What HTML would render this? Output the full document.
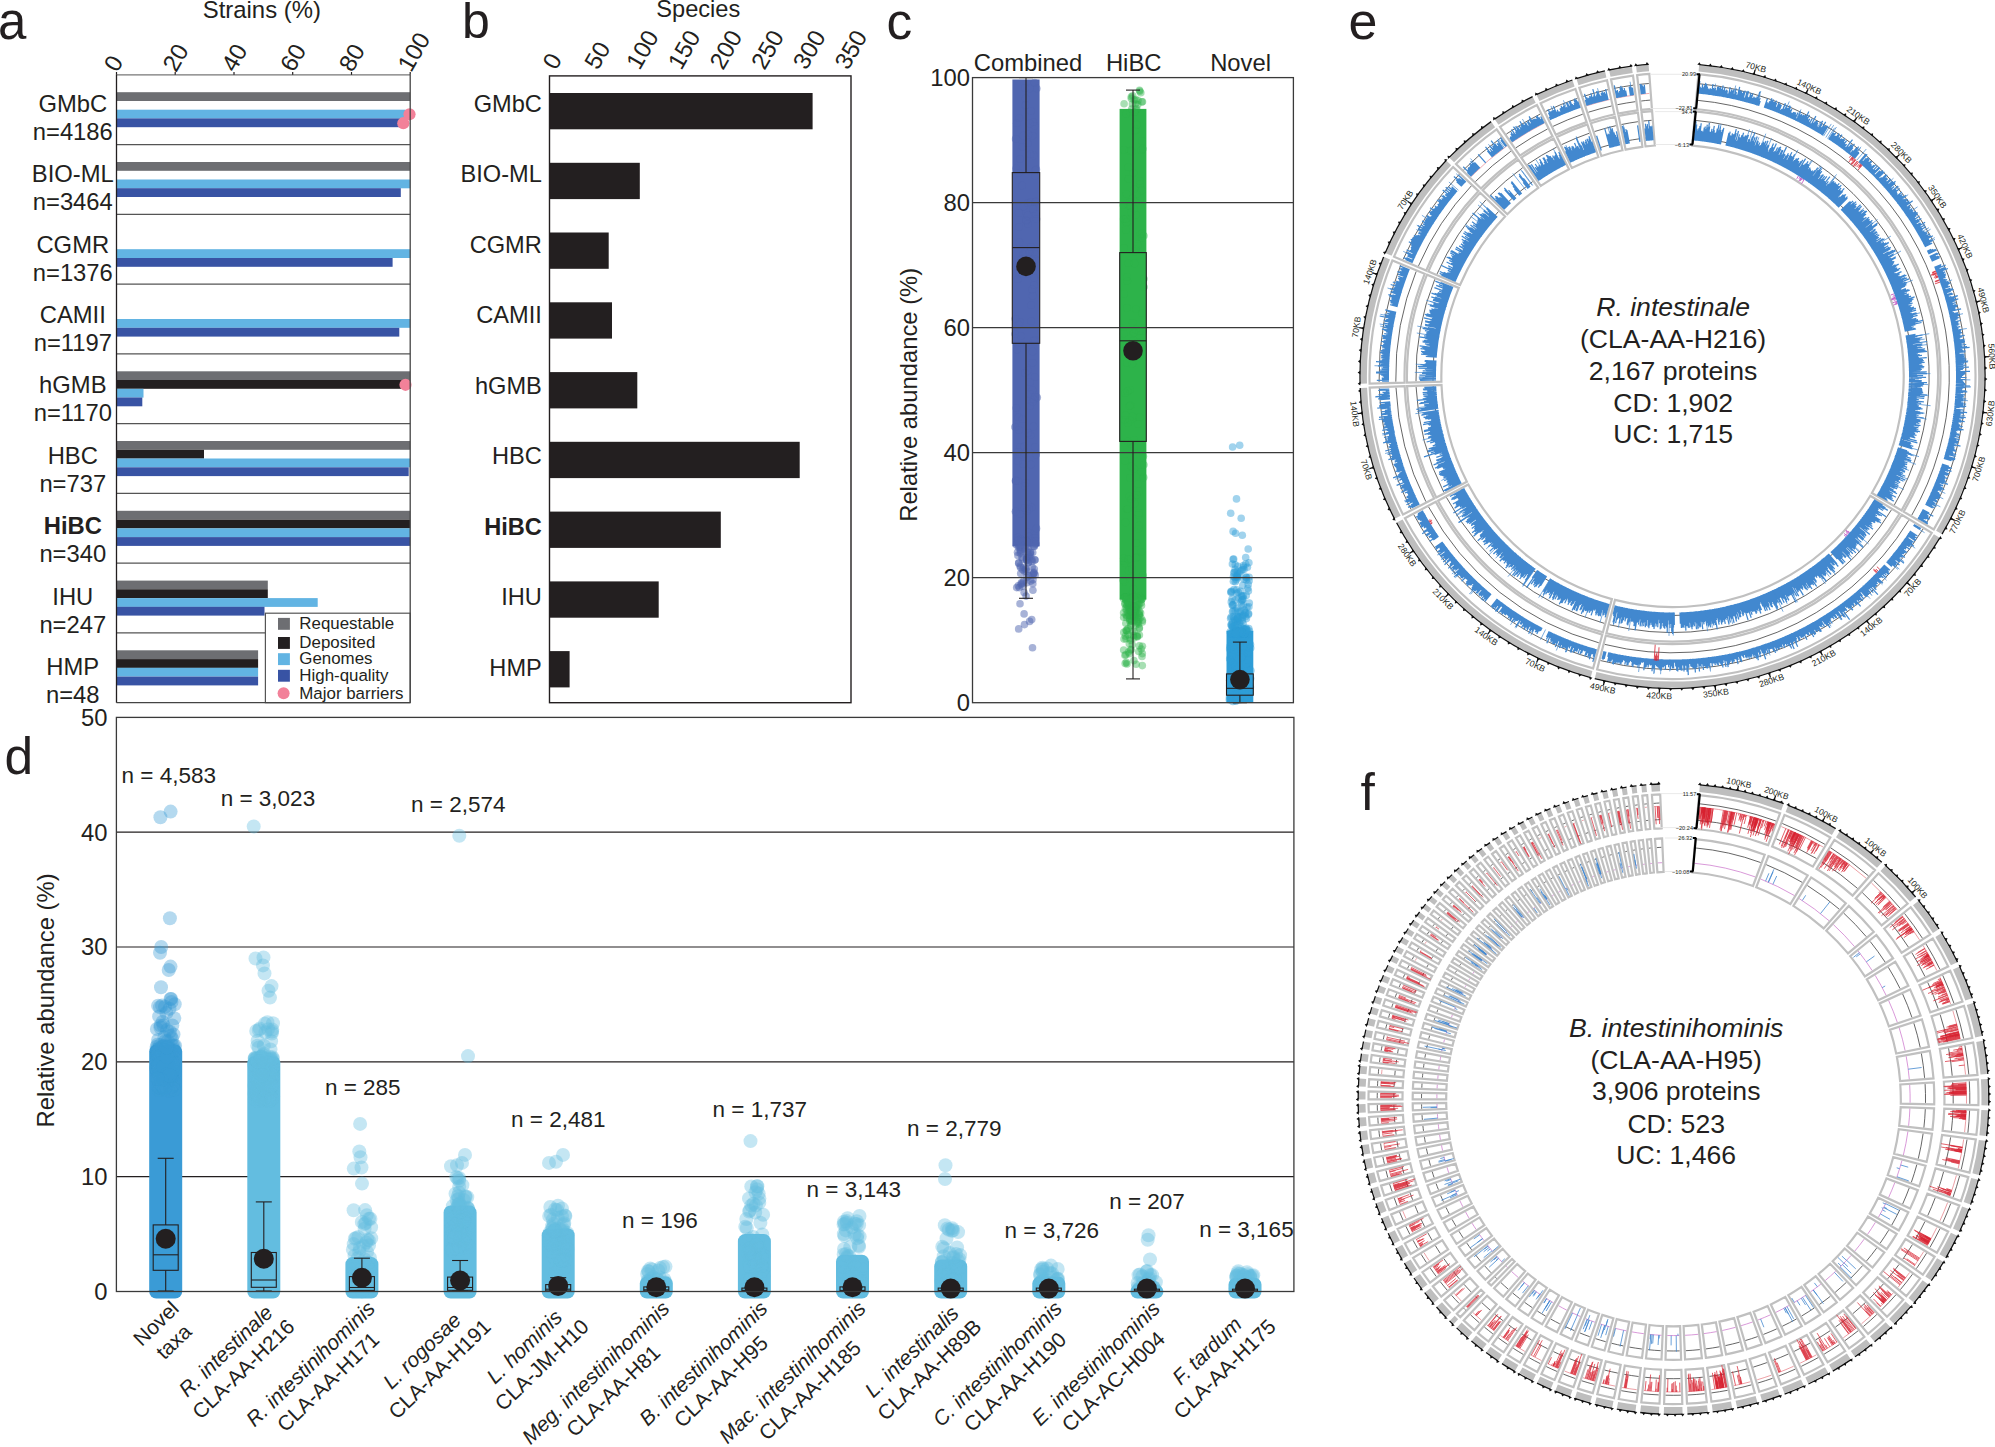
<!DOCTYPE html>
<html><head><meta charset="utf-8"><style>
html,body{margin:0;padding:0;background:#fff;}
svg{display:block;}
text{font-family:"Liberation Sans",Arial,sans-serif;fill:#231f20;}
</style></head><body>
<svg width="1995" height="1447" viewBox="0 0 1995 1447">
<text x="-2" y="38.5" font-size="51">a</text>
<text x="462" y="38.3" font-size="50">b</text>
<text x="886.5" y="38.6" font-size="51.5">c</text>
<text x="4.5" y="773.6" font-size="51.5">d</text>
<text x="1348.5" y="38.8" font-size="52">e</text>
<text x="1360.5" y="809.9" font-size="51.5">f</text>
<rect x="116.5" y="92.2" width="293.7" height="8.8" fill="#6d6e72"/>
<rect x="116.5" y="109.7" width="289" height="8.8" fill="#62b4e3"/>
<rect x="116.5" y="118.4" width="283.7" height="8.8" fill="#3853a4"/>
<rect x="116.5" y="162" width="293.7" height="8.8" fill="#6d6e72"/>
<rect x="116.5" y="179.5" width="293.7" height="8.8" fill="#62b4e3"/>
<rect x="116.5" y="188.2" width="284.3" height="8.8" fill="#3853a4"/>
<rect x="116.5" y="249.2" width="293.7" height="8.8" fill="#62b4e3"/>
<rect x="116.5" y="258" width="276.1" height="8.8" fill="#3853a4"/>
<rect x="116.5" y="319" width="293.7" height="8.8" fill="#62b4e3"/>
<rect x="116.5" y="327.8" width="282.8" height="8.8" fill="#3853a4"/>
<rect x="116.5" y="371.3" width="293.7" height="8.8" fill="#6d6e72"/>
<rect x="116.5" y="380" width="293.7" height="8.8" fill="#231f20"/>
<rect x="116.5" y="388.8" width="27" height="8.8" fill="#62b4e3"/>
<rect x="116.5" y="397.5" width="25.8" height="8.8" fill="#3853a4"/>
<rect x="116.5" y="441" width="293.7" height="8.8" fill="#6d6e72"/>
<rect x="116.5" y="449.8" width="87.5" height="8.8" fill="#231f20"/>
<rect x="116.5" y="458.5" width="293.7" height="8.8" fill="#62b4e3"/>
<rect x="116.5" y="467.3" width="292.2" height="8.8" fill="#3853a4"/>
<rect x="116.5" y="510.8" width="293.7" height="8.8" fill="#6d6e72"/>
<rect x="116.5" y="519.6" width="293.7" height="8.8" fill="#231f20"/>
<rect x="116.5" y="528.3" width="293.7" height="8.8" fill="#62b4e3"/>
<rect x="116.5" y="537.1" width="293.7" height="8.8" fill="#3853a4"/>
<rect x="116.5" y="580.6" width="151.3" height="8.8" fill="#6d6e72"/>
<rect x="116.5" y="589.3" width="151.3" height="8.8" fill="#231f20"/>
<rect x="116.5" y="598.1" width="201.2" height="8.8" fill="#62b4e3"/>
<rect x="116.5" y="606.8" width="148" height="8.8" fill="#3853a4"/>
<rect x="116.5" y="650.3" width="141.6" height="8.8" fill="#6d6e72"/>
<rect x="116.5" y="659.1" width="141.6" height="8.8" fill="#231f20"/>
<rect x="116.5" y="667.8" width="141.6" height="8.8" fill="#62b4e3"/>
<rect x="116.5" y="676.6" width="141.6" height="8.8" fill="#3853a4"/>
<circle cx="409.5" cy="114.3" r="6.1" fill="#f28199"/>
<circle cx="403.3" cy="123.2" r="6.1" fill="#f28199"/>
<circle cx="405.5" cy="384.8" r="6.1" fill="#f28199"/>
<line x1="116.5" y1="144.6" x2="410.2" y2="144.6" stroke="#555" stroke-width="1.2"/>
<line x1="116.5" y1="214.3" x2="410.2" y2="214.3" stroke="#555" stroke-width="1.2"/>
<line x1="116.5" y1="284.1" x2="410.2" y2="284.1" stroke="#555" stroke-width="1.2"/>
<line x1="116.5" y1="353.9" x2="410.2" y2="353.9" stroke="#555" stroke-width="1.2"/>
<line x1="116.5" y1="423.6" x2="410.2" y2="423.6" stroke="#555" stroke-width="1.2"/>
<line x1="116.5" y1="493.4" x2="410.2" y2="493.4" stroke="#555" stroke-width="1.2"/>
<line x1="116.5" y1="563.2" x2="410.2" y2="563.2" stroke="#555" stroke-width="1.2"/>
<line x1="116.5" y1="632.9" x2="410.2" y2="632.9" stroke="#555" stroke-width="1.2"/>
<rect x="265.4" y="613.2" width="144.8" height="89.5" fill="#fff" stroke="#555" stroke-width="1.2"/>
<rect x="278" y="617.9" width="11.9" height="11.9" fill="#6d6e72"/>
<text x="299.3" y="629" font-size="16.9">Requestable</text>
<rect x="278" y="637" width="11.9" height="11.9" fill="#231f20"/>
<text x="299.3" y="648.1" font-size="16.9">Deposited</text>
<rect x="278" y="653.2" width="11.9" height="11.9" fill="#62b4e3"/>
<text x="299.3" y="664.3" font-size="16.9">Genomes</text>
<rect x="278" y="669.8" width="11.9" height="11.9" fill="#3853a4"/>
<text x="299.3" y="680.8" font-size="16.9">High-quality</text>
<circle cx="283.6" cy="693.3" r="6" fill="#f28199"/>
<text x="299.3" y="698.6" font-size="16.9">Major barriers</text>
<line x1="116.5" y1="74.8" x2="410.2" y2="74.8" stroke="#777" stroke-width="1.3"/>
<line x1="116.5" y1="74.8" x2="116.5" y2="702.7" stroke="#231f20" stroke-width="1.3"/>
<line x1="410.2" y1="74.8" x2="410.2" y2="702.7" stroke="#444" stroke-width="1.3"/>
<line x1="116.5" y1="702.7" x2="410.2" y2="702.7" stroke="#444" stroke-width="1.3"/>
<line x1="116.5" y1="72" x2="116.5" y2="74.8" stroke="#231f20" stroke-width="1.2"/>
<text x="117.3" y="73.3" font-size="24" transform="rotate(-60 117.3 73.3)">0</text>
<line x1="175.2" y1="72" x2="175.2" y2="74.8" stroke="#231f20" stroke-width="1.2"/>
<text x="176" y="73.3" font-size="24" transform="rotate(-60 176 73.3)">20</text>
<line x1="234" y1="72" x2="234" y2="74.8" stroke="#231f20" stroke-width="1.2"/>
<text x="234.8" y="73.3" font-size="24" transform="rotate(-60 234.8 73.3)">40</text>
<line x1="292.7" y1="72" x2="292.7" y2="74.8" stroke="#231f20" stroke-width="1.2"/>
<text x="293.5" y="73.3" font-size="24" transform="rotate(-60 293.5 73.3)">60</text>
<line x1="351.5" y1="72" x2="351.5" y2="74.8" stroke="#231f20" stroke-width="1.2"/>
<text x="352.3" y="73.3" font-size="24" transform="rotate(-60 352.3 73.3)">80</text>
<line x1="410.2" y1="72" x2="410.2" y2="74.8" stroke="#231f20" stroke-width="1.2"/>
<text x="411" y="73.3" font-size="24" transform="rotate(-60 411 73.3)">100</text>
<text x="261.8" y="18.4" font-size="23.9" text-anchor="middle">Strains (%)</text>
<text x="72.8" y="111.6" font-size="23.8" text-anchor="middle">GMbC</text>
<text x="72.8" y="139.6" font-size="23.8" text-anchor="middle">n=4186</text>
<text x="72.8" y="182.1" font-size="23.8" text-anchor="middle">BIO-ML</text>
<text x="72.8" y="210.1" font-size="23.8" text-anchor="middle">n=3464</text>
<text x="72.8" y="252.5" font-size="23.8" text-anchor="middle">CGMR</text>
<text x="72.8" y="280.5" font-size="23.8" text-anchor="middle">n=1376</text>
<text x="72.8" y="323" font-size="23.8" text-anchor="middle">CAMII</text>
<text x="72.8" y="351" font-size="23.8" text-anchor="middle">n=1197</text>
<text x="72.8" y="393.4" font-size="23.8" text-anchor="middle">hGMB</text>
<text x="72.8" y="421.4" font-size="23.8" text-anchor="middle">n=1170</text>
<text x="72.8" y="463.9" font-size="23.8" text-anchor="middle">HBC</text>
<text x="72.8" y="491.9" font-size="23.8" text-anchor="middle">n=737</text>
<text x="72.8" y="534.3" font-size="23.8" text-anchor="middle" font-weight="bold">HiBC</text>
<text x="72.8" y="562.3" font-size="23.8" text-anchor="middle">n=340</text>
<text x="72.8" y="604.8" font-size="23.8" text-anchor="middle">IHU</text>
<text x="72.8" y="632.8" font-size="23.8" text-anchor="middle">n=247</text>
<text x="72.8" y="675.2" font-size="23.8" text-anchor="middle">HMP</text>
<text x="72.8" y="703.2" font-size="23.8" text-anchor="middle">n=48</text>
<rect x="549.5" y="93" width="263.1" height="36.3" fill="#231f20"/>
<rect x="549.5" y="162.8" width="90.3" height="36.3" fill="#231f20"/>
<rect x="549.5" y="232.5" width="59.2" height="36.3" fill="#231f20"/>
<rect x="549.5" y="302.3" width="62.5" height="36.3" fill="#231f20"/>
<rect x="549.5" y="372.1" width="87.8" height="36.3" fill="#231f20"/>
<rect x="549.5" y="441.8" width="250.2" height="36.3" fill="#231f20"/>
<rect x="549.5" y="511.6" width="171.3" height="36.3" fill="#231f20"/>
<rect x="549.5" y="581.4" width="109.2" height="36.3" fill="#231f20"/>
<rect x="549.5" y="651.1" width="20.1" height="36.3" fill="#231f20"/>
<rect x="549.5" y="75.9" width="301.5" height="626.8000000000001" fill="none" stroke="#231f20" stroke-width="1.4"/>
<text x="556.1" y="71" font-size="24" transform="rotate(-60 556.1 71)">0</text>
<text x="597.8" y="71" font-size="24" transform="rotate(-60 597.8 71)">50</text>
<text x="639.5" y="71" font-size="24" transform="rotate(-60 639.5 71)">100</text>
<text x="681.2" y="71" font-size="24" transform="rotate(-60 681.2 71)">150</text>
<text x="722.9" y="71" font-size="24" transform="rotate(-60 722.9 71)">200</text>
<text x="764.6" y="71" font-size="24" transform="rotate(-60 764.6 71)">250</text>
<text x="806.3" y="71" font-size="24" transform="rotate(-60 806.3 71)">300</text>
<text x="848" y="71" font-size="24" transform="rotate(-60 848 71)">350</text>
<text x="698.3" y="16.5" font-size="23.6" text-anchor="middle">Species</text>
<text x="541.8" y="111.9" font-size="23.6" text-anchor="end">GMbC</text>
<text x="541.8" y="182.4" font-size="23.6" text-anchor="end">BIO-ML</text>
<text x="541.8" y="252.8" font-size="23.6" text-anchor="end">CGMR</text>
<text x="541.8" y="323.2" font-size="23.6" text-anchor="end">CAMII</text>
<text x="541.8" y="393.7" font-size="23.6" text-anchor="end">hGMB</text>
<text x="541.8" y="464.1" font-size="23.6" text-anchor="end">HBC</text>
<text x="541.8" y="534.6" font-size="23.6" text-anchor="end" font-weight="bold">HiBC</text>
<text x="541.8" y="605.1" font-size="23.6" text-anchor="end">IHU</text>
<text x="541.8" y="675.5" font-size="23.6" text-anchor="end">HMP</text>
<rect x="1012.4" y="79.5" width="27.2" height="466.9" fill="#5066b0"/>
<g fill="#5066b0" fill-opacity="0.5"><circle cx="1020.5" cy="446.9" r="3.8"/><circle cx="1022.1" cy="185.6" r="3.8"/><circle cx="1016.3" cy="408.1" r="3.8"/><circle cx="1027.9" cy="504.3" r="3.8"/><circle cx="1028.3" cy="433" r="3.8"/><circle cx="1024.9" cy="372.9" r="3.8"/><circle cx="1025.6" cy="98.6" r="3.8"/><circle cx="1034.3" cy="278.1" r="3.8"/><circle cx="1018.2" cy="461.1" r="3.8"/><circle cx="1033.2" cy="122.2" r="3.8"/><circle cx="1019" cy="429.9" r="3.8"/><circle cx="1036" cy="201.2" r="3.8"/><circle cx="1036.2" cy="454.6" r="3.8"/><circle cx="1028.3" cy="134.5" r="3.8"/><circle cx="1017" cy="349.6" r="3.8"/><circle cx="1036.5" cy="528.4" r="3.8"/><circle cx="1030.6" cy="435.1" r="3.8"/><circle cx="1033.3" cy="426.4" r="3.8"/><circle cx="1021.3" cy="267.9" r="3.8"/><circle cx="1031" cy="464.5" r="3.8"/><circle cx="1019.9" cy="514.3" r="3.8"/><circle cx="1034" cy="285.2" r="3.8"/><circle cx="1021" cy="259.6" r="3.8"/><circle cx="1019.3" cy="118.1" r="3.8"/><circle cx="1020.8" cy="538.7" r="3.8"/><circle cx="1016" cy="338.3" r="3.8"/><circle cx="1023" cy="464.1" r="3.8"/><circle cx="1017.7" cy="279.3" r="3.8"/><circle cx="1034.9" cy="377.3" r="3.8"/><circle cx="1029.6" cy="88.6" r="3.8"/><circle cx="1027.9" cy="223.7" r="3.8"/><circle cx="1015.5" cy="480.9" r="3.8"/><circle cx="1035.3" cy="538.1" r="3.8"/><circle cx="1036.5" cy="219.1" r="3.8"/><circle cx="1029.1" cy="536.5" r="3.8"/><circle cx="1031.2" cy="321.2" r="3.8"/><circle cx="1037.3" cy="397.5" r="3.8"/><circle cx="1027" cy="511.3" r="3.8"/><circle cx="1035.1" cy="202.3" r="3.8"/><circle cx="1030.6" cy="202.2" r="3.8"/><circle cx="1035.4" cy="176" r="3.8"/><circle cx="1030.2" cy="382.1" r="3.8"/><circle cx="1034.4" cy="125.8" r="3.8"/><circle cx="1032.6" cy="351.6" r="3.8"/><circle cx="1027.6" cy="143.2" r="3.8"/><circle cx="1023.3" cy="254.6" r="3.8"/><circle cx="1028.5" cy="274.3" r="3.8"/><circle cx="1029.2" cy="509" r="3.8"/><circle cx="1034.6" cy="82.6" r="3.8"/><circle cx="1023.5" cy="206.4" r="3.8"/><circle cx="1027.8" cy="203.2" r="3.8"/><circle cx="1033.7" cy="340.7" r="3.8"/><circle cx="1031.7" cy="507.3" r="3.8"/><circle cx="1028.3" cy="532.5" r="3.8"/><circle cx="1019.9" cy="321.8" r="3.8"/><circle cx="1025.9" cy="220.3" r="3.8"/><circle cx="1035.5" cy="259.5" r="3.8"/><circle cx="1014.9" cy="427" r="3.8"/><circle cx="1030" cy="405.9" r="3.8"/><circle cx="1018.5" cy="451.8" r="3.8"/><circle cx="1029.6" cy="123.5" r="3.8"/><circle cx="1034.9" cy="340.1" r="3.8"/><circle cx="1029.8" cy="393.8" r="3.8"/><circle cx="1024.4" cy="453.7" r="3.8"/><circle cx="1035.4" cy="170.1" r="3.8"/><circle cx="1023.4" cy="135.4" r="3.8"/><circle cx="1021.8" cy="274.1" r="3.8"/><circle cx="1025.9" cy="482.8" r="3.8"/><circle cx="1033.9" cy="155.5" r="3.8"/><circle cx="1036.2" cy="214.3" r="3.8"/><circle cx="1018.5" cy="417.2" r="3.8"/><circle cx="1020.9" cy="336" r="3.8"/><circle cx="1024.1" cy="446.5" r="3.8"/><circle cx="1025.9" cy="254.2" r="3.8"/><circle cx="1033.7" cy="399.2" r="3.8"/><circle cx="1024.9" cy="87.9" r="3.8"/><circle cx="1015.4" cy="511.6" r="3.8"/><circle cx="1015.6" cy="138.9" r="3.8"/><circle cx="1027.6" cy="215.5" r="3.8"/><circle cx="1032.6" cy="402.1" r="3.8"/><circle cx="1017.8" cy="537.5" r="3.8"/><circle cx="1015.2" cy="334" r="3.8"/><circle cx="1020.1" cy="159" r="3.8"/><circle cx="1015.7" cy="480.6" r="3.8"/><circle cx="1024.8" cy="252.6" r="3.8"/><circle cx="1029.5" cy="252.3" r="3.8"/><circle cx="1036.4" cy="169.4" r="3.8"/><circle cx="1019.2" cy="226.8" r="3.8"/><circle cx="1018.7" cy="324.6" r="3.8"/><circle cx="1025.4" cy="541.4" r="3.8"/><circle cx="1018.7" cy="212.9" r="3.8"/><circle cx="1022.5" cy="419.2" r="3.8"/><circle cx="1026.5" cy="220.8" r="3.8"/><circle cx="1031.8" cy="259.5" r="3.8"/><circle cx="1032.6" cy="362.7" r="3.8"/><circle cx="1016.7" cy="123.3" r="3.8"/><circle cx="1031" cy="110.9" r="3.8"/><circle cx="1024.9" cy="485.8" r="3.8"/><circle cx="1035.3" cy="254.3" r="3.8"/><circle cx="1027.6" cy="370.5" r="3.8"/><circle cx="1032.7" cy="135.8" r="3.8"/><circle cx="1025.2" cy="105.5" r="3.8"/><circle cx="1019.3" cy="242.3" r="3.8"/><circle cx="1033.2" cy="209.3" r="3.8"/><circle cx="1030.9" cy="246.8" r="3.8"/><circle cx="1035.1" cy="446.8" r="3.8"/><circle cx="1036.8" cy="88.6" r="3.8"/><circle cx="1032.6" cy="295.7" r="3.8"/><circle cx="1035.3" cy="396.8" r="3.8"/><circle cx="1022.6" cy="146.8" r="3.8"/><circle cx="1024.7" cy="507.8" r="3.8"/><circle cx="1032.1" cy="289.5" r="3.8"/><circle cx="1015.3" cy="318.8" r="3.8"/><circle cx="1016.1" cy="168.6" r="3.8"/><circle cx="1018.6" cy="172.9" r="3.8"/><circle cx="1032.5" cy="390" r="3.8"/><circle cx="1018" cy="480.8" r="3.8"/><circle cx="1031.1" cy="305.2" r="3.8"/><circle cx="1030.3" cy="154.2" r="3.8"/><circle cx="1025.8" cy="104.8" r="3.8"/><circle cx="1034.8" cy="560" r="3.8"/><circle cx="1017.9" cy="555.4" r="3.8"/><circle cx="1020.5" cy="542.5" r="3.8"/><circle cx="1026.5" cy="559.4" r="3.8"/><circle cx="1021.9" cy="557.6" r="3.8"/><circle cx="1030.5" cy="554.3" r="3.8"/><circle cx="1028.7" cy="575.4" r="3.8"/><circle cx="1026.4" cy="557.4" r="3.8"/><circle cx="1032.7" cy="552.6" r="3.8"/><circle cx="1027.2" cy="546.7" r="3.8"/><circle cx="1022.3" cy="583.4" r="3.8"/><circle cx="1023.7" cy="567.6" r="3.8"/><circle cx="1032.8" cy="583.8" r="3.8"/><circle cx="1033.9" cy="546.2" r="3.8"/><circle cx="1020.3" cy="550.2" r="3.8"/><circle cx="1032.9" cy="590.3" r="3.8"/><circle cx="1035.2" cy="540.7" r="3.8"/><circle cx="1026.5" cy="541.2" r="3.8"/><circle cx="1027.4" cy="551.7" r="3.8"/><circle cx="1020.1" cy="553.2" r="3.8"/><circle cx="1026.7" cy="577.5" r="3.8"/><circle cx="1026.1" cy="596.1" r="3.8"/><circle cx="1028.1" cy="556.7" r="3.8"/><circle cx="1016.7" cy="587.6" r="3.8"/><circle cx="1035.2" cy="574.9" r="3.8"/><circle cx="1026.3" cy="571.4" r="3.8"/><circle cx="1024.1" cy="592.5" r="3.8"/><circle cx="1031.9" cy="559.5" r="3.8"/><circle cx="1027.2" cy="560.6" r="3.8"/><circle cx="1025.8" cy="545.1" r="3.8"/><circle cx="1029.7" cy="557.1" r="3.8"/><circle cx="1017.5" cy="552.2" r="3.8"/><circle cx="1026.8" cy="557.9" r="3.8"/><circle cx="1024.3" cy="551.4" r="3.8"/><circle cx="1035" cy="559.8" r="3.8"/><circle cx="1034.3" cy="569.1" r="3.8"/><circle cx="1021.5" cy="540.2" r="3.8"/><circle cx="1025.5" cy="540.3" r="3.8"/><circle cx="1018.7" cy="545.2" r="3.8"/><circle cx="1024.7" cy="549.7" r="3.8"/><circle cx="1032.2" cy="567" r="3.8"/><circle cx="1033.9" cy="572.2" r="3.8"/><circle cx="1025.5" cy="568.5" r="3.8"/><circle cx="1022.4" cy="586.2" r="3.8"/><circle cx="1020" cy="547.7" r="3.8"/><circle cx="1028.3" cy="562.5" r="3.8"/><circle cx="1034.3" cy="545" r="3.8"/><circle cx="1018.7" cy="563.2" r="3.8"/><circle cx="1031.5" cy="541.4" r="3.8"/><circle cx="1016.6" cy="544.9" r="3.8"/><circle cx="1020" cy="603.7" r="3.8"/><circle cx="1020.7" cy="573.5" r="3.8"/><circle cx="1029.7" cy="542.9" r="3.8"/><circle cx="1022.5" cy="559.2" r="3.8"/><circle cx="1023.2" cy="540.8" r="3.8"/><circle cx="1028.3" cy="562.7" r="3.8"/><circle cx="1018.3" cy="585.8" r="3.8"/><circle cx="1030.5" cy="552.6" r="3.8"/><circle cx="1018.6" cy="547.2" r="3.8"/><circle cx="1026.2" cy="569.6" r="3.8"/><circle cx="1021.1" cy="584.2" r="3.8"/><circle cx="1020.1" cy="566" r="3.8"/><circle cx="1026.6" cy="541.3" r="3.8"/><circle cx="1024.8" cy="547.9" r="3.8"/><circle cx="1023.6" cy="581" r="3.8"/><circle cx="1024.3" cy="571.1" r="3.8"/><circle cx="1026.6" cy="582.7" r="3.8"/><circle cx="1019.3" cy="587.6" r="3.8"/><circle cx="1020.2" cy="546.6" r="3.8"/><circle cx="1028.6" cy="575.9" r="3.8"/><circle cx="1028.7" cy="555.4" r="3.8"/><circle cx="1026.6" cy="560.3" r="3.8"/><circle cx="1032.9" cy="574.9" r="3.8"/><circle cx="1028.2" cy="548.9" r="3.8"/><circle cx="1033" cy="579.8" r="3.8"/><circle cx="1020.8" cy="552.1" r="3.8"/><circle cx="1030.7" cy="581.1" r="3.8"/><circle cx="1032.1" cy="561.5" r="3.8"/><circle cx="1033.9" cy="573.3" r="3.8"/><circle cx="1022.4" cy="569.6" r="3.8"/><circle cx="1022.4" cy="541" r="3.8"/><circle cx="1034.3" cy="546.4" r="3.8"/><circle cx="1020.5" cy="567.6" r="3.8"/><circle cx="1035.8" cy="543.7" r="3.8"/><circle cx="1033.6" cy="573.5" r="3.8"/><circle cx="1018.8" cy="562.8" r="3.8"/><circle cx="1020.9" cy="544.7" r="3.8"/><circle cx="1030.4" cy="552.2" r="3.8"/><circle cx="1021.3" cy="582.7" r="3.8"/><circle cx="1018.1" cy="540.5" r="3.8"/><circle cx="1032.5" cy="647.7" r="3.8"/><circle cx="1024.5" cy="624.6" r="3.8"/><circle cx="1031.7" cy="619.6" r="3.8"/><circle cx="1018.7" cy="628.9" r="3.8"/><circle cx="1024.1" cy="613.9" r="3.8"/><circle cx="1029.6" cy="621.4" r="3.8"/></g>
<rect x="1119.6" y="108.9" width="26.8" height="490.7" fill="#2db34a"/>
<g fill="#2db34a" fill-opacity="0.42"><circle cx="1135.8" cy="214.7" r="3.8"/><circle cx="1127.9" cy="423.3" r="3.8"/><circle cx="1134.4" cy="263.4" r="3.8"/><circle cx="1136" cy="309.2" r="3.8"/><circle cx="1126.1" cy="229.9" r="3.8"/><circle cx="1143.7" cy="477.4" r="3.8"/><circle cx="1141.4" cy="150.2" r="3.8"/><circle cx="1123.2" cy="580.2" r="3.8"/><circle cx="1131.3" cy="466.6" r="3.8"/><circle cx="1124.2" cy="293.7" r="3.8"/><circle cx="1123.5" cy="333.8" r="3.8"/><circle cx="1136.9" cy="557.1" r="3.8"/><circle cx="1135.9" cy="329.4" r="3.8"/><circle cx="1132.5" cy="416.4" r="3.8"/><circle cx="1129.5" cy="496.2" r="3.8"/><circle cx="1140.5" cy="234.1" r="3.8"/><circle cx="1124.5" cy="563.1" r="3.8"/><circle cx="1135.8" cy="202.5" r="3.8"/><circle cx="1126.6" cy="222.3" r="3.8"/><circle cx="1127.6" cy="391.3" r="3.8"/><circle cx="1130.1" cy="202.1" r="3.8"/><circle cx="1143.9" cy="278.8" r="3.8"/><circle cx="1134.1" cy="439.9" r="3.8"/><circle cx="1142.4" cy="233.4" r="3.8"/><circle cx="1130.1" cy="389.7" r="3.8"/><circle cx="1141.3" cy="552" r="3.8"/><circle cx="1123.7" cy="561" r="3.8"/><circle cx="1132.7" cy="322.7" r="3.8"/><circle cx="1128.5" cy="263.3" r="3.8"/><circle cx="1123.6" cy="219" r="3.8"/><circle cx="1136.6" cy="494.9" r="3.8"/><circle cx="1128.6" cy="559.5" r="3.8"/><circle cx="1137.3" cy="243.8" r="3.8"/><circle cx="1125.1" cy="460.7" r="3.8"/><circle cx="1138" cy="424" r="3.8"/><circle cx="1124.5" cy="419.8" r="3.8"/><circle cx="1134.5" cy="251.5" r="3.8"/><circle cx="1142.8" cy="148.8" r="3.8"/><circle cx="1131.6" cy="151.4" r="3.8"/><circle cx="1128.7" cy="205.5" r="3.8"/><circle cx="1130.8" cy="443.7" r="3.8"/><circle cx="1141.8" cy="140.9" r="3.8"/><circle cx="1129.9" cy="477.7" r="3.8"/><circle cx="1130" cy="420.2" r="3.8"/><circle cx="1130.5" cy="405.4" r="3.8"/><circle cx="1134.4" cy="503.9" r="3.8"/><circle cx="1133.9" cy="208.4" r="3.8"/><circle cx="1134.4" cy="189.1" r="3.8"/><circle cx="1138.8" cy="512.9" r="3.8"/><circle cx="1128.1" cy="167.3" r="3.8"/><circle cx="1133.3" cy="588.7" r="3.8"/><circle cx="1134.5" cy="332.5" r="3.8"/><circle cx="1136.4" cy="125.3" r="3.8"/><circle cx="1123.3" cy="204.9" r="3.8"/><circle cx="1139.4" cy="331.2" r="3.8"/><circle cx="1123.7" cy="558.3" r="3.8"/><circle cx="1141.9" cy="237.9" r="3.8"/><circle cx="1136" cy="558" r="3.8"/><circle cx="1138.5" cy="529" r="3.8"/><circle cx="1127.3" cy="281.1" r="3.8"/><circle cx="1138.9" cy="491.4" r="3.8"/><circle cx="1138.9" cy="343.6" r="3.8"/><circle cx="1129.4" cy="406" r="3.8"/><circle cx="1136.8" cy="124.4" r="3.8"/><circle cx="1133.8" cy="357.3" r="3.8"/><circle cx="1137.6" cy="245.8" r="3.8"/><circle cx="1131" cy="150.6" r="3.8"/><circle cx="1136.7" cy="194.1" r="3.8"/><circle cx="1139.8" cy="180.7" r="3.8"/><circle cx="1141.6" cy="190.4" r="3.8"/><circle cx="1136.1" cy="129.6" r="3.8"/><circle cx="1137.7" cy="342.5" r="3.8"/><circle cx="1131.3" cy="205.9" r="3.8"/><circle cx="1125.1" cy="393.2" r="3.8"/><circle cx="1143.9" cy="235.8" r="3.8"/><circle cx="1125.6" cy="415.3" r="3.8"/><circle cx="1131.3" cy="499.3" r="3.8"/><circle cx="1143.4" cy="456.3" r="3.8"/><circle cx="1128.7" cy="570.5" r="3.8"/><circle cx="1136.3" cy="543.2" r="3.8"/><circle cx="1125.9" cy="218.8" r="3.8"/><circle cx="1132.1" cy="569" r="3.8"/><circle cx="1142.1" cy="313" r="3.8"/><circle cx="1124.3" cy="581.7" r="3.8"/><circle cx="1126.7" cy="509" r="3.8"/><circle cx="1137.8" cy="484" r="3.8"/><circle cx="1126.9" cy="307.7" r="3.8"/><circle cx="1128.1" cy="508.8" r="3.8"/><circle cx="1138.7" cy="514.9" r="3.8"/><circle cx="1134.1" cy="446.6" r="3.8"/><circle cx="1132.5" cy="198.6" r="3.8"/><circle cx="1141.6" cy="471.7" r="3.8"/><circle cx="1129.5" cy="150.9" r="3.8"/><circle cx="1143.2" cy="331" r="3.8"/><circle cx="1126.8" cy="362.7" r="3.8"/><circle cx="1143" cy="575.2" r="3.8"/><circle cx="1130.4" cy="206.3" r="3.8"/><circle cx="1133.4" cy="340.7" r="3.8"/><circle cx="1143.9" cy="464.8" r="3.8"/><circle cx="1127.2" cy="276.9" r="3.8"/><circle cx="1132.4" cy="594.2" r="3.8"/><circle cx="1139.6" cy="417.2" r="3.8"/><circle cx="1135.4" cy="249.5" r="3.8"/><circle cx="1125.4" cy="522.4" r="3.8"/><circle cx="1127.6" cy="441.6" r="3.8"/><circle cx="1133.4" cy="173" r="3.8"/><circle cx="1144" cy="287" r="3.8"/><circle cx="1133.8" cy="468.8" r="3.8"/><circle cx="1139" cy="525.6" r="3.8"/><circle cx="1140.1" cy="598.9" r="3.8"/><circle cx="1140.2" cy="184.3" r="3.8"/><circle cx="1127.9" cy="559.1" r="3.8"/><circle cx="1124" cy="248" r="3.8"/><circle cx="1132.3" cy="364" r="3.8"/><circle cx="1134.9" cy="130.7" r="3.8"/><circle cx="1128.6" cy="178.9" r="3.8"/><circle cx="1131.2" cy="212.2" r="3.8"/><circle cx="1123.9" cy="149.7" r="3.8"/><circle cx="1126.5" cy="194.1" r="3.8"/><circle cx="1133.6" cy="332.9" r="3.8"/><circle cx="1126.4" cy="662.4" r="3.8"/><circle cx="1139.4" cy="635" r="3.8"/><circle cx="1129.4" cy="607.9" r="3.8"/><circle cx="1129.4" cy="599.4" r="3.8"/><circle cx="1124.9" cy="597.5" r="3.8"/><circle cx="1129.3" cy="643.7" r="3.8"/><circle cx="1132.4" cy="615.8" r="3.8"/><circle cx="1137.1" cy="604.9" r="3.8"/><circle cx="1130.3" cy="615.9" r="3.8"/><circle cx="1136.6" cy="607.7" r="3.8"/><circle cx="1125.4" cy="636.1" r="3.8"/><circle cx="1131" cy="650" r="3.8"/><circle cx="1132.3" cy="644.8" r="3.8"/><circle cx="1142" cy="656.5" r="3.8"/><circle cx="1139.3" cy="613.6" r="3.8"/><circle cx="1136" cy="615.3" r="3.8"/><circle cx="1123.6" cy="612.8" r="3.8"/><circle cx="1130.6" cy="640.2" r="3.8"/><circle cx="1137" cy="636.5" r="3.8"/><circle cx="1128" cy="634.8" r="3.8"/><circle cx="1134.2" cy="601.9" r="3.8"/><circle cx="1132.2" cy="596.7" r="3.8"/><circle cx="1123.6" cy="598.8" r="3.8"/><circle cx="1142.4" cy="646.3" r="3.8"/><circle cx="1138.7" cy="651.5" r="3.8"/><circle cx="1127.4" cy="598" r="3.8"/><circle cx="1135.2" cy="618" r="3.8"/><circle cx="1129" cy="604.6" r="3.8"/><circle cx="1130.6" cy="625.7" r="3.8"/><circle cx="1133.8" cy="617.7" r="3.8"/><circle cx="1129.1" cy="615.3" r="3.8"/><circle cx="1129.9" cy="619.6" r="3.8"/><circle cx="1130.9" cy="611.3" r="3.8"/><circle cx="1136.2" cy="664.3" r="3.8"/><circle cx="1128.3" cy="607.1" r="3.8"/><circle cx="1127.2" cy="601.7" r="3.8"/><circle cx="1137.4" cy="636.8" r="3.8"/><circle cx="1129.7" cy="618.4" r="3.8"/><circle cx="1141.5" cy="605.6" r="3.8"/><circle cx="1134.2" cy="621" r="3.8"/><circle cx="1137.3" cy="635.5" r="3.8"/><circle cx="1129.8" cy="638.3" r="3.8"/><circle cx="1139.3" cy="615.4" r="3.8"/><circle cx="1125.2" cy="663.4" r="3.8"/><circle cx="1126.1" cy="600" r="3.8"/><circle cx="1125.2" cy="603.3" r="3.8"/><circle cx="1136.4" cy="607" r="3.8"/><circle cx="1137" cy="601.1" r="3.8"/><circle cx="1126.9" cy="610.1" r="3.8"/><circle cx="1131.1" cy="621.1" r="3.8"/><circle cx="1139.5" cy="611.4" r="3.8"/><circle cx="1134.8" cy="615.8" r="3.8"/><circle cx="1125.1" cy="597" r="3.8"/><circle cx="1127.8" cy="603.1" r="3.8"/><circle cx="1126.4" cy="630.4" r="3.8"/><circle cx="1125.8" cy="599.4" r="3.8"/><circle cx="1131.2" cy="605.4" r="3.8"/><circle cx="1124.8" cy="604.1" r="3.8"/><circle cx="1141.1" cy="602.8" r="3.8"/><circle cx="1131.6" cy="621" r="3.8"/><circle cx="1133.2" cy="599.9" r="3.8"/><circle cx="1135.8" cy="600.5" r="3.8"/><circle cx="1138.1" cy="607.4" r="3.8"/><circle cx="1139.2" cy="604.5" r="3.8"/><circle cx="1130.8" cy="604.6" r="3.8"/><circle cx="1129.8" cy="621" r="3.8"/><circle cx="1131.3" cy="606.3" r="3.8"/><circle cx="1123.7" cy="650" r="3.8"/><circle cx="1131.1" cy="624.8" r="3.8"/><circle cx="1136.8" cy="617.6" r="3.8"/><circle cx="1142.3" cy="665.6" r="3.8"/><circle cx="1138.6" cy="623.9" r="3.8"/><circle cx="1136.1" cy="609.7" r="3.8"/><circle cx="1135.1" cy="610.3" r="3.8"/><circle cx="1123.8" cy="632.4" r="3.8"/><circle cx="1129.8" cy="598.2" r="3.8"/><circle cx="1130" cy="608.6" r="3.8"/><circle cx="1135.9" cy="625" r="3.8"/><circle cx="1125.4" cy="608.8" r="3.8"/><circle cx="1130.7" cy="612.7" r="3.8"/><circle cx="1133.2" cy="614.4" r="3.8"/><circle cx="1138.5" cy="621.9" r="3.8"/><circle cx="1139.2" cy="596.4" r="3.8"/><circle cx="1135.1" cy="609.5" r="3.8"/><circle cx="1126.4" cy="607.1" r="3.8"/><circle cx="1138.1" cy="604.8" r="3.8"/><circle cx="1140.7" cy="597.1" r="3.8"/><circle cx="1133.9" cy="660.6" r="3.8"/><circle cx="1130.2" cy="610.7" r="3.8"/><circle cx="1133" cy="605.6" r="3.8"/><circle cx="1126.1" cy="630.6" r="3.8"/><circle cx="1137.1" cy="621.2" r="3.8"/><circle cx="1142.3" cy="653.6" r="3.8"/><circle cx="1133.3" cy="635.5" r="3.8"/><circle cx="1137.1" cy="622.7" r="3.8"/><circle cx="1139.4" cy="645.9" r="3.8"/><circle cx="1127.2" cy="631" r="3.8"/><circle cx="1141.5" cy="599.6" r="3.8"/><circle cx="1135.4" cy="613.6" r="3.8"/><circle cx="1127.2" cy="615.7" r="3.8"/><circle cx="1125" cy="597.5" r="3.8"/><circle cx="1128.1" cy="612.8" r="3.8"/><circle cx="1134.5" cy="596.6" r="3.8"/><circle cx="1136.8" cy="609.7" r="3.8"/><circle cx="1129.7" cy="603" r="3.8"/><circle cx="1141.2" cy="649.1" r="3.8"/><circle cx="1130.3" cy="611.5" r="3.8"/><circle cx="1132.3" cy="604.9" r="3.8"/><circle cx="1125.8" cy="654.8" r="3.8"/><circle cx="1142.1" cy="598.7" r="3.8"/><circle cx="1126" cy="638.8" r="3.8"/><circle cx="1140.8" cy="617.5" r="3.8"/><circle cx="1133.8" cy="637.9" r="3.8"/><circle cx="1134.2" cy="616.3" r="3.8"/><circle cx="1134.2" cy="610.9" r="3.8"/><circle cx="1128.5" cy="652.1" r="3.8"/><circle cx="1140.9" cy="598.2" r="3.8"/><circle cx="1142.4" cy="620.2" r="3.8"/><circle cx="1139.1" cy="614.7" r="3.8"/><circle cx="1134.9" cy="611.5" r="3.8"/><circle cx="1125.8" cy="623.3" r="3.8"/><circle cx="1139.2" cy="628.5" r="3.8"/><circle cx="1128.9" cy="609" r="3.8"/><circle cx="1140.6" cy="613.1" r="3.8"/><circle cx="1128" cy="628.6" r="3.8"/><circle cx="1134.4" cy="606.5" r="3.8"/><circle cx="1139.4" cy="627.7" r="3.8"/><circle cx="1127" cy="664" r="3.8"/><circle cx="1133.9" cy="631.4" r="3.8"/><circle cx="1124.9" cy="655.3" r="3.8"/><circle cx="1124" cy="639.1" r="3.8"/><circle cx="1126.9" cy="605" r="3.8"/><circle cx="1142.4" cy="621.9" r="3.8"/><circle cx="1141.4" cy="599.8" r="3.8"/><circle cx="1136" cy="605.3" r="3.8"/><circle cx="1129.3" cy="653.7" r="3.8"/><circle cx="1136.3" cy="596.8" r="3.8"/><circle cx="1137.6" cy="598.3" r="3.8"/><circle cx="1130.7" cy="649.5" r="3.8"/><circle cx="1134.8" cy="599.6" r="3.8"/><circle cx="1138.8" cy="619.7" r="3.8"/><circle cx="1123.7" cy="617.2" r="3.8"/><circle cx="1127.2" cy="597.3" r="3.8"/><circle cx="1132.4" cy="631.5" r="3.8"/><circle cx="1126.1" cy="614.9" r="3.8"/><circle cx="1130.8" cy="598.5" r="3.8"/><circle cx="1134.3" cy="606.3" r="3.8"/><circle cx="1126.7" cy="617.6" r="3.8"/><circle cx="1133.4" cy="597.1" r="3.8"/><circle cx="1128.5" cy="602.7" r="3.8"/><circle cx="1134.3" cy="100" r="3.8"/><circle cx="1129.8" cy="112.2" r="3.8"/><circle cx="1135.7" cy="99.5" r="3.8"/><circle cx="1124.1" cy="103.7" r="3.8"/><circle cx="1136.3" cy="110" r="3.8"/><circle cx="1126.2" cy="113.8" r="3.8"/><circle cx="1141.8" cy="101.9" r="3.8"/><circle cx="1134.9" cy="112" r="3.8"/><circle cx="1132.4" cy="104" r="3.8"/><circle cx="1131.3" cy="98.4" r="3.8"/><circle cx="1135.4" cy="103.7" r="3.8"/><circle cx="1136.6" cy="108.6" r="3.8"/><circle cx="1138" cy="100.5" r="3.8"/><circle cx="1137.8" cy="104.6" r="3.8"/><circle cx="1132.7" cy="95.7" r="3.8"/><circle cx="1142.5" cy="101.8" r="3.8"/><circle cx="1139.5" cy="90.2" r="3.8"/><circle cx="1139.8" cy="91.3" r="3.8"/><circle cx="1131.3" cy="96.7" r="3.8"/><circle cx="1131.7" cy="109.1" r="3.8"/><circle cx="1134.3" cy="112.3" r="3.8"/><circle cx="1140.8" cy="92.8" r="3.8"/></g>
<rect x="1226.5" y="630.8" width="26.8" height="71.9" fill="#2e9dd7"/>
<g fill="#2e9dd7" fill-opacity="0.45"><circle cx="1241.4" cy="637.5" r="3.8"/><circle cx="1246.4" cy="663.6" r="3.8"/><circle cx="1232" cy="685.6" r="3.8"/><circle cx="1229.7" cy="680.3" r="3.8"/><circle cx="1242.6" cy="680.1" r="3.8"/><circle cx="1234.7" cy="664.9" r="3.8"/><circle cx="1230.7" cy="660.4" r="3.8"/><circle cx="1232.6" cy="643.7" r="3.8"/><circle cx="1232.3" cy="684.4" r="3.8"/><circle cx="1247.3" cy="653.1" r="3.8"/><circle cx="1230.1" cy="646.1" r="3.8"/><circle cx="1236.9" cy="673.2" r="3.8"/><circle cx="1250.4" cy="687.1" r="3.8"/><circle cx="1239.7" cy="699.7" r="3.8"/><circle cx="1250.7" cy="648" r="3.8"/><circle cx="1238.9" cy="692.3" r="3.8"/><circle cx="1229.7" cy="649.1" r="3.8"/><circle cx="1248.6" cy="685.4" r="3.8"/><circle cx="1237.5" cy="692.5" r="3.8"/><circle cx="1238.2" cy="681.3" r="3.8"/><circle cx="1229.5" cy="697.2" r="3.8"/><circle cx="1245.8" cy="631.1" r="3.8"/><circle cx="1233.9" cy="649.9" r="3.8"/><circle cx="1241.1" cy="684.5" r="3.8"/><circle cx="1239" cy="685.3" r="3.8"/><circle cx="1236.9" cy="635.7" r="3.8"/><circle cx="1250.6" cy="678.5" r="3.8"/><circle cx="1229.7" cy="658.8" r="3.8"/><circle cx="1243.2" cy="673.7" r="3.8"/><circle cx="1236.4" cy="698.5" r="3.8"/><circle cx="1248" cy="652.8" r="3.8"/><circle cx="1248.5" cy="660.2" r="3.8"/><circle cx="1237.5" cy="669.4" r="3.8"/><circle cx="1237.3" cy="642.1" r="3.8"/><circle cx="1233.6" cy="646.5" r="3.8"/><circle cx="1232.9" cy="677.7" r="3.8"/><circle cx="1232.4" cy="663.2" r="3.8"/><circle cx="1233.5" cy="688.1" r="3.8"/><circle cx="1235.6" cy="669.1" r="3.8"/><circle cx="1250.9" cy="670.6" r="3.8"/><circle cx="1248" cy="653.9" r="3.8"/><circle cx="1237.3" cy="688" r="3.8"/><circle cx="1244.2" cy="697.5" r="3.8"/><circle cx="1234.9" cy="676.6" r="3.8"/><circle cx="1232.8" cy="701.4" r="3.8"/><circle cx="1237.5" cy="683.8" r="3.8"/><circle cx="1244.7" cy="636.3" r="3.8"/><circle cx="1236.8" cy="683.4" r="3.8"/><circle cx="1249.6" cy="691.7" r="3.8"/><circle cx="1245.8" cy="676.8" r="3.8"/><circle cx="1249" cy="650.7" r="3.8"/><circle cx="1235.9" cy="701.2" r="3.8"/><circle cx="1230.6" cy="675.1" r="3.8"/><circle cx="1236" cy="639.3" r="3.8"/><circle cx="1240.3" cy="647.3" r="3.8"/><circle cx="1237.5" cy="698.8" r="3.8"/><circle cx="1229.7" cy="685.6" r="3.8"/><circle cx="1242" cy="691.9" r="3.8"/><circle cx="1235.7" cy="700.4" r="3.8"/><circle cx="1240.9" cy="672.2" r="3.8"/><circle cx="1244.5" cy="692.9" r="3.8"/><circle cx="1244.9" cy="684" r="3.8"/><circle cx="1232.1" cy="654.8" r="3.8"/><circle cx="1235" cy="688" r="3.8"/><circle cx="1237.8" cy="651.5" r="3.8"/><circle cx="1248" cy="674.9" r="3.8"/><circle cx="1235.3" cy="686.5" r="3.8"/><circle cx="1233.6" cy="677.9" r="3.8"/><circle cx="1229.3" cy="699.8" r="3.8"/><circle cx="1241.4" cy="657.4" r="3.8"/><circle cx="1250.5" cy="644.6" r="3.8"/><circle cx="1243.7" cy="681.3" r="3.8"/><circle cx="1233.6" cy="636.6" r="3.8"/><circle cx="1243.6" cy="653.2" r="3.8"/><circle cx="1248.1" cy="634" r="3.8"/><circle cx="1242.8" cy="685.8" r="3.8"/><circle cx="1238.3" cy="696.2" r="3.8"/><circle cx="1230.1" cy="674.5" r="3.8"/><circle cx="1236.1" cy="675.1" r="3.8"/><circle cx="1235" cy="667" r="3.8"/><circle cx="1233.3" cy="616.7" r="3.8"/><circle cx="1238" cy="616.8" r="3.8"/><circle cx="1239.4" cy="622.8" r="3.8"/><circle cx="1233.5" cy="576.5" r="3.8"/><circle cx="1243.1" cy="628.2" r="3.8"/><circle cx="1234.9" cy="633.8" r="3.8"/><circle cx="1232.1" cy="598.7" r="3.8"/><circle cx="1236.9" cy="577" r="3.8"/><circle cx="1238.4" cy="598" r="3.8"/><circle cx="1233.2" cy="611" r="3.8"/><circle cx="1241.5" cy="595.8" r="3.8"/><circle cx="1243.8" cy="628.8" r="3.8"/><circle cx="1240.9" cy="611.4" r="3.8"/><circle cx="1243.7" cy="633.7" r="3.8"/><circle cx="1230.7" cy="633.2" r="3.8"/><circle cx="1237.8" cy="621.9" r="3.8"/><circle cx="1237.3" cy="618.4" r="3.8"/><circle cx="1231.5" cy="624.7" r="3.8"/><circle cx="1238.1" cy="633.8" r="3.8"/><circle cx="1231.3" cy="601.9" r="3.8"/><circle cx="1239.8" cy="616.7" r="3.8"/><circle cx="1241.5" cy="630.9" r="3.8"/><circle cx="1239.3" cy="628.8" r="3.8"/><circle cx="1236.6" cy="624.8" r="3.8"/><circle cx="1235.2" cy="631" r="3.8"/><circle cx="1230.8" cy="633.8" r="3.8"/><circle cx="1237" cy="575.5" r="3.8"/><circle cx="1247.4" cy="567.3" r="3.8"/><circle cx="1241.2" cy="604.8" r="3.8"/><circle cx="1235.3" cy="581.7" r="3.8"/><circle cx="1243.1" cy="623.4" r="3.8"/><circle cx="1233.9" cy="589.5" r="3.8"/><circle cx="1239.3" cy="631.4" r="3.8"/><circle cx="1242.1" cy="596.4" r="3.8"/><circle cx="1248.6" cy="613.6" r="3.8"/><circle cx="1237.3" cy="576.6" r="3.8"/><circle cx="1241.4" cy="633.5" r="3.8"/><circle cx="1248.4" cy="591.1" r="3.8"/><circle cx="1245.1" cy="633.2" r="3.8"/><circle cx="1242.3" cy="615.8" r="3.8"/><circle cx="1242.2" cy="569.7" r="3.8"/><circle cx="1238.2" cy="633.9" r="3.8"/><circle cx="1238.3" cy="630.8" r="3.8"/><circle cx="1235.6" cy="629" r="3.8"/><circle cx="1246.2" cy="628" r="3.8"/><circle cx="1247.2" cy="633.8" r="3.8"/><circle cx="1237.6" cy="577.7" r="3.8"/><circle cx="1247.8" cy="588.3" r="3.8"/><circle cx="1231" cy="624.7" r="3.8"/><circle cx="1232.9" cy="626.7" r="3.8"/><circle cx="1240" cy="612.1" r="3.8"/><circle cx="1236.2" cy="633.9" r="3.8"/><circle cx="1237.2" cy="633.9" r="3.8"/><circle cx="1249.1" cy="577.3" r="3.8"/><circle cx="1233.2" cy="628.7" r="3.8"/><circle cx="1234" cy="618.6" r="3.8"/><circle cx="1234.7" cy="572.2" r="3.8"/><circle cx="1243.4" cy="565.6" r="3.8"/><circle cx="1234.8" cy="620.3" r="3.8"/><circle cx="1230.3" cy="631.8" r="3.8"/><circle cx="1240.7" cy="629.2" r="3.8"/><circle cx="1237.9" cy="573.8" r="3.8"/><circle cx="1234.9" cy="577.5" r="3.8"/><circle cx="1239.8" cy="632" r="3.8"/><circle cx="1242.8" cy="585.4" r="3.8"/><circle cx="1240.8" cy="626.8" r="3.8"/><circle cx="1242.3" cy="620.4" r="3.8"/><circle cx="1241.1" cy="632.5" r="3.8"/><circle cx="1246.3" cy="579.9" r="3.8"/><circle cx="1248.9" cy="562.8" r="3.8"/><circle cx="1236.7" cy="631.9" r="3.8"/><circle cx="1237" cy="608" r="3.8"/><circle cx="1247.3" cy="632.1" r="3.8"/><circle cx="1236.3" cy="579.8" r="3.8"/><circle cx="1244" cy="633.8" r="3.8"/><circle cx="1243.7" cy="633.4" r="3.8"/><circle cx="1243.5" cy="598.7" r="3.8"/><circle cx="1248.8" cy="628.5" r="3.8"/><circle cx="1246.1" cy="577" r="3.8"/><circle cx="1233.4" cy="581.2" r="3.8"/><circle cx="1242.2" cy="600" r="3.8"/><circle cx="1239.7" cy="633.1" r="3.8"/><circle cx="1241.1" cy="601.8" r="3.8"/><circle cx="1237.4" cy="571.6" r="3.8"/><circle cx="1235.8" cy="622" r="3.8"/><circle cx="1244.7" cy="633.7" r="3.8"/><circle cx="1240.6" cy="631.4" r="3.8"/><circle cx="1234.9" cy="628.7" r="3.8"/><circle cx="1235.1" cy="600.3" r="3.8"/><circle cx="1236.5" cy="632" r="3.8"/><circle cx="1233.7" cy="632.3" r="3.8"/><circle cx="1240.2" cy="631" r="3.8"/><circle cx="1232.7" cy="604.9" r="3.8"/><circle cx="1231.5" cy="591.3" r="3.8"/><circle cx="1231.6" cy="625.9" r="3.8"/><circle cx="1232.3" cy="605.2" r="3.8"/><circle cx="1243.8" cy="579.2" r="3.8"/><circle cx="1232.5" cy="611.7" r="3.8"/><circle cx="1239" cy="631.2" r="3.8"/><circle cx="1245.1" cy="629" r="3.8"/><circle cx="1239.5" cy="573.2" r="3.8"/><circle cx="1233.4" cy="604.7" r="3.8"/><circle cx="1246.9" cy="629.8" r="3.8"/><circle cx="1247" cy="607.3" r="3.8"/><circle cx="1231.3" cy="633.6" r="3.8"/><circle cx="1235.2" cy="564.7" r="3.8"/><circle cx="1240" cy="622.3" r="3.8"/><circle cx="1245.6" cy="616.5" r="3.8"/><circle cx="1237.8" cy="616.3" r="3.8"/><circle cx="1244" cy="633.9" r="3.8"/><circle cx="1235.1" cy="610.9" r="3.8"/><circle cx="1244" cy="629.5" r="3.8"/><circle cx="1236.6" cy="630.6" r="3.8"/><circle cx="1236.7" cy="589.8" r="3.8"/><circle cx="1244.9" cy="633.6" r="3.8"/><circle cx="1246.5" cy="629.5" r="3.8"/><circle cx="1246.2" cy="595.4" r="3.8"/><circle cx="1241.2" cy="630.8" r="3.8"/><circle cx="1238.4" cy="629.7" r="3.8"/><circle cx="1243.9" cy="615" r="3.8"/><circle cx="1242.3" cy="632.2" r="3.8"/><circle cx="1246.3" cy="577.5" r="3.8"/><circle cx="1245.7" cy="564" r="3.8"/><circle cx="1232.7" cy="633.9" r="3.8"/><circle cx="1237.5" cy="621" r="3.8"/><circle cx="1243.2" cy="595.9" r="3.8"/><circle cx="1234.7" cy="625.3" r="3.8"/><circle cx="1233.8" cy="572.9" r="3.8"/><circle cx="1230.6" cy="618.5" r="3.8"/><circle cx="1241.5" cy="632.3" r="3.8"/><circle cx="1248.4" cy="614.4" r="3.8"/><circle cx="1248.9" cy="606.8" r="3.8"/><circle cx="1232.9" cy="626.5" r="3.8"/><circle cx="1243.5" cy="605.6" r="3.8"/><circle cx="1238.4" cy="592.2" r="3.8"/><circle cx="1242.4" cy="617.4" r="3.8"/><circle cx="1237.9" cy="618.1" r="3.8"/><circle cx="1248.2" cy="584.4" r="3.8"/><circle cx="1249.3" cy="603" r="3.8"/><circle cx="1231.2" cy="617.1" r="3.8"/><circle cx="1244" cy="569.6" r="3.8"/><circle cx="1232.6" cy="632.5" r="3.8"/><circle cx="1231.1" cy="592.6" r="3.8"/><circle cx="1235.8" cy="632.6" r="3.8"/><circle cx="1244.3" cy="610.1" r="3.8"/><circle cx="1249.4" cy="631.1" r="3.8"/><circle cx="1232.6" cy="622.3" r="3.8"/><circle cx="1236.6" cy="593.4" r="3.8"/><circle cx="1230.8" cy="591.8" r="3.8"/><circle cx="1240.7" cy="591.2" r="3.8"/><circle cx="1239.6" cy="631" r="3.8"/><circle cx="1237.5" cy="619.3" r="3.8"/><circle cx="1236.2" cy="631.4" r="3.8"/><circle cx="1245.7" cy="612.5" r="3.8"/><circle cx="1246.4" cy="618.6" r="3.8"/><circle cx="1235.7" cy="633.9" r="3.8"/><circle cx="1237.8" cy="611.1" r="3.8"/><circle cx="1242.2" cy="599.9" r="3.8"/><circle cx="1245" cy="613.1" r="3.8"/><circle cx="1249.1" cy="580.8" r="3.8"/><circle cx="1237.8" cy="566.4" r="3.8"/><circle cx="1243.6" cy="567.2" r="3.8"/><circle cx="1240.8" cy="570.9" r="3.8"/><circle cx="1245.7" cy="557.5" r="3.8"/><circle cx="1233.1" cy="559.2" r="3.8"/><circle cx="1233.7" cy="559" r="3.8"/><circle cx="1232.4" cy="564" r="3.8"/><circle cx="1248.2" cy="549" r="3.8"/><circle cx="1235.1" cy="569.4" r="3.8"/><circle cx="1239.7" cy="445.2" r="3.8"/><circle cx="1232.6" cy="447" r="3.8"/><circle cx="1236.5" cy="498.9" r="3.8"/><circle cx="1230.7" cy="513.3" r="3.8"/><circle cx="1241.2" cy="518.3" r="3.8"/><circle cx="1233.1" cy="531.4" r="3.8"/><circle cx="1242.3" cy="535.2" r="3.8"/><circle cx="1235.6" cy="533.3" r="3.8"/></g>
<line x1="972.5" y1="577.7" x2="1293.4" y2="577.7" stroke="#3a3a3a" stroke-width="1.2"/>
<line x1="972.5" y1="452.7" x2="1293.4" y2="452.7" stroke="#3a3a3a" stroke-width="1.2"/>
<line x1="972.5" y1="327.6" x2="1293.4" y2="327.6" stroke="#3a3a3a" stroke-width="1.2"/>
<line x1="972.5" y1="202.6" x2="1293.4" y2="202.6" stroke="#3a3a3a" stroke-width="1.2"/>
<rect x="1012.3" y="172.6" width="27.4" height="170.7" fill="none" stroke="#231f20" stroke-width="1.1"/>
<line x1="1012.3" y1="247.6" x2="1039.7" y2="247.6" stroke="#231f20" stroke-width="1.1"/>
<line x1="1026" y1="172.6" x2="1026" y2="77.6" stroke="#231f20" stroke-width="1.1"/>
<line x1="1026" y1="343.3" x2="1026" y2="598.3" stroke="#231f20" stroke-width="1.1"/>
<line x1="1019" y1="77.6" x2="1033" y2="77.6" stroke="#231f20" stroke-width="1.1"/>
<line x1="1019" y1="598.3" x2="1033" y2="598.3" stroke="#231f20" stroke-width="1.1"/>
<circle cx="1026" cy="266.4" r="9.8" fill="#231f20"/>
<rect x="1119.7" y="252.6" width="26.6" height="188.8" fill="none" stroke="#231f20" stroke-width="1.1"/>
<line x1="1119.7" y1="340.8" x2="1146.3" y2="340.8" stroke="#231f20" stroke-width="1.1"/>
<line x1="1133" y1="252.6" x2="1133" y2="90.1" stroke="#231f20" stroke-width="1.1"/>
<line x1="1133" y1="441.4" x2="1133" y2="678.9" stroke="#231f20" stroke-width="1.1"/>
<line x1="1126" y1="90.1" x2="1140" y2="90.1" stroke="#231f20" stroke-width="1.1"/>
<line x1="1126" y1="678.9" x2="1140" y2="678.9" stroke="#231f20" stroke-width="1.1"/>
<circle cx="1133" cy="350.8" r="9.8" fill="#231f20"/>
<rect x="1226.5" y="673.9" width="26.8" height="21.3" fill="none" stroke="#231f20" stroke-width="1.1"/>
<line x1="1226.5" y1="688.3" x2="1253.3" y2="688.3" stroke="#231f20" stroke-width="1.1"/>
<line x1="1239.9" y1="673.9" x2="1239.9" y2="642.1" stroke="#231f20" stroke-width="1.1"/>
<line x1="1239.9" y1="695.2" x2="1239.9" y2="702.7" stroke="#231f20" stroke-width="1.1"/>
<line x1="1232.9" y1="642.1" x2="1246.9" y2="642.1" stroke="#231f20" stroke-width="1.1"/>
<line x1="1232.9" y1="702.7" x2="1246.9" y2="702.7" stroke="#231f20" stroke-width="1.1"/>
<circle cx="1239.9" cy="679.6" r="9.8" fill="#231f20"/>
<rect x="972.5" y="77.6" width="320.9" height="625.1" fill="none" stroke="#3a3a3a" stroke-width="1.3"/>
<text x="970" y="711" font-size="23.8" text-anchor="end">0</text>
<text x="970" y="586" font-size="23.8" text-anchor="end">20</text>
<text x="970" y="461" font-size="23.8" text-anchor="end">40</text>
<text x="970" y="335.9" font-size="23.8" text-anchor="end">60</text>
<text x="970" y="210.9" font-size="23.8" text-anchor="end">80</text>
<text x="970" y="85.9" font-size="23.8" text-anchor="end">100</text>
<text x="1028" y="70.8" font-size="23.8" text-anchor="middle">Combined</text>
<text x="1133.7" y="70.8" font-size="23.8" text-anchor="middle">HiBC</text>
<text x="1240.6" y="70.8" font-size="23.8" text-anchor="middle">Novel</text>
<text x="917.5" y="394.8" font-size="23.8" text-anchor="middle" transform="rotate(-90 917.5 394.8)">Relative abundance (%)</text>
<line x1="116.4" y1="1176.7" x2="1293.9" y2="1176.7" stroke="#231f20" stroke-width="1.2"/>
<line x1="116.4" y1="1061.9" x2="1293.9" y2="1061.9" stroke="#231f20" stroke-width="1.2"/>
<line x1="116.4" y1="947" x2="1293.9" y2="947" stroke="#231f20" stroke-width="1.2"/>
<line x1="116.4" y1="832.2" x2="1293.9" y2="832.2" stroke="#231f20" stroke-width="1.2"/>
<rect x="149.2" y="1044.6" width="33" height="253.9" rx="7" fill="#3a9bd6"/>
<g fill="#3a9bd6" fill-opacity="0.38"><circle cx="161.6" cy="1050.5" r="7.0"/><circle cx="169.1" cy="1051.3" r="7.0"/><circle cx="173.9" cy="1069.7" r="7.0"/><circle cx="170.3" cy="1072.8" r="7.0"/><circle cx="164.7" cy="1063" r="7.0"/><circle cx="164.2" cy="1087.6" r="7.0"/><circle cx="164.6" cy="1077.6" r="7.0"/><circle cx="161.8" cy="1046.7" r="7.0"/><circle cx="169" cy="1058.6" r="7.0"/><circle cx="164" cy="1079.3" r="7.0"/><circle cx="173.2" cy="1084.5" r="7.0"/><circle cx="164.2" cy="1079" r="7.0"/><circle cx="171.8" cy="1074.9" r="7.0"/><circle cx="167.4" cy="1051.5" r="7.0"/><circle cx="158.1" cy="1065.5" r="7.0"/><circle cx="157.9" cy="1049.4" r="7.0"/><circle cx="163.3" cy="1073.9" r="7.0"/><circle cx="168.9" cy="1057.4" r="7.0"/><circle cx="173.3" cy="1074.8" r="7.0"/><circle cx="156.6" cy="1046.9" r="7.0"/><circle cx="165.1" cy="1061.5" r="7.0"/><circle cx="165" cy="1074" r="7.0"/><circle cx="168.9" cy="1076.1" r="7.0"/><circle cx="174.6" cy="1062.8" r="7.0"/><circle cx="175.1" cy="1045.7" r="7.0"/><circle cx="171.9" cy="1072.4" r="7.0"/><circle cx="169.5" cy="1060.7" r="7.0"/><circle cx="157.5" cy="1044.7" r="7.0"/><circle cx="163.8" cy="1069.3" r="7.0"/><circle cx="160.3" cy="1060.4" r="7.0"/><circle cx="160.2" cy="1045.1" r="7.0"/><circle cx="158.9" cy="1073.6" r="7.0"/><circle cx="170.3" cy="1072.4" r="7.0"/><circle cx="159.4" cy="1086.7" r="7.0"/><circle cx="168" cy="1060.8" r="7.0"/><circle cx="161" cy="1056.5" r="7.0"/><circle cx="170.1" cy="1053.3" r="7.0"/><circle cx="158.5" cy="1054.9" r="7.0"/><circle cx="156.5" cy="1069" r="7.0"/><circle cx="174.1" cy="1051.1" r="7.0"/><circle cx="156.7" cy="1049.4" r="7.0"/><circle cx="166.4" cy="1074.4" r="7.0"/><circle cx="158.3" cy="1066.1" r="7.0"/><circle cx="161.9" cy="1054.3" r="7.0"/><circle cx="158.6" cy="1067.3" r="7.0"/><circle cx="158.7" cy="1064.5" r="7.0"/><circle cx="165.9" cy="1086.5" r="7.0"/><circle cx="171" cy="1077.1" r="7.0"/><circle cx="164.1" cy="1079.2" r="7.0"/><circle cx="160.3" cy="1088.1" r="7.0"/><circle cx="166.8" cy="1069.8" r="7.0"/><circle cx="172.4" cy="1069.5" r="7.0"/><circle cx="172.4" cy="1085.8" r="7.0"/><circle cx="174.6" cy="1083.5" r="7.0"/><circle cx="163.9" cy="1066.5" r="7.0"/><circle cx="172.6" cy="1062.4" r="7.0"/><circle cx="164.1" cy="1046.3" r="7.0"/><circle cx="159.1" cy="1090.1" r="7.0"/><circle cx="170.2" cy="1053" r="7.0"/><circle cx="159.2" cy="1057.8" r="7.0"/><circle cx="156.7" cy="1066.2" r="7.0"/><circle cx="161.9" cy="1085.5" r="7.0"/><circle cx="168.4" cy="1046.2" r="7.0"/><circle cx="157.1" cy="1051.6" r="7.0"/><circle cx="157.7" cy="1071.5" r="7.0"/><circle cx="158.3" cy="1078.6" r="7.0"/><circle cx="162.4" cy="1048.4" r="7.0"/><circle cx="168.6" cy="1068.1" r="7.0"/><circle cx="174.2" cy="1049.8" r="7.0"/><circle cx="165.7" cy="1064.5" r="7.0"/><circle cx="163.7" cy="1049.1" r="7.0"/><circle cx="170.2" cy="1076.8" r="7.0"/><circle cx="163.2" cy="1078.7" r="7.0"/><circle cx="165.3" cy="1070.9" r="7.0"/><circle cx="164.4" cy="1074.1" r="7.0"/><circle cx="157.1" cy="1069.9" r="7.0"/><circle cx="157.4" cy="1052.2" r="7.0"/><circle cx="166.6" cy="1066.3" r="7.0"/><circle cx="160.4" cy="1072.2" r="7.0"/><circle cx="163.3" cy="1086" r="7.0"/><circle cx="165.4" cy="1076.1" r="7.0"/><circle cx="170.4" cy="1080" r="7.0"/><circle cx="156.4" cy="1068.2" r="7.0"/><circle cx="174.6" cy="1071.9" r="7.0"/><circle cx="167.5" cy="1090.2" r="7.0"/><circle cx="163.1" cy="1046.4" r="7.0"/><circle cx="163.2" cy="1063.1" r="7.0"/><circle cx="167.8" cy="1076.7" r="7.0"/><circle cx="162.2" cy="1063.5" r="7.0"/><circle cx="166" cy="1067.7" r="7.0"/><circle cx="157.2" cy="1055.9" r="7.0"/><circle cx="161" cy="1086.3" r="7.0"/><circle cx="171.3" cy="1078.2" r="7.0"/><circle cx="172.5" cy="1071" r="7.0"/><circle cx="161.6" cy="1072.1" r="7.0"/><circle cx="157.8" cy="1059.3" r="7.0"/><circle cx="172" cy="1045.4" r="7.0"/><circle cx="162.2" cy="1075.5" r="7.0"/><circle cx="171.2" cy="1052.9" r="7.0"/><circle cx="157.3" cy="1061.1" r="7.0"/><circle cx="157.1" cy="1055.5" r="7.0"/><circle cx="166.7" cy="1061.9" r="7.0"/><circle cx="168.3" cy="1048" r="7.0"/><circle cx="174" cy="1089.5" r="7.0"/><circle cx="167.2" cy="1056" r="7.0"/><circle cx="170.2" cy="1090.3" r="7.0"/><circle cx="169.1" cy="1071.4" r="7.0"/><circle cx="173.6" cy="1045.4" r="7.0"/><circle cx="171" cy="1087.1" r="7.0"/><circle cx="170.5" cy="1070.3" r="7.0"/><circle cx="164.7" cy="1073.2" r="7.0"/><circle cx="158.4" cy="1070.5" r="7.0"/><circle cx="170.2" cy="1075.9" r="7.0"/><circle cx="158.4" cy="1087.3" r="7.0"/><circle cx="168.9" cy="1052.3" r="7.0"/><circle cx="158.4" cy="1065.4" r="7.0"/><circle cx="162.1" cy="1085.1" r="7.0"/><circle cx="166.8" cy="1046.8" r="7.0"/><circle cx="160.2" cy="1048.2" r="7.0"/><circle cx="166.4" cy="1071.5" r="7.0"/><circle cx="158.5" cy="1052" r="7.0"/><circle cx="165.2" cy="1050.4" r="7.0"/><circle cx="164.4" cy="1089.1" r="7.0"/><circle cx="169" cy="1073.2" r="7.0"/><circle cx="165.6" cy="1047.9" r="7.0"/><circle cx="163.6" cy="1058.9" r="7.0"/><circle cx="158.2" cy="1054.8" r="7.0"/><circle cx="159.4" cy="1056.5" r="7.0"/><circle cx="160" cy="1063.7" r="7.0"/><circle cx="159.3" cy="1074.7" r="7.0"/><circle cx="167.4" cy="1074.5" r="7.0"/><circle cx="163.6" cy="1066.7" r="7.0"/><circle cx="172.2" cy="1064.2" r="7.0"/><circle cx="167.3" cy="1074.1" r="7.0"/><circle cx="174.8" cy="1068.5" r="7.0"/><circle cx="169.5" cy="1075.5" r="7.0"/><circle cx="161.2" cy="1079.8" r="7.0"/><circle cx="167.1" cy="1057" r="7.0"/><circle cx="157.4" cy="1078.8" r="7.0"/><circle cx="171.9" cy="1038.6" r="7.0"/><circle cx="163.4" cy="1025.5" r="7.0"/><circle cx="169.8" cy="1031.5" r="7.0"/><circle cx="164.4" cy="1037" r="7.0"/><circle cx="167.9" cy="1047.7" r="7.0"/><circle cx="166.8" cy="1047.1" r="7.0"/><circle cx="174.7" cy="1004.3" r="7.0"/><circle cx="173.5" cy="1034.4" r="7.0"/><circle cx="164.9" cy="1046.3" r="7.0"/><circle cx="165.4" cy="1040.9" r="7.0"/><circle cx="160.6" cy="1025.4" r="7.0"/><circle cx="170.5" cy="998.9" r="7.0"/><circle cx="158.1" cy="1039.9" r="7.0"/><circle cx="162" cy="1005.6" r="7.0"/><circle cx="172.3" cy="1025.4" r="7.0"/><circle cx="156.9" cy="1029" r="7.0"/><circle cx="169.5" cy="1008.7" r="7.0"/><circle cx="167" cy="1029.9" r="7.0"/><circle cx="166.7" cy="1047.4" r="7.0"/><circle cx="162.5" cy="1021.9" r="7.0"/><circle cx="159.1" cy="1016.4" r="7.0"/><circle cx="174.3" cy="1018.2" r="7.0"/><circle cx="170.7" cy="1036.1" r="7.0"/><circle cx="171.5" cy="1001.9" r="7.0"/><circle cx="158.1" cy="1005.7" r="7.0"/><circle cx="171.1" cy="999" r="7.0"/><circle cx="160.4" cy="1027.5" r="7.0"/><circle cx="160" cy="1007.3" r="7.0"/><circle cx="166.4" cy="1012.9" r="7.0"/><circle cx="167.8" cy="1041.3" r="7.0"/><circle cx="168.7" cy="970" r="7.0"/><circle cx="170.5" cy="966.6" r="7.0"/><circle cx="160" cy="952.8" r="7.0"/><circle cx="161.2" cy="947" r="7.0"/><circle cx="169.9" cy="918.3" r="7.0"/><circle cx="160.4" cy="817.3" r="7.0"/><circle cx="170.6" cy="811.6" r="7.0"/><circle cx="161" cy="987.2" r="7.0"/><circle cx="165" cy="1006.7" r="7.0"/></g>
<rect x="247.3" y="1056.1" width="33" height="242.4" rx="7" fill="#63bde0"/>
<g fill="#63bde0" fill-opacity="0.38"><circle cx="268.9" cy="1096.5" r="7.0"/><circle cx="271.4" cy="1075.3" r="7.0"/><circle cx="267.4" cy="1059.6" r="7.0"/><circle cx="272.4" cy="1085.3" r="7.0"/><circle cx="259.8" cy="1069" r="7.0"/><circle cx="268.1" cy="1062.7" r="7.0"/><circle cx="259.1" cy="1089.9" r="7.0"/><circle cx="264.5" cy="1101.1" r="7.0"/><circle cx="259.9" cy="1090.4" r="7.0"/><circle cx="256.8" cy="1090.4" r="7.0"/><circle cx="259.5" cy="1079.8" r="7.0"/><circle cx="259.6" cy="1089" r="7.0"/><circle cx="270.9" cy="1078.7" r="7.0"/><circle cx="270.7" cy="1094.7" r="7.0"/><circle cx="265.9" cy="1062.8" r="7.0"/><circle cx="268.3" cy="1077.1" r="7.0"/><circle cx="266.9" cy="1077.5" r="7.0"/><circle cx="269" cy="1059.8" r="7.0"/><circle cx="255.4" cy="1090.1" r="7.0"/><circle cx="261.2" cy="1059" r="7.0"/><circle cx="258.8" cy="1065.9" r="7.0"/><circle cx="261.4" cy="1081.2" r="7.0"/><circle cx="272.2" cy="1068.6" r="7.0"/><circle cx="265.1" cy="1078.8" r="7.0"/><circle cx="258.7" cy="1086" r="7.0"/><circle cx="256.4" cy="1058.4" r="7.0"/><circle cx="266.8" cy="1058.9" r="7.0"/><circle cx="271.5" cy="1098.7" r="7.0"/><circle cx="265.1" cy="1097.4" r="7.0"/><circle cx="273.1" cy="1096.5" r="7.0"/><circle cx="270.9" cy="1087.8" r="7.0"/><circle cx="267" cy="1099.2" r="7.0"/><circle cx="254.9" cy="1098.9" r="7.0"/><circle cx="273" cy="1075.8" r="7.0"/><circle cx="270.6" cy="1070.6" r="7.0"/><circle cx="264.2" cy="1066" r="7.0"/><circle cx="264.3" cy="1098.5" r="7.0"/><circle cx="264.3" cy="1093.6" r="7.0"/><circle cx="263.8" cy="1085.8" r="7.0"/><circle cx="267.7" cy="1093" r="7.0"/><circle cx="263.6" cy="1082.9" r="7.0"/><circle cx="263.6" cy="1098.4" r="7.0"/><circle cx="272.8" cy="1076.4" r="7.0"/><circle cx="256.9" cy="1076.3" r="7.0"/><circle cx="260.7" cy="1088.3" r="7.0"/><circle cx="272.2" cy="1069.8" r="7.0"/><circle cx="272.4" cy="1057.2" r="7.0"/><circle cx="270.6" cy="1059.5" r="7.0"/><circle cx="254.7" cy="1059.1" r="7.0"/><circle cx="265.5" cy="1079.6" r="7.0"/><circle cx="266" cy="1070.6" r="7.0"/><circle cx="272.1" cy="1073.9" r="7.0"/><circle cx="264.2" cy="1098.1" r="7.0"/><circle cx="254.9" cy="1058" r="7.0"/><circle cx="270.8" cy="1096.9" r="7.0"/><circle cx="254.8" cy="1058.1" r="7.0"/><circle cx="270.1" cy="1100.6" r="7.0"/><circle cx="264.2" cy="1070.4" r="7.0"/><circle cx="268.7" cy="1075.4" r="7.0"/><circle cx="254.3" cy="1064.9" r="7.0"/><circle cx="269.4" cy="1098.9" r="7.0"/><circle cx="270.2" cy="1057.2" r="7.0"/><circle cx="260.7" cy="1083.3" r="7.0"/><circle cx="254.6" cy="1086.1" r="7.0"/><circle cx="259.3" cy="1066.7" r="7.0"/><circle cx="264.3" cy="1075.1" r="7.0"/><circle cx="267.1" cy="1086.6" r="7.0"/><circle cx="258.8" cy="1081.2" r="7.0"/><circle cx="257.7" cy="1061.5" r="7.0"/><circle cx="259.1" cy="1095.2" r="7.0"/><circle cx="269.2" cy="1080" r="7.0"/><circle cx="258.8" cy="1086.8" r="7.0"/><circle cx="259.3" cy="1072" r="7.0"/><circle cx="259.2" cy="1078" r="7.0"/><circle cx="257.8" cy="1061.8" r="7.0"/><circle cx="260" cy="1091.4" r="7.0"/><circle cx="268.1" cy="1086.9" r="7.0"/><circle cx="269.3" cy="1071.1" r="7.0"/><circle cx="255.8" cy="1077.2" r="7.0"/><circle cx="259" cy="1067" r="7.0"/><circle cx="262.2" cy="1092" r="7.0"/><circle cx="261.4" cy="1056.6" r="7.0"/><circle cx="271.6" cy="1085.7" r="7.0"/><circle cx="261.7" cy="1056.6" r="7.0"/><circle cx="269.3" cy="1095.8" r="7.0"/><circle cx="260.7" cy="1066.1" r="7.0"/><circle cx="261.5" cy="1065.7" r="7.0"/><circle cx="265.6" cy="1088.9" r="7.0"/><circle cx="263.4" cy="1068" r="7.0"/><circle cx="254.6" cy="1064.5" r="7.0"/><circle cx="261.5" cy="1079.1" r="7.0"/><circle cx="271.7" cy="1099.1" r="7.0"/><circle cx="258.2" cy="1095.5" r="7.0"/><circle cx="272.6" cy="1061.7" r="7.0"/><circle cx="260.8" cy="1059.3" r="7.0"/><circle cx="257" cy="1059.3" r="7.0"/><circle cx="272.3" cy="1069.2" r="7.0"/><circle cx="256.9" cy="1093.2" r="7.0"/><circle cx="271.1" cy="1070.9" r="7.0"/><circle cx="272.4" cy="1068.7" r="7.0"/><circle cx="261.4" cy="1081.2" r="7.0"/><circle cx="259.5" cy="1096.5" r="7.0"/><circle cx="255.7" cy="1058.9" r="7.0"/><circle cx="260.9" cy="1093.6" r="7.0"/><circle cx="260.2" cy="1099.8" r="7.0"/><circle cx="256.7" cy="1093.6" r="7.0"/><circle cx="264.6" cy="1077.8" r="7.0"/><circle cx="268.8" cy="1076" r="7.0"/><circle cx="272.3" cy="1077.9" r="7.0"/><circle cx="258.6" cy="1098.3" r="7.0"/><circle cx="260.2" cy="1098.5" r="7.0"/><circle cx="271.9" cy="1067.1" r="7.0"/><circle cx="257.4" cy="1078.9" r="7.0"/><circle cx="265.1" cy="1086.9" r="7.0"/><circle cx="269.4" cy="1088.5" r="7.0"/><circle cx="263.1" cy="1057.4" r="7.0"/><circle cx="270.4" cy="1074.3" r="7.0"/><circle cx="257.9" cy="1080.7" r="7.0"/><circle cx="272.9" cy="1058.7" r="7.0"/><circle cx="268.8" cy="1100.9" r="7.0"/><circle cx="255.3" cy="1083.7" r="7.0"/><circle cx="257.6" cy="1094.6" r="7.0"/><circle cx="258.3" cy="1068.2" r="7.0"/><circle cx="258.5" cy="1101.1" r="7.0"/><circle cx="263.8" cy="1065.3" r="7.0"/><circle cx="263.2" cy="1072.1" r="7.0"/><circle cx="254.6" cy="1093.7" r="7.0"/><circle cx="255.1" cy="1088.1" r="7.0"/><circle cx="266.1" cy="1090.1" r="7.0"/><circle cx="263.3" cy="1085.1" r="7.0"/><circle cx="260.3" cy="1073.4" r="7.0"/><circle cx="271.1" cy="1085.7" r="7.0"/><circle cx="262.2" cy="1075.4" r="7.0"/><circle cx="264.6" cy="1060.8" r="7.0"/><circle cx="263.1" cy="1055.1" r="7.0"/><circle cx="260.6" cy="1057.1" r="7.0"/><circle cx="271.7" cy="1058.9" r="7.0"/><circle cx="258.8" cy="1047.4" r="7.0"/><circle cx="272.1" cy="1031.6" r="7.0"/><circle cx="270.5" cy="1049.4" r="7.0"/><circle cx="271.1" cy="1041.2" r="7.0"/><circle cx="257.4" cy="1061.4" r="7.0"/><circle cx="264" cy="1053.4" r="7.0"/><circle cx="273" cy="1023.3" r="7.0"/><circle cx="259.8" cy="1061.4" r="7.0"/><circle cx="257.6" cy="1040.7" r="7.0"/><circle cx="268.1" cy="1029.3" r="7.0"/><circle cx="258.8" cy="1030" r="7.0"/><circle cx="265.4" cy="1032.3" r="7.0"/><circle cx="257.3" cy="1045.8" r="7.0"/><circle cx="272.3" cy="1029.6" r="7.0"/><circle cx="259.7" cy="1028.6" r="7.0"/><circle cx="256.2" cy="1031" r="7.0"/><circle cx="267.4" cy="1022.2" r="7.0"/><circle cx="260.9" cy="1057.8" r="7.0"/><circle cx="264.9" cy="1023.7" r="7.0"/><circle cx="263.8" cy="1045.7" r="7.0"/><circle cx="271.8" cy="1033.5" r="7.0"/><circle cx="270" cy="997.6" r="7.0"/><circle cx="268.5" cy="990.7" r="7.0"/><circle cx="271.5" cy="986.1" r="7.0"/><circle cx="264.5" cy="973.4" r="7.0"/><circle cx="263" cy="965.4" r="7.0"/><circle cx="255.5" cy="958.5" r="7.0"/><circle cx="263.5" cy="957.4" r="7.0"/><circle cx="253.7" cy="826.5" r="7.0"/></g>
<rect x="345.4" y="1257.1" width="33" height="41.4" rx="7" fill="#63bde0"/>
<g fill="#63bde0" fill-opacity="0.38"><circle cx="359.6" cy="1273.8" r="7.0"/><circle cx="361.9" cy="1291.4" r="7.0"/><circle cx="363.3" cy="1282.2" r="7.0"/><circle cx="361.2" cy="1269.7" r="7.0"/><circle cx="361.9" cy="1288.4" r="7.0"/><circle cx="364.6" cy="1274.9" r="7.0"/><circle cx="357.8" cy="1258.1" r="7.0"/><circle cx="354" cy="1276.2" r="7.0"/><circle cx="356.9" cy="1263.9" r="7.0"/><circle cx="367.6" cy="1262.9" r="7.0"/><circle cx="369.6" cy="1282.7" r="7.0"/><circle cx="360.5" cy="1274.1" r="7.0"/><circle cx="370.4" cy="1272.4" r="7.0"/><circle cx="361.6" cy="1274.6" r="7.0"/><circle cx="368.4" cy="1281.5" r="7.0"/><circle cx="358.9" cy="1274.2" r="7.0"/><circle cx="356.5" cy="1284.7" r="7.0"/><circle cx="367.7" cy="1262.8" r="7.0"/><circle cx="369.9" cy="1257.8" r="7.0"/><circle cx="367.6" cy="1267.9" r="7.0"/><circle cx="367.8" cy="1267" r="7.0"/><circle cx="355.8" cy="1263.9" r="7.0"/><circle cx="358.2" cy="1263.4" r="7.0"/><circle cx="369.9" cy="1283.1" r="7.0"/><circle cx="362.2" cy="1290.7" r="7.0"/><circle cx="367.5" cy="1279.7" r="7.0"/><circle cx="369.7" cy="1270.5" r="7.0"/><circle cx="364.7" cy="1259.4" r="7.0"/><circle cx="353.7" cy="1244.1" r="7.0"/><circle cx="365.1" cy="1210.1" r="7.0"/><circle cx="354.5" cy="1255.8" r="7.0"/><circle cx="371.1" cy="1227.3" r="7.0"/><circle cx="369" cy="1245.3" r="7.0"/><circle cx="358.3" cy="1237" r="7.0"/><circle cx="356" cy="1238" r="7.0"/><circle cx="365.6" cy="1223.1" r="7.0"/><circle cx="366.8" cy="1215.2" r="7.0"/><circle cx="371.2" cy="1238.2" r="7.0"/><circle cx="364.3" cy="1224.1" r="7.0"/><circle cx="354.8" cy="1238.8" r="7.0"/><circle cx="366.2" cy="1242.6" r="7.0"/><circle cx="353.6" cy="1210.3" r="7.0"/><circle cx="368.9" cy="1240.4" r="7.0"/><circle cx="367" cy="1252.2" r="7.0"/><circle cx="367.4" cy="1239.8" r="7.0"/><circle cx="369" cy="1218.7" r="7.0"/><circle cx="363.3" cy="1246.1" r="7.0"/><circle cx="370.4" cy="1218.7" r="7.0"/><circle cx="364.6" cy="1228.8" r="7.0"/><circle cx="361.8" cy="1221.9" r="7.0"/><circle cx="359.7" cy="1247.9" r="7.0"/><circle cx="359.2" cy="1251.6" r="7.0"/><circle cx="352.9" cy="1249.7" r="7.0"/><circle cx="362" cy="1183.6" r="7.0"/><circle cx="353.8" cy="1168.6" r="7.0"/><circle cx="361.5" cy="1167.5" r="7.0"/><circle cx="360.5" cy="1157.2" r="7.0"/><circle cx="359.3" cy="1151.4" r="7.0"/><circle cx="360.1" cy="1123.9" r="7.0"/></g>
<rect x="443.6" y="1205.4" width="33" height="93.1" rx="7" fill="#63bde0"/>
<g fill="#63bde0" fill-opacity="0.38"><circle cx="465.7" cy="1243.9" r="7.0"/><circle cx="463" cy="1240.8" r="7.0"/><circle cx="463.8" cy="1215.7" r="7.0"/><circle cx="456.6" cy="1227.6" r="7.0"/><circle cx="454.1" cy="1238.8" r="7.0"/><circle cx="463.6" cy="1221.6" r="7.0"/><circle cx="456.8" cy="1208" r="7.0"/><circle cx="467.9" cy="1208.7" r="7.0"/><circle cx="468.6" cy="1238" r="7.0"/><circle cx="468.8" cy="1222.9" r="7.0"/><circle cx="456.9" cy="1215.8" r="7.0"/><circle cx="460.5" cy="1238.5" r="7.0"/><circle cx="451.2" cy="1228.9" r="7.0"/><circle cx="460.7" cy="1211.7" r="7.0"/><circle cx="464.7" cy="1229.6" r="7.0"/><circle cx="454.3" cy="1239.8" r="7.0"/><circle cx="455.1" cy="1224.6" r="7.0"/><circle cx="451.9" cy="1236.3" r="7.0"/><circle cx="457.3" cy="1248.9" r="7.0"/><circle cx="468.6" cy="1227.1" r="7.0"/><circle cx="458.4" cy="1221.9" r="7.0"/><circle cx="455" cy="1232.6" r="7.0"/><circle cx="468.8" cy="1229.5" r="7.0"/><circle cx="458.8" cy="1245.7" r="7.0"/><circle cx="465" cy="1219.8" r="7.0"/><circle cx="462.7" cy="1225.8" r="7.0"/><circle cx="467.7" cy="1208.2" r="7.0"/><circle cx="460.8" cy="1239.8" r="7.0"/><circle cx="460.6" cy="1205.5" r="7.0"/><circle cx="465.1" cy="1242.6" r="7.0"/><circle cx="453.4" cy="1248.7" r="7.0"/><circle cx="455.7" cy="1226" r="7.0"/><circle cx="464.4" cy="1218.3" r="7.0"/><circle cx="465.1" cy="1236.6" r="7.0"/><circle cx="464" cy="1221.6" r="7.0"/><circle cx="458.8" cy="1230.3" r="7.0"/><circle cx="459.6" cy="1246.4" r="7.0"/><circle cx="467.4" cy="1207.5" r="7.0"/><circle cx="451.9" cy="1248.7" r="7.0"/><circle cx="463.8" cy="1238.9" r="7.0"/><circle cx="453" cy="1231.2" r="7.0"/><circle cx="461.5" cy="1231.8" r="7.0"/><circle cx="458.2" cy="1217.1" r="7.0"/><circle cx="463.5" cy="1221.5" r="7.0"/><circle cx="451.4" cy="1223" r="7.0"/><circle cx="453" cy="1218.7" r="7.0"/><circle cx="459.6" cy="1248.8" r="7.0"/><circle cx="451.9" cy="1250.5" r="7.0"/><circle cx="459.5" cy="1233.4" r="7.0"/><circle cx="468.7" cy="1246.5" r="7.0"/><circle cx="459.8" cy="1212.2" r="7.0"/><circle cx="456.6" cy="1224.3" r="7.0"/><circle cx="452.8" cy="1206.1" r="7.0"/><circle cx="454.8" cy="1237.3" r="7.0"/><circle cx="460.2" cy="1211.6" r="7.0"/><circle cx="458.4" cy="1199.1" r="7.0"/><circle cx="458.1" cy="1196.3" r="7.0"/><circle cx="467.4" cy="1210.8" r="7.0"/><circle cx="455.5" cy="1193.8" r="7.0"/><circle cx="465.6" cy="1197.2" r="7.0"/><circle cx="464" cy="1200.1" r="7.0"/><circle cx="459.1" cy="1192.6" r="7.0"/><circle cx="457.5" cy="1178.3" r="7.0"/><circle cx="458.9" cy="1204.1" r="7.0"/><circle cx="459.2" cy="1180.8" r="7.0"/><circle cx="456.6" cy="1200.1" r="7.0"/><circle cx="462.4" cy="1185.1" r="7.0"/><circle cx="458.4" cy="1207.4" r="7.0"/><circle cx="456.3" cy="1177.1" r="7.0"/><circle cx="465.2" cy="1196.3" r="7.0"/><circle cx="459.2" cy="1178" r="7.0"/><circle cx="459.6" cy="1203.6" r="7.0"/><circle cx="467.3" cy="1197.1" r="7.0"/><circle cx="459.2" cy="1186.8" r="7.0"/><circle cx="457.7" cy="1205" r="7.0"/><circle cx="451" cy="1166.3" r="7.0"/><circle cx="457" cy="1165.2" r="7.0"/><circle cx="462" cy="1162.9" r="7.0"/><circle cx="465" cy="1154.9" r="7.0"/><circle cx="468" cy="1056.1" r="7.0"/><circle cx="459.3" cy="835.7" r="7.0"/></g>
<rect x="541.7" y="1228.3" width="33" height="70.2" rx="7" fill="#63bde0"/>
<g fill="#63bde0" fill-opacity="0.38"><circle cx="567.2" cy="1233" r="7.0"/><circle cx="556.3" cy="1238.2" r="7.0"/><circle cx="562.8" cy="1243.5" r="7.0"/><circle cx="562.4" cy="1260.7" r="7.0"/><circle cx="561.1" cy="1230.7" r="7.0"/><circle cx="556.9" cy="1243.6" r="7.0"/><circle cx="553" cy="1244.3" r="7.0"/><circle cx="558.9" cy="1238.9" r="7.0"/><circle cx="555.2" cy="1229.3" r="7.0"/><circle cx="549" cy="1241.6" r="7.0"/><circle cx="563.2" cy="1255.2" r="7.0"/><circle cx="560.3" cy="1262.4" r="7.0"/><circle cx="556.2" cy="1264.1" r="7.0"/><circle cx="552.4" cy="1228.6" r="7.0"/><circle cx="549.8" cy="1232.4" r="7.0"/><circle cx="564.3" cy="1247.5" r="7.0"/><circle cx="556.1" cy="1235.8" r="7.0"/><circle cx="562.2" cy="1247.2" r="7.0"/><circle cx="562.9" cy="1239.3" r="7.0"/><circle cx="553.5" cy="1247.7" r="7.0"/><circle cx="559.3" cy="1241.9" r="7.0"/><circle cx="567.4" cy="1249.3" r="7.0"/><circle cx="563.5" cy="1268" r="7.0"/><circle cx="562.5" cy="1259.4" r="7.0"/><circle cx="553.9" cy="1230.6" r="7.0"/><circle cx="558.7" cy="1248.2" r="7.0"/><circle cx="551.9" cy="1251.5" r="7.0"/><circle cx="565.7" cy="1245.6" r="7.0"/><circle cx="554.2" cy="1243.8" r="7.0"/><circle cx="556.7" cy="1237.3" r="7.0"/><circle cx="560.2" cy="1267.6" r="7.0"/><circle cx="558.7" cy="1253.1" r="7.0"/><circle cx="559.5" cy="1228.8" r="7.0"/><circle cx="555.4" cy="1230.5" r="7.0"/><circle cx="550.1" cy="1239.4" r="7.0"/><circle cx="561.8" cy="1260.5" r="7.0"/><circle cx="564.4" cy="1242.6" r="7.0"/><circle cx="553.9" cy="1256.8" r="7.0"/><circle cx="558.9" cy="1257.8" r="7.0"/><circle cx="555.8" cy="1273.2" r="7.0"/><circle cx="551.5" cy="1244.1" r="7.0"/><circle cx="565.3" cy="1260" r="7.0"/><circle cx="553.4" cy="1231.4" r="7.0"/><circle cx="552.1" cy="1226.2" r="7.0"/><circle cx="550.9" cy="1214.7" r="7.0"/><circle cx="550.3" cy="1206.9" r="7.0"/><circle cx="563.8" cy="1224.8" r="7.0"/><circle cx="562.7" cy="1228.8" r="7.0"/><circle cx="553.7" cy="1223.8" r="7.0"/><circle cx="558" cy="1205.7" r="7.0"/><circle cx="561.9" cy="1229.8" r="7.0"/><circle cx="549.2" cy="1215.9" r="7.0"/><circle cx="564.2" cy="1223.2" r="7.0"/><circle cx="565" cy="1215.6" r="7.0"/><circle cx="552.7" cy="1228" r="7.0"/><circle cx="562" cy="1216.4" r="7.0"/><circle cx="562" cy="1208.6" r="7.0"/><circle cx="555.1" cy="1209.5" r="7.0"/><circle cx="565.4" cy="1216" r="7.0"/><circle cx="552.8" cy="1219.6" r="7.0"/><circle cx="557.7" cy="1217.8" r="7.0"/><circle cx="554.6" cy="1230.8" r="7.0"/><circle cx="557.1" cy="1210.1" r="7.0"/><circle cx="549" cy="1162.9" r="7.0"/><circle cx="556" cy="1161.8" r="7.0"/><circle cx="563" cy="1154.9" r="7.0"/></g>
<rect x="639.8" y="1276.6" width="33" height="21.9" rx="7" fill="#63bde0"/>
<g fill="#63bde0" fill-opacity="0.38"><circle cx="657.6" cy="1279.4" r="7.0"/><circle cx="665.6" cy="1282.4" r="7.0"/><circle cx="651" cy="1288.2" r="7.0"/><circle cx="649.7" cy="1282.3" r="7.0"/><circle cx="653.3" cy="1277.1" r="7.0"/><circle cx="655" cy="1284.9" r="7.0"/><circle cx="664.2" cy="1279.1" r="7.0"/><circle cx="650.1" cy="1281.4" r="7.0"/><circle cx="660.2" cy="1286.2" r="7.0"/><circle cx="663.6" cy="1288.3" r="7.0"/><circle cx="651.1" cy="1278.5" r="7.0"/><circle cx="651.1" cy="1286.1" r="7.0"/><circle cx="647.7" cy="1280.8" r="7.0"/><circle cx="648" cy="1281.1" r="7.0"/><circle cx="657.1" cy="1278.9" r="7.0"/><circle cx="648.6" cy="1282.8" r="7.0"/><circle cx="653.5" cy="1290.8" r="7.0"/><circle cx="665.5" cy="1266.6" r="7.0"/><circle cx="658.2" cy="1270.4" r="7.0"/><circle cx="663.2" cy="1267" r="7.0"/><circle cx="648" cy="1271" r="7.0"/><circle cx="648.7" cy="1271.5" r="7.0"/><circle cx="647.2" cy="1274" r="7.0"/><circle cx="660" cy="1268.1" r="7.0"/><circle cx="650.2" cy="1268.5" r="7.0"/><circle cx="652" cy="1269.4" r="7.0"/><circle cx="659.5" cy="1277.2" r="7.0"/></g>
<rect x="737.9" y="1234.1" width="33" height="64.4" rx="7" fill="#63bde0"/>
<g fill="#63bde0" fill-opacity="0.38"><circle cx="751" cy="1248.1" r="7.0"/><circle cx="750.4" cy="1258.5" r="7.0"/><circle cx="751.7" cy="1254.2" r="7.0"/><circle cx="749.6" cy="1263.5" r="7.0"/><circle cx="749.9" cy="1266.6" r="7.0"/><circle cx="750.8" cy="1279.3" r="7.0"/><circle cx="750" cy="1252.8" r="7.0"/><circle cx="761" cy="1274.8" r="7.0"/><circle cx="754.6" cy="1258.5" r="7.0"/><circle cx="761.8" cy="1265.7" r="7.0"/><circle cx="756.8" cy="1245.4" r="7.0"/><circle cx="758.1" cy="1249.7" r="7.0"/><circle cx="752.8" cy="1257" r="7.0"/><circle cx="754.5" cy="1262.1" r="7.0"/><circle cx="755" cy="1258.5" r="7.0"/><circle cx="759.9" cy="1255.5" r="7.0"/><circle cx="749.2" cy="1239" r="7.0"/><circle cx="750.6" cy="1279" r="7.0"/><circle cx="760.1" cy="1278.6" r="7.0"/><circle cx="750.3" cy="1251.5" r="7.0"/><circle cx="761.4" cy="1271.2" r="7.0"/><circle cx="757.9" cy="1241.6" r="7.0"/><circle cx="759.1" cy="1248.2" r="7.0"/><circle cx="752.5" cy="1259.1" r="7.0"/><circle cx="761.6" cy="1254.6" r="7.0"/><circle cx="762.3" cy="1234.5" r="7.0"/><circle cx="746.3" cy="1241.6" r="7.0"/><circle cx="763.4" cy="1268.7" r="7.0"/><circle cx="754.7" cy="1255.1" r="7.0"/><circle cx="761.3" cy="1265.8" r="7.0"/><circle cx="763.7" cy="1256.3" r="7.0"/><circle cx="763.8" cy="1276.5" r="7.0"/><circle cx="747.7" cy="1279.4" r="7.0"/><circle cx="757.1" cy="1262.1" r="7.0"/><circle cx="755.6" cy="1274.9" r="7.0"/><circle cx="753.2" cy="1236.9" r="7.0"/><circle cx="756.2" cy="1245" r="7.0"/><circle cx="748.2" cy="1253.3" r="7.0"/><circle cx="762" cy="1258.7" r="7.0"/><circle cx="749" cy="1249.1" r="7.0"/><circle cx="753.4" cy="1203.8" r="7.0"/><circle cx="755.2" cy="1212.5" r="7.0"/><circle cx="751.3" cy="1205.5" r="7.0"/><circle cx="755.9" cy="1205.4" r="7.0"/><circle cx="756.9" cy="1189.2" r="7.0"/><circle cx="745.3" cy="1226.8" r="7.0"/><circle cx="749.1" cy="1211.5" r="7.0"/><circle cx="757.4" cy="1186.2" r="7.0"/><circle cx="749" cy="1198.5" r="7.0"/><circle cx="746.3" cy="1219" r="7.0"/><circle cx="759.4" cy="1198.6" r="7.0"/><circle cx="751.3" cy="1186.4" r="7.0"/><circle cx="763.1" cy="1214.7" r="7.0"/><circle cx="755.5" cy="1192.3" r="7.0"/><circle cx="746.8" cy="1228" r="7.0"/><circle cx="757" cy="1186.3" r="7.0"/><circle cx="749.9" cy="1210.4" r="7.0"/><circle cx="760.4" cy="1222.8" r="7.0"/><circle cx="758.7" cy="1193.6" r="7.0"/><circle cx="759.3" cy="1202.8" r="7.0"/><circle cx="750.5" cy="1141.1" r="7.0"/></g>
<rect x="836" y="1254.8" width="33" height="43.7" rx="7" fill="#63bde0"/>
<g fill="#63bde0" fill-opacity="0.38"><circle cx="843.7" cy="1289.4" r="7.0"/><circle cx="845.7" cy="1262.2" r="7.0"/><circle cx="843.6" cy="1284.1" r="7.0"/><circle cx="852" cy="1285.5" r="7.0"/><circle cx="849.1" cy="1256.3" r="7.0"/><circle cx="858.8" cy="1282" r="7.0"/><circle cx="855.1" cy="1284.7" r="7.0"/><circle cx="860.8" cy="1268.9" r="7.0"/><circle cx="853.7" cy="1289.9" r="7.0"/><circle cx="858.7" cy="1277.4" r="7.0"/><circle cx="856.6" cy="1282.2" r="7.0"/><circle cx="852.4" cy="1284.7" r="7.0"/><circle cx="847.6" cy="1255.9" r="7.0"/><circle cx="860.5" cy="1281.3" r="7.0"/><circle cx="844.3" cy="1266.7" r="7.0"/><circle cx="847.5" cy="1284.6" r="7.0"/><circle cx="859.1" cy="1280.8" r="7.0"/><circle cx="861.7" cy="1265.8" r="7.0"/><circle cx="855" cy="1266.9" r="7.0"/><circle cx="856.7" cy="1277.4" r="7.0"/><circle cx="844.2" cy="1273.4" r="7.0"/><circle cx="850.3" cy="1273.4" r="7.0"/><circle cx="844" cy="1272" r="7.0"/><circle cx="861.7" cy="1290.5" r="7.0"/><circle cx="849.3" cy="1277.9" r="7.0"/><circle cx="854.3" cy="1286" r="7.0"/><circle cx="846.5" cy="1257.9" r="7.0"/><circle cx="852.5" cy="1273.1" r="7.0"/><circle cx="853.8" cy="1263.4" r="7.0"/><circle cx="847.6" cy="1218.3" r="7.0"/><circle cx="846.6" cy="1222.8" r="7.0"/><circle cx="856.8" cy="1224.1" r="7.0"/><circle cx="844.5" cy="1235.9" r="7.0"/><circle cx="859.5" cy="1216" r="7.0"/><circle cx="843.7" cy="1254.4" r="7.0"/><circle cx="846.6" cy="1221.1" r="7.0"/><circle cx="851.9" cy="1227.6" r="7.0"/><circle cx="859.1" cy="1246.7" r="7.0"/><circle cx="854.8" cy="1223.7" r="7.0"/><circle cx="857.2" cy="1238.3" r="7.0"/><circle cx="857.5" cy="1234.9" r="7.0"/><circle cx="856.8" cy="1221.3" r="7.0"/><circle cx="844" cy="1249" r="7.0"/><circle cx="858.7" cy="1245.5" r="7.0"/><circle cx="845.8" cy="1230.4" r="7.0"/><circle cx="846.1" cy="1254" r="7.0"/><circle cx="843.8" cy="1234.1" r="7.0"/><circle cx="843.6" cy="1224.5" r="7.0"/><circle cx="859.7" cy="1236.8" r="7.0"/><circle cx="850.3" cy="1247.1" r="7.0"/><circle cx="844.7" cy="1224" r="7.0"/><circle cx="843.9" cy="1221.7" r="7.0"/><circle cx="859.1" cy="1225.2" r="7.0"/><circle cx="854.5" cy="1234.3" r="7.0"/></g>
<rect x="934.2" y="1259.4" width="33" height="39.1" rx="7" fill="#63bde0"/>
<g fill="#63bde0" fill-opacity="0.38"><circle cx="941.9" cy="1262" r="7.0"/><circle cx="946.6" cy="1287.9" r="7.0"/><circle cx="943.3" cy="1285.4" r="7.0"/><circle cx="953.3" cy="1285.1" r="7.0"/><circle cx="944.4" cy="1286.1" r="7.0"/><circle cx="948.3" cy="1274.3" r="7.0"/><circle cx="952" cy="1286.7" r="7.0"/><circle cx="948.5" cy="1275.2" r="7.0"/><circle cx="941.9" cy="1276.3" r="7.0"/><circle cx="944.8" cy="1271.7" r="7.0"/><circle cx="941.3" cy="1280.7" r="7.0"/><circle cx="952.3" cy="1263" r="7.0"/><circle cx="951.5" cy="1278.9" r="7.0"/><circle cx="943.7" cy="1261.3" r="7.0"/><circle cx="954.6" cy="1279.2" r="7.0"/><circle cx="954.6" cy="1279.5" r="7.0"/><circle cx="941.9" cy="1262.3" r="7.0"/><circle cx="946.7" cy="1282.4" r="7.0"/><circle cx="956.1" cy="1267.4" r="7.0"/><circle cx="958.7" cy="1269" r="7.0"/><circle cx="948.6" cy="1285.5" r="7.0"/><circle cx="955.7" cy="1264.1" r="7.0"/><circle cx="959.8" cy="1287.9" r="7.0"/><circle cx="957.6" cy="1267.7" r="7.0"/><circle cx="952.7" cy="1279.9" r="7.0"/><circle cx="958.2" cy="1260.7" r="7.0"/><circle cx="952.1" cy="1228.3" r="7.0"/><circle cx="958.1" cy="1232.1" r="7.0"/><circle cx="960.1" cy="1255.1" r="7.0"/><circle cx="957.1" cy="1247.5" r="7.0"/><circle cx="953.6" cy="1256.9" r="7.0"/><circle cx="959.4" cy="1259.2" r="7.0"/><circle cx="943.9" cy="1248.2" r="7.0"/><circle cx="948.8" cy="1229.7" r="7.0"/><circle cx="951.9" cy="1230.8" r="7.0"/><circle cx="943.7" cy="1256.3" r="7.0"/><circle cx="956" cy="1254" r="7.0"/><circle cx="942.3" cy="1246.7" r="7.0"/><circle cx="953.1" cy="1230.3" r="7.0"/><circle cx="946.5" cy="1238.5" r="7.0"/><circle cx="947.3" cy="1228.4" r="7.0"/><circle cx="952.7" cy="1257.9" r="7.0"/><circle cx="944.8" cy="1225.3" r="7.0"/><circle cx="949.7" cy="1253.1" r="7.0"/><circle cx="945" cy="1179" r="7.0"/><circle cx="945.5" cy="1165.2" r="7.0"/></g>
<rect x="1032.3" y="1276.6" width="33" height="21.9" rx="7" fill="#63bde0"/>
<g fill="#63bde0" fill-opacity="0.38"><circle cx="1058" cy="1278.7" r="7.0"/><circle cx="1046.2" cy="1287.6" r="7.0"/><circle cx="1042.9" cy="1281.1" r="7.0"/><circle cx="1043.1" cy="1278.8" r="7.0"/><circle cx="1045.7" cy="1283.2" r="7.0"/><circle cx="1039.3" cy="1291.5" r="7.0"/><circle cx="1045.5" cy="1291.5" r="7.0"/><circle cx="1058.1" cy="1287.4" r="7.0"/><circle cx="1040.5" cy="1282" r="7.0"/><circle cx="1043.7" cy="1280.8" r="7.0"/><circle cx="1053" cy="1284.3" r="7.0"/><circle cx="1057.1" cy="1278.7" r="7.0"/><circle cx="1045.3" cy="1285.2" r="7.0"/><circle cx="1045.2" cy="1285.6" r="7.0"/><circle cx="1048.1" cy="1280.4" r="7.0"/><circle cx="1042.2" cy="1281.3" r="7.0"/><circle cx="1057.6" cy="1279.8" r="7.0"/><circle cx="1043.1" cy="1269.1" r="7.0"/><circle cx="1051" cy="1265.6" r="7.0"/><circle cx="1042.4" cy="1267.7" r="7.0"/><circle cx="1040" cy="1275" r="7.0"/><circle cx="1047.1" cy="1268.5" r="7.0"/><circle cx="1042.8" cy="1271.8" r="7.0"/><circle cx="1053.2" cy="1277.5" r="7.0"/><circle cx="1050.2" cy="1273" r="7.0"/><circle cx="1052.1" cy="1273.4" r="7.0"/><circle cx="1057.7" cy="1269" r="7.0"/><circle cx="1040.4" cy="1273.9" r="7.0"/><circle cx="1041.1" cy="1269.4" r="7.0"/></g>
<rect x="1130.4" y="1284.6" width="33" height="13.9" rx="7" fill="#63bde0"/>
<g fill="#63bde0" fill-opacity="0.38"><circle cx="1146.1" cy="1291.3" r="7.0"/><circle cx="1150.4" cy="1285.8" r="7.0"/><circle cx="1153.7" cy="1287.7" r="7.0"/><circle cx="1139.5" cy="1288.9" r="7.0"/><circle cx="1137.9" cy="1287.1" r="7.0"/><circle cx="1138" cy="1289.9" r="7.0"/><circle cx="1138.6" cy="1290.4" r="7.0"/><circle cx="1139.8" cy="1287.8" r="7.0"/><circle cx="1153.1" cy="1287.3" r="7.0"/><circle cx="1139.7" cy="1289.1" r="7.0"/><circle cx="1151.2" cy="1286.9" r="7.0"/><circle cx="1147.9" cy="1285.4" r="7.0"/><circle cx="1153.8" cy="1287.5" r="7.0"/><circle cx="1150.3" cy="1275" r="7.0"/><circle cx="1155.9" cy="1282.1" r="7.0"/><circle cx="1142.9" cy="1282.8" r="7.0"/><circle cx="1152.1" cy="1275.1" r="7.0"/><circle cx="1149.4" cy="1278.2" r="7.0"/><circle cx="1146.3" cy="1282.8" r="7.0"/><circle cx="1137.6" cy="1283" r="7.0"/><circle cx="1146.5" cy="1271.6" r="7.0"/><circle cx="1142.4" cy="1276.2" r="7.0"/><circle cx="1148.8" cy="1279.7" r="7.0"/><circle cx="1147.1" cy="1281.9" r="7.0"/><circle cx="1147.1" cy="1270.9" r="7.0"/><circle cx="1138.5" cy="1275.1" r="7.0"/><circle cx="1139.9" cy="1274.5" r="7.0"/><circle cx="1147.7" cy="1239.8" r="7.0"/><circle cx="1148.5" cy="1235.2" r="7.0"/><circle cx="1150" cy="1259.4" r="7.0"/></g>
<rect x="1228.5" y="1277.7" width="33" height="20.8" rx="7" fill="#63bde0"/>
<g fill="#63bde0" fill-opacity="0.38"><circle cx="1248.5" cy="1283.1" r="7.0"/><circle cx="1250.6" cy="1277.9" r="7.0"/><circle cx="1244.2" cy="1287.5" r="7.0"/><circle cx="1250.8" cy="1284.5" r="7.0"/><circle cx="1253" cy="1286.1" r="7.0"/><circle cx="1243.1" cy="1284.8" r="7.0"/><circle cx="1242.3" cy="1284.9" r="7.0"/><circle cx="1236.4" cy="1277.7" r="7.0"/><circle cx="1237" cy="1286" r="7.0"/><circle cx="1238.4" cy="1282.2" r="7.0"/><circle cx="1243.6" cy="1289.4" r="7.0"/><circle cx="1250" cy="1283.2" r="7.0"/><circle cx="1241.1" cy="1285.4" r="7.0"/><circle cx="1252.4" cy="1286.4" r="7.0"/><circle cx="1235.7" cy="1288.6" r="7.0"/><circle cx="1244.7" cy="1279.3" r="7.0"/><circle cx="1238.1" cy="1289.7" r="7.0"/><circle cx="1252.4" cy="1276" r="7.0"/><circle cx="1249.8" cy="1276.4" r="7.0"/><circle cx="1236.7" cy="1275.6" r="7.0"/><circle cx="1248.3" cy="1277.7" r="7.0"/><circle cx="1239.6" cy="1273.8" r="7.0"/><circle cx="1244" cy="1275.5" r="7.0"/><circle cx="1247" cy="1272.3" r="7.0"/><circle cx="1236.5" cy="1275.6" r="7.0"/><circle cx="1253.3" cy="1275.2" r="7.0"/><circle cx="1241.9" cy="1274.8" r="7.0"/><circle cx="1238.3" cy="1271.3" r="7.0"/><circle cx="1250.3" cy="1276.1" r="7.0"/><circle cx="1237.6" cy="1273.2" r="7.0"/><circle cx="1236.2" cy="1277" r="7.0"/><circle cx="1247.9" cy="1274.2" r="7.0"/><circle cx="1244.5" cy="1276.6" r="7.0"/></g>
<rect x="153.2" y="1224.9" width="25" height="45.4" fill="none" stroke="#231f20" stroke-width="1.1"/>
<line x1="153.2" y1="1254.8" x2="178.2" y2="1254.8" stroke="#231f20" stroke-width="1.1"/>
<line x1="165.7" y1="1224.9" x2="165.7" y2="1158.3" stroke="#231f20" stroke-width="1.1"/>
<line x1="165.7" y1="1270.3" x2="165.7" y2="1291.5" stroke="#231f20" stroke-width="1.1"/>
<line x1="157.7" y1="1158.3" x2="173.7" y2="1158.3" stroke="#231f20" stroke-width="1.1"/>
<line x1="157.7" y1="1291" x2="173.7" y2="1291" stroke="#231f20" stroke-width="1.1"/>
<circle cx="165.7" cy="1238.7" r="10" fill="#231f20"/>
<rect x="251.3" y="1252.5" width="25" height="34.8" fill="none" stroke="#231f20" stroke-width="1.1"/>
<line x1="251.3" y1="1280" x2="276.3" y2="1280" stroke="#231f20" stroke-width="1.1"/>
<line x1="263.8" y1="1252.5" x2="263.8" y2="1201.9" stroke="#231f20" stroke-width="1.1"/>
<line x1="263.8" y1="1287.3" x2="263.8" y2="1291.5" stroke="#231f20" stroke-width="1.1"/>
<line x1="255.8" y1="1201.9" x2="271.8" y2="1201.9" stroke="#231f20" stroke-width="1.1"/>
<line x1="255.8" y1="1291" x2="271.8" y2="1291" stroke="#231f20" stroke-width="1.1"/>
<circle cx="263.8" cy="1258.8" r="10" fill="#231f20"/>
<rect x="349.4" y="1276.6" width="25" height="13.8" fill="none" stroke="#231f20" stroke-width="1.1"/>
<line x1="349.4" y1="1287.5" x2="374.4" y2="1287.5" stroke="#231f20" stroke-width="1.1"/>
<line x1="361.9" y1="1276.6" x2="361.9" y2="1258.2" stroke="#231f20" stroke-width="1.1"/>
<line x1="361.9" y1="1290.4" x2="361.9" y2="1291.5" stroke="#231f20" stroke-width="1.1"/>
<line x1="353.9" y1="1258.2" x2="369.9" y2="1258.2" stroke="#231f20" stroke-width="1.1"/>
<line x1="353.9" y1="1291" x2="369.9" y2="1291" stroke="#231f20" stroke-width="1.1"/>
<circle cx="361.9" cy="1277.7" r="10" fill="#231f20"/>
<rect x="447.6" y="1277.1" width="25" height="13.2" fill="none" stroke="#231f20" stroke-width="1.1"/>
<line x1="447.6" y1="1287.5" x2="472.6" y2="1287.5" stroke="#231f20" stroke-width="1.1"/>
<line x1="460.1" y1="1277.1" x2="460.1" y2="1260.5" stroke="#231f20" stroke-width="1.1"/>
<line x1="460.1" y1="1290.4" x2="460.1" y2="1291.5" stroke="#231f20" stroke-width="1.1"/>
<line x1="452.1" y1="1260.5" x2="468.1" y2="1260.5" stroke="#231f20" stroke-width="1.1"/>
<line x1="452.1" y1="1291" x2="468.1" y2="1291" stroke="#231f20" stroke-width="1.1"/>
<circle cx="460.1" cy="1280.5" r="10" fill="#231f20"/>
<rect x="545.7" y="1284.6" width="25" height="6.3" fill="none" stroke="#231f20" stroke-width="1.1"/>
<line x1="545.7" y1="1289.2" x2="570.7" y2="1289.2" stroke="#231f20" stroke-width="1.1"/>
<line x1="558.2" y1="1284.6" x2="558.2" y2="1277.7" stroke="#231f20" stroke-width="1.1"/>
<line x1="558.2" y1="1290.9" x2="558.2" y2="1291.5" stroke="#231f20" stroke-width="1.1"/>
<line x1="550.2" y1="1277.7" x2="566.2" y2="1277.7" stroke="#231f20" stroke-width="1.1"/>
<line x1="550.2" y1="1291" x2="566.2" y2="1291" stroke="#231f20" stroke-width="1.1"/>
<circle cx="558.2" cy="1285.9" r="10" fill="#231f20"/>
<rect x="643.8" y="1286.9" width="25" height="4" fill="none" stroke="#231f20" stroke-width="1.1"/>
<line x1="643.8" y1="1289.8" x2="668.8" y2="1289.8" stroke="#231f20" stroke-width="1.1"/>
<line x1="656.3" y1="1286.9" x2="656.3" y2="1281.2" stroke="#231f20" stroke-width="1.1"/>
<line x1="656.3" y1="1290.9" x2="656.3" y2="1291.5" stroke="#231f20" stroke-width="1.1"/>
<line x1="648.3" y1="1281.2" x2="664.3" y2="1281.2" stroke="#231f20" stroke-width="1.1"/>
<line x1="648.3" y1="1291" x2="664.3" y2="1291" stroke="#231f20" stroke-width="1.1"/>
<circle cx="656.3" cy="1287.3" r="10" fill="#231f20"/>
<rect x="741.9" y="1288.1" width="25" height="3.2" fill="none" stroke="#231f20" stroke-width="1.1"/>
<line x1="741.9" y1="1290.4" x2="766.9" y2="1290.4" stroke="#231f20" stroke-width="1.1"/>
<line x1="754.4" y1="1288.1" x2="754.4" y2="1283.5" stroke="#231f20" stroke-width="1.1"/>
<line x1="754.4" y1="1291.3" x2="754.4" y2="1291.5" stroke="#231f20" stroke-width="1.1"/>
<line x1="746.4" y1="1283.5" x2="762.4" y2="1283.5" stroke="#231f20" stroke-width="1.1"/>
<line x1="746.4" y1="1291" x2="762.4" y2="1291" stroke="#231f20" stroke-width="1.1"/>
<circle cx="754.4" cy="1287.3" r="10" fill="#231f20"/>
<rect x="840" y="1286.9" width="25" height="4.4" fill="none" stroke="#231f20" stroke-width="1.1"/>
<line x1="840" y1="1290.4" x2="865" y2="1290.4" stroke="#231f20" stroke-width="1.1"/>
<line x1="852.5" y1="1286.9" x2="852.5" y2="1281.2" stroke="#231f20" stroke-width="1.1"/>
<line x1="852.5" y1="1291.3" x2="852.5" y2="1291.5" stroke="#231f20" stroke-width="1.1"/>
<line x1="844.5" y1="1281.2" x2="860.5" y2="1281.2" stroke="#231f20" stroke-width="1.1"/>
<line x1="844.5" y1="1291" x2="860.5" y2="1291" stroke="#231f20" stroke-width="1.1"/>
<circle cx="852.5" cy="1287.3" r="10" fill="#231f20"/>
<rect x="938.2" y="1288.1" width="25" height="3.2" fill="none" stroke="#231f20" stroke-width="1.1"/>
<line x1="938.2" y1="1290.4" x2="963.2" y2="1290.4" stroke="#231f20" stroke-width="1.1"/>
<line x1="950.7" y1="1288.1" x2="950.7" y2="1283.5" stroke="#231f20" stroke-width="1.1"/>
<line x1="950.7" y1="1291.3" x2="950.7" y2="1291.5" stroke="#231f20" stroke-width="1.1"/>
<line x1="942.7" y1="1283.5" x2="958.7" y2="1283.5" stroke="#231f20" stroke-width="1.1"/>
<line x1="942.7" y1="1291" x2="958.7" y2="1291" stroke="#231f20" stroke-width="1.1"/>
<circle cx="950.7" cy="1288.6" r="10" fill="#231f20"/>
<rect x="1036.3" y="1288.1" width="25" height="3.2" fill="none" stroke="#231f20" stroke-width="1.1"/>
<line x1="1036.3" y1="1290.4" x2="1061.3" y2="1290.4" stroke="#231f20" stroke-width="1.1"/>
<line x1="1048.8" y1="1288.1" x2="1048.8" y2="1284.6" stroke="#231f20" stroke-width="1.1"/>
<line x1="1048.8" y1="1291.3" x2="1048.8" y2="1291.5" stroke="#231f20" stroke-width="1.1"/>
<line x1="1040.8" y1="1284.6" x2="1056.8" y2="1284.6" stroke="#231f20" stroke-width="1.1"/>
<line x1="1040.8" y1="1291" x2="1056.8" y2="1291" stroke="#231f20" stroke-width="1.1"/>
<circle cx="1048.8" cy="1288.6" r="10" fill="#231f20"/>
<rect x="1134.4" y="1289.2" width="25" height="2.1" fill="none" stroke="#231f20" stroke-width="1.1"/>
<line x1="1134.4" y1="1290.9" x2="1159.4" y2="1290.9" stroke="#231f20" stroke-width="1.1"/>
<line x1="1146.9" y1="1289.2" x2="1146.9" y2="1286.9" stroke="#231f20" stroke-width="1.1"/>
<line x1="1146.9" y1="1291.3" x2="1146.9" y2="1291.5" stroke="#231f20" stroke-width="1.1"/>
<line x1="1138.9" y1="1286.9" x2="1154.9" y2="1286.9" stroke="#231f20" stroke-width="1.1"/>
<line x1="1138.9" y1="1291" x2="1154.9" y2="1291" stroke="#231f20" stroke-width="1.1"/>
<circle cx="1146.9" cy="1288.6" r="10" fill="#231f20"/>
<rect x="1232.5" y="1289.2" width="25" height="2.1" fill="none" stroke="#231f20" stroke-width="1.1"/>
<line x1="1232.5" y1="1290.9" x2="1257.5" y2="1290.9" stroke="#231f20" stroke-width="1.1"/>
<line x1="1245" y1="1289.2" x2="1245" y2="1286.9" stroke="#231f20" stroke-width="1.1"/>
<line x1="1245" y1="1291.3" x2="1245" y2="1291.5" stroke="#231f20" stroke-width="1.1"/>
<line x1="1237" y1="1286.9" x2="1253" y2="1286.9" stroke="#231f20" stroke-width="1.1"/>
<line x1="1237" y1="1291" x2="1253" y2="1291" stroke="#231f20" stroke-width="1.1"/>
<circle cx="1245" cy="1288.6" r="10" fill="#231f20"/>
<rect x="116.4" y="717.4" width="1177.5" height="574.1" fill="none" stroke="#3a3a3a" stroke-width="1.3"/>
<text x="107.5" y="1299.8" font-size="23.8" text-anchor="end">0</text>
<text x="107.5" y="1185" font-size="23.8" text-anchor="end">10</text>
<text x="107.5" y="1070.2" font-size="23.8" text-anchor="end">20</text>
<text x="107.5" y="955.3" font-size="23.8" text-anchor="end">30</text>
<text x="107.5" y="840.5" font-size="23.8" text-anchor="end">40</text>
<text x="107.5" y="725.7" font-size="23.8" text-anchor="end">50</text>
<text x="54" y="1000.4" font-size="23.8" text-anchor="middle" transform="rotate(-90 54 1000.4)">Relative abundance (%)</text>
<text x="121.6" y="782.7" font-size="22.5">n = 4,583</text>
<text x="220.7" y="806.3" font-size="22.5">n = 3,023</text>
<text x="411" y="812.3" font-size="22.5">n = 2,574</text>
<text x="324.9" y="1095.2" font-size="22.5">n = 285</text>
<text x="511" y="1126.8" font-size="22.5">n = 2,481</text>
<text x="622" y="1228.2" font-size="22.5">n = 196</text>
<text x="712.5" y="1117.1" font-size="22.5">n = 1,737</text>
<text x="806.5" y="1196.8" font-size="22.5">n = 3,143</text>
<text x="907.1" y="1136.3" font-size="22.5">n = 2,779</text>
<text x="1004.5" y="1237.8" font-size="22.5">n = 3,726</text>
<text x="1109.2" y="1208.8" font-size="22.5">n = 207</text>
<text x="1199.2" y="1236.8" font-size="22.5">n = 3,165</text>
<text x="161" y="1328.6" font-size="20.9" text-anchor="middle" transform="rotate(-44 161 1328.6)">Novel</text>
<text x="178.6" y="1346.8" font-size="20.9" text-anchor="middle" transform="rotate(-44 178.6 1346.8)">taxa</text>
<text x="230.7" y="1356" font-size="20.9" text-anchor="middle" transform="rotate(-44 230.7 1356)" font-style="italic">R. intestinale</text>
<text x="248.3" y="1374.2" font-size="20.9" text-anchor="middle" transform="rotate(-44 248.3 1374.2)">CLA-AA-H216</text>
<text x="315.4" y="1368.9" font-size="20.9" text-anchor="middle" transform="rotate(-44 315.4 1368.9)" font-style="italic">R. intestinihominis</text>
<text x="333" y="1387.1" font-size="20.9" text-anchor="middle" transform="rotate(-44 333 1387.1)">CLA-AA-H171</text>
<text x="426.9" y="1356" font-size="20.9" text-anchor="middle" transform="rotate(-44 426.9 1356)" font-style="italic">L. rogosae</text>
<text x="444.5" y="1374.2" font-size="20.9" text-anchor="middle" transform="rotate(-44 444.5 1374.2)">CLA-AA-H191</text>
<text x="529.2" y="1351.9" font-size="20.9" text-anchor="middle" transform="rotate(-44 529.2 1351.9)" font-style="italic">L. hominis</text>
<text x="546.8" y="1370.1" font-size="20.9" text-anchor="middle" transform="rotate(-44 546.8 1370.1)">CLA-JM-H10</text>
<text x="600.6" y="1377.8" font-size="20.9" text-anchor="middle" transform="rotate(-44 600.6 1377.8)" font-style="italic">Meg. intestinihominis</text>
<text x="618.2" y="1396" font-size="20.9" text-anchor="middle" transform="rotate(-44 618.2 1396)">CLA-AA-H81</text>
<text x="708.3" y="1368.5" font-size="20.9" text-anchor="middle" transform="rotate(-44 708.3 1368.5)" font-style="italic">B. intestinihominis</text>
<text x="725.9" y="1386.7" font-size="20.9" text-anchor="middle" transform="rotate(-44 725.9 1386.7)">CLA-AA-H95</text>
<text x="797.3" y="1377.4" font-size="20.9" text-anchor="middle" transform="rotate(-44 797.3 1377.4)" font-style="italic">Mac. intestinihominis</text>
<text x="814.8" y="1395.6" font-size="20.9" text-anchor="middle" transform="rotate(-44 814.8 1395.6)">CLA-AA-H185</text>
<text x="916.7" y="1356.8" font-size="20.9" text-anchor="middle" transform="rotate(-44 916.7 1356.8)" font-style="italic">L. intestinalis</text>
<text x="934.3" y="1375" font-size="20.9" text-anchor="middle" transform="rotate(-44 934.3 1375)">CLA-AA-H89B</text>
<text x="1002.3" y="1368.9" font-size="20.9" text-anchor="middle" transform="rotate(-44 1002.3 1368.9)" font-style="italic">C. intestinihominis</text>
<text x="1019.9" y="1387.1" font-size="20.9" text-anchor="middle" transform="rotate(-44 1019.9 1387.1)">CLA-AA-H190</text>
<text x="1100.8" y="1368.5" font-size="20.9" text-anchor="middle" transform="rotate(-44 1100.8 1368.5)" font-style="italic">E. intestinihominis</text>
<text x="1118.4" y="1386.7" font-size="20.9" text-anchor="middle" transform="rotate(-44 1118.4 1386.7)">CLA-AC-H004</text>
<text x="1211.9" y="1356" font-size="20.9" text-anchor="middle" transform="rotate(-44 1211.9 1356)" font-style="italic">F. tardum</text>
<text x="1229.5" y="1374.2" font-size="20.9" text-anchor="middle" transform="rotate(-44 1229.5 1374.2)">CLA-AA-H175</text><path d="M1699.1 65.3A311.8 311.8 0 0 1 1941.4 533.8L1936.1 530.7A305.6 305.6 0 0 0 1698.6 71.5ZM1939.2 537.5A311.8 311.8 0 0 1 1594.9 678L1596.4 672A305.6 305.6 0 0 0 1933.9 534.3ZM1590.8 676.9A311.8 311.8 0 0 1 1397.2 522.3L1402.6 519.4A305.6 305.6 0 0 0 1592.4 670.9ZM1395.2 518.6A311.8 311.8 0 0 1 1360.9 387.9L1367.1 387.7A305.6 305.6 0 0 0 1400.7 515.7ZM1360.8 383.7A311.8 311.8 0 0 1 1384.2 257.1L1390 259.5A305.6 305.6 0 0 0 1367 383.5ZM1385.9 253.2A311.8 311.8 0 0 1 1446.7 160.9L1451.2 165.2A305.6 305.6 0 0 0 1391.6 255.7ZM1449.7 157.9A311.8 311.8 0 0 1 1491.5 122.1L1495.1 127.2A305.6 305.6 0 0 0 1454.1 162.2ZM1495 119.7A311.8 311.8 0 0 1 1532.9 97.2L1535.7 102.7A305.6 305.6 0 0 0 1498.5 124.8ZM1536.7 95.3A311.8 311.8 0 0 1 1572.6 80.6L1574.6 86.5A305.6 305.6 0 0 0 1539.4 100.9ZM1576.6 79.3A311.8 311.8 0 0 1 1605.1 71.6L1606.4 77.6A305.6 305.6 0 0 0 1578.5 85.2ZM1609.2 70.7A311.8 311.8 0 0 1 1631.9 66.9L1632.7 73A305.6 305.6 0 0 0 1610.5 76.8ZM1636.1 66.3A311.8 311.8 0 0 1 1648.6 65.1L1649.1 71.3A305.6 305.6 0 0 0 1636.8 72.5Z" fill="#bebebe"/>
<path d="M1698.4 74.1A303 303 0 0 1 1933.8 529.4L1903.6 511.7A268 268 0 0 0 1695.4 109ZM1931.7 532.9A303 303 0 0 1 1597.1 669.5L1605.8 635.6A268 268 0 0 0 1901.8 514.8ZM1593.1 668.4A303 303 0 0 1 1404.9 518.2L1435.8 501.8A268 268 0 0 0 1602.3 634.6ZM1403 514.5A303 303 0 0 1 1369.7 387.6L1404.7 386.2A268 268 0 0 0 1434.2 498.5ZM1369.6 383.5A303 303 0 0 1 1392.4 260.5L1424.7 273.8A268 268 0 0 0 1404.6 382.6ZM1394 256.7A303 303 0 0 1 1453.1 167L1478.5 191.1A268 268 0 0 0 1426.2 270.5ZM1456 164A303 303 0 0 1 1496.6 129.3L1516.9 157.8A268 268 0 0 0 1481 188.5ZM1500 126.9A303 303 0 0 1 1536.9 105L1552.5 136.3A268 268 0 0 0 1519.9 155.7ZM1540.6 103.2A303 303 0 0 1 1575.4 89L1586.6 122.1A268 268 0 0 0 1555.8 134.7ZM1579.3 87.7A303 303 0 0 1 1607 80.2L1614.5 114.3A268 268 0 0 0 1590.1 121ZM1611 79.3A303 303 0 0 1 1633 75.6L1637.6 110.3A268 268 0 0 0 1618.1 113.6ZM1637.1 75.1A303 303 0 0 1 1649.3 73.9L1651.9 108.8A268 268 0 0 0 1641.2 109.8Z" fill="none" stroke="#c0c0c0" stroke-width="2.2"/>
<path d="M1695.2 111.4A265.6 265.6 0 0 1 1901.6 510.4L1871.9 493A231.2 231.2 0 0 0 1692.2 145.6ZM1899.7 513.5A265.6 265.6 0 0 1 1606.4 633.2L1615 599.9A231.2 231.2 0 0 0 1870.3 495.7ZM1602.9 632.3A265.6 265.6 0 0 1 1438 500.7L1468.3 484.5A231.2 231.2 0 0 0 1611.9 599.1ZM1436.3 497.4A265.6 265.6 0 0 1 1407.1 386.1L1441.5 384.8A231.2 231.2 0 0 0 1466.9 481.7ZM1407 382.5A265.6 265.6 0 0 1 1427 274.7L1458.8 287.9A231.2 231.2 0 0 0 1441.4 381.7ZM1428.4 271.4A265.6 265.6 0 0 1 1480.2 192.8L1505.1 216.5A231.2 231.2 0 0 0 1460 285ZM1482.7 190.2A265.6 265.6 0 0 1 1518.3 159.7L1538.3 187.8A231.2 231.2 0 0 0 1507.3 214.3ZM1521.3 157.7A265.6 265.6 0 0 1 1553.6 138.5L1569 169.3A231.2 231.2 0 0 0 1540.8 185.9ZM1556.9 136.9A265.6 265.6 0 0 1 1587.4 124.4L1598.4 157A231.2 231.2 0 0 0 1571.8 167.9ZM1590.8 123.3A265.6 265.6 0 0 1 1615.1 116.7L1622.5 150.3A231.2 231.2 0 0 0 1601.4 156ZM1618.6 115.9A265.6 265.6 0 0 1 1637.9 112.7L1642.4 146.8A231.2 231.2 0 0 0 1625.6 149.6ZM1641.5 112.2A265.6 265.6 0 0 1 1652.1 111.2L1654.8 145.5A231.2 231.2 0 0 0 1645.5 146.4Z" fill="none" stroke="#c0c0c0" stroke-width="2.2"/>
<path d="M1698.8 83.7A293.5 293.5 0 0 1 1926.2 523.5M1923 529A293.5 293.5 0 0 1 1600.6 660.6M1594.4 658.9A293.5 293.5 0 0 1 1413.9 514.8M1410.9 509.1A293.5 293.5 0 0 1 1379.3 388.4M1379.1 382A293.5 293.5 0 0 1 1400.7 265.2M1403.2 259.3A293.5 293.5 0 0 1 1459.2 174.4M1463.6 169.8A293.5 293.5 0 0 1 1501.1 137.7M1506.4 134A293.5 293.5 0 0 1 1540.1 114.1M1545.8 111.3A293.5 293.5 0 0 1 1577.3 98.4M1583.4 96.4A293.5 293.5 0 0 1 1607.9 89.7M1614.1 88.4A293.5 293.5 0 0 1 1633.1 85.2M1639.4 84.4A293.5 293.5 0 0 1 1648.8 83.5M1697.3 100.3A276.8 276.8 0 0 1 1911.8 515.1M1908.7 520.4A276.8 276.8 0 0 1 1604.8 644.4M1598.8 642.8A276.8 276.8 0 0 1 1428.6 507M1425.8 501.5A276.8 276.8 0 0 1 1396 387.8M1395.8 381.6A276.8 276.8 0 0 1 1416.1 271.6M1418.5 265.9A276.8 276.8 0 0 1 1471.3 185.9M1475.5 181.5A276.8 276.8 0 0 1 1510.8 151.3M1515.9 147.8A276.8 276.8 0 0 1 1547.5 129M1553.1 126.3A276.8 276.8 0 0 1 1582.7 114.2M1588.5 112.2A276.8 276.8 0 0 1 1611.5 106M1617.5 104.7A276.8 276.8 0 0 1 1635.2 101.7M1641.3 101A276.8 276.8 0 0 1 1650.1 100.1M1695.6 120.4A256.6 256.6 0 0 1 1894.4 504.9M1891.4 509.9A256.6 256.6 0 0 1 1609.8 624.8M1604.1 623.3A256.6 256.6 0 0 1 1446.5 497.5M1443.8 492.3A256.6 256.6 0 0 1 1416.1 387M1416 381.1A256.6 256.6 0 0 1 1434.8 279.3M1437.1 273.9A256.6 256.6 0 0 1 1485.9 199.9M1490 195.6A256.6 256.6 0 0 1 1522.6 167.8M1527.4 164.4A256.6 256.6 0 0 1 1556.6 147.1M1561.9 144.5A256.6 256.6 0 0 1 1589.1 133.3M1594.7 131.5A256.6 256.6 0 0 1 1615.8 125.7M1621.6 124.5A256.6 256.6 0 0 1 1637.9 121.7M1643.7 121A256.6 256.6 0 0 1 1651.6 120.3M1694.2 137.5A239.5 239.5 0 0 1 1879.7 496.2M1876.8 501.1A239.5 239.5 0 0 1 1614.1 608.3M1608.6 606.8A239.5 239.5 0 0 1 1461.6 489.5M1459 484.4A239.5 239.5 0 0 1 1433.2 386.4M1433 380.7A239.5 239.5 0 0 1 1450.6 285.8M1452.8 280.6A239.5 239.5 0 0 1 1498.3 211.7M1502.2 207.6A239.5 239.5 0 0 1 1532.5 181.7M1537.1 178.4A239.5 239.5 0 0 1 1564.2 162.4M1569.3 159.9A239.5 239.5 0 0 1 1594.6 149.5M1600 147.7A239.5 239.5 0 0 1 1619.5 142.4M1625.1 141.2A239.5 239.5 0 0 1 1640.1 138.7M1645.7 138A239.5 239.5 0 0 1 1652.9 137.3" fill="none" stroke="#333" stroke-width="0.75"/>
<path d="M1470.9 176.7A283.5 283.5 0 0 1 1506.8 146M1512.2 142.1A283.5 283.5 0 0 1 1544.3 123.1M1586.7 105.8A283.5 283.5 0 0 1 1609.8 99.5M1616.4 98.1A283.5 283.5 0 0 1 1634.1 95.1M1640.8 94.3A283.5 283.5 0 0 1 1649.3 93.4" stroke="#e8707a" stroke-width="0.6" fill="none"/>
<path d="M1798.5 175.9L1796.7 178.8M1800.1 176.9L1798.9 178.8M1801.1 177.5L1798.8 181.2M1801.7 177.9L1800 180.4M1802.2 178.2L1800.2 181.2M1802.7 178.6L1801.9 179.8M1803.7 179.2L1803.1 180.1M1804.2 179.6L1801.5 183.7M1894.2 293.8L1890.8 295M1894.9 295.5L1892.7 296.3M1895.3 296.7L1893.8 297.2M1895.5 297.2L1891.8 298.5M1895.7 297.8L1891.3 299.4M1895.9 298.4L1891.7 299.9M1896.3 299.6L1893.8 300.4M1896.9 301.3L1892.9 302.7M1897.1 301.9L1895.7 302.4M1897.3 302.5L1894.9 303.3M1897.5 303.1L1895.7 303.7M1897.7 303.7L1893.5 305M1849.8 532.6L1848.2 531.2M1849.4 533L1846.2 530.2M1848.9 533.5L1845.8 530.7M1848.1 534.4L1845.8 532.3M1847.3 535.3L1846.3 534.4M1846.9 535.8L1844.2 533.4M1846 536.7L1844 534.8" stroke="#c45ac4" stroke-width="0.9" fill="none"/>
<path d="M1698.6 93.7L1699.8 80.9M1699.6 93.8L1700.3 86.8M1700.6 93.9L1701.2 87.8M1701.6 94L1702.6 84.3M1702.6 94.1L1703.3 87.1M1703.5 94.2L1704.5 85.2M1704.5 94.3L1705.8 82.9M1705.5 94.4L1706.7 84.2M1706.5 94.5L1707.5 86.3M1707.5 94.7L1708.3 88.3M1708.5 94.8L1709.2 89.1M1709.4 94.9L1710.3 88.2M1710.4 95L1711.2 89M1711.4 95.2L1713 84M1712.4 95.3L1713.4 87.9M1713.4 95.5L1714.4 88.6M1714.3 95.6L1715.5 87.8M1715.3 95.8L1716.2 90.2M1716.3 95.9L1717.7 86.9M1717.3 96.1L1718.8 86.4M1718.2 96.2L1719.7 87.5M1719.2 96.4L1720.8 87M1720.2 96.5L1721.6 88.6M1721.2 96.7L1723.1 85.5M1722.2 96.9L1723.4 89.7M1723.1 97.1L1724.9 87.4M1724.1 97.2L1725.3 90.5M1725.1 97.4L1726.6 89.6M1726 97.6L1727.4 90.3M1727 97.8L1727.9 93.4M1728 98L1730.2 87.1M1729 98.2L1730.4 91.3M1729.9 98.4L1731.8 89.3M1730.9 98.6L1732.6 90.4M1731.9 98.8L1733.9 89.3M1732.8 99L1734 93.7M1733.8 99.2L1736.2 88.4M1734.8 99.4L1736.4 92M1735.7 99.6L1736.9 94.7M1736.7 99.9L1739.7 86.8M1737.7 100.1L1740.1 89.7M1738.6 100.3L1740.9 91M1739.6 100.5L1741.9 90.9M1740.5 100.8L1742.5 93M1741.5 101L1743.9 91.5M1742.5 101.3L1745.2 90.7M1743.4 101.5L1744.5 97.3M1744.4 101.8L1747.1 91.4M1745.3 102L1748.3 90.8M1746.3 102.3L1747.8 96.5M1747.2 102.5L1748.7 97.1M1748.2 102.8L1750.9 92.9M1749.2 103.1L1751.5 94.7M1750.1 103.3L1752.9 93.4M1751.1 103.6L1752.7 97.9M1752 103.9L1754.1 96.7M1753 104.2L1755 97.3M1753.9 104.4L1755.9 97.7M1754.9 104.7L1757.3 96.5M1755.8 105L1759.9 91.7M1756.7 105.3L1758.8 98.7M1757.7 105.6L1760.1 97.9M1758.6 105.9L1760.2 101M1764.3 107.8L1767.4 98.7M1765.2 108.1L1767.3 102M1766.1 108.4L1768 103.2M1767.1 108.7L1769.7 101.2M1768 109.1L1771.9 98.3M1768.9 109.4L1772.2 100.3M1769.9 109.7L1773.6 99.5M1770.8 110.1L1773.8 102M1771.7 110.4L1775 101.7M1772.6 110.8L1776.5 100.6M1773.6 111.1L1776.7 102.9M1774.5 111.5L1776.4 106.7M1775.4 111.8L1779.3 101.9M1776.3 112.2L1779.6 104M1777.3 112.6L1780.6 104.2M1778.2 112.9L1781.4 104.9M1779.1 113.3L1780.6 109.7M1780 113.7L1781.9 109M1780.9 114.1L1785.4 103.3M1781.8 114.4L1784.3 108.5M1782.8 114.8L1786.9 104.9M1783.7 115.2L1787 107.4M1784.6 115.6L1787.8 108M1785.5 116L1790 105.6M1786.4 116.4L1790.8 106.4M1787.3 116.8L1790.4 109.7M1788.2 117.2L1791.9 109M1789.1 117.6L1791.5 112.4M1790 118L1792.4 112.7M1790.9 118.4L1793.8 112.1M1791.8 118.8L1794.8 112.3M1792.7 119.2L1795.9 112.4M1793.6 119.7L1796 114.5M1794.5 120.1L1798.1 112.6M1795.4 120.5L1796.3 118.6M1796.3 120.9L1800.7 111.8M1797.2 121.4L1800.6 114.4M1798.1 121.8L1801.9 114M1798.9 122.3L1802.4 115.2M1799.8 122.7L1803.8 114.7M1800.7 123.1L1804.7 115.3M1801.6 123.6L1806 114.9M1802.5 124L1808.9 111.5M1803.3 124.5L1807.5 116.5M1804.2 125L1809.5 114.9M1805.1 125.4L1808.4 119.2M1806 125.9L1809.8 118.7M1806.8 126.4L1809.4 121.6M1807.7 126.8L1812.2 118.6M1808.6 127.3L1810.8 123.2M1809.5 127.8L1815.9 116.1M1810.3 128.3L1813.5 122.6M1811.2 128.7L1815.4 121.2M1812 129.2L1816.7 120.9M1812.9 129.7L1817.9 120.9M1813.8 130.2L1817.9 123M1814.6 130.7L1817.6 125.5M1815.5 131.2L1817.9 127M1816.3 131.7L1822.7 120.9M1817.2 132.2L1822 124.1M1818 132.7L1821.4 127.1M1818.9 133.2L1825.7 121.9M1819.7 133.7L1824.4 126.1M1820.6 134.2L1825.5 126.2M1821.4 134.8L1827 125.7M1822.3 135.3L1828 126M1828.9 139.6L1833.4 132.7M1829.7 140.1L1834.4 133.2M1830.6 140.7L1836 132.5M1831.4 141.2L1834.9 136M1832.2 141.8L1836.2 135.9M1833 142.3L1839.1 133.4M1833.8 142.9L1839.3 135.1M1834.6 143.4L1838.9 137.4M1835.5 144L1842 134.7M1836.3 144.6L1840.4 138.8M1837.1 145.2L1841.8 138.5M1837.9 145.7L1842.7 139M1838.7 146.3L1844.7 138M1839.5 146.9L1844.8 139.6M1840.3 147.5L1844.3 142.1M1841.1 148.1L1846.6 140.7M1841.9 148.7L1845.3 144.1M1842.7 149.2L1846.6 144M1843.5 149.8L1845.6 147M1844.2 150.4L1852.5 139.6M1845 151L1848.5 146.5M1845.8 151.6L1851.5 144.3M1846.6 152.3L1852.1 145.2M1847.4 152.9L1854.5 143.8M1848.2 153.5L1852.9 147.5M1848.9 154.1L1850.4 152.3M1849.7 154.7L1853.1 150.4M1850.5 155.3L1856.5 147.8M1851.2 155.9L1858.7 146.7M1852 156.6L1857.8 149.5M1852.8 157.2L1857.4 151.6M1853.5 157.8L1858.6 151.8M1854.3 158.5L1859.1 152.7M1858.8 162.3L1866.1 154M1859.6 163L1867.2 154.3M1860.3 163.6L1862.8 160.8M1861 164.3L1866.4 158.2M1861.8 164.9L1868.6 157.3M1862.5 165.6L1868.9 158.6M1863.2 166.3L1869.5 159.4M1864 166.9L1868.8 161.6M1864.7 167.6L1871 160.8M1865.4 168.3L1871.9 161.4M1866.2 169L1870.8 164M1866.9 169.6L1871.7 164.6M1867.6 170.3L1871.6 166.1M1868.3 171L1873.9 165.1M1869 171.7L1875.8 164.6M1869.7 172.4L1872.9 169.1M1870.5 173.1L1877.5 165.9M1871.2 173.7L1874.9 169.9M1871.9 174.4L1879.1 167.1M1872.6 175.1L1879.9 167.8M1873.3 175.8L1874.8 174.3M1874 176.5L1880 170.6M1874.7 177.2L1880.7 171.3M1875.4 178L1882.9 170.5M1876 178.7L1883.2 171.7M1876.7 179.4L1884.5 171.9M1877.4 180.1L1879.5 178.1M1878.1 180.8L1881.6 177.5M1878.8 181.5L1886.1 174.6M1879.5 182.2L1887.3 174.9M1880.1 183L1885.9 177.6M1880.8 183.7L1887.2 177.8M1881.5 184.4L1887.6 178.8M1882.1 185.2L1886.6 181.1M1882.8 185.9L1890.6 178.9M1883.5 186.6L1890.7 180.1M1884.1 187.4L1888.5 183.5M1884.8 188.1L1892.5 181.2M1885.4 188.8L1893.4 181.9M1886.1 189.6L1895.5 181.3M1886.7 190.3L1895 183.2M1887.4 191.1L1891.6 187.5M1888 191.8L1894.2 186.6M1888.7 192.6L1892.3 189.5M1889.3 193.3L1898.1 186M1889.9 194.1L1895.7 189.3M1890.6 194.9L1896.5 189.9M1891.2 195.6L1899.8 188.6M1891.8 196.4L1896.9 192.3M1892.5 197.2L1897.3 193.2M1893.1 197.9L1897.4 194.4M1893.7 198.7L1902 192.1M1894.3 199.5L1900.5 194.6M1894.9 200.2L1902.5 194.3M1895.6 201L1902 195.9M1896.2 201.8L1903.5 196M1896.8 202.6L1906.2 195.3M1897.4 203.4L1902.8 199.2M1898 204.1L1904.6 199.1M1898.6 204.9L1906.2 199.2M1899.2 205.7L1907.8 199.2M1899.8 206.5L1906.4 201.6M1900.4 207.3L1909.3 200.7M1900.9 208.1L1909.2 202.1M1901.5 208.9L1912.7 200.8M1902.1 209.7L1906.9 206.3M1902.7 210.5L1910.6 204.8M1903.3 211.3L1910.1 206.5M1903.8 212.1L1910.6 207.3M1904.4 212.9L1909.7 209.2M1905 213.7L1912.3 208.6M1905.5 214.6L1912.1 210M1906.1 215.4L1913.3 210.4M1906.7 216.2L1912.8 212M1907.2 217L1915.7 211.3M1907.8 217.8L1916.1 212.2M1908.3 218.6L1917.6 212.5M1908.9 219.5L1917.6 213.7M1909.4 220.3L1916.5 215.6M1910 221.1L1915 217.8M1910.5 222L1919.5 216.1M1911 222.8L1915.7 219.8M1911.6 223.6L1918.3 219.3M1912.1 224.5L1921.4 218.5M1912.6 225.3L1919.4 221.1M1913.1 226.1L1916.8 223.9M1913.7 227L1920.5 222.7M1914.2 227.8L1921 223.6M1914.7 228.7L1925.1 222.3M1915.2 229.5L1920.6 226.3M1915.7 230.4L1925.1 224.7M1916.2 231.2L1921.7 227.9M1916.7 232.1L1925.9 226.7M1917.2 232.9L1922.8 229.6M1917.7 233.8L1922.4 231.1M1918.2 234.6L1923.9 231.3M1918.7 235.5L1924.9 231.9M1919.2 236.3L1926.4 232.2M1919.7 237.2L1927.3 232.9M1920.2 238.1L1926.7 234.4M1920.7 238.9L1930.1 233.7M1921.1 239.8L1928.6 235.7M1921.6 240.7L1930.6 235.8M1922.1 241.5L1932.9 235.7M1922.6 242.4L1929 239M1923 243.3L1929.3 240M1923.5 244.2L1931.6 239.9M1923.9 245L1932.6 240.5M1924.4 245.9L1930.6 242.7M1924.8 246.8L1932.1 243.1M1927.1 251.2L1931.1 249.2M1927.5 252.1L1933.3 249.3M1927.9 253L1935.7 249.3M1928.4 253.9L1936.7 249.9M1929.6 256.6L1937.3 253M1930 257.5L1938.9 253.4M1930.4 258.4L1935.9 255.9M1930.9 259.3L1938.2 256M1931.3 260.2L1939.6 256.4M1931.7 261.1L1939.6 257.6M1934.4 267.4L1941.3 264.6M1934.8 268.4L1941.1 265.8M1935.1 269.3L1945.7 265M1935.5 270.2L1939.6 268.6M1935.9 271.1L1944.6 267.6M1936.2 272L1945.9 268.2M1936.6 273L1947.9 268.5M1937 273.9L1943.2 271.5M1937.3 274.8L1945.2 271.8M1937.7 275.7L1943.9 273.4M1938 276.7L1945.7 273.8M1938.4 277.6L1945.9 274.8M1938.7 278.5L1945.3 276.1M1939 279.4L1945.6 277.1M1939.4 280.4L1943.5 278.9M1939.7 281.3L1945.6 279.2M1940 282.2L1947.2 279.7M1940.4 283.2L1946 281.2M1940.7 284.1L1947.9 281.6M1941 285L1949.2 282.3M1941.3 286L1950.4 282.9M1941.6 286.9L1948.6 284.6M1942 287.9L1948 285.9M1942.3 288.8L1949.9 286.3M1942.6 289.7L1945.6 288.8M1942.9 290.7L1950.4 288.3M1943.2 291.6L1952.9 288.6M1943.4 292.6L1953.6 289.5M1943.7 293.5L1950.8 291.4M1944 294.5L1947.2 293.5M1944.3 295.4L1952 293.1M1944.6 296.4L1953.2 293.9M1944.9 297.3L1948.8 296.2M1945.1 298.3L1951.3 296.5M1945.4 299.2L1957.8 295.7M1945.7 300.2L1954.7 297.7M1945.9 301.1L1954.7 298.7M1946.2 302.1L1958.3 298.8M1946.5 303L1954.9 300.8M1946.7 304L1952.6 302.4M1947 305L1955.9 302.6M1947.2 305.9L1952.8 304.5M1947.4 306.9L1955.9 304.7M1947.7 307.8L1957.8 305.3M1947.9 308.8L1957.2 306.5M1948.2 309.8L1955.4 308M1948.4 310.7L1955.5 309M1948.6 311.7L1961.1 308.8M1948.8 312.6L1952.7 311.8M1949 313.6L1954.1 312.5M1949.3 314.6L1958.3 312.6M1949.5 315.5L1958.2 313.6M1949.7 316.5L1959.2 314.5M1949.9 317.5L1959.2 315.5M1950.1 318.4L1957.7 316.9M1950.3 319.4L1959.5 317.5M1950.5 320.4L1957.7 318.9M1950.7 321.4L1955.6 320.4M1950.9 322.3L1960.6 320.5M1951.1 323.3L1958.5 321.9M1951.2 324.3L1957.9 323M1951.4 325.2L1959.4 323.8M1951.6 326.2L1958.4 325M1951.8 327.2L1957.1 326.3M1951.9 328.2L1960.3 326.7M1952.1 329.1L1958.6 328.1M1952.3 330.1L1957.8 329.2M1952.4 331.1L1961.3 329.7M1952.6 332.1L1961 330.7M1952.7 333.1L1961 331.8M1952.9 334L1962.1 332.7M1953 335L1960.6 333.9M1953.2 336L1960.3 335M1953.3 337L1964.7 335.4M1953.4 337.9L1962.1 336.8M1953.6 338.9L1960.3 338M1953.7 339.9L1959.7 339.1M1953.8 340.9L1964.2 339.6M1953.9 341.9L1964.7 340.6M1954.1 342.9L1965 341.6M1954.2 343.8L1964.5 342.7M1954.3 344.8L1961.7 344M1954.4 345.8L1966.2 344.5M1954.5 346.8L1962.2 346M1954.6 347.8L1967.1 346.5M1954.7 348.8L1969.6 347.3M1954.8 349.7L1962.1 349.1M1954.9 350.7L1962.8 350M1955 351.7L1965.6 350.8M1955 352.7L1965.4 351.9M1955.1 353.7L1959.6 353.3M1955.2 354.7L1963.8 354M1955.3 355.7L1965.2 355M1955.3 356.7L1963.9 356.1M1955.4 357.6L1965.3 357M1955.5 358.6L1964.7 358.1M1955.5 359.6L1966.5 359M1955.6 360.6L1965.3 360.1M1955.6 361.6L1968.2 361M1955.7 362.6L1967.7 362M1955.7 363.6L1964.4 363.2M1955.8 364.6L1963.2 364.3M1955.8 365.5L1966.2 365.2M1955.8 366.5L1963.5 366.3M1955.9 367.5L1968.9 367.1M1955.9 368.5L1963.8 368.3M1955.9 369.5L1962.9 369.3M1955.9 370.5L1960.5 370.4M1956 371.5L1970 371.3M1956 372.5L1964.8 372.4M1956 373.5L1965.6 373.4M1956 374.4L1964.6 374.4M1956 375.4L1963.3 375.4M1956 376.4L1962.1 376.4M1956 377.4L1966.4 377.5M1956 378.4L1960.8 378.4M1956 379.4L1965.4 379.5M1956 380.4L1962.7 380.5M1955.9 381.4L1963.4 381.5M1955.9 382.4L1964.2 382.6M1955.9 383.4L1965.3 383.6M1955.9 384.3L1965.5 384.6M1955.8 385.3L1963.7 385.6M1955.8 386.3L1970.7 386.9M1955.8 387.3L1965 387.7M1955.7 388.3L1962.7 388.6M1955.7 389.3L1962.1 389.6M1955.6 390.3L1966.3 390.8M1955.6 391.3L1967.3 391.9M1955.5 392.3L1963.2 392.7M1955.5 393.2L1960.8 393.6M1955.4 394.2L1965 394.8M1955.3 395.2L1963.2 395.8M1955.3 396.2L1964 396.8M1955.2 397.2L1962.6 397.7M1955.1 398.2L1966.2 399M1955.1 399.2L1963.3 399.8M1955 400.1L1963.5 400.9M1954.9 401.1L1961.3 401.7M1954.8 402.1L1963.4 402.9M1954.7 403.1L1966.1 404.2M1954.6 404.1L1963.1 404.9M1954.5 405.1L1966.2 406.3M1954.4 406.1L1964.4 407.1M1954.3 407L1959.6 407.6M1954.2 408L1956.2 408.3M1954.1 409L1963.8 410.2M1954 410L1960.6 410.8M1953.8 411L1967.1 412.6M1953.7 412L1963.9 413.3M1953.6 412.9L1960.5 413.9M1953.5 413.9L1960.7 414.9M1953.3 414.9L1959.9 415.8M1953.2 415.9L1965.8 417.7M1953 416.9L1963.6 418.4M1952.9 417.8L1959.3 418.8M1952.7 418.8L1961.2 420.1M1952.6 419.8L1964.7 421.7M1952.4 420.8L1961.3 422.2M1952.3 421.7L1958.5 422.8M1952.1 422.7L1958.8 423.8M1952 423.7L1960.3 425.1M1951.8 424.7L1962.7 426.6M1951.6 425.7L1959.2 427M1951.4 426.6L1960.6 428.3M1951.3 427.6L1963.6 429.9M1951.1 428.6L1961.2 430.5M1950.9 429.5L1957.4 430.8M1950.7 430.5L1956 431.5M1950.5 431.5L1956.7 432.7M1950.3 432.5L1959.4 434.3M1950.1 433.4L1959.7 435.4M1949.9 434.4L1956.3 435.7M1949.7 435.4L1959.2 437.4M1949.5 436.3L1954.7 437.5M1949.3 437.3L1959.5 439.6M1949.1 438.3L1956.1 439.8M1948.9 439.2L1958.9 441.5M1948.6 440.2L1958.2 442.4M1948.4 441.2L1957.8 443.4M1948.2 442.1L1954.6 443.6M1948 443.1L1960.5 446.1M1947.7 444L1955.7 446M1947.5 445L1953.9 446.6M1947.2 446L1954.7 447.9M1947 446.9L1954.2 448.8M1946.7 447.9L1955.8 450.3M1946.5 448.8L1956.2 451.4M1946.2 449.8L1952.8 451.6M1946 450.7L1953.1 452.7M1945.7 451.7L1956.1 454.6M1945.4 452.7L1953.3 454.9M1945.2 453.6L1955.1 456.4M1944.9 454.6L1949.3 455.8M1944.6 455.5L1955.2 458.6M1944.3 456.5L1955.1 459.6M1944.1 457.4L1953.4 460.2M1943.8 458.4L1951.4 460.7M1942 464L1948.9 466.3M1941.7 465L1951.8 468.3M1941.4 465.9L1949.9 468.7M1941.1 466.8L1948 469.2M1940.7 467.8L1951.5 471.4M1940.4 468.7L1948.2 471.4M1940.1 469.6L1945.3 471.4M1939.8 470.6L1949 473.8M1939.4 471.5L1948.4 474.7M1939.1 472.4L1947.5 475.5M1938.8 473.4L1944.6 475.5M1938.4 474.3L1945.2 476.8M1938.1 475.2L1947.5 478.7M1937.7 476.1L1944.8 478.8M1937.4 477.1L1945 480M1937 478L1946 481.5M1936.7 478.9L1944.7 482.1M1936.3 479.8L1947.9 484.4M1935.9 480.8L1943.5 483.8M1935.6 481.7L1939.8 483.4M1935.2 482.6L1943.1 485.8M1934.8 483.5L1940.9 486M1934.4 484.4L1942.6 487.8M1934.1 485.3L1944.3 489.6M1933.7 486.3L1941.9 489.7M1933.3 487.2L1941.3 490.6M1932.9 488.1L1938 490.3M1932.5 489L1937.8 491.3M1932.1 489.9L1939.2 493M1931.7 490.8L1939.9 494.4M1931.3 491.7L1940.1 495.6M1930.9 492.6L1940 496.7M1930.5 493.5L1939.3 497.5M1930.1 494.4L1939.5 498.7M1929.7 495.3L1937.9 499.1M1929.3 496.2L1935.9 499.3M1928.8 497.1L1937.1 501M1928.4 498L1937.2 502.2M1928 498.9L1933.5 501.5M1927.6 499.8L1935.5 503.6M1927.1 500.7L1934.6 504.3M1926.7 501.6L1936.4 506.4M1926.2 502.4L1932.4 505.5M1925.8 503.3L1934.5 507.7M1925.4 504.2L1932.7 507.9M1922.6 509.5L1929.2 513M1922.1 510.3L1933.3 516.3M1921.7 511.2L1927.5 514.4M1921.2 512.1L1928.4 516M1920.7 513L1928.6 517.3M1920.2 513.8L1929.7 519.1M1919.8 514.7L1928.4 519.5M1919.3 515.5L1925.7 519.2M1918.8 516.4L1923.8 519.3M1918.3 517.3L1927.6 522.6M1917.8 518.1L1927.8 523.9M1914 524.5L1920.8 528.6M1913.5 525.3L1919.9 529.3M1909.8 531.1L1917.4 536.1M1909.2 532L1915.2 535.9M1908.7 532.8L1916.9 538.3M1908.1 533.6L1915 538.2M1907.6 534.4L1916 540.1M1907 535.3L1915.3 540.8M1906.5 536.1L1908.7 537.6M1905.9 536.9L1913.9 542.4M1905.4 537.7L1912.3 542.5M1904.8 538.5L1912.2 543.7M1904.2 539.3L1913.9 546.2M1903.7 540.1L1910.5 545M1903.1 540.9L1910.7 546.4M1902.5 541.7L1909.4 546.7M1901.9 542.5L1906.6 545.9M1901.3 543.3L1909.9 549.6M1900.8 544.1L1906.3 548.2M1900.2 544.9L1905.9 549.2M1899.6 545.7L1904.2 549.2M1899 546.5L1906.9 552.5M1898.4 547.3L1905.6 552.8M1897.8 548.1L1904.4 553.2M1897.2 548.9L1903.8 554M1896.6 549.7L1902.3 554.1M1896 550.4L1904.9 557.4M1895.4 551.2L1902.5 556.8M1894.7 552L1901.7 557.5M1894.1 552.8L1899.9 557.4M1893.5 553.6L1899.6 558.5M1892.9 554.3L1904 563.3M1892.3 555.1L1900 561.4M1891.6 555.9L1899.3 562.1M1891 556.6L1895.6 560.4M1890.4 557.4L1899.5 565M1889.7 558.1L1896.3 563.6M1889.1 558.9L1896.6 565.3M1888.5 559.7L1895.1 565.3M1887.8 560.4L1895.3 566.8M1887.2 561.2L1892.3 565.6M1886.5 561.9L1891.8 566.5M1883.9 564.9L1889.9 570.2M1883.3 565.6L1888.5 570.3M1882.6 566.3L1888.6 571.8M1881.9 567.1L1889.3 573.8M1881.3 567.8L1888.6 574.6M1880.6 568.5L1885.8 573.3M1879.9 569.3L1886.5 575.4M1879.2 570L1883.9 574.3M1878.6 570.7L1886.3 578M1877.9 571.4L1881.9 575.3M1877.2 572.1L1883.1 577.8M1876.5 572.9L1881.3 577.5M1875.8 573.6L1880.1 577.7M1875.1 574.3L1879.1 578.2M1874.4 575L1882.9 583.3M1873.7 575.7L1880.9 582.8M1873 576.4L1879.6 582.9M1872.3 577.1L1877.2 581.9M1871.6 577.8L1877.7 583.9M1870.9 578.5L1876.5 584.2M1870.2 579.2L1876.9 586M1869.5 579.9L1876.1 586.6M1868.8 580.5L1875 587M1868.1 581.2L1876.3 589.8M1867.4 581.9L1872.3 587.1M1866.7 582.6L1877.9 594.6M1865.9 583.3L1870.5 588.2M1865.2 583.9L1873.3 592.7M1864.5 584.6L1869 589.5M1863.8 585.3L1870.1 592.2M1863 585.9L1868.8 592.3M1862.3 586.6L1869.1 594.1M1861.5 587.3L1868.4 594.9M1860.8 587.9L1867.2 595.1M1860.1 588.6L1867.4 596.9M1859.3 589.2L1865.8 596.6M1858.6 589.9L1860.7 592.3M1857.8 590.5L1862.5 595.9M1857.1 591.2L1863.8 599M1856.3 591.8L1860.3 596.4M1855.6 592.5L1862.7 600.9M1854.8 593.1L1860.9 600.4M1854.1 593.7L1859.4 600.1M1853.3 594.4L1859.5 601.9M1852.5 595L1857 600.4M1851.8 595.6L1860.6 606.4M1851 596.2L1857.5 604.2M1850.2 596.9L1856.9 605.1M1849.5 597.5L1853.7 602.8M1848.7 598.1L1854.1 604.9M1847.9 598.7L1854.1 606.5M1847.1 599.3L1851.8 605.3M1846.4 599.9L1851.8 606.9M1845.6 600.5L1852.9 610.1M1844.8 601.1L1850.3 608.3M1844 601.7L1849.2 608.6M1843.2 602.3L1847.1 607.6M1842.4 602.9L1845.3 606.8M1841.6 603.5L1847.1 610.9M1840.8 604.1L1845.6 610.5M1840 604.7L1844.7 611.1M1839.2 605.3L1849.6 619.6M1838.4 605.9L1842.8 611.9M1837.6 606.4L1845.5 617.4M1836.8 607L1843.9 616.9M1836 607.6L1838.7 611.4M1835.2 608.2L1840.8 616.1M1834.4 608.7L1842 619.6M1833.6 609.3L1838 615.6M1832.8 609.9L1835.7 614.2M1831.9 610.4L1836.9 617.8M1831.1 611L1835.9 618M1830.3 611.5L1833.6 616.5M1829.5 612.1L1834.2 619.2M1828.7 612.6L1832.3 618.1M1827.8 613.2L1830.9 617.8M1827 613.7L1830.8 619.5M1826.2 614.2L1832.2 623.5M1825.3 614.8L1829.7 621.6M1824.5 615.3L1829.8 623.6M1823.7 615.8L1828.2 623.1M1822.8 616.4L1830.1 627.9M1822 616.9L1827.2 625.3M1821.1 617.4L1825.5 624.4M1820.3 617.9L1822.4 621.3M1819.5 618.4L1824.6 626.9M1818.6 618.9L1822.2 624.9M1817.8 619.5L1822.4 627.2M1816.9 620L1820.9 626.7M1816.1 620.5L1819.5 626.3M1815.2 621L1821.4 631.6M1814.4 621.5L1820.4 631.9M1813.5 622L1818 629.7M1812.6 622.4L1817.8 631.6M1811.8 622.9L1816.5 631.4M1810.9 623.4L1814.6 629.9M1810 623.9L1815.7 634.1M1809.2 624.4L1815 634.9M1808.3 624.9L1812.9 633.2M1807.4 625.3L1813.8 637M1806.6 625.8L1811 634M1805.7 626.3L1809 632.4M1804.8 626.7L1809.2 635M1803.9 627.2L1808.1 635.2M1803.1 627.6L1806.4 634.1M1802.2 628.1L1805.6 634.6M1801.3 628.5L1807 639.8M1800.4 629L1804 636.1M1799.5 629.4L1803.6 637.5M1798.7 629.9L1802.4 637.4M1797.8 630.3L1801.6 638M1796.9 630.8L1799.6 636.2M1796 631.2L1800.3 640.1M1795.1 631.6L1799.6 641M1794.2 632L1796.6 637.1M1793.3 632.5L1796.7 639.6M1792.4 632.9L1797 642.6M1791.5 633.3L1797.7 646.7M1790.6 633.7L1794.1 641.3M1789.7 634.1L1793.3 642M1788.8 634.5L1793.3 644.6M1787.9 634.9L1794.2 649.1M1787 635.3L1790.3 642.8M1786.1 635.7L1791.6 648.4M1785.2 636.1L1789.5 646.2M1784.3 636.5L1787.6 644.2M1783.4 636.9L1787.4 646.3M1782.5 637.3L1785.2 643.9M1781.6 637.7L1784.8 645.5M1780.6 638.1L1784.8 648.1M1779.7 638.4L1782.2 644.6M1778.8 638.8L1782.4 647.6M1777.9 639.2L1781.3 647.6M1777 639.5L1780 647.1M1776.1 639.9L1779.6 648.9M1775.1 640.3L1778.7 649.4M1774.2 640.6L1777.1 648.3M1773.3 641L1777.2 651.3M1772.4 641.3L1774.6 647.4M1771.4 641.7L1775.6 652.9M1770.5 642L1773.8 651.1M1769.6 642.4L1771.9 648.8M1768.6 642.7L1770.9 649M1767.7 643L1770 649.4M1766.8 643.4L1770.1 652.7M1765.8 643.7L1767.6 648.7M1764.9 644L1768.1 653.2M1764 644.3L1766 650.4M1763 644.7L1765.8 652.9M1762.1 645L1765 653.8M1761.2 645.3L1765.7 659.2M1760.2 645.6L1762.6 653.1M1759.3 645.9L1760.5 649.6M1758.3 646.2L1760.8 653.9M1757.4 646.5L1760.7 657.1M1756.4 646.8L1758.2 652.5M1755.5 647.1L1758.7 657.5M1754.6 647.4L1758.4 660.2M1753.6 647.7L1756.7 657.9M1752.7 647.9L1754.8 655.1M1751.7 648.2L1754.4 657.3M1750.8 648.5L1752.5 654.4M1749.8 648.8L1752 656.4M1748.9 649L1751.3 657.9M1747.9 649.3L1749.9 656.6M1746.9 649.6L1749.5 659.1M1746 649.8L1747.8 656.7M1745 650.1L1747.2 658.3M1744.1 650.3L1746 657.5M1743.1 650.6L1744.3 655M1742.2 650.8L1744 658M1741.2 651.1L1742.6 656.5M1740.2 651.3L1741.3 655.7M1739.3 651.5L1741.8 662.1M1738.3 651.8L1740.5 661.1M1737.4 652L1738.6 657.1M1736.4 652.2L1738.2 660M1735.4 652.4L1738.1 664.1M1734.5 652.6L1736 659.4M1733.5 652.9L1734.8 659M1732.5 653.1L1734.4 661.5M1731.6 653.3L1733.3 661.6M1730.6 653.5L1732.6 663.3M1729.6 653.7L1731 660.5M1728.6 653.9L1730.3 662M1727.7 654.1L1729.5 663.2M1726.7 654.3L1728.8 665.2M1725.7 654.5L1728.2 667.2M1724.8 654.6L1726 661.2M1723.8 654.8L1726 666.8M1722.8 655L1723.8 660.5M1721.8 655.2L1723.2 663M1720.9 655.3L1723 667.5M1719.9 655.5L1721.5 665.1M1718.9 655.7L1720.3 663.7M1717.9 655.8L1719 662.5M1717 656L1718.5 665.5M1716 656.1L1717.3 664.6M1715 656.3L1716 663.1M1714 656.4L1715.3 665.2M1713.1 656.6L1714.1 663.5M1712.1 656.7L1713 663.4M1711.1 656.9L1712.4 666.4M1710.1 657L1710.9 663M1709.1 657.1L1710 663.5M1708.1 657.2L1709.4 667.1M1707.2 657.4L1708.3 666.4M1706.2 657.5L1707.5 668.5M1705.2 657.6L1706.4 668.1M1704.2 657.7L1705.2 666.8M1703.2 657.8L1704.1 666M1702.2 657.9L1703.5 670M1701.3 658L1701.9 664.2M1700.3 658.1L1701.2 667.2M1699.3 658.2L1700 665.9M1698.3 658.3L1699.5 671.5M1697.3 658.4L1697.8 663.8M1696.3 658.5L1697.1 667.3M1695.4 658.6L1696.2 668.6M1694.4 658.7L1695.4 672.5M1693.4 658.7L1694.1 668.3M1692.4 658.8L1693.1 668.6M1691.4 658.9L1691.9 666.9M1690.4 658.9L1690.9 666.4M1689.4 659L1689.7 663.9M1688.4 659.1L1688.9 667.7M1687.5 659.1L1688.3 675.1M1686.5 659.2L1687.1 671.7M1685.5 659.2L1685.8 665.8M1684.5 659.2L1684.9 670M1683.5 659.3L1684 671.5M1682.5 659.3L1682.7 665.4M1681.5 659.4L1681.9 670.7M1680.5 659.4L1680.8 670.3M1679.5 659.4L1679.8 670M1678.6 659.4L1678.7 667.4M1677.6 659.5L1677.8 671.6M1676.6 659.5L1676.7 670.7M1675.6 659.5L1675.7 666.5M1674.6 659.5L1674.6 662.7M1673.6 659.5L1673.6 668.5M1672.6 659.5L1672.6 668.4M1671.6 659.5L1671.6 666.6M1670.6 659.5L1670.6 670.2M1669.6 659.5L1669.6 665M1668.7 659.5L1668.6 667.3M1667.7 659.5L1667.6 664.7M1666.7 659.4L1666.6 665.1M1665.7 659.4L1665.4 670.1M1664.7 659.4L1664.5 666.3M1663.7 659.4L1663.5 667.6M1662.7 659.3L1662.4 667.4M1661.7 659.3L1661.3 670.6M1660.7 659.3L1660.3 670.4M1659.8 659.2L1659.3 668.9M1658.8 659.2L1658.3 667.8M1657.8 659.1L1657.4 666.9M1656.8 659.1L1656.4 666.3M1655.8 659L1655.5 665M1654.8 658.9L1654.2 668.8M1653.8 658.9L1653.2 668.1M1652.8 658.8L1652 671.2M1651.9 658.7L1651.4 665.3M1650.9 658.7L1650.3 665.5M1649.9 658.6L1649.4 664.5M1648.9 658.5L1648.1 667.5M1647.9 658.4L1647.3 665.3M1646.9 658.3L1646.1 667.1M1645.9 658.3L1645 667.7M1645 658.2L1643.8 670.2M1644 658.1L1643.6 662.1M1643 658L1642.5 662.7M1642 657.9L1641.5 662.5M1641 657.7L1640.3 664.6M1640 657.6L1639.3 664.4M1639 657.5L1637.8 667.6M1638.1 657.4L1637.2 664.8M1637.1 657.3L1636.1 665.1M1636.1 657.2L1635.1 664.7M1635.1 657L1634.2 664.2M1634.1 656.9L1632.7 667.2M1633.2 656.8L1631.9 665.6M1632.2 656.6L1631.4 662.2M1631.2 656.5L1630.5 660.9M1630.2 656.3L1629.3 662.4M1629.2 656.2L1627.9 665.2M1628.3 656L1626.8 665.3M1627.3 655.9L1626.3 662.3M1626.3 655.7L1624.8 664.7M1625.3 655.5L1624.4 660.9M1624.4 655.4L1623.5 660.2M1623.4 655.2L1622.2 662.1M1622.4 655L1620.8 664.3M1621.4 654.9L1619.8 663.7M1620.5 654.7L1619.1 662.2M1619.5 654.5L1617.8 663.5M1618.5 654.3L1617 662.2M1617.5 654.1L1615.7 663.4M1616.6 653.9L1614.8 662.7M1615.6 653.7L1613.4 664.5M1614.6 653.5L1612.5 664M1613.7 653.3L1612.3 659.7M1612.7 653.1L1610.9 661.4M1611.7 652.9L1609.7 662M1610.8 652.7L1609 660.8M1609.8 652.5L1607.6 662.2M1608.8 652.3L1607.8 656.8M1606 651.6L1604.2 658.9M1605 651.3L1602.9 659.9M1604 651.1L1602.1 658.8M1596.4 649.1L1592.8 661.8M1595.4 648.8L1593.2 656.7M1594.5 648.5L1592.8 654.2M1593.5 648.3L1591.8 654.1M1592.6 648L1589.3 659.3M1591.6 647.7L1589 656.5M1590.7 647.4L1587.7 657.4M1589.7 647.1L1587.9 653.2M1588.8 646.9L1586.2 655.2M1587.8 646.6L1584.8 656.2M1586.9 646.3L1585.3 651.1M1585.9 646L1584.3 651.2M1585 645.7L1583.5 650.4M1584.1 645.4L1581.5 653.2M1583.1 645L1580.1 654.1M1582.2 644.7L1580.4 650M1581.2 644.4L1578.1 653.6M1580.3 644.1L1578.7 648.8M1579.4 643.8L1576.6 651.7M1578.4 643.4L1575.8 651M1577.5 643.1L1574.5 651.6M1576.6 642.8L1573.1 652.5M1575.6 642.4L1573.6 648M1574.7 642.1L1570.8 652.7M1573.8 641.8L1570.1 651.8M1572.9 641.4L1571.1 646.2M1571.9 641.1L1569.2 648.4M1571 640.7L1568.7 646.8M1570.1 640.4L1565.5 652.3M1569.2 640L1565.8 648.7M1568.2 639.6L1564.9 648M1567.3 639.3L1564.1 647.4M1566.4 638.9L1562.7 648M1565.5 638.5L1561.6 648.1M1564.6 638.2L1561.7 645.3M1563.7 637.8L1559.4 648.1M1562.7 637.4L1559.3 645.5M1561.8 637L1558.3 645.2M1560.9 636.6L1558.9 641.3M1560 636.2L1555.3 647.1M1559.1 635.8L1555.9 643.3M1558.2 635.4L1554.4 644M1557.3 635L1553.3 644.1M1556.4 634.6L1552.2 644M1555.5 634.2L1552.1 641.6M1554.6 633.8L1550.7 642.4M1553.7 633.4L1550.5 640.4M1552.8 633L1550.4 638.2M1551.9 632.6L1546.8 643.3M1551 632.1L1548.5 637.4M1550.1 631.7L1546.4 639.4M1549.2 631.3L1546.5 636.9M1542.1 627.7L1540.4 631M1541.3 627.3L1539.2 631.2M1540.4 626.8L1536.7 633.9M1539.5 626.4L1536.5 632.1M1538.6 625.9L1535.2 632.3M1537.8 625.4L1535.3 629.9M1536.9 625L1534.5 629.3M1536 624.5L1531.8 632.2M1535.2 624L1531.7 630.3M1534.3 623.5L1528.6 633.8M1533.4 623L1529.3 630.3M1532.6 622.6L1530.2 626.7M1531.7 622.1L1526.7 630.8M1530.9 621.6L1526.7 628.8M1530 621.1L1526.2 627.5M1529.1 620.6L1523.9 629.6M1528.3 620.1L1523.9 627.5M1527.4 619.6L1523.2 626.6M1526.6 619.1L1521.3 627.8M1525.7 618.6L1522.7 623.6M1524.9 618L1520.8 624.8M1524 617.5L1520.1 623.9M1523.2 617L1520.8 620.9M1522.4 616.5L1515.8 627M1521.5 616L1518.7 620.4M1520.7 615.4L1517.2 620.9M1519.9 614.9L1516.1 620.8M1519 614.4L1514 622.1M1518.2 613.8L1514.3 619.9M1517.4 613.3L1511.8 621.8M1516.5 612.7L1513.1 617.9M1515.7 612.2L1510 620.7M1514.9 611.6L1509.8 619.3M1514.1 611.1L1509.6 617.7M1513.2 610.5L1508.2 617.9M1512.4 610L1508.2 616.1M1511.6 609.4L1507.5 615.3M1510.8 608.9L1506.8 614.6M1510 608.3L1505.1 615.2M1509.2 607.7L1504.4 614.5M1508.4 607.2L1503.8 613.6M1507.6 606.6L1501.9 614.4M1506.8 606L1501.4 613.4M1506 605.4L1501.2 611.9M1505.2 604.8L1499.8 612.2M1504.4 604.3L1502.1 607.3M1503.6 603.7L1501.4 606.6M1502.8 603.1L1496.6 611.3M1502 602.5L1495.4 611.2M1501.2 601.9L1497.9 606.2M1500.4 601.3L1494.2 609.4M1499.6 600.7L1494.5 607.4M1498.8 600.1L1492.5 608.3M1498.1 599.5L1492 607.2M1497.3 598.9L1491.2 606.6M1491.1 593.9L1484.9 601.3M1490.4 593.2L1485.2 599.4M1489.6 592.6L1482.8 600.7M1488.8 592L1484.1 597.6M1488.1 591.3L1481.1 599.4M1487.3 590.7L1483.1 595.6M1486.6 590L1481 596.5M1485.8 589.4L1480.4 595.6M1485.1 588.7L1479.1 595.6M1484.4 588.1L1478.6 594.5M1483.6 587.4L1481.2 590.1M1482.9 586.8L1477 593.3M1482.2 586.1L1475.8 593.1M1481.4 585.4L1476.6 590.7M1480.7 584.8L1474.5 591.4M1480 584.1L1473.9 590.6M1479.2 583.4L1473.1 590M1478.5 582.7L1471.5 590.2M1477.8 582.1L1471.7 588.5M1477.1 581.4L1472.3 586.4M1476.4 580.7L1473.1 584.1M1475.6 580L1470.5 585.4M1474.9 579.3L1469.3 585.1M1474.2 578.6L1467 586M1473.5 577.9L1467.1 584.5M1472.8 577.2L1466.1 584M1472.1 576.5L1466.2 582.5M1471.4 575.8L1467.3 580M1470.7 575.1L1466.5 579.3M1470 574.4L1465.6 578.8M1469.3 573.7L1461.6 581.2M1468.6 573L1464.1 577.4M1468 572.3L1461.8 578.2M1467.3 571.6L1460.7 577.9M1466.6 570.9L1460.4 576.7M1465.9 570.2L1459.9 575.8M1465.2 569.4L1459.1 575.2M1464.6 568.7L1456.6 576.1M1463.9 568L1454 577.1M1463.2 567.3L1456.8 573.1M1462.6 566.5L1453.9 574.4M1461.9 565.8L1458.5 568.8M1461.2 565L1455.8 569.9M1460.6 564.3L1454.9 569.4M1459.9 563.6L1451.6 570.9M1459.3 562.8L1452.7 568.5M1458.6 562.1L1450.4 569.3M1458 561.3L1453.7 565M1457.3 560.6L1448.2 568.4M1456.7 559.8L1449.8 565.7M1456 559.1L1449.8 564.4M1455.4 558.3L1450.9 562.1M1454.8 557.6L1450.5 561.1M1454.1 556.8L1444.5 564.8M1453.5 556L1446.9 561.5M1452.9 555.3L1448.9 558.5M1452.3 554.5L1443.2 561.9M1451.6 553.7L1445.1 559M1451 553L1444.3 558.4M1450.4 552.2L1441.4 559.4M1449.8 551.4L1443.5 556.4M1449.2 550.6L1440.8 557.2M1448.6 549.9L1440.5 556.1M1448 549.1L1444.5 551.7M1447.4 548.3L1438.7 554.9M1446.8 547.5L1440.5 552.3M1446.2 546.7L1438.8 552.3M1445.6 545.9L1437.5 551.9M1445 545.1L1439.8 549M1444.4 544.3L1439.6 547.9M1443.8 543.5L1435.4 549.7M1443.2 542.7L1435.9 548M1442.6 541.9L1435.2 547.3M1438.6 536.3L1433.3 539.9M1438.1 535.4L1429.7 541.2M1437.5 534.6L1432 538.4M1437 533.8L1431.2 537.7M1436.4 533L1429.2 537.8M1435.9 532.2L1428.7 536.9M1435.3 531.3L1430.9 534.2M1434.8 530.5L1426.5 535.9M1434.3 529.7L1425.8 535.1M1433.7 528.8L1428.7 532.1M1433.2 528L1427.6 531.6M1432.7 527.2L1422.2 533.8M1432.1 526.3L1423.5 531.7M1431.6 525.5L1426.4 528.7M1431.1 524.6L1426.2 527.7M1430.6 523.8L1423.9 527.9M1430.1 523L1423.9 526.7M1429.6 522.1L1420.8 527.4M1429 521.3L1421.3 525.9M1428.5 520.4L1420.7 525.1M1428 519.6L1420.2 524.1M1427.5 518.7L1419.5 523.4M1427 517.9L1421.7 520.9M1426.5 517L1420.2 520.6M1426.1 516.1L1419.4 519.9M1425.6 515.3L1417.7 519.7M1425.1 514.4L1417.4 518.7M1424.6 513.5L1417.3 517.6M1424.1 512.7L1415.9 517.2M1423.6 511.8L1417.7 515.1M1423.2 510.9L1417.9 513.8M1419.5 503.9L1411.8 507.8M1419.1 503L1410.3 507.4M1418.6 502.2L1408 507.4M1418.2 501.3L1411.1 504.7M1417.7 500.4L1412.6 502.9M1417.3 499.5L1406.4 504.8M1416.9 498.6L1409.7 502M1416.5 497.7L1406.7 502.3M1416 496.8L1405.3 501.9M1415.6 495.9L1406.2 500.3M1415.2 495L1408.2 498.2M1414.8 494.1L1406.5 497.9M1414.4 493.2L1406.7 496.7M1414 492.3L1408.1 495M1413.6 491.4L1408 493.9M1413.2 490.5L1407 493.2M1412.8 489.6L1404.9 493M1412.4 488.7L1407.4 490.8M1412 487.8L1401.3 492.4M1411.6 486.9L1403.2 490.4M1411.2 486L1404.2 488.9M1410.8 485.1L1402.5 488.5M1410.4 484.1L1400.3 488.3M1410.1 483.2L1401.8 486.6M1409.7 482.3L1400.5 486M1409.3 481.4L1404.1 483.5M1409 480.5L1396.6 485.4M1408.6 479.6L1402.5 481.9M1408.2 478.6L1402.2 481M1407.9 477.7L1401.9 480M1407.5 476.8L1399.6 479.8M1407.2 475.9L1400.4 478.4M1406.8 474.9L1399.2 477.7M1406.5 474L1397 477.5M1406.1 473.1L1393.1 477.8M1405.8 472.1L1398.3 474.9M1405.5 471.2L1399.2 473.4M1405.1 470.3L1401.5 471.6M1404.8 469.3L1397.5 471.9M1404.5 468.4L1395.4 471.6M1404.2 467.5L1396.6 470M1403.8 466.5L1396.4 469.1M1403.5 465.6L1396.3 468M1403.2 464.7L1395.6 467.2M1402.9 463.7L1394.8 466.3M1402.6 462.8L1394.1 465.5M1402.3 461.8L1393.6 464.6M1402 460.9L1397.1 462.4M1401.7 459.9L1394.7 462.1M1401.4 459L1394.7 461M1401.1 458.1L1395.6 459.7M1400.8 457.1L1391.8 459.8M1400.6 456.2L1388.4 459.7M1400.3 455.2L1392 457.6M1400 454.3L1390.3 457M1399.7 453.3L1392.1 455.5M1399.5 452.4L1391.7 454.5M1399.2 451.4L1388.1 454.5M1398.9 450.4L1391.3 452.5M1398.7 449.5L1389.8 451.9M1398.4 448.5L1391 450.5M1398.2 447.6L1385.2 451M1397.9 446.6L1391 448.4M1397.7 445.7L1389.4 447.8M1397.4 444.7L1388.4 447M1397.2 443.7L1390 445.5M1397 442.8L1389.1 444.7M1396.7 441.8L1391 443.2M1396.5 440.9L1387.1 443.1M1396.3 439.9L1383.1 442.9M1396.1 438.9L1385.2 441.4M1395.9 438L1388 439.7M1395.6 437L1385.3 439.3M1395.4 436L1387.9 437.7M1395.2 435.1L1384 437.5M1395 434.1L1388.9 435.4M1394.8 433.1L1389 434.3M1394.6 432.1L1384 434.3M1394.4 431.2L1386.2 432.8M1394.2 430.2L1388.2 431.4M1394 429.2L1386.8 430.6M1393.9 428.3L1382.3 430.4M1393.7 427.3L1387.4 428.4M1393.5 426.3L1383.2 428.2M1393.3 425.3L1383.9 427M1393.2 424.4L1385.6 425.7M1393 423.4L1383.6 425M1392.8 422.4L1384.2 423.8M1392.7 421.4L1384.6 422.7M1392.5 420.5L1382.7 422M1392.4 419.5L1382.8 421M1392.2 418.5L1382.3 420M1392.1 417.5L1378.8 419.5M1391.9 416.6L1383.6 417.8M1391.8 415.6L1379 417.4M1391.6 414.6L1387.5 415.2M1391.5 413.6L1381.1 415M1391.4 412.6L1380.9 414M1391.3 411.6L1384.8 412.5M1391.1 410.7L1381.1 411.9M1391 409.7L1384.8 410.4M1390.9 408.7L1387.3 409.1M1390.8 407.7L1381 408.8M1390.7 406.7L1377.3 408.2M1390.6 405.7L1379.4 406.9M1390.5 404.8L1379.1 405.9M1390.4 403.8L1380.9 404.7M1390.3 402.8L1384.8 403.3M1390.2 401.8L1379.7 402.8M1389.9 398.9L1380.3 399.6M1389.8 397.9L1378.1 398.8M1389.8 396.9L1379 397.7M1389.7 395.9L1375.3 396.9M1389.6 394.9L1381.5 395.4M1389.6 393.9L1378.6 394.6M1389.5 392.9L1383.6 393.3M1389.4 391.9L1382.5 392.3M1389.4 391L1385.7 391.1M1389.3 390L1378.2 390.5M1389.3 389L1379.4 389.4M1389 381.1L1382.1 381.2M1389 380.1L1376.8 380.3M1389 379.1L1381.9 379.2M1389 378.1L1381.7 378.1M1389 377.1L1383.9 377.1M1389 376.1L1382.7 376.1M1389 375.1L1381.2 375.1M1389 374.1L1380 374.1M1389 373.1L1376 373M1389 372.2L1376.1 372M1389 371.2L1380.1 371M1389.1 370.2L1380.1 370M1389.1 369.2L1381.8 369M1389.1 368.2L1381.3 368M1389.1 367.2L1383 367M1389.2 366.2L1377.9 365.8M1389.2 365.2L1379.3 364.9M1389.2 364.2L1381.3 363.9M1389.3 363.3L1379.4 362.8M1389.3 362.3L1376 361.6M1389.4 361.3L1379.4 360.8M1389.4 360.3L1381.7 359.9M1389.5 359.3L1382.7 358.9M1389.6 358.3L1381.3 357.8M1389.6 357.3L1381.4 356.8M1389.7 356.3L1381.1 355.7M1389.8 355.4L1382.5 354.8M1389.8 354.4L1381.7 353.7M1389.9 353.4L1380 352.6M1390 352.4L1380.9 351.6M1390.1 351.4L1380.6 350.6M1390.2 350.4L1382.3 349.7M1390.2 349.4L1384.5 348.9M1390.3 348.5L1382.1 347.6M1390.4 347.5L1382.2 346.6M1390.5 346.5L1380.4 345.4M1390.6 345.5L1383.1 344.7M1390.8 344.5L1384 343.8M1390.9 343.5L1383.2 342.6M1391 342.5L1381.1 341.4M1391.1 341.6L1383.6 340.6M1391.2 340.6L1385.8 339.9M1391.3 339.6L1382.5 338.5M1391.5 338.6L1382.9 337.5M1391.6 337.6L1382.2 336.4M1391.7 336.7L1382 335.3M1391.9 335.7L1386.1 334.8M1392 334.7L1384.2 333.6M1392.2 333.7L1387.5 333M1392.3 332.7L1386 331.8M1392.5 331.8L1384.3 330.5M1392.6 330.8L1381.9 329.1M1392.8 329.8L1386.8 328.8M1393 328.8L1383.6 327.3M1393.1 327.9L1385.5 326.5M1393.3 326.9L1384.9 325.4M1393.5 325.9L1387.7 324.9M1393.6 324.9L1383.8 323.1M1393.8 324L1388.4 322.9M1394 323L1384.8 321.2M1394.2 322L1383.5 320M1394.4 321L1386.2 319.4M1394.6 320.1L1388.2 318.8M1394.8 319.1L1379.7 316M1395 318.1L1385.8 316.2M1395.2 317.2L1386.2 315.3M1395.4 316.2L1388.4 314.7M1395.6 315.2L1387.1 313.4M1395.8 314.3L1389.6 312.9M1396 313.3L1387.2 311.3M1396.2 312.3L1385.2 309.8M1397.6 306.6L1390.2 304.7M1397.9 305.6L1392.4 304.2M1398.1 304.7L1390.6 302.7M1398.4 303.7L1390.4 301.6M1398.6 302.7L1390 300.4M1398.9 301.8L1391.4 299.7M1399.1 300.8L1391.4 298.7M1399.4 299.9L1391.5 297.7M1399.7 298.9L1389.3 296M1400 298L1388.4 294.7M1400.2 297L1392.5 294.8M1400.5 296.1L1395.4 294.6M1400.8 295.1L1391.1 292.2M1401.1 294.2L1392.3 291.5M1401.4 293.2L1393.5 290.8M1401.6 292.3L1390.2 288.7M1401.9 291.3L1393.3 288.6M1402.2 290.4L1393.6 287.7M1402.5 289.4L1395.1 287.1M1402.8 288.5L1390.7 284.5M1403.1 287.6L1394.7 284.8M1403.5 286.6L1395.8 284.1M1403.8 285.7L1392.8 282M1404.1 284.7L1396.2 282.1M1404.4 283.8L1396.1 281M1404.7 282.9L1399.4 281M1405.1 281.9L1398.9 279.8M1405.4 281L1398 278.4M1405.7 280.1L1399.4 277.8M1406.1 279.1L1398.2 276.3M1406.4 278.2L1403.1 277M1406.7 277.3L1398.1 274.1M1407.1 276.4L1399.8 273.6M1407.4 275.4L1397.4 271.6M1407.8 274.5L1399.5 271.3M1408.1 273.6L1401.5 271M1408.5 272.7L1400.4 269.5M1408.9 271.7L1400.3 268.4M1409.2 270.8L1402.4 268.1M1409.6 269.9L1399.7 265.9M1412.7 262.6L1405.4 259.5M1413.1 261.7L1403.7 257.6M1413.5 260.8L1406.4 257.6M1413.9 259.9L1412.3 259.2M1414.3 259L1407.4 255.9M1414.7 258.1L1408.2 255.1M1415.1 257.2L1406.6 253.3M1415.5 256.3L1407.3 252.4M1415.9 255.4L1412.3 253.7M1416.4 254.5L1406.6 249.9M1416.8 253.6L1409.9 250.3M1417.2 252.7L1411 249.7M1417.6 251.8L1411.1 248.6M1418.1 250.9L1410.8 247.4M1418.5 250.1L1411.5 246.6M1419 249.2L1411.3 245.4M1419.4 248.3L1410.6 243.8M1419.8 247.4L1408.8 241.8M1420.3 246.5L1411.7 242.1M1420.8 245.6L1411.2 240.7M1421.2 244.8L1410.7 239.3M1421.7 243.9L1412 238.8M1422.1 243L1412.4 237.8M1422.6 242.1L1413.5 237.3M1423.1 241.3L1414.2 236.4M1423.5 240.4L1413.9 235.2M1424 239.5L1416.4 235.3M1424.5 238.7L1418 235.1M1425 237.8L1420.2 235.1M1425.5 236.9L1418.3 232.9M1425.9 236.1L1419.2 232.2M1426.4 235.2L1421.4 232.3M1426.9 234.4L1418.5 229.5M1427.4 233.5L1418.2 228.1M1427.9 232.6L1421.7 229M1428.4 231.8L1417.8 225.5M1428.9 230.9L1422.5 227.1M1429.4 230.1L1421.2 225.1M1429.9 229.2L1424.6 226M1430.5 228.4L1423.1 223.9M1431 227.5L1424.3 223.4M1431.5 226.7L1422.2 220.9M1432 225.9L1424.9 221.4M1432.5 225L1425 220.3M1433.1 224.2L1425.5 219.4M1433.6 223.4L1426.1 218.5M1434.1 222.5L1427.4 218.2M1434.7 221.7L1426.5 216.4M1435.2 220.9L1427.1 215.6M1435.8 220L1430.5 216.5M1436.3 219.2L1431.6 216.1M1436.9 218.4L1429.8 213.7M1437.4 217.6L1429.2 212M1438 216.7L1430.4 211.6M1438.5 215.9L1431.5 211.1M1439.1 215.1L1432.4 210.5M1439.6 214.3L1430.1 207.7M1440.2 213.5L1433.5 208.8M1440.8 212.7L1434.6 208.3M1441.3 211.9L1435 207.4M1441.9 211.1L1434.9 206M1442.5 210.3L1437.3 206.5M1443.1 209.5L1438 205.7M1443.7 208.7L1437.6 204.2M1444.2 207.9L1438.7 203.8M1444.8 207.1L1438.9 202.7M1445.4 206.3L1437 200M1446 205.5L1439.1 200.3M1446.6 204.7L1439.3 199.1M1447.2 203.9L1441.8 199.8M1447.8 203.1L1441.6 198.4M1448.4 202.3L1443.2 198.3M1449 201.6L1441.5 195.7M1449.6 200.8L1442.9 195.4M1450.3 200L1446.4 197M1450.9 199.2L1445.1 194.6M1451.5 198.4L1446.2 194.2M1452.1 197.7L1442.7 190M1452.7 196.9L1447.8 192.9M1453.4 196.1L1445.6 189.8M1454 195.4L1450 192.1M1454.6 194.6L1445.7 187.2M1455.3 193.9L1450.7 190M1455.9 193.1L1448.6 187M1456.5 192.3L1451.6 188.2M1457.2 191.6L1451.6 186.8M1461.7 186.4L1456.7 181.8M1462.4 185.7L1456.2 180.1M1463.1 184.9L1453.9 176.5M1463.7 184.2L1457.5 178.5M1464.4 183.5L1459.1 178.5M1465.1 182.7L1461.6 179.5M1465.8 182L1458.2 174.9M1471.3 176.3L1467.3 172.4M1472 175.6L1463.2 166.8M1472.7 174.9L1467.6 169.9M1473.4 174.2L1467.8 168.6M1474.1 173.5L1468.2 167.5M1474.8 172.8L1469.3 167.2M1475.5 172.1L1469.8 166.3M1476.2 171.5L1470.1 165.2M1476.9 170.8L1469.6 163.1M1477.6 170.1L1471.8 163.9M1478.3 169.4L1470.6 161.2M1479.1 168.7L1473.5 162.8M1479.8 168.1L1474.8 162.7M1485.7 162.8L1478.2 154.3M1492.5 157L1487.4 150.8M1493.2 156.4L1485.5 146.9M1494 155.8L1490.7 151.7M1494.8 155.1L1490 149.2M1495.5 154.5L1492.6 150.8M1496.3 153.9L1490 146M1497.1 153.3L1492.7 147.7M1497.9 152.7L1492.4 145.7M1498.6 152.1L1493.5 145.5M1499.4 151.5L1491.1 140.6M1500.2 150.9L1494.8 143.7M1501 150.3L1497.8 146M1501.8 149.7L1497.1 143.4M1502.6 149.1L1498.3 143.4M1503.4 148.5L1497.2 140.1M1505.8 146.7L1500.9 140.1M1506.6 146.1L1500.5 137.7M1512.6 141.9L1509.9 137.8M1513.5 141.3L1510.2 136.6M1514.3 140.8L1511.4 136.4M1515.1 140.2L1510.8 133.8M1515.9 139.7L1511 132.2M1516.8 139.1L1513.2 133.7M1517.6 138.6L1511.6 129.4M1518.4 138L1515.6 133.6M1519.2 137.5L1515.5 131.6M1520.1 137L1513.7 126.9M1520.9 136.4L1516.6 129.7M1521.7 135.9L1515.7 126.2M1522.6 135.4L1517.6 127.3M1523.4 134.9L1520 129.3M1524.3 134.3L1519 125.7M1525.1 133.8L1521.2 127.3M1526 133.3L1521 125.1M1526.8 132.8L1519.9 121.3M1527.7 132.3L1522.7 124M1528.5 131.8L1524.5 125M1529.4 131.3L1524.6 123.2M1530.2 130.8L1525.6 122.8M1531.1 130.3L1528.3 125.5M1531.9 129.8L1527.4 121.9M1532.8 129.3L1527.8 120.5M1533.7 128.8L1530.5 123.2M1534.5 128.3L1529.2 118.7M1535.4 127.9L1529.1 116.4M1536.3 127.4L1532.1 119.7M1537.1 126.9L1532.9 119.2M1538 126.4L1533.9 118.8M1538.9 126L1535.1 118.9M1539.7 125.5L1536.3 119M1540.6 125L1536.2 116.6M1541.5 124.6L1536.9 115.7M1542.4 124.1L1538.8 117.3M1543.2 123.7L1540.9 119M1544.1 123.2L1540.7 116.5M1550.8 120L1549.3 116.8M1551.7 119.5L1548.5 112.7M1552.6 119.1L1548 109.2M1553.5 118.7L1550.1 111.4M1554.4 118.3L1551.2 111.3M1555.3 117.9L1551.9 110.4M1556.2 117.5L1553 110.3M1557.1 117.1L1553.9 109.9M1558 116.7L1553.3 106.1M1558.9 116.3L1556.8 111.5M1559.8 115.9L1557.2 109.8M1560.7 115.5L1559 111.4M1561.6 115.1L1560.1 111.4M1562.5 114.7L1559.9 108.4M1563.4 114.3L1560.7 107.7M1564.4 113.9L1561 105.7M1565.3 113.6L1562.5 106.9M1566.2 113.2L1563.3 106M1567.1 112.8L1563.4 103.7M1568 112.5L1566 107.3M1568.9 112.1L1567 107.1M1569.9 111.7L1566.3 102.5M1570.8 111.4L1567.3 102.4M1571.7 111L1569.6 105.5M1572.6 110.7L1569.1 101.2M1573.6 110.3L1570 100.8M1574.5 110L1572.3 104.1M1575.4 109.6L1573.7 104.9M1576.4 109.3L1574.1 103M1577.3 109L1574 99.8M1578.2 108.6L1574.6 98.5M1579.2 108.3L1576.2 99.7M1580.1 108L1577.8 101.4M1587.1 105.7L1585.4 100M1588.1 105.4L1584.5 93.9M1589 105.1L1586.6 97.3M1590 104.8L1588 98.1M1590.9 104.5L1588.8 97.6M1591.9 104.2L1589.5 96.1M1592.8 103.9L1590.6 96.2M1593.8 103.7L1590.8 93.2M1594.7 103.4L1592.9 97M1595.7 103.1L1593.5 95.3M1596.6 102.8L1592.8 89.2M1597.6 102.6L1595.8 96.1M1598.5 102.3L1596.4 94.4M1599.5 102.1L1596.6 91.2M1600.4 101.8L1597.7 91.3M1601.4 101.6L1599.6 94.6M1602.4 101.3L1601 96M1603.3 101.1L1601.2 92.8M1604.3 100.8L1601.9 91.2M1605.2 100.6L1603.3 92.6M1606.2 100.4L1604.2 92M1607.2 100.1L1605.6 93.5M1608.1 99.9L1605.6 89.2M1616.8 98L1614.3 85.3M1617.8 97.8L1616.4 90.7M1618.8 97.6L1617.3 90M1619.7 97.5L1618.8 92.5M1620.7 97.3L1619.5 90.9M1621.7 97.1L1620 88M1622.7 96.9L1620.7 85.9M1623.6 96.7L1622 87.4M1624.6 96.6L1623.5 90M1625.6 96.4L1624.2 88M1626.6 96.2L1625.6 90.6M1630.5 95.6L1629.2 86.9M1631.5 95.5L1630 85.7M1632.4 95.3L1631.3 87.4M1633.4 95.2L1632.4 87.7M1641.3 94.2L1640.2 84.1M1642.3 94.1L1641.2 84.3M1643.2 94L1642.4 85.4M1644.2 93.9L1643.5 86.5M1645.2 93.8L1644.3 84.8M1694.3 140.5L1696.1 121.2M1695.1 140.6L1696.7 124.5M1695.9 140.7L1697.1 128.8M1696.8 140.7L1697.8 130.5M1697.6 140.8L1698.9 128.2M1698.4 140.9L1700 126M1699.2 141L1701.2 123.2M1700 141.1L1701.3 130.6M1700.9 141.2L1702.1 130.8M1701.7 141.3L1702.9 131.7M1702.5 141.4L1704.3 127.6M1703.3 141.5L1705.3 126.5M1704.1 141.6L1705.9 128.8M1705 141.7L1707.3 124.7M1705.8 141.9L1707.9 127.2M1706.6 142L1709.4 122.9M1707.4 142.1L1709.7 126.4M1708.2 142.2L1709.8 131.5M1709 142.3L1710.7 131.9M1709.8 142.5L1712 128.8M1710.7 142.6L1712.5 131.1M1711.5 142.7L1714.3 125.9M1712.3 142.9L1714.4 130.2M1713.1 143L1714.9 132.6M1713.9 143.2L1715.8 132.7M1714.7 143.3L1717.4 128.7M1715.5 143.5L1719 124.5M1716.4 143.6L1718.9 130.2M1717.2 143.8L1720.5 126.5M1718 143.9L1720.7 130M1718.8 144.1L1721.2 132M1719.6 144.2L1722.6 129.7M1720.4 144.4L1723.8 127.8M1726 145.6L1729 132.9M1726.9 145.8L1730.2 131.7M1727.7 146L1730.3 135.1M1728.5 146.2L1731 135.6M1729.3 146.4L1732.5 133.4M1730.1 146.6L1733.1 134.5M1730.9 146.8L1734.1 134.2M1731.7 147L1736.3 129.2M1732.5 147.2L1736.2 133M1733.3 147.4L1735.4 139.3M1734.1 147.7L1738.5 131M1734.9 147.9L1736.7 140.9M1735.6 148.1L1739.5 134.3M1736.4 148.3L1739.6 137.2M1737.2 148.5L1740.4 137.5M1738 148.8L1742 135.1M1738.8 149L1743.6 132.8M1739.6 149.2L1743.4 136.4M1740.4 149.5L1744.2 136.7M1741.2 149.7L1745.5 135.4M1742 149.9L1746.4 135.7M1742.8 150.2L1747.4 135.2M1743.6 150.4L1748.5 134.9M1744.4 150.7L1747.1 142M1745.1 150.9L1748.9 139.2M1745.9 151.2L1749.8 139.3M1746.7 151.4L1749.9 141.8M1747.5 151.7L1752.6 136.4M1748.3 152L1754.9 132.4M1749.1 152.2L1752.9 141M1749.8 152.5L1755.1 137.2M1750.6 152.8L1754.3 142.2M1751.4 153L1757.2 136.5M1752.2 153.3L1755 145.4M1752.9 153.6L1757.5 140.9M1753.7 153.9L1758.4 141.1M1754.5 154.2L1758.1 144.3M1755.3 154.5L1759.7 142.6M1756 154.7L1759.4 145.8M1756.8 155L1760.6 145.2M1757.6 155.3L1762.4 142.9M1758.4 155.6L1763.8 141.6M1759.1 155.9L1764.3 142.7M1759.9 156.2L1766 140.9M1760.7 156.5L1765.5 144.6M1761.4 156.9L1768 140.7M1762.2 157.2L1766.6 146.4M1763 157.5L1768.2 144.8M1763.7 157.8L1769 145.2M1764.5 158.1L1768.1 149.6M1765.2 158.4L1768.1 151.7M1766 158.8L1770.6 148.1M1766.8 159.1L1773.5 143.5M1767.5 159.4L1773 147M1768.3 159.8L1773.6 147.6M1769 160.1L1776.4 143.6M1769.8 160.4L1773.7 151.7M1770.5 160.8L1774.9 151.3M1771.3 161.1L1777.6 147.4M1772 161.5L1776.7 151.4M1772.8 161.8L1779.5 147.3M1773.5 162.2L1780.8 146.8M1774.3 162.5L1780.7 149M1775 162.9L1778.7 155.1M1775.8 163.2L1782.2 149.9M1776.5 163.6L1783 150.3M1777.2 164L1781.9 154.5M1778 164.3L1786.5 147.1M1778.7 164.7L1784.3 153.6M1779.5 165.1L1785 154.1M1780.2 165.4L1783.5 158.9M1780.9 165.8L1786.2 155.5M1781.7 166.2L1788.4 153.2M1782.4 166.6L1788.5 154.9M1783.1 167L1786.8 160M1783.8 167.4L1791.9 152.3M1784.6 167.7L1791.1 155.5M1785.3 168.1L1791.9 156.1M1786 168.5L1792.5 156.7M1786.7 168.9L1794.7 154.4M1787.5 169.3L1794 157.6M1788.2 169.7L1793 161.2M1788.9 170.1L1794.6 160.1M1789.6 170.5L1796.5 158.5M1790.3 171L1797.4 158.6M1791.1 171.4L1798.8 158M1791.8 171.8L1798.1 161M1792.5 172.2L1799 161.1M1793.2 172.6L1798.7 163.3M1793.9 173L1801 161.2M1794.6 173.5L1802.8 159.9M1795.3 173.9L1799.4 167.2M1796 174.3L1805.6 158.6M1796.7 174.8L1803 164.6M1797.4 175.2L1803.8 164.9M1798.1 175.6L1805.6 163.6M1798.8 176.1L1808.1 161.3M1799.5 176.5L1807.6 163.9M1800.2 177L1808.5 164M1800.9 177.4L1809 164.9M1801.6 177.8L1808.8 166.8M1802.3 178.3L1808.3 169.2M1803 178.8L1810.3 167.7M1803.7 179.2L1810.5 168.9M1804.4 179.7L1810.8 170M1805 180.1L1811.2 171.1M1805.7 180.6L1812.6 170.5M1806.4 181.1L1813 171.5M1807.1 181.5L1814.8 170.4M1807.8 182L1817.8 167.6M1808.4 182.5L1813 176M1809.1 183L1818.2 170.1M1809.8 183.4L1821.5 167M1810.5 183.9L1820.2 170.4M1811.1 184.4L1820 172.2M1811.8 184.9L1821.8 171.1M1812.5 185.4L1820.2 174.8M1813.1 185.9L1818.2 179M1813.8 186.3L1822.6 174.6M1814.5 186.8L1823.5 174.7M1815.1 187.3L1821.3 179.1M1815.8 187.8L1824.7 176.1M1816.4 188.3L1823.5 179.1M1817.1 188.8L1826.8 176.3M1817.7 189.3L1824.4 180.8M1818.4 189.9L1825.1 181.4M1819 190.4L1829.9 176.6M1819.7 190.9L1826 182.9M1820.3 191.4L1828.4 181.3M1821 191.9L1826.1 185.5M1821.6 192.4L1828.5 184M1822.3 193L1829.7 183.9M1822.9 193.5L1832.6 181.7M1823.5 194L1834.1 181.2M1824.2 194.5L1834 182.7M1824.8 195.1L1835.5 182.3M1825.4 195.6L1835.8 183.3M1826.1 196.1L1836.5 183.9M1826.7 196.7L1837.1 184.5M1827.3 197.2L1839.3 183.3M1827.9 197.7L1838.1 186M1828.5 198.3L1839.3 186.1M1829.2 198.8L1841.3 185.2M1829.8 199.4L1838.1 190M1830.4 199.9L1841.1 188M1831 200.5L1840.2 190.3M1831.6 201L1841 190.7M1832.2 201.6L1844.3 188.4M1832.8 202.2L1842.8 191.3M1833.4 202.7L1838.4 197.4M1834.1 203.3L1840.2 196.8M1834.7 203.8L1843.2 194.7M1835.3 204.4L1844.5 194.6M1835.9 205L1845.9 194.4M1836.4 205.6L1845.1 196.5M1837 206.1L1845.2 197.7M1837.6 206.7L1847.5 196.6M1838.2 207.3L1847.3 198M1841.1 210.2L1849.9 201.6M1841.7 210.8L1850.9 201.8M1842.3 211.4L1853.1 200.9M1842.9 212L1850.8 204.4M1843.4 212.6L1854 202.5M1844 213.2L1856.1 201.6M1844.6 213.8L1854.5 204.4M1845.1 214.4L1856.5 203.7M1845.7 215L1855.7 205.7M1846.3 215.6L1856.3 206.4M1846.8 216.2L1854.6 209M1847.4 216.8L1860.6 204.8M1847.9 217.4L1858.2 208.1M1848.5 218L1861.6 206.3M1849 218.6L1860.3 208.6M1849.6 219.2L1858.6 211.2M1850.1 219.9L1859.3 211.8M1850.7 220.5L1862.4 210.3M1851.2 221.1L1864.1 209.9M1851.8 221.7L1861.4 213.4M1852.3 222.4L1865.6 211M1852.8 223L1866.9 211M1853.4 223.6L1865.1 213.7M1853.9 224.3L1866 214.1M1854.4 224.9L1863.2 217.6M1855 225.5L1864.3 217.8M1855.5 226.2L1866.4 217.3M1856 226.8L1862.5 221.5M1856.5 227.4L1869.1 217.3M1857 228.1L1868.2 219.1M1857.6 228.7L1869.6 219.2M1858.1 229.4L1869.1 220.6M1858.6 230L1870 221M1859.1 230.7L1872.4 220.3M1859.6 231.3L1871.6 222M1860.1 232L1865.8 227.6M1860.6 232.6L1873 223.1M1861.1 233.3L1872 225M1861.6 234L1872 226.2M1862.1 234.6L1877.5 223.1M1862.6 235.3L1877.2 224.5M1863.1 235.9L1873.3 228.4M1863.6 236.6L1869.9 232M1864 237.3L1875.5 229M1864.5 237.9L1875.3 230.2M1865 238.6L1873.7 232.4M1865.5 239.3L1876.5 231.5M1866 240L1877.2 232.1M1866.4 240.6L1874.8 234.8M1866.9 241.3L1877.7 233.8M1867.4 242L1876.3 235.8M1867.8 242.7L1879.3 234.8M1868.3 243.4L1877.8 236.9M1868.8 244L1878.8 237.3M1869.2 244.7L1876.6 239.8M1869.7 245.4L1881 237.9M1870.1 246.1L1876.3 242.1M1870.6 246.8L1883 238.7M1871 247.5L1884.5 238.8M1871.5 248.2L1880.9 242.2M1871.9 248.9L1880.9 243.2M1872.4 249.6L1883.8 242.3M1872.8 250.3L1884.2 243.1M1873.3 251L1886.3 242.9M1873.7 251.7L1888.7 242.4M1874.1 252.4L1884.3 246.2M1874.6 253.1L1884.5 247M1875 253.8L1888.2 245.8M1875.4 254.5L1885.3 248.6M1875.8 255.2L1889.1 247.3M1876.2 255.9L1890.8 247.3M1876.7 256.6L1890.4 248.6M1877.1 257.3L1883.1 253.9M1877.5 258.1L1888.6 251.7M1877.9 258.8L1893 250.2M1878.3 259.5L1895.1 250M1878.7 260.2L1895.6 250.7M1879.1 260.9L1888.1 255.9M1879.5 261.7L1893.8 253.8M1879.9 262.4L1893.4 255M1880.3 263.1L1889.6 258.1M1880.7 263.8L1891.3 258.1M1881.1 264.6L1895.8 256.7M1881.5 265.3L1895.7 257.8M1881.9 266L1892.2 260.6M1882.3 266.7L1892.8 261.3M1882.6 267.5L1894.3 261.4M1883 268.2L1893.9 262.6M1883.4 268.9L1893.2 264M1883.8 269.7L1892.2 265.4M1884.1 270.4L1895.5 264.8M1884.5 271.2L1898.7 264.1M1884.9 271.9L1896.3 266.3M1885.2 272.6L1895.6 267.6M1885.6 273.4L1897.2 267.8M1885.9 274.1L1897.1 268.8M1886.3 274.9L1900.3 268.2M1886.6 275.6L1899.1 269.8M1887 276.4L1894.3 273M1887.3 277.1L1895.8 273.2M1887.7 277.9L1901.5 271.6M1888 278.6L1899.5 273.5M1888.4 279.4L1899.5 274.4M1888.7 280.1L1898 276M1889 280.9L1899.7 276.2M1889.4 281.6L1905.2 274.8M1889.7 282.4L1906.4 275.2M1890 283.2L1901.4 278.3M1890.3 283.9L1905.2 277.7M1890.7 284.7L1906.9 277.9M1891 285.4L1903 280.4M1891.3 286.2L1909 278.9M1891.6 287L1902.9 282.4M1891.9 287.7L1905.6 282.2M1892.2 288.5L1907 282.6M1892.5 289.3L1905.5 284.1M1892.8 290L1906.4 284.7M1893.1 290.8L1905.1 286.2M1893.4 291.6L1901.5 288.5M1893.7 292.4L1901.2 289.5M1894 293.1L1905.9 288.7M1894.3 293.9L1906 289.6M1894.6 294.7L1908.5 289.6M1894.9 295.4L1909.7 290.1M1895.1 296.2L1904.7 292.8M1895.4 297L1907.1 292.9M1895.7 297.8L1904.5 294.7M1896 298.6L1909 294M1896.2 299.3L1908.4 295.2M1896.5 300.1L1909 295.9M1896.8 300.9L1911.1 296.1M1897 301.7L1908.9 297.7M1897.3 302.5L1914.6 296.8M1897.5 303.3L1912.4 298.5M1897.8 304L1913.6 299M1898 304.8L1912.2 300.4M1898.3 305.6L1911.7 301.4M1898.5 306.4L1910.2 302.8M1898.8 307.2L1912.7 303M1899 308L1908.6 305.1M1899.2 308.8L1911.8 305M1899.5 309.6L1910.5 306.3M1899.7 310.4L1910.9 307.1M1899.9 311.2L1914.1 307.1M1900.2 311.9L1913.5 308.2M1900.4 312.7L1915.9 308.4M1900.6 313.5L1912.4 310.3M1900.8 314.3L1916.1 310.2M1901 315.1L1910.2 312.7M1901.2 315.9L1911.8 313.2M1901.5 316.7L1916.5 312.8M1901.7 317.5L1916.8 313.7M1901.9 318.3L1913.5 315.4M1902.1 319.1L1917.6 315.3M1902.3 319.9L1912.9 317.3M1902.5 320.7L1911.9 318.5M1902.6 321.5L1916.3 318.3M1902.8 322.3L1915.5 319.4M1903 323.1L1917.9 319.7M1903.2 324L1918.2 320.6M1903.4 324.8L1923 320.4M1903.6 325.6L1915.2 323M1903.7 326.4L1921.5 322.5M1903.9 327.2L1915.5 324.7M1904.1 328L1911.4 326.5M1904.2 328.8L1913.7 326.9M1904.4 329.6L1912.1 328.1M1904.6 330.4L1915.3 328.3M1904.7 331.2L1916.1 329M1905.6 336.1L1915.5 334.4M1905.7 336.9L1915.2 335.3M1905.9 337.7L1922.6 335M1906 338.5L1917.4 336.7M1906.1 339.4L1915.2 337.9M1906.3 340.2L1922.3 337.7M1906.4 341L1920.5 338.9M1906.5 341.8L1920.2 339.8M1906.6 342.6L1918.5 340.9M1906.7 343.4L1919.7 341.6M1906.9 344.3L1927.2 341.5M1907 345.1L1913 344.3M1907.1 345.9L1922.4 343.9M1907.2 346.7L1922.3 344.8M1907.3 347.5L1917 346.4M1907.4 348.4L1920.9 346.8M1907.5 349.2L1922.4 347.5M1907.6 350L1918.1 348.8M1907.7 350.8L1925.1 348.9M1907.7 351.6L1923.9 350M1907.8 352.5L1925.5 350.7M1907.9 353.3L1927 351.4M1908 354.1L1917.9 353.2M1908.1 354.9L1916.7 354.1M1908.1 355.7L1919.7 354.7M1908.2 356.6L1922 355.4M1908.3 357.4L1918 356.6M1908.3 358.2L1918.8 357.4M1908.4 359L1926.8 357.7M1908.4 359.9L1922.1 358.9M1908.5 360.7L1923 359.7M1908.6 361.5L1923.8 360.6M1908.6 362.3L1922.5 361.5M1908.7 363.2L1924.7 362.3M1908.7 364L1921.6 363.3M1908.7 364.8L1919.4 364.3M1908.8 365.6L1922.3 365M1908.8 366.5L1922.6 365.9M1908.8 367.3L1924.3 366.7M1908.9 368.1L1923.8 367.6M1908.9 368.9L1920.7 368.6M1908.9 369.8L1921.9 369.4M1908.9 370.6L1920.8 370.3M1909 371.4L1920 371.2M1909 372.2L1926.8 371.9M1909 373.1L1925.5 372.8M1909 373.9L1927 373.7M1909 374.7L1916.9 374.7M1909 375.5L1923.1 375.5M1909 376.4L1917.5 376.4M1909 377.2L1926.1 377.3M1909 378L1921.7 378.1M1909 378.8L1918.8 379M1909 379.7L1915 379.8M1909 380.5L1921.8 380.7M1908.9 381.3L1921.6 381.6M1908.9 382.1L1927 382.6M1908.9 383L1923.9 383.4M1908.9 383.8L1924 384.3M1908.8 384.6L1922.6 385.1M1908.8 385.4L1923.2 386M1908.8 386.3L1920.8 386.8M1908.7 387.1L1917.3 387.5M1908.7 387.9L1922 388.6M1908.7 388.7L1922.2 389.5M1908.6 389.6L1922.4 390.3M1908.6 390.4L1922.3 391.2M1908.5 391.2L1922.9 392.1M1908.5 392L1923.3 393M1908.4 392.9L1921.7 393.8M1908.3 393.7L1927 395.1M1908.3 394.5L1920.2 395.4M1908.2 395.3L1924.6 396.7M1908.1 396.1L1916.7 396.9M1908.1 397L1924.2 398.4M1908 397.8L1916.8 398.6M1907.9 398.6L1918.8 399.7M1907.8 399.4L1916.5 400.3M1907.8 400.3L1923.9 401.9M1907.7 401.1L1918.3 402.2M1907.6 401.9L1921.2 403.4M1907.5 402.7L1916.6 403.7M1907.4 403.5L1917.6 404.7M1907.3 404.4L1919 405.8M1907.2 405.2L1918.5 406.6M1907.1 406L1921.2 407.8M1907 406.8L1922.6 408.9M1906.9 407.6L1919.9 409.4M1906.8 408.5L1917.7 410M1906.6 409.3L1915.4 410.5M1906.5 410.1L1920.2 412.1M1906.4 410.9L1923.4 413.4M1906.3 411.7L1920.5 413.9M1906.2 412.5L1916.6 414.2M1906 413.3L1918.6 415.4M1905.9 414.2L1916.2 415.9M1905.8 415L1923.8 418M1905.6 415.8L1917.3 417.8M1905.5 416.6L1916.1 418.5M1905.3 417.4L1920.7 420.1M1905.2 418.2L1920.5 421M1905 419L1920.7 421.9M1904.9 419.9L1918.4 422.4M1904.7 420.7L1919.4 423.5M1904.6 421.5L1916.1 423.7M1904.4 422.3L1920.6 425.5M1904.3 423.1L1919.2 426.1M1904.1 423.9L1913.8 425.9M1903.9 424.7L1918.4 427.8M1903.8 425.5L1916.7 428.3M1903.6 426.3L1918.3 429.5M1903.4 427.1L1916.4 430M1903.2 427.9L1919.9 431.7M1903 428.7L1918 432.2M1902.9 429.5L1914.5 432.3M1902.7 430.4L1915.2 433.3M1902.5 431.2L1914.9 434.1M1902.3 432L1916.5 435.4M1902.1 432.8L1913.5 435.6M1901.9 433.6L1914.4 436.7M1901.7 434.4L1915.3 437.8M1901.5 435.2L1909.8 437.3M1901.3 436L1910.2 438.3M1901.1 436.8L1916.7 440.9M1900.8 437.6L1908.5 439.6M1900.6 438.4L1917.4 442.9M1900.4 439.1L1902.2 439.6M1900.2 439.9L1910.8 442.9M1900 440.7L1911.4 444M1899.7 441.5L1910.1 444.5M1899.5 442.3L1913.3 446.4M1899.3 443.1L1911.2 446.7M1899 443.9L1911.9 447.8M1898.8 444.7L1912.5 448.8M1897.8 447.9L1907.1 450.8M1897.6 448.6L1908.9 452.3M1897.3 449.4L1910.8 453.8M1897.1 450.2L1912 455.1M1896.8 451L1906.8 454.3M1896.5 451.8L1907.7 455.5M1896.3 452.6L1907.5 456.4M1896 453.3L1910.7 458.4M1895.7 454.1L1905.9 457.7M1895.5 454.9L1911.4 460.5M1895.2 455.7L1911 461.3M1894.9 456.4L1904.8 460M1894.6 457.2L1904.4 460.8M1894.3 458L1907.4 462.8M1894 458.8L1904.8 462.8M1893.8 459.5L1907.1 464.6M1893.5 460.3L1905.5 464.9M1893.2 461.1L1904.7 465.5M1892.9 461.9L1907.1 467.4M1892.6 462.6L1903.4 466.9M1892.3 463.4L1907 469.3M1892 464.2L1901.8 468.1M1891.6 464.9L1903.6 469.8M1891.3 465.7L1905.1 471.3M1891 466.5L1905 472.2M1890.7 467.2L1899.9 471M1890.4 468L1903.2 473.4M1890.1 468.7L1901.4 473.6M1889.7 469.5L1905.3 476.2M1889.4 470.3L1901.4 475.5M1889.1 471L1903.2 477.2M1888.7 471.8L1896.7 475.3M1888.4 472.5L1905.3 480.1M1888.1 473.3L1900 478.6M1887.7 474L1903.5 481.2M1887.4 474.8L1898.9 480.1M1887 475.5L1898.7 480.9M1886.7 476.3L1900.2 482.6M1886.3 477L1895.2 481.2M1886 477.8L1898.5 483.8M1885.6 478.5L1894.8 482.9M1885.3 479.3L1898.4 485.6M1884.9 480L1894.8 484.8M1884.5 480.7L1897.9 487.4M1884.2 481.5L1895.4 487.1M1883.8 482.2L1897.1 488.9M1883.4 483L1894.4 488.5M1883.1 483.7L1890.1 487.3M1882.7 484.4L1893.5 490M1882.3 485.2L1895.8 492.2M1881.9 485.9L1897 493.8M1881.5 486.6L1889.4 490.8M1881.1 487.3L1892.8 493.6M1880.8 488.1L1890.5 493.3M1880.4 488.8L1895.9 497.2M1880 489.5L1892.3 496.2M1879.6 490.2L1891.6 496.9M1879.2 491L1892.7 498.5M1878.8 491.7L1891.4 498.8M1878.4 492.4L1893.8 501.1M1878 493.1L1885.5 497.4M1877.5 493.8L1886.8 499.2M1877.1 494.6L1887.5 500.5M1874 499.8L1882.6 505.1M1873.6 500.5L1885.4 507.9M1873.1 501.2L1887.8 510.4M1872.7 501.9L1884.2 509.2M1872.2 502.6L1880.4 507.8M1871.8 503.3L1883 510.5M1871.3 504L1878.4 508.6M1870.9 504.7L1878.5 509.7M1870.4 505.4L1877.8 510.2M1870 506.1L1886.1 516.7M1869.5 506.8L1878.6 512.8M1869.1 507.5L1881.9 516M1868.6 508.2L1879.7 515.6M1868.2 508.9L1875.7 514M1867.7 509.5L1877 515.9M1867.2 510.2L1875.3 515.8M1866.8 510.9L1880.5 520.4M1866.3 511.6L1878.9 520.4M1865.8 512.2L1881 522.9M1865.3 512.9L1878.5 522.3M1864.9 513.6L1875.3 521.1M1864.4 514.3L1875.4 522.2M1863.9 514.9L1874.7 522.8M1863.4 515.6L1872.1 522M1862.9 516.3L1871 522.2M1862.4 516.9L1872.2 524.2M1861.9 517.6L1870.8 524.2M1861.4 518.3L1872.3 526.4M1860.9 518.9L1869.4 525.4M1860.4 519.6L1873 529.2M1859.9 520.2L1868.7 527M1859.4 520.9L1865.5 525.6M1858.9 521.5L1869.3 529.6M1858.4 522.2L1867.4 529.3M1857.9 522.8L1867.5 530.4M1857.4 523.5L1864.3 529M1856.9 524.1L1869.8 534.5M1856.4 524.8L1859.9 527.6M1855.8 525.4L1865.2 533M1855.3 526L1866 534.8M1854.8 526.7L1866.2 536.1M1854.3 527.3L1864.1 535.5M1853.7 527.9L1865.1 537.5M1853.2 528.6L1859.7 534.1M1852.7 529.2L1863.9 538.8M1852.1 529.8L1863 539.2M1851.6 530.5L1863.1 540.4M1851.1 531.1L1857.5 536.7M1850.5 531.7L1858.2 538.4M1850 532.3L1861.4 542.4M1849.4 532.9L1855.5 538.3M1848.9 533.6L1859.2 542.8M1848.3 534.2L1863.1 547.5M1847.8 534.8L1857.9 544M1847.2 535.4L1856.1 543.5M1846.7 536L1856.8 545.4M1846.1 536.6L1855.8 545.6M1845.5 537.2L1855.8 546.8M1845 537.8L1855.4 547.6M1844.4 538.4L1855.1 548.5M1843.8 539L1854.8 549.4M1843.3 539.6L1852.5 548.4M1842.7 540.2L1855.9 552.9M1842.1 540.8L1852.4 550.8M1841.5 541.4L1847.3 547M1841 542L1852.9 553.7M1840.4 542.6L1846.2 548.3M1839.8 543.2L1849.8 553.2M1839.2 543.7L1850 554.6M1838.6 544.3L1848.4 554.3M1838 544.9L1849.3 556.4M1837.4 545.5L1851.2 559.6M1836.9 546.1L1842.4 551.8M1836.3 546.6L1846.2 557M1835.7 547.2L1845.6 557.7M1835.1 547.8L1842.3 555.4M1834.5 548.3L1842.7 557.1M1833.9 548.9L1842.4 558.1M1833.3 549.5L1845.2 562.4M1832.7 550L1840.9 559M1832 550.6L1843.7 563.3M1831.4 551.1L1843.2 564.1M1830.8 551.7L1837.4 559M1828.4 553.9L1837 563.8M1827.7 554.4L1838.3 566.5M1827.1 555L1833.7 562.5M1826.5 555.5L1834.6 565M1825.9 556L1833.6 565.2M1825.2 556.6L1830.5 562.8M1824.6 557.1L1834.7 569.2M1824 557.6L1832.8 568.3M1823.3 558.2L1834.9 572.2M1822.7 558.7L1832.5 570.6M1822.1 559.2L1831.2 570.4M1821.4 559.7L1827.2 566.9M1820.8 560.3L1827.8 568.9M1820.1 560.8L1831.1 574.5M1819.5 561.3L1828.3 572.4M1818.8 561.8L1825.8 570.6M1818.2 562.3L1825.7 571.9M1817.5 562.8L1826.1 573.8M1816.9 563.3L1825.9 575M1816.2 563.8L1825.6 576.1M1815.6 564.3L1823.9 575.3M1814.9 564.8L1822 574.2M1814.2 565.3L1826.4 581.5M1813.6 565.8L1823.3 578.8M1812.9 566.3L1820.5 576.6M1812.3 566.8L1820.3 577.8M1811.6 567.3L1817.7 575.6M1810.9 567.8L1816.9 576.1M1810.3 568.2L1817.1 577.7M1809.6 568.7L1815.2 576.6M1808.9 569.2L1814.8 577.5M1808.2 569.7L1816.5 581.5M1807.6 570.1L1816.3 582.7M1806.9 570.6L1813.6 580.3M1806.2 571.1L1816.4 586M1805.5 571.5L1813.6 583.5M1804.8 572L1813.7 585.2M1804.1 572.5L1812.1 584.4M1803.5 572.9L1811.3 584.7M1802.8 573.4L1810.7 585.4M1802.1 573.8L1812 589M1801.4 574.3L1810.1 587.7M1800.7 574.7L1805.9 582.8M1800 575.2L1808.5 588.4M1799.3 575.6L1805.6 585.6M1798.6 576.1L1807.5 590.2M1797.9 576.5L1805.8 589.2M1797.2 576.9L1802.5 585.4M1796.5 577.4L1802.9 587.8M1795.8 577.8L1803 589.6M1795.1 578.2L1801.5 588.8M1794.4 578.7L1800.4 588.6M1793.7 579.1L1803.4 595.4M1793 579.5L1799.5 590.6M1792.3 579.9L1798.5 590.5M1791.5 580.4L1798.4 592.1M1790.8 580.8L1795.1 588.1M1790.1 581.2L1798.7 596.1M1789.4 581.6L1792.7 587.4M1788.7 582L1796.8 596.3M1788 582.4L1793.8 592.8M1787.2 582.8L1794.3 595.5M1786.5 583.2L1792.3 593.8M1785.8 583.6L1796.1 602.5M1785.1 584L1791 595M1784.3 584.4L1790.2 595.2M1783.6 584.8L1789.5 595.8M1782.9 585.2L1788.9 596.5M1782.2 585.5L1787.8 596.3M1781.4 585.9L1788.9 600.4M1780.7 586.3L1785.1 594.9M1780 586.7L1786.8 600.1M1779.2 587.1L1786.9 602.3M1778.5 587.4L1784.1 598.7M1777.7 587.8L1783 598.4M1777 588.2L1784.2 602.8M1776.3 588.5L1780.7 597.5M1775.5 588.9L1779.9 598M1774.8 589.2L1782.1 604.5M1774 589.6L1780.1 602.4M1773.3 590L1777.7 599.3M1772.5 590.3L1778.3 602.7M1771.8 590.6L1777.2 602.3M1771 591L1776.9 603.8M1770.3 591.3L1777.8 607.8M1769.5 591.7L1777.6 609.6M1768.8 592L1774.8 605.4M1768 592.3L1772.2 601.9M1767.3 592.7L1772.2 603.9M1766.5 593L1772.6 607.2M1765.8 593.3L1771.6 607.1M1765 593.7L1768.7 602.3M1764.2 594L1769.2 605.7M1763.5 594.3L1770.1 610.1M1762.7 594.6L1768 607.5M1761.9 594.9L1766.7 606.6M1761.2 595.2L1767.4 610.6M1760.4 595.6L1765.2 607.5M1759.7 595.9L1765.6 610.9M1758.9 596.2L1763 606.6M1758.1 596.5L1760.4 602.4M1757.3 596.8L1760.1 603.9M1756.6 597.1L1761.5 610M1755.8 597.3L1760.7 610.4M1755 597.6L1760.9 613.5M1754.3 597.9L1758.2 608.6M1753.5 598.2L1758.2 611.1M1752.7 598.5L1756.8 609.9M1751.9 598.8L1756.9 612.8M1751.1 599L1756.4 613.9M1750.4 599.3L1754.6 611.4M1749.6 599.6L1753.6 611.2M1748.8 599.9L1753 612.1M1748 600.1L1751.7 611M1747.2 600.4L1752.1 614.8M1746.5 600.6L1750.1 611.5M1745.7 600.9L1751.2 617.8M1744.9 601.1L1748.6 612.5M1744.1 601.4L1747.9 613.3M1743.3 601.6L1746.9 613M1742.5 601.9L1748.1 620M1741.7 602.1L1745 612.8M1740.9 602.4L1744 612.5M1740.2 602.6L1743.8 614.8M1739.4 602.9L1743.3 616.1M1738.6 603.1L1740.6 610.1M1737.8 603.3L1740.9 614.1M1737 603.5L1740.9 617.2M1736.2 603.8L1740 617.4M1735.4 604L1737.6 612.1M1734.6 604.2L1738.8 619.5M1733.8 604.4L1736.5 614.3M1733 604.6L1736.7 618.6M1732.2 604.8L1736.6 621.5M1731.4 605L1734.3 616.2M1730.6 605.2L1733.4 616.4M1729.8 605.5L1734.1 622.8M1729 605.7L1732.2 618.6M1728.2 605.8L1731.4 619M1727.4 606L1730.1 617.5M1726.6 606.2L1730.4 622.5M1725.8 606.4L1728 615.8M1725 606.6L1729.1 624.5M1724.2 606.8L1726.6 617.8M1723.4 607L1726.2 619.8M1722.6 607.1L1725.1 618.8M1721.8 607.3L1725.3 623.9M1721 607.5L1723.6 620.1M1720.2 607.7L1723.1 621.9M1719.3 607.8L1722.3 622.6M1718.5 608L1721.8 624.5M1717.7 608.1L1719.9 619.6M1716.9 608.3L1719.5 621.8M1716.1 608.4L1719.1 624.6M1715.3 608.6L1717 618.1M1714.5 608.7L1716.5 620M1713.7 608.9L1717.3 629.4M1712.9 609L1715.6 624.8M1712 609.2L1714.4 623M1711.2 609.3L1713.9 625.3M1710.4 609.4L1712.7 623.6M1709.6 609.6L1711.5 621.4M1708.8 609.7L1711 624.3M1708 609.8L1710.6 627.3M1707.1 609.9L1709.4 625.1M1706.3 610.1L1708.7 626.4M1705.5 610.2L1707.3 623M1704.7 610.3L1706.8 625.6M1703.9 610.4L1705.3 621M1703.1 610.5L1704.6 622.2M1702.2 610.6L1704 624.4M1701.4 610.7L1702.8 622.1M1700.6 610.8L1702.8 629.3M1699.8 610.9L1701 621.8M1699 611L1700.7 626.7M1698.1 611.1L1699.9 627.5M1697.3 611.2L1698.9 625.7M1696.5 611.3L1698.3 628.5M1695.7 611.4L1696.9 623.4M1694.9 611.4L1696.5 629.3M1694 611.5L1695 622.2M1693.2 611.6L1694.5 626.2M1692.4 611.7L1693.5 624.7M1691.6 611.7L1692.8 626.8M1690.7 611.8L1692.1 629.3M1689.9 611.9L1691 627.2M1689.1 611.9L1689.9 622.8M1688.3 612L1689.3 627.9M1687.4 612L1688.4 627.8M1686.6 612.1L1687.5 626.2M1685.8 612.1L1686.6 626.2M1685 612.2L1685.9 630.6M1684.1 612.2L1684.8 625.3M1683.3 612.3L1684 627.9M1682.5 612.3L1683.1 626.9M1681.7 612.3L1682.3 627.8M1680.9 612.4L1681.4 627.9M1680 612.4L1680.4 623.8M1674.2 612.5L1674.3 624.9M1673.4 612.5L1673.5 627.6M1672.6 612.5L1672.6 634M1671.8 612.5L1671.7 631.8M1670.9 612.5L1670.9 624.1M1670.1 612.5L1670 627.9M1669.3 612.5L1669.1 624.4M1668.5 612.5L1668.3 620.5M1667.6 612.5L1667.2 632.7M1666.8 612.4L1666.5 627.5M1666 612.4L1665.6 626M1665.2 612.4L1664.7 628.8M1664.3 612.4L1663.8 627.8M1663.5 612.3L1663 626.3M1662.7 612.3L1662.3 622.9M1661.9 612.3L1661.1 628.5M1661 612.2L1660.2 629.3M1660.2 612.2L1659.6 623.3M1659.4 612.1L1659 619.6M1658.6 612.1L1657.7 627.3M1657.7 612L1657 624.1M1656.9 612L1656 626.5M1656.1 611.9L1655.3 623.4M1655.3 611.9L1654 629M1654.5 611.8L1653.3 627.1M1653.6 611.7L1652.4 626.7M1652.8 611.7L1651.7 624.9M1652 611.6L1651 622.7M1651.2 611.5L1649.9 625.3M1650.3 611.5L1648.8 628.2M1649.5 611.4L1648 626.7M1648.7 611.3L1647.8 619.9M1647.9 611.2L1646.4 625.7M1647.1 611.1L1645.3 627.3M1646.2 611L1645 622.2M1645.4 610.9L1643.7 626.1M1644.6 610.8L1643.2 622.7M1643.8 610.7L1641.9 626.3M1643 610.6L1641.5 622.4M1642.1 610.5L1640.1 626.3M1641.3 610.4L1640.1 619.3M1640.5 610.3L1638.5 624.6M1639.7 610.2L1638 621.9M1638.9 610.1L1637.1 622.6M1638 610L1635.1 630M1637.2 609.9L1634.8 626.2M1636.4 609.7L1633.9 626.1M1635.6 609.6L1633.6 622.6M1634.8 609.5L1632.9 621.2M1634 609.3L1631.9 621.9M1633.2 609.2L1631.1 621.4M1632.3 609.1L1630.8 618.3M1631.5 608.9L1629.1 622.5M1630.7 608.8L1627.7 625.4M1629.9 608.6L1627 624.5M1629.1 608.5L1627.3 618M1628.3 608.3L1626.4 618.3M1627.5 608.2L1624.9 621.3M1626.7 608L1624.8 617.2M1625.8 607.9L1623.4 620.1M1625 607.7L1621.9 623M1624.2 607.5L1620.9 623.7M1623.4 607.4L1621.3 617.4M1622.6 607.2L1619.1 623.3M1621.8 607L1619.3 618.7M1621 606.8L1618.5 618M1620.2 606.6L1617.3 619.4M1619.4 606.5L1615.6 623.1M1618.6 606.3L1617.1 612.5M1617.8 606.1L1613.4 624.6M1617 605.9L1613 622.3M1616.2 605.7L1613.6 616.1M1615.4 605.5L1613.2 614.4M1609 603.8L1605.2 617.3M1608.2 603.6L1604.9 615.1M1607.4 603.4L1604.6 613.1M1606.6 603.1L1603.1 615.3M1605.8 602.9L1602.9 612.7M1605 602.7L1602.8 610.2M1604.2 602.4L1600.1 616.2M1603.4 602.2L1599.4 615.4M1602.7 602L1598.3 616.1M1601.9 601.7L1597.8 614.9M1601.1 601.5L1597.4 613.2M1600.3 601.2L1595.7 615.4M1599.5 601L1595.5 613.4M1598.7 600.7L1595.8 609.5M1597.9 600.4L1594.6 610.6M1597.2 600.2L1594 609.6M1596.4 599.9L1591.1 615.4M1595.6 599.6L1591.8 610.6M1594.8 599.4L1590.8 611.1M1594 599.1L1589.3 612.7M1593.3 598.8L1589.1 610.5M1592.5 598.6L1587.4 612.5M1591.7 598.3L1587.1 611.1M1590.9 598L1586.2 610.8M1590.2 597.7L1585.2 611M1589.4 597.4L1584.8 609.6M1588.6 597.1L1582.9 612.2M1587.8 596.8L1581.3 613.9M1587.1 596.5L1583.3 606.4M1586.3 596.2L1581.1 609.5M1585.5 595.9L1579.9 610.2M1584.8 595.6L1581.4 604M1584 595.3L1580.1 604.9M1583.2 595L1576.6 611.2M1582.5 594.7L1575.9 610.8M1581.7 594.4L1576.7 606.3M1580.9 594.1L1574.2 610.1M1580.2 593.7L1573.6 609.3M1579.4 593.4L1572.1 610.5M1578.7 593.1L1575.2 601M1577.9 592.8L1573.1 603.7M1577.2 592.4L1571.3 605.7M1576.4 592.1L1570.6 605.2M1575.6 591.8L1571.5 600.9M1574.9 591.4L1569.7 602.8M1574.1 591.1L1567.9 604.8M1573.4 590.7L1568.1 602.2M1572.6 590.4L1567.9 600.5M1571.9 590L1567.8 598.7M1571.1 589.7L1564.7 603.2M1570.4 589.3L1565.6 599.3M1569.7 589L1564.2 600.3M1568.9 588.6L1561.9 603M1568.2 588.2L1561 602.9M1567.4 587.9L1559.3 604.3M1566.7 587.5L1560.7 599.5M1566 587.1L1560.3 598.4M1565.2 586.8L1558.7 599.6M1564.5 586.4L1557.5 599.9M1563.7 586L1557.9 597.3M1563 585.6L1557.7 595.8M1562.3 585.2L1554.9 599.2M1561.6 584.9L1556.3 594.7M1560.8 584.5L1552.6 599.9M1560.1 584.1L1552.4 598.3M1559.4 583.7L1553.3 594.9M1558.7 583.3L1554 591.7M1557.9 582.9L1549.5 598.1M1557.2 582.5L1551 593.7M1556.5 582.1L1549.1 595.3M1555.8 581.7L1549.8 592.2M1555 581.3L1548.4 592.9M1554.3 580.9L1547.5 592.7M1553.6 580.4L1545.6 594.2M1552.9 580L1547.2 589.9M1552.2 579.6L1543.2 594.8M1551.5 579.2L1543.8 592.1M1550.8 578.8L1543.2 591.5M1546.6 576.2L1540.4 585.9M1545.9 575.7L1538.3 587.7M1545.2 575.3L1540 583.3M1544.5 574.8L1538.4 584.3M1543.8 574.4L1535.9 586.5M1543.1 573.9L1534.4 587.2M1542.4 573.5L1535.5 584M1541.7 573L1533.5 585.4M1541 572.6L1534.1 582.9M1540.3 572.1L1534.4 580.9M1539.6 571.7L1531.2 584.1M1539 571.2L1534.3 578M1538.3 570.7L1526.6 587.6M1537.6 570.3L1532.3 577.9M1534.9 568.4L1522.8 585.3M1534.2 567.9L1525.3 580.3M1533.6 567.4L1527 576.5M1532.9 566.9L1527.6 574.1M1532.2 566.4L1523.5 578.2M1531.6 565.9L1525.2 574.5M1530.9 565.4L1522.3 576.9M1530.2 564.9L1519.7 579M1529.6 564.4L1520.4 576.5M1528.9 563.9L1520.7 574.7M1528.3 563.4L1520.8 573.2M1527.6 562.9L1516.9 576.8M1527 562.4L1519.2 572.4M1526.3 561.9L1516.4 574.5M1525.7 561.4L1514 576.2M1525 560.9L1517.3 570.6M1524.4 560.4L1512.4 575.3M1523.7 559.9L1515.9 569.5M1523.1 559.3L1513.6 571M1522.5 558.8L1515.9 566.8M1521.8 558.3L1513.3 568.6M1521.2 557.8L1511.3 569.6M1520.6 557.2L1514 565M1519.9 556.7L1511.1 567.2M1519.3 556.2L1510.4 566.6M1518.7 555.6L1508.6 567.4M1518 555.1L1510.4 564M1517.4 554.6L1505.6 568.2M1516.8 554L1506.4 565.9M1516.2 553.5L1507 563.8M1515.6 552.9L1506.5 563.1M1514.9 552.4L1506.6 561.7M1514.3 551.8L1503.9 563.4M1513.7 551.3L1504.8 561.1M1513.1 550.7L1504.3 560.3M1512.5 550.2L1503 560.5M1511.9 549.6L1502.4 559.8M1511.3 549L1499.8 561.3M1510.7 548.5L1503.7 555.9M1510.1 547.9L1500.5 558M1509.5 547.3L1499.6 557.8M1508.9 546.8L1500.8 555.1M1508.3 546.2L1502.5 552.2M1507.7 545.6L1497.4 556.2M1507.1 545L1498 554.3M1506.5 544.5L1496.3 554.8M1505.9 543.9L1496.9 553M1505.3 543.3L1496.2 552.5M1504.8 542.7L1493.4 554M1504.2 542.1L1498 548.3M1503.6 541.5L1495.9 549.1M1503 540.9L1494.2 549.6M1502.4 540.4L1493.8 548.7M1501.9 539.8L1489.7 551.4M1501.3 539.2L1493.2 546.9M1500.7 538.6L1492 546.9M1500.2 538L1491.1 546.5M1499.6 537.4L1492.9 543.6M1499 536.8L1488.3 546.7M1498.5 536.2L1491.4 542.6M1497.9 535.5L1490 542.8M1497.4 534.9L1489.3 542.2M1496.8 534.3L1486.4 543.7M1496.3 533.7L1484 544.7M1495.7 533.1L1485.9 541.8M1495.2 532.5L1484 542.3M1494.6 531.9L1482.9 542.1M1494.1 531.2L1485.3 538.8M1493.5 530.6L1485.6 537.5M1493 530L1481.5 539.8M1492.5 529.4L1482.9 537.5M1491.9 528.7L1477.7 540.7M1491.4 528.1L1480.8 537M1490.9 527.5L1480.1 536.4M1490.3 526.8L1480 535.4M1489.8 526.2L1482.4 532.2M1489.3 525.6L1483.5 530.3M1488.8 524.9L1479.4 532.5M1488.2 524.3L1473.5 536.2M1487.7 523.6L1474.5 534.2M1487.2 523L1476.6 531.4M1486.7 522.3L1474.9 531.7M1486.2 521.7L1472.1 532.7M1485.7 521L1474.6 529.6M1485.2 520.4L1474.3 528.7M1484.7 519.7L1474.8 527.3M1484.2 519.1L1471.8 528.5M1483.7 518.4L1474.7 525.2M1483.2 517.7L1473.7 524.8M1482.7 517.1L1471.2 525.7M1482.2 516.4L1471.2 524.5M1481.7 515.8L1476 519.9M1481.2 515.1L1469.2 523.8M1480.7 514.4L1469.8 522.3M1480.3 513.8L1467.1 523.2M1479.8 513.1L1467 522.1M1479.3 512.4L1465.8 521.9M1478.8 511.7L1467.1 519.9M1478.4 511.1L1469.5 517.2M1477.9 510.4L1467.6 517.5M1477.4 509.7L1458.9 522.4M1477 509L1472 512.4M1476.5 508.3L1464.4 516.5M1476 507.6L1461.9 517.1M1475.6 507L1462.4 515.7M1475.1 506.3L1464.7 513.1M1474.7 505.6L1462.5 513.5M1474.2 504.9L1465.3 510.7M1473.8 504.2L1463.7 510.7M1473.3 503.5L1459.7 512.2M1472.9 502.8L1466.1 507.1M1472.4 502.1L1462.3 508.5M1472 501.4L1453.4 513M1471.6 500.7L1461.9 506.7M1471.1 500L1459.9 506.9M1470.7 499.3L1460 505.9M1470.3 498.6L1454.6 508.1M1469.8 497.9L1455.6 506.5M1469.4 497.2L1456.3 505M1469 496.5L1455.8 504.3M1468.6 495.8L1455.6 503.4M1468.1 495L1452.9 504M1467.7 494.3L1458.4 499.7M1467.3 493.6L1458.2 498.9M1466.9 492.9L1457.6 498.2M1466.5 492.2L1453.5 499.5M1466.1 491.5L1451.4 499.7M1465.7 490.7L1451.6 498.5M1465.3 490L1455.9 495.2M1464.9 489.3L1453.9 495.3M1464.5 488.6L1449.9 496.5M1461.4 482.7L1445.1 491M1461.1 482L1443.1 491M1460.7 481.2L1451.9 485.6M1460.3 480.5L1448.4 486.4M1460 479.8L1449.4 484.9M1459.6 479L1443.2 486.9M1459.3 478.3L1447.7 483.8M1458.9 477.5L1448.4 482.5M1458.5 476.8L1446.6 482.4M1458.2 476L1447.1 481.2M1457.9 475.3L1447.4 480.1M1457.5 474.5L1444.2 480.7M1457.2 473.8L1446.2 478.8M1456.8 473L1446.5 477.7M1456.5 472.3L1443.4 478.1M1456.2 471.5L1444.2 476.8M1455.8 470.8L1443.1 476.3M1455.5 470L1442.1 475.8M1455.2 469.3L1440.6 475.5M1454.8 468.5L1439.9 474.9M1454.5 467.7L1438.9 474.3M1454.2 467L1440.7 472.6M1453.9 466.2L1439 472.3M1453.6 465.4L1445.3 468.8M1453.3 464.7L1443.3 468.7M1452.9 463.9L1442.9 467.9M1452.6 463.2L1442.3 467.2M1452.3 462.4L1437.3 468.3M1452 461.6L1435 468.2M1451.7 460.8L1437 466.5M1451.4 460.1L1437.9 465.2M1451.2 459.3L1444.6 461.8M1450.9 458.5L1433.6 464.9M1450.6 457.8L1436.5 462.9M1450.3 457L1440.6 460.5M1450 456.2L1437.2 460.8M1449.7 455.4L1436.1 460.3M1449.5 454.6L1441.6 457.4M1449.2 453.9L1442.9 456M1448.9 453.1L1436.3 457.4M1448.6 452.3L1442.3 454.5M1448.4 451.5L1439.7 454.4M1448.1 450.7L1441.7 452.9M1447.9 450L1434.6 454.3M1447.6 449.2L1424 456.9M1447.4 448.4L1435 452.4M1447.1 447.6L1430.8 452.8M1446.9 446.8L1433.9 450.9M1446.6 446L1428.1 451.8M1446.4 445.2L1427.6 451M1446.1 444.4L1431.2 449M1445.9 443.7L1428.7 448.8M1445.6 442.9L1435.6 445.8M1445.4 442.1L1432.7 445.8M1445.2 441.3L1434.7 444.3M1445 440.5L1435.4 443.2M1444.7 439.7L1434.9 442.4M1444.5 438.9L1430.2 442.8M1444.3 438.1L1432.8 441.2M1444.1 437.3L1426.6 442M1443.9 436.5L1430.4 440.1M1443.7 435.7L1431 439M1443.5 434.9L1431.3 438M1443.3 434.1L1428.1 437.9M1443 433.3L1428.3 437M1442.8 432.5L1431.3 435.4M1442.7 431.7L1430.1 434.8M1442.5 430.9L1427.8 434.4M1442.3 430.1L1424.5 434.3M1442.1 429.3L1428.3 432.5M1441.9 428.5L1430 431.2M1441.7 427.7L1423.9 431.7M1441.5 426.9L1424 430.7M1441.4 426.1L1428.2 428.9M1441.2 425.3L1427.9 428.1M1441 424.5L1430.7 426.6M1440.8 423.7L1431 425.7M1440.7 422.8L1428.8 425.2M1440.5 422L1428.2 424.5M1440.4 421.2L1423.1 424.6M1440.2 420.4L1429.5 422.5M1440.1 419.6L1423.8 422.6M1439.9 418.8L1431.1 420.4M1439.8 418L1431.2 419.5M1439.6 417.2L1428 419.2M1439.5 416.4L1425.3 418.8M1439.3 415.5L1424.8 418M1439.2 414.7L1423.5 417.3M1439.1 413.9L1426 416M1438.9 413.1L1428.2 414.8M1438.8 412.3L1421.8 414.9M1438.7 411.5L1423.5 413.8M1438.6 410.6L1422.3 413M1438.2 408.2L1419 410.8M1438.1 407.4L1421.2 409.6M1438 406.6L1416.4 409.4M1437.9 405.7L1424.7 407.4M1437.8 404.9L1426.4 406.3M1437.7 404.1L1424.4 405.7M1437.6 403.3L1424.1 404.8M1437.5 402.5L1428.9 403.4M1437.4 401.6L1419.2 403.6M1437.3 400.8L1420.5 402.6M1437.2 400L1423.9 401.4M1437.1 399.2L1426.3 400.2M1437.1 398.4L1416.9 400.3M1437 397.5L1422.7 398.8M1436.9 396.7L1426.3 397.6M1436.8 395.9L1424.6 396.9M1436.8 395.1L1423.4 396.1M1436.7 394.2L1427.7 394.9M1436.6 393.4L1422.9 394.4M1436.6 392.6L1426.9 393.3M1436.5 391.8L1422.6 392.7M1436.5 390.9L1427.3 391.5M1436.4 390.1L1427.2 390.7M1436.4 389.3L1423.3 390M1436.3 388.5L1422.9 389.2M1436.3 387.6L1424.6 388.2M1436.2 386.8L1424.3 387.4M1436 380.2L1420.1 380.5M1436 379.4L1419.8 379.6M1436 378.6L1418.9 378.8M1436 377.7L1422.6 377.8M1436 376.9L1418.8 377M1436 376.1L1425.1 376.1M1436 375.3L1419.4 375.2M1436 374.4L1425.7 374.4M1436 373.6L1422 373.5M1436 372.8L1422.4 372.6M1436 372L1426.4 371.8M1436 371.1L1422.7 370.9M1436.1 370.3L1426.2 370.1M1436.1 369.5L1424.8 369.2M1436.1 368.7L1418.6 368.1M1436.1 367.8L1426.9 367.5M1436.2 367L1417.8 366.3M1436.2 366.2L1422.6 365.6M1436.2 365.4L1420.4 364.7M1436.3 364.5L1424.7 364M1436.3 363.7L1425.8 363.2M1436.4 362.9L1426.3 362.3M1436.4 362.1L1424.6 361.4M1436.5 361.2L1424.8 360.5M1436.8 357.1L1425.8 356.3M1436.8 356.3L1427.4 355.5M1436.9 355.5L1421.1 354.1M1437 354.7L1423.1 353.4M1437 353.8L1421.9 352.4M1437.1 353L1421 351.4M1437.2 352.2L1424.8 350.9M1437.3 351.4L1424.4 350M1437.4 350.6L1420.5 348.7M1437.5 349.7L1423.2 348.1M1437.6 348.9L1421.7 347.1M1437.7 348.1L1419.6 345.9M1437.8 347.3L1429.6 346.3M1437.9 346.5L1426.4 345M1438 345.6L1424.9 343.9M1438.1 344.8L1428.7 343.6M1438.2 344L1422.6 341.9M1438.3 343.2L1422.5 341M1438.4 342.4L1424 340.3M1438.5 341.5L1427.2 339.9M1438.6 340.7L1425.2 338.7M1438.8 339.9L1419.3 336.9M1438.9 339.1L1425.6 337M1439 338.3L1424 335.9M1439.2 337.5L1425.6 335.2M1439.3 336.7L1425.6 334.3M1439.4 335.8L1426.4 333.6M1439.6 335L1426.3 332.7M1439.7 334.2L1427.4 332M1439.9 333.4L1424.9 330.7M1440 332.6L1429.3 330.6M1440.2 331.8L1422.6 328.4M1440.3 331L1423.9 327.8M1440.5 330.2L1427.9 327.7M1440.6 329.3L1435.7 328.4M1440.8 328.5L1425 325.3M1441 327.7L1425 324.4M1441.1 326.9L1428.5 324.2M1441.3 326.1L1429.7 323.6M1441.5 325.3L1425 321.7M1441.7 324.5L1425.1 320.8M1441.9 323.7L1429.8 321M1442 322.9L1431.4 320.4M1442.2 322.1L1423.9 317.8M1442.4 321.3L1431.7 318.7M1442.6 320.5L1432.2 318M1442.8 319.7L1426.1 315.6M1443 318.9L1424.8 314.3M1443.2 318.1L1426.7 313.9M1443.4 317.3L1430.5 314M1443.6 316.5L1430.2 313M1443.8 315.7L1429.6 311.9M1444 314.9L1429.6 311M1444.2 314.1L1429.3 310M1444.5 313.3L1431.8 309.8M1444.7 312.5L1431.3 308.8M1444.9 311.7L1434.3 308.7M1445.1 310.9L1438.1 308.9M1445.4 310.1L1429.8 305.6M1445.6 309.3L1430.2 304.8M1445.8 308.5L1433.4 304.8M1446.1 307.7L1433.3 303.9M1446.3 306.9L1433.8 303.1M1446.5 306.2L1438.4 303.6M1446.8 305.4L1439.1 303M1447 304.6L1432.9 300.1M1447.3 303.8L1433.3 299.3M1447.5 303L1434.3 298.7M1447.8 302.2L1431.3 296.8M1448.1 301.4L1434.9 297.1M1448.3 300.7L1441.2 298.3M1448.6 299.9L1436.6 295.8M1448.9 299.1L1431.5 293.1M1449.1 298.3L1434.6 293.3M1449.4 297.5L1437.3 293.3M1449.7 296.8L1437.9 292.6M1449.9 296L1441.5 292.9M1450.2 295.2L1439.2 291.2M1450.5 294.4L1441.8 291.2M1450.8 293.7L1434.4 287.6M1451.1 292.9L1442.4 289.6M1451.4 292.1L1442.4 288.7M1451.7 291.3L1436.2 285.4M1452 290.6L1443.3 287.2M1452.3 289.8L1438.9 284.6M1452.6 289L1442.9 285.2M1452.9 288.3L1435.3 281.2M1453.2 287.5L1440.7 282.5M1455.7 281.4L1441.4 275.2M1456.1 280.7L1439.6 273.4M1456.4 279.9L1442.5 273.7M1456.7 279.1L1439.8 271.5M1457.1 278.4L1443.7 272.3M1457.4 277.6L1447 272.9M1457.8 276.9L1448.5 272.6M1458.1 276.1L1450.2 272.4M1458.5 275.4L1447.8 270.4M1458.8 274.6L1450.9 270.9M1459.2 273.9L1441 265.2M1459.5 273.2L1448.5 267.8M1459.9 272.4L1452.1 268.6M1460.3 271.7L1448.1 265.7M1460.6 270.9L1452.9 267.1M1461 270.2L1452.8 266.1M1461.4 269.5L1446.6 262M1461.7 268.7L1450.9 263.2M1462.1 268L1452.4 263M1462.5 267.2L1449.3 260.4M1462.9 266.5L1451.7 260.7M1463.3 265.8L1446.6 257M1463.6 265.1L1448.5 257M1464 264.3L1452.3 258M1464.4 263.6L1452.1 256.9M1464.8 262.9L1451.3 255.5M1465.2 262.2L1453.3 255.6M1465.6 261.4L1450.3 252.9M1466 260.7L1455 254.6M1466.4 260L1450.6 251.1M1466.8 259.3L1451.4 250.5M1467.2 258.5L1458.9 253.8M1467.6 257.8L1458.5 252.6M1468.1 257.1L1460.9 253M1468.5 256.4L1455.3 248.7M1468.9 255.7L1459.5 250.2M1469.3 255L1456.1 247.1M1469.7 254.3L1463.2 250.3M1470.2 253.6L1462.8 249.1M1470.6 252.9L1459.2 245.9M1471 252.2L1463.6 247.6M1471.4 251.5L1462.1 245.7M1471.9 250.8L1460.9 243.9M1472.3 250.1L1464.5 245.1M1472.8 249.4L1463.1 243.2M1473.2 248.7L1462.4 241.7M1473.7 248L1463.6 241.5M1474.1 247.3L1461.8 239.3M1474.6 246.6L1464.7 240.1M1475 245.9L1468.5 241.6M1475.5 245.2L1461.7 236.1M1475.9 244.5L1467.2 238.7M1476.4 243.8L1465 236.2M1476.8 243.1L1469.4 238.1M1477.3 242.5L1463.4 233M1477.8 241.8L1466.9 234.3M1478.2 241.1L1464.5 231.5M1478.7 240.4L1467.7 232.7M1479.2 239.8L1469.5 232.9M1479.7 239.1L1472.3 233.8M1480.1 238.4L1469.6 230.8M1480.6 237.7L1467.5 228.3M1481.1 237.1L1465.7 225.9M1481.6 236.4L1469.7 227.7M1482.1 235.7L1471.1 227.7M1482.6 235.1L1475 229.5M1483.1 234.4L1470.4 224.9M1483.6 233.7L1476.4 228.4M1484.1 233.1L1473.1 224.8M1484.6 232.4L1475.6 225.6M1485.1 231.8L1472.1 221.8M1485.6 231.1L1476 223.7M1486.1 230.5L1477.2 223.6M1486.6 229.8L1476.9 222.2M1487.1 229.2L1478.7 222.6M1487.6 228.5L1477.5 220.5M1488.1 227.9L1477.8 219.6M1488.6 227.2L1477.7 218.3M1489.2 226.6L1472.5 213M1489.7 226L1481.4 219.2M1490.2 225.3L1480.5 217.3M1490.7 224.7L1484.3 219.4M1491.3 224.1L1479.9 214.5M1491.8 223.4L1480.7 214.1M1492.3 222.8L1482.7 214.6M1492.9 222.2L1482.4 213.2M1493.4 221.5L1484.3 213.7M1493.9 220.9L1489 216.6M1494.5 220.3L1483.6 210.7M1495 219.7L1483.9 209.9M1495.6 219.1L1488.9 213.2M1496.1 218.4L1487.7 210.9M1496.7 217.8L1486.6 208.7M1497.2 217.2L1486.8 207.7M1504.6 209.4L1490.4 195.3M1505.2 208.8L1496.3 200M1505.8 208.3L1495.6 198M1506.4 207.7L1495.2 196.3M1507 207.1L1496.5 196.4M1507.6 206.5L1499 197.8M1508.1 205.9L1499.9 197.4M1508.7 205.4L1501.4 197.7M1509.3 204.8L1498.1 193M1509.9 204.2L1499.1 192.8M1510.5 203.7L1500.7 193.2M1514.2 200.3L1504.7 189.8M1514.8 199.8L1504.3 188M1515.4 199.2L1509.7 192.8M1516 198.7L1508.5 190.1M1519.8 195.4L1514.4 189.1M1520.4 194.9L1513 186.1M1521 194.4L1511.2 182.5M1521.7 193.8L1511.5 181.5M1528.1 188.7L1523.2 182.3M1528.8 188.2L1519.3 175.8M1529.4 187.7L1519.1 174M1530.1 187.2L1523.4 178.3M1539.1 180.7L1528.4 164.9M1539.8 180.2L1529.6 165.1M1540.5 179.8L1536.1 173.3M1541.2 179.3L1531.3 164.4M1541.9 178.8L1537.3 171.9M1542.6 178.4L1535.2 167.1M1543.3 177.9L1536.7 167.9M1544 177.5L1535.2 164M1544.7 177L1538 166.7M1545.3 176.6L1538.7 166.1M1546 176.1L1538.9 164.8M1546.7 175.7L1541 166.5M1547.4 175.3L1540.8 164.6M1548.1 174.8L1540.1 161.8M1548.8 174.4L1539.5 159.2M1549.6 174L1544.1 165M1550.3 173.5L1544.5 163.9M1551 173.1L1544.1 161.7M1551.7 172.7L1542.8 157.8M1552.4 172.3L1543.7 157.5M1553.1 171.9L1548 163.1M1553.8 171.4L1546.7 159.3M1554.5 171L1547.4 158.6M1555.2 170.6L1546.3 155M1556 170.2L1547.5 155.3M1556.7 169.8L1549.1 156.2M1557.4 169.4L1550 156.1M1558.1 169L1551.8 157.6M1558.8 168.6L1554.2 160.1M1559.6 168.2L1552.6 155.5M1560.3 167.8L1554.2 156.6M1561 167.4L1554.7 155.6M1561.7 167L1555.3 154.8M1562.5 166.6L1554.9 152.1M1563.2 166.3L1559.4 159M1563.9 165.9L1559.6 157.4M1564.7 165.5L1559.1 154.7M1565.4 165.1L1558.7 152M1571 162.4L1565.6 151.2M1571.7 162L1564.5 146.7M1572.5 161.7L1565.6 147M1573.2 161.4L1566.9 147.8M1574 161L1568.6 149.4M1574.7 160.7L1568.5 146.9M1575.5 160.3L1569.3 146.6M1576.2 160L1571.9 150.4M1577 159.7L1571.6 147.4M1577.7 159.3L1571.9 146.1M1578.5 159L1573.1 146.6M1579.2 158.7L1574.9 148.4M1580 158.3L1575.4 147.6M1580.8 158L1574.5 143.1M1581.5 157.7L1577 146.8M1582.3 157.4L1577.5 145.9M1583.1 157.1L1579.6 148.5M1583.8 156.8L1576.1 137.8M1584.6 156.4L1579.4 143.5M1585.3 156.1L1581.1 145.4M1586.1 155.8L1583.8 150.1M1586.9 155.5L1581.5 141.7M1587.7 155.2L1582.8 142.7M1588.4 154.9L1583.3 141.4M1589.2 154.7L1585.4 144.5M1590 154.4L1585.2 141.6M1590.7 154.1L1585.5 139.8M1591.5 153.8L1587.7 143.4M1592.3 153.5L1587 138.8M1593.1 153.2L1588.6 140.7M1593.9 153L1588.8 138.6M1594.6 152.7L1588.9 136.3M1595.4 152.4L1591.7 141.7M1601.3 150.5L1596.6 135.8M1610 147.9L1604.7 128.4M1610.8 147.7L1607.3 134.6M1611.6 147.5L1607.9 133.6M1612.4 147.3L1609 134.2M1613.2 147.1L1609.9 134.2M1614 146.9L1610 131.1M1614.8 146.6L1609.7 126.4M1615.6 146.4L1611.3 129.2M1616.4 146.3L1612 128.2M1617.2 146.1L1613.9 132.4M1618 145.9L1615.4 134.8M1618.8 145.7L1616.8 136.9M1619.6 145.5L1616.4 131.3M1626.1 144.1L1622.4 125.8M1626.9 143.9L1623.6 127.4M1627.7 143.8L1625.4 131.8M1628.5 143.6L1625.8 129.2M1629.3 143.5L1626.8 130.1M1639.9 141.8L1637.6 125.3M1646.5 140.9L1645.1 128.5M1647.3 140.8L1645.4 123.8M1648.1 140.8L1646.6 126.1M1648.9 140.7L1647.3 124.1M1649.7 140.6L1648.6 128.4M1650.6 140.5L1648.7 120.7M1651.4 140.4L1650.1 126M1652.2 140.4L1651.1 127M1653 140.3L1651.8 125.8" stroke="#4288cf" stroke-width="1.25" fill="none"/>
<path d="M1783.5 115.1L1789.3 101.5M1815.4 131.1L1821.1 121.2M1828.4 139.2L1836.5 127M1952.4 330.8L1966.8 328.5M1781.1 114.1L1785.4 103.7M1827.5 138.6L1834.6 127.8M1897.2 203.1L1908.2 194.6M1746 102.2L1748.8 91.5M1945.5 299.7L1957.3 296.4M1856.6 160.4L1866.3 149M1795.6 120.6L1801 109.4M1918.9 235.9L1930.6 229.2M1713.7 95.5L1715.5 83.7M1955.7 362L1967.6 361.4M1945.2 453.4L1955.8 456.4M1852.6 157.1L1861 146.8M1756.4 105.2L1760.8 91M1927.2 500.4L1940.4 506.8M1883.8 186.9L1893.5 178.2M1932.9 488.1L1945.3 493.4M1923.2 243.7L1934.8 237.6M1923.9 245L1935 239.3M1890 194.2L1899.2 186.5M1953.8 340.6L1965.2 339.1M1756.8 105.3L1760.1 94.6M1732.8 99L1735.7 85.5M1940.6 283.8L1952.1 279.9M1949.7 316.5L1963 313.7M1852.9 157.3L1860.4 148.3M1917.9 234L1929 227.6M1930.7 493L1943.3 498.8M1823.6 136.1L1831.3 123.9M1825.8 137.5L1833.7 125.1M1905.8 214.9L1917.6 206.8M1953.4 414.2L1965.1 415.8M1956 379.7L1970.4 379.9M1955.8 385.3L1970 385.7M1955 399.7L1967.9 400.7M1763.2 644.6L1766.9 655.6M1860.7 588L1870.2 598.7M1833.7 609.2L1841.2 620.1M1863.1 585.9L1872.1 595.8M1766 643.6L1770.1 655.4M1903.7 540.1L1915.2 548.2M1913.3 525.6L1924.6 532.7M1654.6 658.9L1653.6 673.9M1893.7 553.4L1904 561.7M1888.3 559.8L1899.4 569.2M1655.2 659L1654.3 673.4M1753.3 647.7L1756.6 659.1M1669.9 659.5L1669.7 671.4M1873.5 575.9L1882.4 584.7M1708.7 657.2L1710.5 671.5M1708.8 657.2L1710.4 669.4M1887.6 560.6L1898 569.5M1824.2 615.5L1831.1 626.3M1640.3 657.7L1638.6 672M1863.3 585.7L1871.6 594.7M1845 601L1852.2 610.4M1661.2 659.3L1660.6 674.2M1877.6 571.7L1886.6 580.3M1791.5 633.3L1796.3 643.6M1517.8 613.6L1510.5 624.8M1522.9 616.8L1515.8 628.2M1460.5 564.3L1452.3 571.6M1502.2 602.7L1495.6 611.6M1536.6 624.8L1530.9 635.4M1461.5 565.3L1451.9 574M1480 584.1L1470.5 594.3M1446.9 547.7L1437.2 555.1M1464.8 568.9L1455.2 577.9M1570.6 640.5L1566.2 652M1522 616.3L1515 627.5M1504.7 604.5L1498.1 613.5M1479.2 583.4L1469.3 594M1562 637.1L1556.3 650.5M1545.6 629.5L1540.5 639.8M1394.4 431.3L1382.1 433.8M1389.7 395.5L1376 396.5M1407.7 477.2L1397.3 481.2M1394.7 432.5L1382.5 435M1398.8 449.8L1385.1 453.5M1406.8 475L1395 479.4M1399.1 451L1387.1 454.2M1415.5 495.7L1404.1 501M1400.9 294.9L1390.2 291.7M1401.6 292.4L1387.5 288M1395.1 317.4L1380.4 314.3M1393.4 326.4L1379.7 324M1393 328.3L1380.2 326.1M1395.3 316.6L1384.1 314.2M1389.2 366.2L1374.5 365.7M1426.4 235.2L1416.4 229.5M1428.3 232L1416.8 225.2M1458.4 190.2L1448.9 182M1433.8 223L1421.9 215.3M1415.2 256.9L1403.3 251.4M1465.4 182.3L1456.2 173.7M1504.4 147.7L1497.9 138.8M1496.2 154L1488.4 144.2M1479.5 168.3L1470.4 158.5M1529.5 131.2L1522.4 119M1520 137L1513.3 126.5M1568.2 112.4L1563.4 100.3M1556.1 117.5L1550.9 105.9M1601 101.7L1597.5 88.2M1632.1 95.4L1630.1 81.7M1801.3 177.7L1812.6 160.2M1810.7 184.1L1822.4 167.9M1821.8 192.6L1836.6 174.4M1874 252.1L1888.6 243.1M1753 153.6L1758.9 137.3M1906.5 341.8L1924.7 339.1M1743 150.2L1749.5 129.3M1908.3 393.8L1929 395.4M1763.5 157.7L1771.6 138.3M1907.4 403.1L1930.6 405.7M1850.3 220.1L1863.8 208.3M1822.3 193L1833.8 178.9M1880 262.5L1901 251M1810.6 184L1821.4 169.1M1894.8 456.6L1915.9 464.3M1745.8 151.1L1752.6 130.3M1860.5 232.5L1877.6 219.5M1905.7 415.6L1926.7 419.1M1908.9 383.9L1928.1 384.6M1892.2 463.7L1908.9 470.4M1822.4 193.1L1835.6 176.9M1808.6 182.6L1820.5 165.7M1717.3 143.8L1721.1 124M1897 450.3L1914.1 456M1906.5 410.5L1924.6 413.2M1800.7 177.2L1811.2 160.9M1898.9 444.3L1918 450M1892.2 288.3L1912.8 280.1M1871.7 248.5L1890.9 236.1M1897.3 449.6L1919 456.7M1907.2 347L1927 344.6M1905.9 337.6L1929.3 333.7M1787.2 169.2L1798 149.8M1901.7 317.5L1920.1 312.8M1909 373.8L1930.4 373.6M1757.5 155.3L1765.8 133.7M1884.8 480.2L1903.8 489.5M1889.1 471L1907.8 479.2M1786.9 583L1797.5 602.2M1709.5 609.6L1712.4 627.7M1848.9 533.5L1863.3 546.3M1632.4 609.1L1628.7 630.9M1638.1 610L1635.1 630.6M1822.5 558.9L1833.8 572.7M1806.2 571.1L1817.1 587M1852.1 529.8L1868.6 543.9M1622.7 607.2L1618.3 627.6M1696 611.3L1697.8 629.3M1669.3 612.5L1669 635.9M1728.3 605.8L1732.6 623.8M1812.6 566.5L1825.4 583.9M1778.9 587.2L1787.3 603.9M1705.9 610.1L1708.4 627.4M1769 591.9L1776.9 609.7M1822.6 558.8L1835.7 574.8M1773 590.1L1783.1 611.7M1844.6 538.2L1859.4 552.2M1839 544L1852.2 557.4M1704.8 610.3L1707.6 631.2M1818.2 562.3L1829.5 576.7M1673.3 612.5L1673.3 635.6M1845.1 537.7L1859.5 551.1M1557.8 582.8L1548.9 598.8M1503.1 541L1489.1 554.6M1550.3 578.5L1538.7 597.7M1591.9 598.4L1585.1 617.2M1605.7 602.9L1600 622.4M1477.2 509.4L1458 522.6M1507.7 545.7L1495.5 558.3M1473.9 504.5L1456 516M1473.5 503.8L1456.1 514.9M1475.4 506.7L1458 518.2M1499.2 536.9L1486.2 548.9M1477.6 510L1460.9 521.5M1522.5 558.9L1507.9 576.7M1552.7 579.9L1541.8 598.4M1535.4 568.7L1522.6 586.7M1461 481.8L1444.7 489.9M1457 473.4L1441.3 480.5M1437.9 406.2L1420.6 408.5M1438.3 408.6L1417.2 411.5M1438.8 412.5L1421 415.3M1443.4 434.7L1422.6 440M1437.8 405.2L1418.5 407.6M1438.5 410.3L1415.4 413.7M1445.6 309.3L1427.7 304.1M1436.3 365.1L1415.7 364.2M1439.3 336.8L1416.8 333M1440.4 330.6L1417.3 326.1M1446.5 306.4L1426.2 300.2M1446.5 306.3L1429.8 301.2M1436 372.7L1414.8 372.4M1481.7 236.3L1465.2 224.1M1496.9 217.6L1483.5 205.4M1487 229.2L1470.5 216.1M1494.9 219.8L1478 204.9M1491.2 224.2L1477.5 212.8M1497.1 217.4L1479.7 201.7M1532.3 185.5L1520.7 169.7M1526.1 190.3L1512.8 173.4M1532.7 185.3L1521.9 170.6M1546.3 176L1536 159.8M1562.6 166.6L1553.4 149M1573.3 161.3L1565.8 145.1M1584.3 156.6L1576.2 136.3M1613.2 147.1L1607.9 126.5M1627 143.9L1623.4 125.2" stroke="#4288cf" stroke-width="0.7" fill="none"/>
<path d="M1850.9 155.7L1849.3 157.7M1852.3 156.8L1849.9 159.8M1852.8 157.2L1848.8 162M1853.2 157.6L1851.5 159.7M1853.7 157.9L1851.6 160.4M1854.1 158.3L1852 160.9M1855 159.1L1850.8 164.1M1855.5 159.5L1851.2 164.6M1855.9 159.8L1851.9 164.6M1857.3 161L1853.4 165.5M1857.7 161.4L1853.3 166.6M1858.6 162.2L1854.9 166.5M1860 163.3L1856.8 166.9M1860.9 164.1L1858.7 166.5M1861.3 164.5L1858.4 167.8M1861.8 164.9L1859.6 167.4M1862.2 165.3L1858 170M1935.8 270.9L1932.2 272.4M1936 271.5L1932 273.1M1936.5 272.6L1931.5 274.5M1936.7 273.2L1931.2 275.3M1936.9 273.7L1932.8 275.3M1937.3 274.8L1934.9 275.7M1937.8 275.9L1933.9 277.4M1938 276.5L1936 277.2M1938.2 277L1934.9 278.3M1939.2 279.8L1934.9 281.4M1939.4 280.4L1935.1 281.9M1940 282.1L1935.1 283.8M1879.8 569.4L1876.9 566.7M1878.1 571.1L1876.1 569.2M1877.3 572L1874.8 569.6M1876.9 572.4L1873.6 569.2M1876.5 572.9L1873.3 569.8M1430.8 524.1L1432.3 523.2M1430.5 523.6L1432.2 522.6M1430.2 523.1L1431.5 522.3M1429.5 522.1L1432.1 520.6M1429.2 521.6L1431.5 520.2M1428.6 520.6L1430.3 519.6M1658.3 660.6L1659 647.3M1657.1 660.6L1657.4 655.6M1656.5 660.6L1657 652.2M1655.9 660.5L1656.3 653.7M1655.3 660.5L1655.6 655.5M1654.2 660.4L1655.2 644.7" stroke="#d7202e" stroke-width="0.8" fill="none"/>
<path d="M1699.2 64.6A312.5 312.5 0 0 1 1942 534.2M1939.8 537.8A312.5 312.5 0 0 1 1594.7 678.7M1590.6 677.6A312.5 312.5 0 0 1 1396.6 522.7M1394.6 518.9A312.5 312.5 0 0 1 1360.2 387.9M1360.1 383.7A312.5 312.5 0 0 1 1383.6 256.9M1385.2 252.9A312.5 312.5 0 0 1 1446.2 160.5M1449.2 157.4A312.5 312.5 0 0 1 1491.1 121.6M1494.6 119.1A312.5 312.5 0 0 1 1532.6 96.6M1536.4 94.7A312.5 312.5 0 0 1 1572.4 80M1576.4 78.6A312.5 312.5 0 0 1 1604.9 70.9M1609.1 70A312.5 312.5 0 0 1 1631.8 66.2M1636 65.6A312.5 312.5 0 0 1 1648.5 64.4" fill="none" stroke="#111" stroke-width="1.3"/>
<path d="M1699.4 62.3L1697.3 64.8L1701.1 65.1ZM1710.5 63.4L1708.3 65.9L1712.1 66.3ZM1721.7 65L1719.3 67.3L1723.1 67.9ZM1732.7 66.9L1730.3 69.2L1734 69.9ZM1743.7 69.2L1741.2 71.4L1744.9 72.3ZM1754.5 72L1752 74.1L1755.7 75.1ZM1765.3 75.1L1762.7 77.1L1766.3 78.2ZM1775.9 78.6L1773.3 80.5L1776.9 81.8ZM1786.5 82.4L1783.7 84.3L1787.3 85.7ZM1796.8 86.7L1794 88.4L1797.5 89.9ZM1807.1 91.3L1804.2 92.9L1807.6 94.6ZM1817.1 96.3L1814.2 97.8L1817.6 99.5ZM1827 101.6L1824 103L1827.3 104.9ZM1836.6 107.3L1833.6 108.6L1836.9 110.6ZM1846.1 113.3L1843 114.5L1846.2 116.6ZM1855.3 119.6L1852.2 120.7L1855.3 122.9ZM1864.4 126.3L1861.2 127.3L1864.2 129.6ZM1873.1 133.3L1869.9 134.2L1872.9 136.6ZM1881.6 140.6L1878.4 141.3L1881.3 143.9ZM1889.9 148.2L1886.6 148.8L1889.4 151.4ZM1897.9 156.1L1894.6 156.6L1897.3 159.3ZM1905.5 164.2L1902.3 164.6L1904.8 167.4ZM1912.9 172.6L1909.6 172.9L1912.1 175.8ZM1920 181.3L1916.7 181.5L1919.1 184.5ZM1926.8 190.3L1923.5 190.3L1925.7 193.4ZM1933.2 199.4L1929.9 199.4L1932.1 202.5ZM1939.4 208.8L1936.1 208.6L1938.1 211.9ZM1945.1 218.4L1941.8 218.1L1943.8 221.4ZM1950.6 228.2L1947.3 227.8L1949.1 231.2ZM1955.7 238.2L1952.4 237.7L1954.1 241.1ZM1960.4 248.4L1957.1 247.7L1958.7 251.2ZM1964.7 258.7L1961.5 258L1962.9 261.5ZM1968.7 269.2L1965.5 268.3L1966.8 271.9ZM1972.3 279.8L1969.2 278.8L1970.4 282.4ZM1975.6 290.5L1972.5 289.4L1973.5 293.1ZM1978.4 301.4L1975.4 300.2L1976.3 303.9ZM1980.9 312.3L1977.9 311L1978.6 314.7ZM1983 323.3L1980 321.9L1980.6 325.7ZM1984.6 334.4L1981.7 332.9L1982.2 336.7ZM1985.9 345.6L1983 343.9L1983.4 347.7ZM1986.8 356.7L1984 355L1984.2 358.8ZM1987.3 367.9L1984.5 366.1L1984.6 369.9ZM1987.4 379.1L1984.7 377.2L1984.7 381ZM1987.1 390.3L1984.5 388.3L1984.3 392.1ZM1986.4 401.5L1983.8 399.4L1983.5 403.2ZM1985.3 412.7L1982.8 410.5L1982.3 414.3ZM1983.8 423.8L1981.4 421.5L1980.8 425.3ZM1981.9 434.8L1979.6 432.5L1978.8 436.2ZM1979.6 445.8L1977.3 443.4L1976.5 447.1ZM1976.9 456.7L1974.8 454.2L1973.8 457.9ZM1973.8 467.5L1971.8 464.9L1970.7 468.5ZM1970.4 478.2L1968.4 475.5L1967.2 479.1ZM1966.5 488.7L1964.7 485.9L1963.3 489.5ZM1962.3 499.1L1960.6 496.3L1959.1 499.8ZM1957.8 509.3L1956.1 506.5L1954.5 509.9ZM1952.9 519.4L1951.3 516.5L1949.6 519.9ZM1947.6 529.3L1946.1 526.3L1944.3 529.6ZM1941.9 539.1L1940.6 536L1938.6 539.3ZM1935.9 548.6L1934.7 545.5L1932.6 548.7ZM1929.6 557.8L1928.5 554.7L1926.3 557.8ZM1923 566.9L1922 563.7L1919.7 566.7ZM1916 575.7L1915.1 572.5L1912.7 575.4ZM1908.7 584.2L1908 581L1905.5 583.8ZM1901.2 592.5L1900.5 589.2L1897.9 592ZM1893.3 600.5L1892.8 597.2L1890.1 599.9ZM1885.2 608.2L1884.8 604.9L1882 607.5ZM1876.8 615.6L1876.5 612.3L1873.6 614.8ZM1868.2 622.7L1868 619.4L1865 621.8ZM1859.2 629.6L1859.2 626.2L1856.1 628.5ZM1850.1 636L1850.2 632.7L1847 634.9ZM1840.7 642.2L1840.9 638.9L1837.7 640.9ZM1831.2 648L1831.4 644.7L1828.1 646.6ZM1821.4 653.5L1821.8 650.2L1818.4 652ZM1811.4 658.6L1811.9 655.3L1808.5 657ZM1801.3 663.4L1801.9 660.1L1798.4 661.7ZM1790.9 667.8L1791.7 664.6L1788.2 666ZM1780.5 671.8L1781.3 668.6L1777.8 669.9ZM1769.9 675.5L1770.9 672.3L1767.2 673.5ZM1759.2 678.7L1760.3 675.6L1756.6 676.7ZM1748.3 681.6L1749.5 678.5L1745.8 679.5ZM1737.4 684.1L1738.7 681.1L1735 681.9ZM1726.4 686.3L1727.8 683.3L1724.1 683.9ZM1715.3 688L1716.8 685L1713.1 685.6ZM1704.2 689.3L1705.8 686.4L1702 686.8ZM1693 690.2L1694.7 687.4L1690.9 687.7ZM1681.8 690.8L1683.6 688L1679.8 688.1ZM1670.6 690.9L1672.5 688.2L1668.7 688.2ZM1659.4 690.6L1661.4 688L1657.6 687.8ZM1648.2 690L1650.3 687.4L1646.5 687.1ZM1637.1 688.9L1639.3 686.4L1635.5 686ZM1625.9 687.4L1628.2 685L1624.5 684.5ZM1614.9 685.6L1617.3 683.3L1613.5 682.6ZM1603.9 683.3L1606.3 681.1L1602.6 680.3ZM1590 679.9L1592.5 677.8L1588.9 676.8ZM1579.2 676.8L1581.8 674.7L1578.2 673.6ZM1568.6 673.3L1571.3 671.3L1567.7 670.1ZM1558.1 669.4L1560.8 667.5L1557.3 666.2ZM1547.7 665.1L1550.5 663.4L1547 661.9ZM1537.5 660.5L1540.4 658.9L1536.9 657.2ZM1527.4 655.5L1530.4 654L1527 652.2ZM1517.6 650.2L1520.6 648.7L1517.3 646.9ZM1507.9 644.5L1511 643.2L1507.7 641.2ZM1498.5 638.4L1501.6 637.2L1498.4 635.1ZM1489.2 632.1L1492.4 631L1489.3 628.8ZM1480.2 625.4L1483.4 624.4L1480.4 622.1ZM1471.5 618.4L1474.7 617.5L1471.7 615.1ZM1463 611.1L1466.2 610.3L1463.4 607.8ZM1454.8 603.5L1458 602.8L1455.2 600.2ZM1446.8 595.6L1450.1 595.1L1447.4 592.3ZM1439.1 587.4L1442.4 587L1439.8 584.2ZM1431.7 579L1435 578.7L1432.6 575.8ZM1424.7 570.3L1428 570.1L1425.6 567.1ZM1417.9 561.3L1421.2 561.3L1419 558.2ZM1411.5 552.2L1414.8 552.2L1412.7 549.1ZM1405.4 542.8L1408.7 542.9L1406.7 539.7ZM1399.6 533.1L1402.9 533.4L1401 530.1ZM1392.4 520L1395.7 520.4L1394 517.1ZM1387.5 509.9L1390.8 510.5L1389.1 507.1ZM1382.9 499.7L1386.2 500.4L1384.7 496.9ZM1378.7 489.3L1381.9 490.1L1380.5 486.6ZM1374.8 478.8L1378 479.7L1376.8 476.1ZM1371.4 468.1L1374.5 469.2L1373.4 465.5ZM1368.3 457.3L1371.4 458.5L1370.4 454.8ZM1365.6 446.5L1368.7 447.7L1367.8 444ZM1363.3 435.5L1366.3 436.9L1365.6 433.1ZM1361.4 424.5L1364.3 425.9L1363.7 422.2ZM1359.8 413.4L1362.7 414.9L1362.3 411.1ZM1358.7 402.2L1361.5 403.9L1361.2 400.1ZM1358 391L1360.8 392.8L1360.6 389ZM1357.7 383.7L1360.4 385.6L1360.4 381.8ZM1357.6 372.5L1360.3 374.5L1360.3 370.7ZM1357.9 361.3L1360.6 363.4L1360.7 359.6ZM1358.7 350.1L1361.2 352.3L1361.5 348.5ZM1359.8 339L1362.2 341.2L1362.7 337.4ZM1361.3 327.9L1363.7 330.2L1364.3 326.4ZM1363.2 316.8L1365.5 319.2L1366.2 315.5ZM1365.5 305.9L1367.7 308.3L1368.6 304.6ZM1368.2 295L1370.3 297.5L1371.3 293.8ZM1371.3 284.2L1373.3 286.8L1374.4 283.2ZM1374.7 273.5L1376.7 276.2L1377.9 272.6ZM1378.6 263L1380.4 265.8L1381.8 262.2ZM1383 252L1384.8 254.8L1386.3 251.3ZM1387.6 241.8L1389.3 244.7L1390.9 241.2ZM1392.6 231.7L1394.1 234.7L1395.9 231.3ZM1397.9 221.8L1399.3 224.8L1401.2 221.5ZM1403.6 212.2L1404.9 215.2L1406.9 212ZM1409.6 202.7L1410.8 205.8L1412.9 202.6ZM1415.9 193.5L1417 196.6L1419.2 193.5ZM1422.6 184.4L1423.6 187.6L1425.9 184.6ZM1429.5 175.7L1430.4 178.9L1432.8 175.9ZM1436.8 167.1L1437.6 170.4L1440.1 167.5ZM1444.4 158.9L1445.1 162.1L1447.7 159.4ZM1447.5 155.7L1448.1 159L1450.7 156.2ZM1455.5 147.8L1455.9 151.1L1458.7 148.5ZM1463.7 140.3L1464.1 143.6L1466.9 141ZM1472.2 133L1472.5 136.3L1475.4 133.9ZM1481 126L1481.1 129.3L1484.2 127ZM1493.2 117.1L1493.2 120.4L1496.3 118.3ZM1502.5 110.9L1502.4 114.2L1505.6 112.2ZM1512.1 105L1511.8 108.3L1515.1 106.4ZM1521.8 99.5L1521.4 102.8L1524.8 101ZM1535.4 92.5L1534.9 95.8L1538.3 94.1ZM1545.6 87.8L1544.9 91.1L1548.4 89.5ZM1555.9 83.5L1555.1 86.7L1558.7 85.3ZM1566.4 79.5L1565.5 82.7L1569.1 81.4ZM1575.7 76.4L1574.7 79.5L1578.3 78.3ZM1586.4 73.1L1585.3 76.2L1589 75.2ZM1597.2 70.2L1596 73.3L1599.7 72.4ZM1608.6 67.7L1607.3 70.7L1611 69.9ZM1619.6 65.6L1618.2 68.6L1621.9 67.9ZM1630.7 63.9L1629.2 66.8L1632.9 66.3ZM1635.7 63.3L1634.1 66.2L1637.9 65.7ZM1646.9 62.1L1645.2 65L1649 64.7Z" fill="#111"/>
<line x1="1753.9" y1="74.3" x2="1755.1" y2="69.9" stroke="#111" stroke-width="1.3"/>
<text x="1755.9" y="67" font-size="8.6" text-anchor="middle" dominant-baseline="central" transform="rotate(15.1 1755.9 67)">70KB</text>
<line x1="1806" y1="93.5" x2="1808" y2="89.4" stroke="#111" stroke-width="1.3"/>
<text x="1809.2" y="86.7" font-size="8.6" text-anchor="middle" dominant-baseline="central" transform="rotate(25.3 1809.2 86.7)">140KB</text>
<line x1="1854" y1="121.6" x2="1856.6" y2="117.9" stroke="#111" stroke-width="1.3"/>
<text x="1858.3" y="115.5" font-size="8.6" text-anchor="middle" dominant-baseline="central" transform="rotate(35.5 1858.3 115.5)">210KB</text>
<line x1="1896.1" y1="157.7" x2="1899.4" y2="154.6" stroke="#111" stroke-width="1.3"/>
<text x="1901.5" y="152.5" font-size="8.6" text-anchor="middle" dominant-baseline="central" transform="rotate(45.7 1901.5 152.5)">280KB</text>
<line x1="1931.3" y1="200.8" x2="1935" y2="198.3" stroke="#111" stroke-width="1.3"/>
<text x="1937.5" y="196.6" font-size="8.6" text-anchor="middle" dominant-baseline="central" transform="rotate(55.9 1937.5 196.6)">350KB</text>
<line x1="1958.2" y1="249.4" x2="1962.3" y2="247.5" stroke="#111" stroke-width="1.3"/>
<text x="1965" y="246.3" font-size="8.6" text-anchor="middle" dominant-baseline="central" transform="rotate(66.1 1965 246.3)">420KB</text>
<line x1="1976.1" y1="302" x2="1980.5" y2="300.9" stroke="#111" stroke-width="1.3"/>
<text x="1983.4" y="300.2" font-size="8.6" text-anchor="middle" dominant-baseline="central" transform="rotate(76.3 1983.4 300.2)">490KB</text>
<line x1="1984.4" y1="356.9" x2="1988.9" y2="356.6" stroke="#111" stroke-width="1.3"/>
<text x="1991.9" y="356.4" font-size="8.6" text-anchor="middle" dominant-baseline="central" transform="rotate(86.5 1991.9 356.4)">560KB</text>
<line x1="1982.9" y1="412.4" x2="1987.3" y2="412.9" stroke="#111" stroke-width="1.3"/>
<text x="1990.3" y="413.3" font-size="8.6" text-anchor="middle" dominant-baseline="central" transform="rotate(-83.3 1990.3 413.3)">630KB</text>
<line x1="1971.5" y1="466.8" x2="1975.8" y2="468.1" stroke="#111" stroke-width="1.3"/>
<text x="1978.7" y="469" font-size="8.6" text-anchor="middle" dominant-baseline="central" transform="rotate(-73.1 1978.7 469)">700KB</text>
<line x1="1950.7" y1="518.3" x2="1954.7" y2="520.4" stroke="#111" stroke-width="1.3"/>
<text x="1957.4" y="521.7" font-size="8.6" text-anchor="middle" dominant-baseline="central" transform="rotate(-62.9 1957.4 521.7)">770KB</text>
<line x1="1906.9" y1="582.6" x2="1910.3" y2="585.6" stroke="#111" stroke-width="1.3"/>
<text x="1912.6" y="587.6" font-size="8.6" text-anchor="middle" dominant-baseline="central" transform="rotate(-48.6 1912.6 587.6)">70KB</text>
<line x1="1866.7" y1="620.9" x2="1869.5" y2="624.4" stroke="#111" stroke-width="1.3"/>
<text x="1871.3" y="626.7" font-size="8.6" text-anchor="middle" dominant-baseline="central" transform="rotate(-38.4 1871.3 626.7)">140KB</text>
<line x1="1820.2" y1="651.4" x2="1822.4" y2="655.3" stroke="#111" stroke-width="1.3"/>
<text x="1823.8" y="658" font-size="8.6" text-anchor="middle" dominant-baseline="central" transform="rotate(-28.2 1823.8 658)">210KB</text>
<line x1="1769.1" y1="673.2" x2="1770.5" y2="677.5" stroke="#111" stroke-width="1.3"/>
<text x="1771.5" y="680.3" font-size="8.6" text-anchor="middle" dominant-baseline="central" transform="rotate(-18 1771.5 680.3)">280KB</text>
<line x1="1715" y1="685.6" x2="1715.6" y2="690.1" stroke="#111" stroke-width="1.3"/>
<text x="1716" y="693" font-size="8.6" text-anchor="middle" dominant-baseline="central" transform="rotate(-7.8 1716 693)">350KB</text>
<line x1="1659.5" y1="688.2" x2="1659.3" y2="692.7" stroke="#111" stroke-width="1.3"/>
<text x="1659.2" y="695.7" font-size="8.6" text-anchor="middle" dominant-baseline="central" transform="rotate(2.4 1659.2 695.7)">420KB</text>
<line x1="1604.4" y1="681" x2="1603.4" y2="685.4" stroke="#111" stroke-width="1.3"/>
<text x="1602.8" y="688.3" font-size="8.6" text-anchor="middle" dominant-baseline="central" transform="rotate(12.6 1602.8 688.3)">490KB</text>
<line x1="1538.5" y1="658.3" x2="1536.6" y2="662.4" stroke="#111" stroke-width="1.3"/>
<text x="1535.3" y="665.1" font-size="8.6" text-anchor="middle" dominant-baseline="central" transform="rotate(25.4 1535.3 665.1)">70KB</text>
<line x1="1490.6" y1="630.1" x2="1488" y2="633.8" stroke="#111" stroke-width="1.3"/>
<text x="1486.3" y="636.2" font-size="8.6" text-anchor="middle" dominant-baseline="central" transform="rotate(35.6 1486.3 636.2)">140KB</text>
<line x1="1448.5" y1="593.9" x2="1445.3" y2="597.1" stroke="#111" stroke-width="1.3"/>
<text x="1443.1" y="599.1" font-size="8.6" text-anchor="middle" dominant-baseline="central" transform="rotate(45.8 1443.1 599.1)">210KB</text>
<line x1="1413.5" y1="550.8" x2="1409.7" y2="553.3" stroke="#111" stroke-width="1.3"/>
<text x="1407.3" y="555" font-size="8.6" text-anchor="middle" dominant-baseline="central" transform="rotate(56 1407.3 555)">280KB</text>
<line x1="1373.7" y1="467.4" x2="1369.4" y2="468.7" stroke="#111" stroke-width="1.3"/>
<text x="1366.5" y="469.6" font-size="8.6" text-anchor="middle" dominant-baseline="central" transform="rotate(73 1366.5 469.6)">70KB</text>
<line x1="1362.2" y1="413.1" x2="1357.7" y2="413.6" stroke="#111" stroke-width="1.3"/>
<text x="1354.8" y="414" font-size="8.6" text-anchor="middle" dominant-baseline="central" transform="rotate(83.2 1354.8 414)">140KB</text>
<line x1="1363.7" y1="328.3" x2="1359.2" y2="327.6" stroke="#111" stroke-width="1.3"/>
<text x="1356.3" y="327.1" font-size="8.6" text-anchor="middle" dominant-baseline="central" transform="rotate(-81.2 1356.3 327.1)">70KB</text>
<line x1="1377" y1="274.3" x2="1372.7" y2="272.9" stroke="#111" stroke-width="1.3"/>
<text x="1369.9" y="271.9" font-size="8.6" text-anchor="middle" dominant-baseline="central" transform="rotate(-71 1369.9 271.9)">140KB</text>
<line x1="1411.6" y1="204" x2="1407.8" y2="201.5" stroke="#111" stroke-width="1.3"/>
<text x="1405.3" y="199.9" font-size="8.6" text-anchor="middle" dominant-baseline="central" transform="rotate(-56.6 1405.3 199.9)">70KB</text>
<path d="M1699.8 785.6A314.5 314.5 0 0 1 1783.4 804.3L1781.2 810.4A308 308 0 0 0 1699.3 792.1ZM1787.9 806.1A314.5 314.5 0 0 1 1835.3 829.3L1831.9 834.9A308 308 0 0 0 1785.6 812.1ZM1839.4 831.8A314.5 314.5 0 0 1 1881.3 862.9L1877 867.8A308 308 0 0 0 1836 837.3ZM1884.9 866.2A314.5 314.5 0 0 1 1915 897.5L1910 901.7A308 308 0 0 0 1880.5 871ZM1918.1 901.2A314.5 314.5 0 0 1 1938.3 929.4L1932.9 932.9A308 308 0 0 0 1913 905.3ZM1940.9 933.5A314.5 314.5 0 0 1 1956.8 962.4L1950.9 965.2A308 308 0 0 0 1935.4 936.9ZM1958.9 966.8A314.5 314.5 0 0 1 1971.5 998.5L1965.3 1000.6A308 308 0 0 0 1953 969.5ZM1973 1003.1A314.5 314.5 0 0 1 1981.6 1036.1L1975.3 1037.4A308 308 0 0 0 1966.8 1005.1ZM1982.6 1040.8A314.5 314.5 0 0 1 1987 1074.1L1980.5 1074.6A308 308 0 0 0 1976.2 1042ZM1987.4 1078.9A314.5 314.5 0 0 1 1987.9 1105.4L1981.4 1105.2A308 308 0 0 0 1980.9 1079.3ZM1987.8 1110.2A314.5 314.5 0 0 1 1985.8 1136L1979.4 1135.3A308 308 0 0 0 1981.3 1110ZM1985.2 1140.8A314.5 314.5 0 0 1 1978.7 1174.9L1972.4 1173.3A308 308 0 0 0 1978.8 1139.9ZM1977.5 1179.5A314.5 314.5 0 0 1 1969.9 1204.3L1963.7 1202.1A308 308 0 0 0 1971.2 1177.9ZM1968.2 1208.8A314.5 314.5 0 0 1 1958.9 1231.2L1953 1228.5A308 308 0 0 0 1962.1 1206.6ZM1956.8 1235.6A314.5 314.5 0 0 1 1945.1 1257.5L1939.5 1254.2A308 308 0 0 0 1950.9 1232.8ZM1942.7 1261.6A314.5 314.5 0 0 1 1930.6 1280.1L1925.3 1276.4A308 308 0 0 0 1937.1 1258.3ZM1927.8 1284A314.5 314.5 0 0 1 1913.5 1302.2L1908.5 1298A308 308 0 0 0 1922.6 1280.2ZM1910.4 1305.9A314.5 314.5 0 0 1 1893.7 1323.5L1889.1 1318.9A308 308 0 0 0 1905.5 1301.6ZM1890.2 1326.9A314.5 314.5 0 0 1 1874.1 1341.2L1870 1336.2A308 308 0 0 0 1885.7 1322.2ZM1870.4 1344.2A314.5 314.5 0 0 1 1854.5 1356.2L1850.8 1350.9A308 308 0 0 0 1866.3 1339.2ZM1850.5 1358.9A314.5 314.5 0 0 1 1832.4 1370.4L1829.1 1364.8A308 308 0 0 0 1846.9 1353.6ZM1828.2 1372.8A314.5 314.5 0 0 1 1808.1 1383.2L1805.3 1377.4A308 308 0 0 0 1825 1367.2ZM1803.7 1385.3A314.5 314.5 0 0 1 1784.4 1393.3L1782.1 1387.2A308 308 0 0 0 1801 1379.4ZM1779.8 1395A314.5 314.5 0 0 1 1762 1400.8L1760.2 1394.6A308 308 0 0 0 1777.6 1388.9ZM1757.3 1402.1A314.5 314.5 0 0 1 1737 1407L1735.6 1400.7A308 308 0 0 0 1755.6 1395.9ZM1732.2 1408A314.5 314.5 0 0 1 1712.6 1411.1L1711.8 1404.6A308 308 0 0 0 1731 1401.6ZM1707.8 1411.6A314.5 314.5 0 0 1 1687.4 1413.2L1687.1 1406.7A308 308 0 0 0 1707.1 1405.2ZM1682.6 1413.4A314.5 314.5 0 0 1 1663.8 1413.4L1664 1406.9A308 308 0 0 0 1682.4 1406.9ZM1659 1413.2A314.5 314.5 0 0 1 1640.3 1411.7L1641 1405.3A308 308 0 0 0 1659.3 1406.7ZM1635.5 1411.2A314.5 314.5 0 0 1 1616.9 1408.4L1618.1 1402A308 308 0 0 0 1636.3 1404.7ZM1612.2 1407.5A314.5 314.5 0 0 1 1595 1403.5L1596.6 1397.2A308 308 0 0 0 1613.5 1401.1ZM1590.3 1402.3A314.5 314.5 0 0 1 1575 1397.7L1577 1391.5A308 308 0 0 0 1592 1396ZM1570.4 1396.1A314.5 314.5 0 0 1 1555.4 1390.5L1557.8 1384.5A308 308 0 0 0 1572.5 1390ZM1550.9 1388.6A314.5 314.5 0 0 1 1537.3 1382.5L1540.1 1376.6A308 308 0 0 0 1553.5 1382.6ZM1533 1380.4A314.5 314.5 0 0 1 1519.3 1373.1L1522.5 1367.4A308 308 0 0 0 1535.9 1374.5ZM1515.1 1370.7A314.5 314.5 0 0 1 1502.4 1362.9L1505.9 1357.4A308 308 0 0 0 1518.4 1365.1ZM1498.4 1360.2A314.5 314.5 0 0 1 1486.6 1351.9L1490.5 1346.7A308 308 0 0 0 1502 1354.8ZM1482.7 1349A314.5 314.5 0 0 1 1471.9 1340.4L1476.1 1335.4A308 308 0 0 0 1486.7 1343.9ZM1468.2 1337.3A314.5 314.5 0 0 1 1457.2 1327.3L1461.6 1322.6A308 308 0 0 0 1472.5 1332.4ZM1453.7 1323.9A314.5 314.5 0 0 1 1450.1 1320.4L1454.7 1315.8A308 308 0 0 0 1458.2 1319.3ZM1446.7 1316.9A314.5 314.5 0 0 1 1437.1 1306.5L1442 1302.2A308 308 0 0 0 1451.4 1312.4ZM1434 1302.8A314.5 314.5 0 0 1 1425.3 1292.2L1430.4 1288.2A308 308 0 0 0 1438.9 1298.6ZM1422.4 1288.3A314.5 314.5 0 0 1 1414.6 1277.6L1420 1273.9A308 308 0 0 0 1427.6 1284.4ZM1411.9 1273.6A314.5 314.5 0 0 1 1405 1262.8L1410.6 1259.4A308 308 0 0 0 1417.3 1270ZM1402.5 1258.7A314.5 314.5 0 0 1 1396.5 1247.9L1402.2 1244.8A308 308 0 0 0 1408.1 1255.4ZM1394.2 1243.6A314.5 314.5 0 0 1 1389 1233L1394.8 1230.2A308 308 0 0 0 1400 1240.6ZM1386.9 1228.6A314.5 314.5 0 0 1 1382.4 1218L1388.4 1215.5A308 308 0 0 0 1392.9 1225.9ZM1380.6 1213.5A314.5 314.5 0 0 1 1376.7 1203.1L1382.9 1201A308 308 0 0 0 1386.6 1211.1ZM1375.2 1198.5A314.5 314.5 0 0 1 1372 1188.3L1378.2 1186.5A308 308 0 0 0 1381.3 1196.5ZM1370.6 1183.7A314.5 314.5 0 0 1 1368 1173.7L1374.3 1172.2A308 308 0 0 0 1376.9 1181.9ZM1366.9 1169A314.5 314.5 0 0 1 1364.8 1159.3L1371.2 1158.1A308 308 0 0 0 1373.2 1167.6ZM1363.9 1154.6A314.5 314.5 0 0 1 1362.4 1145.1L1368.8 1144.2A308 308 0 0 0 1370.3 1153.4ZM1361.7 1140.3A314.5 314.5 0 0 1 1360.7 1131.2L1367.1 1130.5A308 308 0 0 0 1368.2 1139.5ZM1360.2 1126.4A314.5 314.5 0 0 1 1359.5 1117.6L1366 1117.2A308 308 0 0 0 1366.7 1125.8ZM1359.3 1112.7A314.5 314.5 0 0 1 1359 1104.2L1365.5 1104.1A308 308 0 0 0 1365.8 1112.5ZM1359 1099.4A314.5 314.5 0 0 1 1359.1 1091.2L1365.6 1091.4A308 308 0 0 0 1365.5 1099.4ZM1359.3 1086.4A314.5 314.5 0 0 1 1359.7 1078.5L1366.2 1078.9A308 308 0 0 0 1365.7 1086.7ZM1360 1073.7A314.5 314.5 0 0 1 1360.7 1065.9L1367.2 1066.6A308 308 0 0 0 1366.5 1074.2ZM1361.3 1061.1A314.5 314.5 0 0 1 1362.3 1053.7L1368.7 1054.6A308 308 0 0 0 1367.7 1061.9ZM1363 1048.9A314.5 314.5 0 0 1 1364.3 1041.7L1370.7 1042.8A308 308 0 0 0 1369.4 1049.9ZM1365.2 1036.9A314.5 314.5 0 0 1 1366.7 1029.9L1373 1031.3A308 308 0 0 0 1371.6 1038.2ZM1367.8 1025.2A314.5 314.5 0 0 1 1369.5 1018.5L1375.8 1020.1A308 308 0 0 0 1374.1 1026.7ZM1370.8 1013.8A314.5 314.5 0 0 1 1372.7 1007.3L1378.9 1009.2A308 308 0 0 0 1377 1015.6ZM1374.1 1002.7A314.5 314.5 0 0 1 1376.2 996.4L1382.3 998.5A308 308 0 0 0 1380.3 1004.7ZM1377.8 991.9A314.5 314.5 0 0 1 1380.1 985.8L1386.1 988.2A308 308 0 0 0 1383.9 994.1ZM1381.8 981.4A314.5 314.5 0 0 1 1384.2 975.6L1390.2 978.1A308 308 0 0 0 1387.9 983.8ZM1386.2 971.2A314.5 314.5 0 0 1 1388.7 965.6L1394.6 968.4A308 308 0 0 0 1392.1 973.8ZM1390.8 961.3A314.5 314.5 0 0 1 1393.4 956L1399.2 959A308 308 0 0 0 1396.6 964.1ZM1395.6 951.7A314.5 314.5 0 0 1 1398.4 946.7L1404 949.8A308 308 0 0 0 1401.4 954.8ZM1400.7 942.5A314.5 314.5 0 0 1 1403.5 937.7L1409.1 941A308 308 0 0 0 1406.4 945.7ZM1406 933.5A314.5 314.5 0 0 1 1408.9 929L1414.4 932.5A308 308 0 0 0 1411.6 937ZM1411.6 924.9A314.5 314.5 0 0 1 1414.5 920.6L1419.9 924.3A308 308 0 0 0 1417 928.5ZM1417.3 916.6A314.5 314.5 0 0 1 1420.3 912.5L1425.5 916.4A308 308 0 0 0 1422.6 920.4ZM1423.1 908.6A314.5 314.5 0 0 1 1426.2 904.6L1431.4 908.7A308 308 0 0 0 1428.3 912.6ZM1429.3 900.9A314.5 314.5 0 0 1 1432.5 897L1437.5 901.1A308 308 0 0 0 1434.3 905ZM1435.6 893.3A314.5 314.5 0 0 1 1439 889.5L1443.8 893.8A308 308 0 0 0 1440.5 897.5ZM1442.2 885.9A314.5 314.5 0 0 1 1445.7 882.2L1450.4 886.7A308 308 0 0 0 1447 890.3ZM1449 878.7A314.5 314.5 0 0 1 1452.6 875.1L1457.2 879.8A308 308 0 0 0 1453.7 883.3ZM1456.1 871.8A314.5 314.5 0 0 1 1459.8 868.3L1464.2 873.1A308 308 0 0 0 1460.6 876.5ZM1463.3 865A314.5 314.5 0 0 1 1467.1 861.7L1471.4 866.6A308 308 0 0 0 1467.7 869.9ZM1470.8 858.5A314.5 314.5 0 0 1 1474.7 855.3L1478.8 860.3A308 308 0 0 0 1475 863.5ZM1478.5 852.3A314.5 314.5 0 0 1 1482.5 849.2L1486.4 854.3A308 308 0 0 0 1482.5 857.4ZM1486.3 846.3A314.5 314.5 0 0 1 1490.4 843.3L1494.2 848.6A308 308 0 0 0 1490.2 851.5ZM1494.4 840.5A314.5 314.5 0 0 1 1498.6 837.6L1502.2 843A308 308 0 0 0 1498.1 845.8ZM1502.6 835A314.5 314.5 0 0 1 1506.9 832.3L1510.3 837.8A308 308 0 0 0 1506.1 840.4ZM1511 829.7A314.5 314.5 0 0 1 1515.4 827.2L1518.6 832.8A308 308 0 0 0 1514.4 835.3ZM1519.6 824.8A314.5 314.5 0 0 1 1524 822.3L1527.1 828A308 308 0 0 0 1522.7 830.4ZM1528.3 820A314.5 314.5 0 0 1 1532.8 817.7L1535.7 823.6A308 308 0 0 0 1531.3 825.8ZM1537.1 815.6A314.5 314.5 0 0 1 1541.7 813.5L1544.4 819.4A308 308 0 0 0 1539.9 821.5ZM1546.1 811.5A314.5 314.5 0 0 1 1550.7 809.4L1553.3 815.4A308 308 0 0 0 1548.7 817.4ZM1555.2 807.6A314.5 314.5 0 0 1 1559.9 805.7L1562.3 811.8A308 308 0 0 0 1557.7 813.6ZM1564.4 804A314.5 314.5 0 0 1 1569.2 802.3L1571.4 808.4A308 308 0 0 0 1566.7 810.1ZM1573.8 800.7A314.5 314.5 0 0 1 1578.6 799.2L1580.6 805.4A308 308 0 0 0 1575.8 806.9ZM1583.2 797.7A314.5 314.5 0 0 1 1588.1 796.3L1589.8 802.6A308 308 0 0 0 1585.1 804ZM1592.7 795A314.5 314.5 0 0 1 1597.6 793.8L1599.2 800.1A308 308 0 0 0 1594.4 801.3ZM1602.3 792.7A314.5 314.5 0 0 1 1607.3 791.5L1608.7 797.9A308 308 0 0 0 1603.8 799ZM1612 790.6A314.5 314.5 0 0 1 1617 789.6L1618.2 796A308 308 0 0 0 1613.3 796.9ZM1621.8 788.8A314.5 314.5 0 0 1 1626.8 788L1627.7 794.4A308 308 0 0 0 1622.8 795.2ZM1631.5 787.3A314.5 314.5 0 0 1 1636.6 786.7L1637.3 793.1A308 308 0 0 0 1632.4 793.8ZM1641.4 786.1A314.5 314.5 0 0 1 1646.4 785.7L1647 792.1A308 308 0 0 0 1642 792.6ZM1651.2 785.3A314.5 314.5 0 0 1 1659.8 784.8L1660.1 791.3A308 308 0 0 0 1651.7 791.8Z" fill="#bebebe"/>
<path d="M1699 795.1A305 305 0 0 1 1780.1 813.2L1768.2 845.1A271 271 0 0 0 1696.2 829ZM1784.5 814.9A305 305 0 0 1 1830.4 837.5L1812.9 866.6A271 271 0 0 0 1772.1 846.6ZM1834.4 839.9A305 305 0 0 1 1875 870.1L1852.6 895.6A271 271 0 0 0 1816.5 868.8ZM1878.5 873.2A305 305 0 0 1 1907.7 903.6L1881.6 925.4A271 271 0 0 0 1855.7 898.4ZM1910.7 907.2A305 305 0 0 1 1930.3 934.5L1901.7 952.8A271 271 0 0 0 1884.2 928.6ZM1932.8 938.5A305 305 0 0 1 1948.2 966.5L1917.6 981.3A271 271 0 0 0 1903.9 956.4ZM1950.2 970.8A305 305 0 0 1 1962.5 1001.5L1930.3 1012.4A271 271 0 0 0 1919.4 985.1ZM1964 1006A305 305 0 0 1 1972.3 1038L1939 1044.8A271 271 0 0 0 1931.6 1016.3ZM1973.2 1042.6A305 305 0 0 1 1977.5 1074.9L1943.6 1077.5A271 271 0 0 0 1939.8 1048.9ZM1977.9 1079.5A305 305 0 0 1 1978.4 1105.2L1944.4 1104.5A271 271 0 0 0 1943.9 1081.7ZM1978.3 1109.9A305 305 0 0 1 1976.4 1134.9L1942.6 1130.9A271 271 0 0 0 1944.3 1108.6ZM1975.8 1139.5A305 305 0 0 1 1969.5 1172.6L1936.5 1164.4A271 271 0 0 0 1942.1 1135ZM1968.3 1177.1A305 305 0 0 1 1960.9 1201.1L1928.9 1189.7A271 271 0 0 0 1935.5 1168.4ZM1959.3 1205.5A305 305 0 0 1 1950.2 1227.2L1919.4 1212.9A271 271 0 0 0 1927.4 1193.6ZM1948.2 1231.5A305 305 0 0 1 1936.9 1252.7L1907.6 1235.6A271 271 0 0 0 1917.6 1216.7ZM1934.6 1256.7A305 305 0 0 1 1922.9 1274.6L1895.1 1255.1A271 271 0 0 0 1905.5 1239.1ZM1920.1 1278.4A305 305 0 0 1 1906.3 1296.1L1880.3 1274.1A271 271 0 0 0 1892.6 1258.4ZM1903.2 1299.7A305 305 0 0 1 1887 1316.8L1863.2 1292.5A271 271 0 0 0 1877.6 1277.3ZM1883.7 1320A305 305 0 0 1 1868.1 1333.9L1846.4 1307.7A271 271 0 0 0 1860.2 1295.4ZM1864.4 1336.8A305 305 0 0 1 1849.1 1348.4L1829.5 1320.6A271 271 0 0 0 1843.2 1310.3ZM1845.2 1351.1A305 305 0 0 1 1827.6 1362.2L1810.4 1332.9A271 271 0 0 0 1826.1 1323ZM1823.5 1364.6A305 305 0 0 1 1804 1374.7L1789.5 1343.9A271 271 0 0 0 1806.8 1335ZM1799.8 1376.6A305 305 0 0 1 1781 1384.4L1769 1352.6A271 271 0 0 0 1785.7 1345.7ZM1776.6 1386A305 305 0 0 1 1759.3 1391.7L1749.7 1359.1A271 271 0 0 0 1765.1 1354ZM1754.8 1393A305 305 0 0 1 1735 1397.7L1728.2 1364.4A271 271 0 0 0 1745.7 1360.2ZM1730.4 1398.6A305 305 0 0 1 1711.4 1401.6L1707.2 1367.9A271 271 0 0 0 1724.1 1365.2ZM1706.8 1402.2A305 305 0 0 1 1687 1403.7L1685.5 1369.7A271 271 0 0 0 1703 1368.4ZM1682.3 1403.9A305 305 0 0 1 1664.1 1403.9L1665.2 1369.9A271 271 0 0 0 1681.4 1369.9ZM1659.5 1403.7A305 305 0 0 1 1641.3 1402.3L1644.9 1368.5A271 271 0 0 0 1661 1369.7ZM1636.6 1401.8A305 305 0 0 1 1618.7 1399L1624.8 1365.6A271 271 0 0 0 1640.8 1368ZM1614 1398.1A305 305 0 0 1 1597.3 1394.3L1605.8 1361.4A271 271 0 0 0 1620.7 1364.8ZM1592.8 1393.1A305 305 0 0 1 1577.9 1388.6L1588.6 1356.4A271 271 0 0 0 1601.8 1360.3ZM1573.5 1387.1A305 305 0 0 1 1558.9 1381.7L1571.7 1350.2A271 271 0 0 0 1584.6 1355ZM1554.6 1379.9A305 305 0 0 1 1541.4 1373.9L1556.1 1343.3A271 271 0 0 0 1567.9 1348.6ZM1537.2 1371.9A305 305 0 0 1 1524 1364.8L1540.6 1335.2A271 271 0 0 0 1552.4 1341.4ZM1519.9 1362.5A305 305 0 0 1 1507.6 1354.9L1526.1 1326.4A271 271 0 0 0 1537 1333.1ZM1503.7 1352.3A305 305 0 0 1 1492.3 1344.3L1512.5 1317A271 271 0 0 0 1522.6 1324.1ZM1488.5 1341.5A305 305 0 0 1 1478 1333.1L1499.8 1307A271 271 0 0 0 1509.1 1314.5ZM1474.4 1330.1A305 305 0 0 1 1463.7 1320.4L1487.1 1295.7A271 271 0 0 0 1496.6 1304.3ZM1460.3 1317.1A305 305 0 0 1 1456.8 1313.7L1481 1289.7A271 271 0 0 0 1484.1 1292.8ZM1453.6 1310.3A305 305 0 0 1 1444.3 1300.2L1469.8 1277.8A271 271 0 0 0 1478.1 1286.8ZM1441.2 1296.6A305 305 0 0 1 1432.8 1286.3L1459.6 1265.5A271 271 0 0 0 1467.1 1274.6ZM1430 1282.6A305 305 0 0 1 1422.4 1272.2L1450.4 1252.9A271 271 0 0 0 1457.1 1262.1ZM1419.8 1268.3A305 305 0 0 1 1413.1 1257.9L1442.2 1240.2A271 271 0 0 0 1448.1 1249.4ZM1410.7 1253.9A305 305 0 0 1 1404.9 1243.4L1434.8 1227.3A271 271 0 0 0 1440 1236.6ZM1402.7 1239.3A305 305 0 0 1 1397.5 1228.9L1428.3 1214.4A271 271 0 0 0 1432.9 1223.6ZM1395.6 1224.7A305 305 0 0 1 1391.2 1214.4L1422.6 1201.5A271 271 0 0 0 1426.6 1210.6ZM1389.4 1210.1A305 305 0 0 1 1385.7 1200L1417.8 1188.7A271 271 0 0 0 1421.1 1197.7ZM1384.2 1195.5A305 305 0 0 1 1381.1 1185.6L1413.7 1176A271 271 0 0 0 1416.4 1184.8ZM1379.8 1181.1A305 305 0 0 1 1377.2 1171.5L1410.3 1163.4A271 271 0 0 0 1412.5 1172ZM1376.2 1166.9A305 305 0 0 1 1374.2 1157.5L1407.5 1151A271 271 0 0 0 1409.3 1159.3ZM1373.3 1152.9A305 305 0 0 1 1371.8 1143.7L1405.4 1138.7A271 271 0 0 0 1406.8 1146.9ZM1371.1 1139.1A305 305 0 0 1 1370.1 1130.2L1403.9 1126.7A271 271 0 0 0 1404.9 1134.6ZM1369.7 1125.6A305 305 0 0 1 1369 1117L1403 1115A271 271 0 0 0 1403.5 1122.6ZM1368.8 1112.3A305 305 0 0 1 1368.5 1104.1L1402.5 1103.5A271 271 0 0 0 1402.8 1110.8ZM1368.5 1099.4A305 305 0 0 1 1368.6 1091.5L1402.6 1092.3A271 271 0 0 0 1402.5 1099.3ZM1368.7 1086.8A305 305 0 0 1 1369.2 1079.1L1403.1 1081.3A271 271 0 0 0 1402.7 1088.1ZM1369.5 1074.4A305 305 0 0 1 1370.2 1066.9L1404 1070.5A271 271 0 0 0 1403.4 1077.2ZM1370.7 1062.3A305 305 0 0 1 1371.7 1055L1405.3 1059.9A271 271 0 0 0 1404.5 1066.4ZM1372.4 1050.4A305 305 0 0 1 1373.6 1043.4L1407 1049.6A271 271 0 0 0 1406 1055.8ZM1374.5 1038.8A305 305 0 0 1 1375.9 1032L1409.1 1039.5A271 271 0 0 0 1407.8 1045.5ZM1377 1027.4A305 305 0 0 1 1378.7 1020.9L1411.5 1029.6A271 271 0 0 0 1410.1 1035.4ZM1379.9 1016.4A305 305 0 0 1 1381.8 1010.1L1414.3 1020A271 271 0 0 0 1412.6 1025.6ZM1383.2 1005.6A305 305 0 0 1 1385.2 999.5L1417.3 1010.6A271 271 0 0 0 1415.5 1016ZM1386.7 995.1A305 305 0 0 1 1388.9 989.3L1420.6 1001.5A271 271 0 0 0 1418.7 1006.7ZM1390.6 984.9A305 305 0 0 1 1393 979.3L1424.2 992.7A271 271 0 0 0 1422.2 997.6ZM1394.8 975A305 305 0 0 1 1397.3 969.7L1428.1 984.1A271 271 0 0 0 1425.9 988.8ZM1399.3 965.4A305 305 0 0 1 1401.9 960.3L1432.1 975.8A271 271 0 0 0 1429.9 980.3ZM1404 956.2A305 305 0 0 1 1406.7 951.3L1436.4 967.7A271 271 0 0 0 1434.1 972.1ZM1409 947.2A305 305 0 0 1 1411.7 942.5L1440.9 960A271 271 0 0 0 1438.5 964.1ZM1414.1 938.5A305 305 0 0 1 1416.9 934.1L1445.5 952.5A271 271 0 0 0 1443 956.4ZM1419.5 930.2A305 305 0 0 1 1422.3 926L1450.3 945.3A271 271 0 0 0 1447.8 949ZM1425 922.1A305 305 0 0 1 1427.9 918.1L1455.3 938.3A271 271 0 0 0 1452.7 941.9ZM1430.7 914.4A305 305 0 0 1 1433.7 910.5L1460.4 931.5A271 271 0 0 0 1457.8 935ZM1436.6 906.8A305 305 0 0 1 1439.8 903.1L1465.8 924.9A271 271 0 0 0 1463 928.3ZM1442.8 899.5A305 305 0 0 1 1446.1 895.8L1471.4 918.4A271 271 0 0 0 1468.5 921.7ZM1449.2 892.3A305 305 0 0 1 1452.6 888.7L1477.2 912.2A271 271 0 0 0 1474.2 915.4ZM1455.8 885.4A305 305 0 0 1 1459.3 881.9L1483.2 906.1A271 271 0 0 0 1480.1 909.2ZM1462.6 878.6A305 305 0 0 1 1466.2 875.3L1489.3 900.2A271 271 0 0 0 1486.1 903.2ZM1469.7 872.1A305 305 0 0 1 1473.4 868.8L1495.7 894.5A271 271 0 0 0 1492.4 897.4ZM1476.9 865.8A305 305 0 0 1 1480.7 862.7L1502.2 889A271 271 0 0 0 1498.8 891.8ZM1484.4 859.7A305 305 0 0 1 1488.2 856.7L1508.9 883.7A271 271 0 0 0 1505.4 886.4ZM1492 853.9A305 305 0 0 1 1496 851L1515.8 878.6A271 271 0 0 0 1512.2 881.2ZM1499.8 848.3A305 305 0 0 1 1503.9 845.5L1522.8 873.8A271 271 0 0 0 1519.2 876.2ZM1507.8 843A305 305 0 0 1 1511.9 840.3L1529.9 869.2A271 271 0 0 0 1526.2 871.5ZM1515.9 837.9A305 305 0 0 1 1520.1 835.4L1537.2 864.8A271 271 0 0 0 1533.5 867ZM1524.2 833A305 305 0 0 1 1528.5 830.7L1544.7 860.6A271 271 0 0 0 1540.8 862.7ZM1532.6 828.5A305 305 0 0 1 1537 826.2L1552.2 856.6A271 271 0 0 0 1548.3 858.6ZM1541.2 824.2A305 305 0 0 1 1545.7 822.1L1559.9 852.9A271 271 0 0 0 1556 854.8ZM1549.9 820.1A305 305 0 0 1 1554.5 818.2L1567.7 849.5A271 271 0 0 0 1563.7 851.2ZM1558.8 816.4A305 305 0 0 1 1563.3 814.6L1575.6 846.3A271 271 0 0 0 1571.6 847.9ZM1567.7 812.9A305 305 0 0 1 1572.4 811.3L1583.6 843.3A271 271 0 0 0 1579.5 844.8ZM1576.8 809.7A305 305 0 0 1 1581.5 808.2L1591.7 840.6A271 271 0 0 0 1587.6 842ZM1585.9 806.8A305 305 0 0 1 1590.7 805.5L1599.9 838.2A271 271 0 0 0 1595.7 839.4ZM1595.2 804.2A305 305 0 0 1 1599.9 803L1608.1 836A271 271 0 0 0 1603.9 837.1ZM1604.5 801.9A305 305 0 0 1 1609.3 800.8L1616.4 834.1A271 271 0 0 0 1612.2 835ZM1613.9 799.9A305 305 0 0 1 1618.7 799L1624.8 832.4A271 271 0 0 0 1620.5 833.2ZM1623.3 798.2A305 305 0 0 1 1628.2 797.4L1633.2 831A271 271 0 0 0 1628.9 831.7ZM1632.8 796.7A305 305 0 0 1 1637.7 796.1L1641.7 829.9A271 271 0 0 0 1637.3 830.4ZM1642.3 795.6A305 305 0 0 1 1647.2 795.1L1650.2 829A271 271 0 0 0 1645.8 829.4ZM1651.9 794.8A305 305 0 0 1 1660.2 794.3L1661.7 828.3A271 271 0 0 0 1654.3 828.7Z" fill="none" stroke="#c0c0c0" stroke-width="2.2"/>
<path d="M1695.3 839.1A260.8 260.8 0 0 1 1764.7 854.7L1753 886A227.3 227.3 0 0 0 1692.5 872.5ZM1768.4 856.1A260.8 260.8 0 0 1 1807.7 875.4L1790.4 904.1A227.3 227.3 0 0 0 1756.2 887.3ZM1811.1 877.4A260.8 260.8 0 0 1 1845.8 903.3L1823.7 928.4A227.3 227.3 0 0 0 1793.4 905.9ZM1848.8 905.9A260.8 260.8 0 0 1 1873.8 931.9L1848 953.4A227.3 227.3 0 0 0 1826.3 930.7ZM1876.3 935A260.8 260.8 0 0 1 1893.1 958.3L1864.9 976.4A227.3 227.3 0 0 0 1850.2 956.1ZM1895.2 961.7A260.8 260.8 0 0 1 1908.4 985.7L1878.2 1000.3A227.3 227.3 0 0 0 1866.8 979.4ZM1910.1 989.4A260.8 260.8 0 0 1 1920.6 1015.6L1888.9 1026.4A227.3 227.3 0 0 0 1879.7 1003.4ZM1921.9 1019.4A260.8 260.8 0 0 1 1929 1046.8L1896.2 1053.5A227.3 227.3 0 0 0 1890 1029.7ZM1929.8 1050.8A260.8 260.8 0 0 1 1933.5 1078.4L1900.1 1081A227.3 227.3 0 0 0 1896.9 1057ZM1933.8 1082.4A260.8 260.8 0 0 1 1934.2 1104.3L1900.8 1103.6A227.3 227.3 0 0 0 1900.3 1084.5ZM1934.1 1108.3A260.8 260.8 0 0 1 1932.5 1129.7L1899.2 1125.8A227.3 227.3 0 0 0 1900.7 1107.1ZM1932 1133.7A260.8 260.8 0 0 1 1926.6 1161.9L1894.1 1153.8A227.3 227.3 0 0 0 1898.8 1129.2ZM1925.6 1165.8A260.8 260.8 0 0 1 1919.2 1186.3L1887.7 1175.1A227.3 227.3 0 0 0 1893.2 1157.2ZM1917.9 1190.1A260.8 260.8 0 0 1 1910.1 1208.6L1879.7 1194.6A227.3 227.3 0 0 0 1886.5 1178.4ZM1908.4 1212.3A260.8 260.8 0 0 1 1898.8 1230.4L1869.8 1213.5A227.3 227.3 0 0 0 1878.2 1197.7ZM1896.7 1233.9A260.8 260.8 0 0 1 1886.7 1249.2L1859.3 1229.9A227.3 227.3 0 0 0 1868 1216.5ZM1884.4 1252.4A260.8 260.8 0 0 1 1872.5 1267.5L1847 1245.9A227.3 227.3 0 0 0 1857.3 1232.7ZM1869.9 1270.6A260.8 260.8 0 0 1 1856.1 1285.2L1832.6 1261.3A227.3 227.3 0 0 0 1844.7 1248.5ZM1853.2 1288A260.8 260.8 0 0 1 1839.9 1299.8L1818.5 1274A227.3 227.3 0 0 0 1830.1 1263.7ZM1836.8 1302.4A260.8 260.8 0 0 1 1823.6 1312.3L1804.3 1284.9A227.3 227.3 0 0 0 1815.8 1276.2ZM1820.3 1314.5A260.8 260.8 0 0 1 1805.2 1324.1L1788.3 1295.2A227.3 227.3 0 0 0 1801.5 1286.9ZM1801.8 1326.1A260.8 260.8 0 0 1 1785.1 1334.7L1770.8 1304.4A227.3 227.3 0 0 0 1785.3 1296.9ZM1781.5 1336.4A260.8 260.8 0 0 1 1765.4 1343.1L1753.6 1311.7A227.3 227.3 0 0 0 1767.6 1305.9ZM1761.7 1344.4A260.8 260.8 0 0 1 1746.9 1349.3L1737.4 1317.1A227.3 227.3 0 0 0 1750.3 1312.9ZM1743 1350.4A260.8 260.8 0 0 1 1726.1 1354.4L1719.4 1321.6A227.3 227.3 0 0 0 1734.1 1318.1ZM1722.2 1355.2A260.8 260.8 0 0 1 1705.9 1357.8L1701.8 1324.5A227.3 227.3 0 0 0 1715.9 1322.3ZM1701.9 1358.2A260.8 260.8 0 0 1 1685.1 1359.5L1683.6 1326.1A227.3 227.3 0 0 0 1698.3 1324.9ZM1681.1 1359.7A260.8 260.8 0 0 1 1665.5 1359.7L1666.5 1326.2A227.3 227.3 0 0 0 1680.1 1326.2ZM1661.5 1359.5A260.8 260.8 0 0 1 1646 1358.3L1649.5 1325A227.3 227.3 0 0 0 1663 1326.1ZM1642 1357.9A260.8 260.8 0 0 1 1626.6 1355.5L1632.6 1322.6A227.3 227.3 0 0 0 1646 1324.6ZM1622.7 1354.8A260.8 260.8 0 0 1 1608.4 1351.5L1616.7 1319.1A227.3 227.3 0 0 0 1629.2 1321.9ZM1604.5 1350.5A260.8 260.8 0 0 1 1591.8 1346.7L1602.3 1314.9A227.3 227.3 0 0 0 1613.4 1318.2ZM1588 1345.4A260.8 260.8 0 0 1 1575.5 1340.7L1588.1 1309.7A227.3 227.3 0 0 0 1599 1313.7ZM1571.8 1339.2A260.8 260.8 0 0 1 1560.6 1334.1L1575.1 1303.9A227.3 227.3 0 0 0 1584.9 1308.3ZM1557 1332.3A260.8 260.8 0 0 1 1545.6 1326.3L1562.1 1297.1A227.3 227.3 0 0 0 1571.9 1302.3ZM1542.2 1324.3A260.8 260.8 0 0 1 1531.6 1317.8L1549.8 1289.7A227.3 227.3 0 0 0 1559 1295.4ZM1528.3 1315.6A260.8 260.8 0 0 1 1518.5 1308.8L1538.4 1281.8A227.3 227.3 0 0 0 1546.9 1287.8ZM1515.3 1306.3A260.8 260.8 0 0 1 1506.3 1299.2L1527.8 1273.5A227.3 227.3 0 0 0 1535.6 1279.7ZM1503.3 1296.6A260.8 260.8 0 0 1 1494.1 1288.3L1517.2 1264A227.3 227.3 0 0 0 1525.2 1271.2ZM1491.2 1285.5A260.8 260.8 0 0 1 1488.2 1282.6L1512 1259A227.3 227.3 0 0 0 1514.6 1261.6ZM1485.4 1279.7A260.8 260.8 0 0 1 1477.5 1271L1502.7 1248.9A227.3 227.3 0 0 0 1509.6 1256.5ZM1474.9 1268A260.8 260.8 0 0 1 1467.7 1259.2L1494.1 1238.6A227.3 227.3 0 0 0 1500.4 1246.3ZM1465.3 1256A260.8 260.8 0 0 1 1458.8 1247.1L1486.4 1228.1A227.3 227.3 0 0 0 1492 1235.8ZM1456.6 1243.8A260.8 260.8 0 0 1 1450.9 1234.8L1479.5 1217.4A227.3 227.3 0 0 0 1484.4 1225.2ZM1448.8 1231.4A260.8 260.8 0 0 1 1443.8 1222.5L1473.3 1206.6A227.3 227.3 0 0 0 1477.7 1214.4ZM1441.9 1218.9A260.8 260.8 0 0 1 1437.5 1210.1L1467.8 1195.8A227.3 227.3 0 0 0 1471.7 1203.5ZM1435.9 1206.4A260.8 260.8 0 0 1 1432.1 1197.7L1463.1 1185A227.3 227.3 0 0 0 1466.4 1192.6ZM1430.6 1194A260.8 260.8 0 0 1 1427.4 1185.3L1459 1174.2A227.3 227.3 0 0 0 1461.8 1181.8ZM1426.1 1181.5A260.8 260.8 0 0 1 1423.4 1173.1L1455.6 1163.6A227.3 227.3 0 0 0 1457.9 1170.9ZM1422.3 1169.2A260.8 260.8 0 0 1 1420.2 1161L1452.7 1153A227.3 227.3 0 0 0 1454.6 1160.2ZM1419.2 1157.1A260.8 260.8 0 0 1 1417.5 1149L1450.4 1142.6A227.3 227.3 0 0 0 1451.9 1149.6ZM1416.8 1145.1A260.8 260.8 0 0 1 1415.5 1137.2L1448.7 1132.3A227.3 227.3 0 0 0 1449.8 1139.2ZM1415 1133.3A260.8 260.8 0 0 1 1414.1 1125.7L1447.4 1122.3A227.3 227.3 0 0 0 1448.2 1128.9ZM1413.7 1121.7A260.8 260.8 0 0 1 1413.2 1114.4L1446.6 1112.4A227.3 227.3 0 0 0 1447.1 1118.8ZM1412.9 1110.4A260.8 260.8 0 0 1 1412.7 1103.3L1446.2 1102.8A227.3 227.3 0 0 0 1446.4 1108.9ZM1412.7 1099.3A260.8 260.8 0 0 1 1412.8 1092.6L1446.3 1093.4A227.3 227.3 0 0 0 1446.2 1099.3ZM1412.9 1088.6A260.8 260.8 0 0 1 1413.3 1082L1446.7 1084.2A227.3 227.3 0 0 0 1446.4 1089.9ZM1413.5 1078A260.8 260.8 0 0 1 1414.1 1071.6L1447.5 1075.1A227.3 227.3 0 0 0 1446.9 1080.7ZM1414.6 1067.6A260.8 260.8 0 0 1 1415.4 1061.4L1448.6 1066.2A227.3 227.3 0 0 0 1447.9 1071.6ZM1416 1057.5A260.8 260.8 0 0 1 1417.1 1051.4L1450 1057.6A227.3 227.3 0 0 0 1449.1 1062.8ZM1417.8 1047.5A260.8 260.8 0 0 1 1419.1 1041.7L1451.8 1049.1A227.3 227.3 0 0 0 1450.7 1054.1ZM1420 1037.8A260.8 260.8 0 0 1 1421.4 1032.2L1453.8 1040.8A227.3 227.3 0 0 0 1452.5 1045.7ZM1422.5 1028.3A260.8 260.8 0 0 1 1424 1022.9L1456.1 1032.7A227.3 227.3 0 0 0 1454.7 1037.4ZM1425.2 1019.1A260.8 260.8 0 0 1 1427 1013.9L1458.6 1024.9A227.3 227.3 0 0 0 1457.1 1029.4ZM1428.3 1010.2A260.8 260.8 0 0 1 1430.2 1005.2L1461.4 1017.2A227.3 227.3 0 0 0 1459.8 1021.6ZM1431.6 1001.4A260.8 260.8 0 0 1 1433.6 996.7L1464.4 1009.8A227.3 227.3 0 0 0 1462.7 1014ZM1435.2 993A260.8 260.8 0 0 1 1437.3 988.4L1467.6 1002.6A227.3 227.3 0 0 0 1465.8 1006.6ZM1439 984.8A260.8 260.8 0 0 1 1441.2 980.4L1471.1 995.6A227.3 227.3 0 0 0 1469.2 999.5ZM1443.1 976.9A260.8 260.8 0 0 1 1445.3 972.7L1474.6 988.9A227.3 227.3 0 0 0 1472.7 992.6ZM1447.3 969.2A260.8 260.8 0 0 1 1449.6 965.2L1478.4 982.4A227.3 227.3 0 0 0 1476.4 985.9ZM1451.7 961.8A260.8 260.8 0 0 1 1454.1 958L1482.3 976.1A227.3 227.3 0 0 0 1480.2 979.4ZM1456.3 954.6A260.8 260.8 0 0 1 1458.7 951.1L1486.3 970.1A227.3 227.3 0 0 0 1484.2 973.2ZM1461 947.8A260.8 260.8 0 0 1 1463.5 944.4L1490.5 964.2A227.3 227.3 0 0 0 1488.3 967.2ZM1465.9 941.1A260.8 260.8 0 0 1 1468.5 937.8L1494.8 958.5A227.3 227.3 0 0 0 1492.6 961.4ZM1471 934.7A260.8 260.8 0 0 1 1473.6 931.5L1499.3 953A227.3 227.3 0 0 0 1497 955.8ZM1476.2 928.4A260.8 260.8 0 0 1 1479 925.2L1504 947.6A227.3 227.3 0 0 0 1501.6 950.3ZM1481.7 922.3A260.8 260.8 0 0 1 1484.6 919.2L1508.8 942.3A227.3 227.3 0 0 0 1506.3 945ZM1487.4 916.3A260.8 260.8 0 0 1 1490.3 913.4L1513.9 937.2A227.3 227.3 0 0 0 1511.3 939.8ZM1493.2 910.6A260.8 260.8 0 0 1 1496.3 907.7L1519 932.3A227.3 227.3 0 0 0 1516.4 934.8ZM1499.2 905A260.8 260.8 0 0 1 1502.4 902.2L1524.4 927.5A227.3 227.3 0 0 0 1521.6 929.9ZM1505.4 899.6A260.8 260.8 0 0 1 1508.6 896.9L1529.8 922.9A227.3 227.3 0 0 0 1527 925.2ZM1511.8 894.4A260.8 260.8 0 0 1 1515.1 891.8L1535.4 918.4A227.3 227.3 0 0 0 1532.5 920.7ZM1518.3 889.4A260.8 260.8 0 0 1 1521.7 886.9L1541.2 914.2A227.3 227.3 0 0 0 1538.2 916.3ZM1525 884.6A260.8 260.8 0 0 1 1528.4 882.3L1547.1 910.1A227.3 227.3 0 0 0 1544 912.2ZM1531.8 880.1A260.8 260.8 0 0 1 1535.3 877.8L1553.1 906.2A227.3 227.3 0 0 0 1550 908.2ZM1538.7 875.7A260.8 260.8 0 0 1 1542.4 873.6L1559.2 902.5A227.3 227.3 0 0 0 1556.1 904.4ZM1545.8 871.6A260.8 260.8 0 0 1 1549.5 869.6L1565.4 899A227.3 227.3 0 0 0 1562.2 900.8ZM1553.1 867.7A260.8 260.8 0 0 1 1556.8 865.8L1571.8 895.7A227.3 227.3 0 0 0 1568.5 897.4ZM1560.4 864A260.8 260.8 0 0 1 1564.2 862.2L1578.2 892.6A227.3 227.3 0 0 0 1574.9 894.2ZM1567.8 860.6A260.8 260.8 0 0 1 1571.7 858.9L1584.8 889.7A227.3 227.3 0 0 0 1581.4 891.2ZM1575.4 857.4A260.8 260.8 0 0 1 1579.3 855.8L1591.4 887A227.3 227.3 0 0 0 1588 888.4ZM1583.1 854.4A260.8 260.8 0 0 1 1587 853L1598.1 884.6A227.3 227.3 0 0 0 1594.7 885.8ZM1590.8 851.7A260.8 260.8 0 0 1 1594.8 850.4L1604.9 882.3A227.3 227.3 0 0 0 1601.4 883.4ZM1598.6 849.2A260.8 260.8 0 0 1 1602.7 848L1611.8 880.2A227.3 227.3 0 0 0 1608.2 881.3ZM1606.5 846.9A260.8 260.8 0 0 1 1610.6 845.9L1618.7 878.4A227.3 227.3 0 0 0 1615.1 879.3ZM1614.5 845A260.8 260.8 0 0 1 1618.6 844L1625.6 876.8A227.3 227.3 0 0 0 1622.1 877.6ZM1622.5 843.2A260.8 260.8 0 0 1 1626.6 842.4L1632.7 875.4A227.3 227.3 0 0 0 1629.1 876.1ZM1630.6 841.8A260.8 260.8 0 0 1 1634.7 841.1L1639.7 874.2A227.3 227.3 0 0 0 1636.1 874.8ZM1638.7 840.5A260.8 260.8 0 0 1 1642.9 840L1646.8 873.3A227.3 227.3 0 0 0 1643.2 873.7ZM1646.9 839.6A260.8 260.8 0 0 1 1651 839.2L1653.9 872.5A227.3 227.3 0 0 0 1650.3 872.9ZM1655 838.9A260.8 260.8 0 0 1 1662.1 838.4L1663.6 871.9A227.3 227.3 0 0 0 1657.4 872.3Z" fill="none" stroke="#c0c0c0" stroke-width="2.2"/>
<path d="M1699.5 803.8A296.3 296.3 0 0 1 1775.9 821M1782.4 823.5A296.3 296.3 0 0 1 1824.9 844.3M1830.8 847.9A296.3 296.3 0 0 1 1868.4 875.8M1873.6 880.4A296.3 296.3 0 0 1 1900.2 908.3M1904.7 913.6A296.3 296.3 0 0 1 1922.4 938.2M1926.1 944.1A296.3 296.3 0 0 1 1939.9 969.2M1942.8 975.5A296.3 296.3 0 0 1 1953.9 1003.2M1956 1009.8A296.3 296.3 0 0 1 1963.6 1038.5M1964.9 1045.4A296.3 296.3 0 0 1 1968.8 1074.4M1969.3 1081.3A296.3 296.3 0 0 1 1969.8 1103.8M1969.6 1110.7A296.3 296.3 0 0 1 1967.9 1132.7M1967 1139.6A296.3 296.3 0 0 1 1961.3 1169.3M1959.6 1176A296.3 296.3 0 0 1 1953.1 1197.1M1950.7 1203.6A296.3 296.3 0 0 1 1942.8 1222.5M1939.9 1228.8A296.3 296.3 0 0 1 1930 1247.3M1926.5 1253.3A296.3 296.3 0 0 1 1916.4 1268.6M1912.4 1274.3A296.3 296.3 0 0 1 1900.4 1289.6M1895.9 1294.8A296.3 296.3 0 0 1 1881.8 1309.7M1876.8 1314.5A296.3 296.3 0 0 1 1863.5 1326.4M1858.1 1330.8A296.3 296.3 0 0 1 1845 1340.6M1839.3 1344.6A296.3 296.3 0 0 1 1824.2 1354.1M1818.2 1357.6A296.3 296.3 0 0 1 1801.4 1366.3M1795.1 1369.2A296.3 296.3 0 0 1 1779.1 1375.9M1772.5 1378.3A296.3 296.3 0 0 1 1758 1383M1751.3 1384.9A296.3 296.3 0 0 1 1734.5 1389M1727.6 1390.3A296.3 296.3 0 0 1 1711.5 1392.9M1704.6 1393.7A296.3 296.3 0 0 1 1687.8 1395M1680.9 1395.2A296.3 296.3 0 0 1 1665.6 1395.2M1658.7 1394.9A296.3 296.3 0 0 1 1643.4 1393.8M1636.5 1393A296.3 296.3 0 0 1 1621.4 1390.7M1614.6 1389.4A296.3 296.3 0 0 1 1600.7 1386.2M1594 1384.4A296.3 296.3 0 0 1 1581.8 1380.8M1575.2 1378.5A296.3 296.3 0 0 1 1563.3 1374.1M1556.9 1371.4A296.3 296.3 0 0 1 1546.3 1366.6M1540 1363.5A296.3 296.3 0 0 1 1529.3 1357.8M1523.2 1354.4A296.3 296.3 0 0 1 1513.3 1348.3M1507.5 1344.4A296.3 296.3 0 0 1 1498.4 1338M1492.8 1333.8A296.3 296.3 0 0 1 1484.5 1327.2M1479.2 1322.7A296.3 296.3 0 0 1 1470.6 1314.9M1465.6 1310.1A296.3 296.3 0 0 1 1463.9 1308.4M1459 1303.4A296.3 296.3 0 0 1 1451.6 1295.4M1447.1 1290.1A296.3 296.3 0 0 1 1440.4 1281.9M1436.2 1276.4A296.3 296.3 0 0 1 1430.3 1268.2M1426.4 1262.5A296.3 296.3 0 0 1 1421.2 1254.4M1417.6 1248.4A296.3 296.3 0 0 1 1413.1 1240.3M1409.8 1234.2A296.3 296.3 0 0 1 1405.9 1226.3M1403 1220A296.3 296.3 0 0 1 1399.7 1212.2M1397.1 1205.8A296.3 296.3 0 0 1 1394.3 1198.2M1392.1 1191.6A296.3 296.3 0 0 1 1389.7 1184.3M1387.8 1177.6A296.3 296.3 0 0 1 1386 1170.6M1384.4 1163.8A296.3 296.3 0 0 1 1382.9 1157M1381.7 1150.2A296.3 296.3 0 0 1 1380.6 1143.6M1379.6 1136.8A296.3 296.3 0 0 1 1378.9 1130.5M1378.2 1123.6A296.3 296.3 0 0 1 1377.8 1117.7M1377.4 1110.7A296.3 296.3 0 0 1 1377.3 1105.1M1377.2 1098.2A296.3 296.3 0 0 1 1377.3 1092.9M1377.5 1085.9A296.3 296.3 0 0 1 1377.8 1080.9M1378.3 1073.9A296.3 296.3 0 0 1 1378.7 1069.1M1379.5 1062.1A296.3 296.3 0 0 1 1380.1 1057.5M1381.2 1050.6A296.3 296.3 0 0 1 1382 1046.2M1383.3 1039.3A296.3 296.3 0 0 1 1384.2 1035.1M1385.8 1028.3A296.3 296.3 0 0 1 1386.8 1024.3M1388.6 1017.6A296.3 296.3 0 0 1 1389.7 1013.7M1391.8 1007.1A296.3 296.3 0 0 1 1393 1003.5M1395.3 996.9A296.3 296.3 0 0 1 1396.6 993.5M1399.2 987A296.3 296.3 0 0 1 1400.5 983.8M1403.3 977.5A296.3 296.3 0 0 1 1404.7 974.4M1407.6 968.2A296.3 296.3 0 0 1 1409.1 965.3M1412.3 959.2A296.3 296.3 0 0 1 1413.7 956.5M1417.1 950.5A296.3 296.3 0 0 1 1418.5 948M1422.2 942.1A296.3 296.3 0 0 1 1423.6 939.8M1427.4 934A296.3 296.3 0 0 1 1428.8 931.9M1432.8 926.2A296.3 296.3 0 0 1 1434.2 924.3M1438.4 918.7A296.3 296.3 0 0 1 1439.8 916.8M1444.2 911.4A296.3 296.3 0 0 1 1445.7 909.6M1450.2 904.3A296.3 296.3 0 0 1 1451.7 902.5M1456.4 897.3A296.3 296.3 0 0 1 1458 895.6M1462.9 890.6A296.3 296.3 0 0 1 1464.5 888.9M1469.5 884.1A296.3 296.3 0 0 1 1471.3 882.5M1476.4 877.8A296.3 296.3 0 0 1 1478.2 876.2M1483.5 871.7A296.3 296.3 0 0 1 1485.3 870.2M1490.7 865.8A296.3 296.3 0 0 1 1492.6 864.4M1498.1 860.2A296.3 296.3 0 0 1 1500 858.8M1505.7 854.8A296.3 296.3 0 0 1 1507.7 853.4M1513.5 849.6A296.3 296.3 0 0 1 1515.5 848.3M1521.4 844.7A296.3 296.3 0 0 1 1523.5 843.5M1529.5 840A296.3 296.3 0 0 1 1531.6 838.9M1537.7 835.6A296.3 296.3 0 0 1 1539.8 834.6M1546.1 831.5A296.3 296.3 0 0 1 1548.2 830.5M1554.6 827.6A296.3 296.3 0 0 1 1556.7 826.7M1563.2 824A296.3 296.3 0 0 1 1565.4 823.1M1571.9 820.7A296.3 296.3 0 0 1 1574.1 819.9M1580.7 817.6A296.3 296.3 0 0 1 1582.9 816.9M1589.6 814.8A296.3 296.3 0 0 1 1591.9 814.2M1598.6 812.3A296.3 296.3 0 0 1 1600.9 811.7M1607.6 810.1A296.3 296.3 0 0 1 1609.9 809.6M1616.8 808.2A296.3 296.3 0 0 1 1619.1 807.7M1625.9 806.5A296.3 296.3 0 0 1 1628.3 806.2M1635.2 805.2A296.3 296.3 0 0 1 1637.5 804.9M1644.4 804.1A296.3 296.3 0 0 1 1646.8 803.9M1653.7 803.4A296.3 296.3 0 0 1 1659.4 803M1698.1 820.4A279.7 279.7 0 0 1 1770.1 836.5M1776.4 838.9A279.7 279.7 0 0 1 1816.4 858.5M1822.1 862A279.7 279.7 0 0 1 1857.4 888.3M1862.4 892.7A279.7 279.7 0 0 1 1887.5 918.9M1891.7 924.1A279.7 279.7 0 0 1 1908.4 947.1M1911.9 952.8A279.7 279.7 0 0 1 1924.9 976.4M1927.8 982.5A279.7 279.7 0 0 1 1938.1 1008.5M1940.2 1014.8A279.7 279.7 0 0 1 1947.3 1041.9M1948.6 1048.4A279.7 279.7 0 0 1 1952.2 1075.7M1952.7 1082.3A279.7 279.7 0 0 1 1953.2 1103.5M1953 1110.2A279.7 279.7 0 0 1 1951.4 1130.7M1950.6 1137.4A279.7 279.7 0 0 1 1945.2 1165.3M1943.6 1171.8A279.7 279.7 0 0 1 1937.5 1191.5M1935.2 1197.8A279.7 279.7 0 0 1 1927.8 1215.5M1924.9 1221.6A279.7 279.7 0 0 1 1915.7 1238.9M1912.3 1244.7A279.7 279.7 0 0 1 1902.9 1259.1M1899 1264.5A279.7 279.7 0 0 1 1887.7 1278.8M1883.4 1283.9A279.7 279.7 0 0 1 1870.2 1297.9M1865.4 1302.5A279.7 279.7 0 0 1 1852.9 1313.6M1847.7 1317.9A279.7 279.7 0 0 1 1835.5 1327M1830 1330.8A279.7 279.7 0 0 1 1815.8 1339.8M1810 1343.1A279.7 279.7 0 0 1 1794.3 1351.3M1788.2 1354.1A279.7 279.7 0 0 1 1773.2 1360.3M1766.9 1362.6A279.7 279.7 0 0 1 1753.3 1367.1M1746.9 1368.9A279.7 279.7 0 0 1 1731.1 1372.7M1724.5 1374A279.7 279.7 0 0 1 1709.5 1376.4M1702.8 1377.2A279.7 279.7 0 0 1 1687.1 1378.4M1680.4 1378.6A279.7 279.7 0 0 1 1666.1 1378.6M1659.4 1378.3A279.7 279.7 0 0 1 1645.2 1377.3M1638.5 1376.5A279.7 279.7 0 0 1 1624.4 1374.4M1617.8 1373.1A279.7 279.7 0 0 1 1604.8 1370.1M1598.3 1368.4A279.7 279.7 0 0 1 1587 1365M1580.7 1362.8A279.7 279.7 0 0 1 1569.6 1358.7M1563.4 1356.1A279.7 279.7 0 0 1 1553.5 1351.6M1547.5 1348.7A279.7 279.7 0 0 1 1537.4 1343.4M1531.6 1340A279.7 279.7 0 0 1 1522.3 1334.3M1516.7 1330.6A279.7 279.7 0 0 1 1508.3 1324.7M1502.9 1320.6A279.7 279.7 0 0 1 1495.2 1314.5M1490.1 1310.1A279.7 279.7 0 0 1 1482 1302.8M1477.2 1298.2A279.7 279.7 0 0 1 1475.7 1296.7M1471 1291.9A279.7 279.7 0 0 1 1464.1 1284.4M1459.7 1279.3A279.7 279.7 0 0 1 1453.5 1271.7M1449.4 1266.4A279.7 279.7 0 0 1 1444 1258.8M1440.2 1253.3A279.7 279.7 0 0 1 1435.4 1245.7M1431.9 1240A279.7 279.7 0 0 1 1427.7 1232.5M1424.6 1226.6A279.7 279.7 0 0 1 1421 1219.2M1418.1 1213.1A279.7 279.7 0 0 1 1415.1 1205.9M1412.6 1199.7A279.7 279.7 0 0 1 1410 1192.7M1407.8 1186.4A279.7 279.7 0 0 1 1405.7 1179.6M1403.8 1173.2A279.7 279.7 0 0 1 1402.1 1166.6M1400.6 1160.1A279.7 279.7 0 0 1 1399.2 1153.8M1398 1147.2A279.7 279.7 0 0 1 1397 1141.2M1396.1 1134.6A279.7 279.7 0 0 1 1395.4 1128.8M1394.8 1122.2A279.7 279.7 0 0 1 1394.4 1116.7M1394 1110A279.7 279.7 0 0 1 1393.9 1104.9M1393.8 1098.2A279.7 279.7 0 0 1 1393.9 1093.3M1394.1 1086.6A279.7 279.7 0 0 1 1394.3 1081.9M1394.8 1075.3A279.7 279.7 0 0 1 1395.2 1070.8M1396 1064.1A279.7 279.7 0 0 1 1396.6 1059.9M1397.6 1053.3A279.7 279.7 0 0 1 1398.3 1049.2M1399.5 1042.6A279.7 279.7 0 0 1 1400.4 1038.7M1401.9 1032.2A279.7 279.7 0 0 1 1402.8 1028.5M1404.6 1022.1A279.7 279.7 0 0 1 1405.6 1018.6M1407.6 1012.2A279.7 279.7 0 0 1 1408.7 1008.9M1410.9 1002.6A279.7 279.7 0 0 1 1412.1 999.5M1414.6 993.3A279.7 279.7 0 0 1 1415.8 990.3M1418.4 984.2A279.7 279.7 0 0 1 1419.7 981.5M1422.6 975.4A279.7 279.7 0 0 1 1423.8 972.9M1426.9 967A279.7 279.7 0 0 1 1428.2 964.6M1431.5 958.7A279.7 279.7 0 0 1 1432.8 956.5M1436.3 950.8A279.7 279.7 0 0 1 1437.6 948.8M1441.2 943.2A279.7 279.7 0 0 1 1442.5 941.3M1446.3 935.8A279.7 279.7 0 0 1 1447.6 934.1M1451.6 928.8A279.7 279.7 0 0 1 1452.9 927.1M1457 921.9A279.7 279.7 0 0 1 1458.4 920.2M1462.7 915.1A279.7 279.7 0 0 1 1464.1 913.5M1468.6 908.6A279.7 279.7 0 0 1 1470.1 907.1M1474.7 902.2A279.7 279.7 0 0 1 1476.2 900.7M1481 896.1A279.7 279.7 0 0 1 1482.5 894.6M1487.5 890.1A279.7 279.7 0 0 1 1489.1 888.7M1494.2 884.4A279.7 279.7 0 0 1 1495.8 883M1501 878.8A279.7 279.7 0 0 1 1502.7 877.5M1508 873.5A279.7 279.7 0 0 1 1509.7 872.3M1515.2 868.4A279.7 279.7 0 0 1 1516.9 867.2M1522.5 863.5A279.7 279.7 0 0 1 1524.3 862.4M1530 858.9A279.7 279.7 0 0 1 1531.8 857.8M1537.6 854.5A279.7 279.7 0 0 1 1539.5 853.5M1545.4 850.4A279.7 279.7 0 0 1 1547.3 849.4M1553.3 846.5A279.7 279.7 0 0 1 1555.2 845.6M1561.3 842.8A279.7 279.7 0 0 1 1563.2 842M1569.4 839.4A279.7 279.7 0 0 1 1571.4 838.6M1577.6 836.2A279.7 279.7 0 0 1 1579.6 835.5M1585.9 833.4A279.7 279.7 0 0 1 1588 832.7M1594.4 830.7A279.7 279.7 0 0 1 1596.4 830.1M1602.8 828.4A279.7 279.7 0 0 1 1604.9 827.8M1611.4 826.3A279.7 279.7 0 0 1 1613.4 825.8M1620 824.5A279.7 279.7 0 0 1 1622.1 824.1M1628.7 822.9A279.7 279.7 0 0 1 1630.7 822.6M1637.4 821.6A279.7 279.7 0 0 1 1639.5 821.4M1646.1 820.6A279.7 279.7 0 0 1 1648.2 820.4M1654.9 819.9A279.7 279.7 0 0 1 1660.1 819.6M1695.8 848A252 252 0 0 1 1760.5 862.5M1766.3 864.7A252 252 0 0 1 1802.1 882.3M1807.5 885.6A252 252 0 0 1 1839.1 909.1M1843.8 913.2A252 252 0 0 1 1866.2 936.6M1870.2 941.5A252 252 0 0 1 1885.1 962.1M1888.4 967.4A252 252 0 0 1 1900 988.5M1902.7 994.1A252 252 0 0 1 1911.9 1017.3M1913.9 1023.3A252 252 0 0 1 1920.2 1047.4M1921.4 1053.6A252 252 0 0 1 1924.6 1077.9M1925.1 1084.1A252 252 0 0 1 1925.5 1102.9M1925.3 1109.2A252 252 0 0 1 1923.9 1127.5M1923.1 1133.7A252 252 0 0 1 1918.3 1158.6M1916.8 1164.7A252 252 0 0 1 1911.4 1182.2M1909.2 1188.1A252 252 0 0 1 1902.7 1203.9M1900 1209.5A252 252 0 0 1 1891.8 1225M1888.6 1230.3A252 252 0 0 1 1880.2 1243.1M1876.6 1248.2A252 252 0 0 1 1866.6 1260.9M1862.5 1265.7A252 252 0 0 1 1850.8 1278.1M1846.3 1282.4A252 252 0 0 1 1835.2 1292.3M1830.3 1296.3A252 252 0 0 1 1819.5 1304.4M1814.4 1307.9A252 252 0 0 1 1801.8 1315.9M1796.4 1319A252 252 0 0 1 1782.4 1326.2M1776.7 1328.9A252 252 0 0 1 1763.5 1334.4M1757.6 1336.6A252 252 0 0 1 1745.5 1340.5M1739.5 1342.2A252 252 0 0 1 1725.5 1345.6M1719.4 1346.8A252 252 0 0 1 1706 1348.9M1699.8 1349.6A252 252 0 0 1 1685.9 1350.7M1679.6 1350.9A252 252 0 0 1 1667 1350.9M1660.7 1350.7A252 252 0 0 1 1648.1 1349.7M1641.9 1349A252 252 0 0 1 1629.4 1347.1M1623.2 1345.9A252 252 0 0 1 1611.7 1343.3M1605.7 1341.7A252 252 0 0 1 1595.7 1338.7M1589.7 1336.7A252 252 0 0 1 1580 1333M1574.2 1330.6A252 252 0 0 1 1565.5 1326.7M1559.8 1323.9A252 252 0 0 1 1551 1319.2M1545.6 1316.1A252 252 0 0 1 1537.4 1311.1M1532.2 1307.6A252 252 0 0 1 1524.7 1302.4M1519.7 1298.6A252 252 0 0 1 1512.9 1293.2M1508.1 1289.1A252 252 0 0 1 1501 1282.7M1496.5 1278.4A252 252 0 0 1 1495.3 1277.2M1491 1272.7A252 252 0 0 1 1484.9 1266.1M1480.8 1261.4A252 252 0 0 1 1475.4 1254.7M1471.6 1249.8A252 252 0 0 1 1466.8 1243.1M1463.2 1237.9A252 252 0 0 1 1459 1231.3M1455.8 1225.9A252 252 0 0 1 1452.1 1219.4M1449.2 1213.8A252 252 0 0 1 1446 1207.4M1443.4 1201.7A252 252 0 0 1 1440.7 1195.5M1438.4 1189.6A252 252 0 0 1 1436.1 1183.6M1434.1 1177.6A252 252 0 0 1 1432.2 1171.7M1430.5 1165.7A252 252 0 0 1 1429 1160M1427.6 1153.9A252 252 0 0 1 1426.4 1148.5M1425.3 1142.3A252 252 0 0 1 1424.4 1137.1M1423.5 1130.9A252 252 0 0 1 1422.9 1126M1422.4 1119.8A252 252 0 0 1 1422 1115.1M1421.7 1108.8A252 252 0 0 1 1421.6 1104.4M1421.5 1098.1A252 252 0 0 1 1421.6 1094M1421.8 1087.7A252 252 0 0 1 1422 1083.7M1422.4 1077.5A252 252 0 0 1 1422.8 1073.7M1423.5 1067.5A252 252 0 0 1 1424 1063.9M1424.9 1057.7A252 252 0 0 1 1425.5 1054.2M1426.7 1048.1A252 252 0 0 1 1427.4 1044.8M1428.8 1038.7A252 252 0 0 1 1429.6 1035.6M1431.3 1029.6A252 252 0 0 1 1432.1 1026.7M1434 1020.7A252 252 0 0 1 1434.9 1017.9M1437 1012A252 252 0 0 1 1437.9 1009.5M1440.2 1003.6A252 252 0 0 1 1441.2 1001.2M1443.7 995.5A252 252 0 0 1 1444.8 993.2M1447.5 987.6A252 252 0 0 1 1448.5 985.5M1451.4 979.9A252 252 0 0 1 1452.5 978M1455.5 972.5A252 252 0 0 1 1456.6 970.8M1459.8 965.4A252 252 0 0 1 1460.9 963.8M1464.3 958.5A252 252 0 0 1 1465.3 957M1468.9 951.9A252 252 0 0 1 1469.9 950.5M1473.6 945.5A252 252 0 0 1 1474.6 944.2M1478.6 939.3A252 252 0 0 1 1479.6 938M1483.7 933.3A252 252 0 0 1 1484.8 932M1489 927.4A252 252 0 0 1 1490.1 926.1M1494.5 921.6A252 252 0 0 1 1495.7 920.5M1500.2 916.1A252 252 0 0 1 1501.4 915M1506 910.7A252 252 0 0 1 1507.2 909.6M1512 905.5A252 252 0 0 1 1513.3 904.5M1518.2 900.6A252 252 0 0 1 1519.5 899.5M1524.5 895.8A252 252 0 0 1 1525.8 894.8M1531 891.2A252 252 0 0 1 1532.3 890.2M1537.6 886.8A252 252 0 0 1 1539 885.9M1544.3 882.6A252 252 0 0 1 1545.7 881.8M1551.2 878.7A252 252 0 0 1 1552.6 877.9M1558.2 874.9A252 252 0 0 1 1559.7 874.2M1565.3 871.4A252 252 0 0 1 1566.8 870.7M1572.5 868.1A252 252 0 0 1 1574 867.5M1579.8 865.1A252 252 0 0 1 1581.4 864.4M1587.2 862.2A252 252 0 0 1 1588.8 861.7M1594.7 859.6A252 252 0 0 1 1596.3 859.1M1602.3 857.3A252 252 0 0 1 1603.9 856.8M1609.9 855.1A252 252 0 0 1 1611.6 854.7M1617.7 853.3A252 252 0 0 1 1619.3 852.9M1625.4 851.6A252 252 0 0 1 1627 851.3M1633.2 850.2A252 252 0 0 1 1634.9 850M1641.1 849.1A252 252 0 0 1 1642.7 848.9M1649 848.2A252 252 0 0 1 1650.6 848M1656.9 847.6A252 252 0 0 1 1661.3 847.3" fill="none" stroke="#333" stroke-width="0.75"/>
<path d="M1694.4 863.3A236.6 236.6 0 0 1 1755.2 876.9M1760.6 879A236.6 236.6 0 0 1 1794.3 895.5M1799.2 898.6A236.6 236.6 0 0 1 1829 920.7M1833.4 924.6A236.6 236.6 0 0 1 1854.5 946.6M1858.2 951.1A236.6 236.6 0 0 1 1872.1 970.5M1875.2 975.4A236.6 236.6 0 0 1 1886.1 995.3M1888.6 1000.5A236.6 236.6 0 0 1 1897.3 1022.3M1899.2 1027.9A236.6 236.6 0 0 1 1905.1 1050.6M1906.2 1056.3A236.6 236.6 0 0 1 1909.3 1079.2M1909.7 1085A236.6 236.6 0 0 1 1910.1 1102.7M1909.9 1108.5A236.6 236.6 0 0 1 1908.6 1125.8M1907.9 1131.5A236.6 236.6 0 0 1 1903.4 1155M1901.9 1160.7A236.6 236.6 0 0 1 1896.8 1177.2M1894.8 1182.7A236.6 236.6 0 0 1 1888.6 1197.5M1886.1 1202.7A236.6 236.6 0 0 1 1878.4 1217.3M1875.4 1222.3A236.6 236.6 0 0 1 1867.6 1234.3M1864.2 1239.1A236.6 236.6 0 0 1 1854.8 1251.1M1851 1255.5A236.6 236.6 0 0 1 1839.9 1267.2M1835.7 1271.2A236.6 236.6 0 0 1 1825.3 1280.5M1820.8 1284.2A236.6 236.6 0 0 1 1810.6 1291.8M1805.8 1295.2A236.6 236.6 0 0 1 1794 1302.6M1788.9 1305.5A236.6 236.6 0 0 1 1775.8 1312.4M1770.5 1314.8A236.6 236.6 0 0 1 1757.9 1320M1752.5 1322A236.6 236.6 0 0 1 1741.1 1325.7M1735.5 1327.3A236.6 236.6 0 0 1 1722.3 1330.5M1716.6 1331.6A236.6 236.6 0 0 1 1704 1333.6M1698.2 1334.3A236.6 236.6 0 0 1 1685.1 1335.3M1679.3 1335.5A236.6 236.6 0 0 1 1667.3 1335.5M1661.5 1335.3A236.6 236.6 0 0 1 1649.6 1334.4M1643.8 1333.7A236.6 236.6 0 0 1 1632 1331.9M1626.3 1330.8A236.6 236.6 0 0 1 1615.5 1328.4M1609.8 1326.9A236.6 236.6 0 0 1 1600.4 1324M1594.9 1322.2A236.6 236.6 0 0 1 1585.7 1318.7M1580.3 1316.5A236.6 236.6 0 0 1 1572 1312.7M1566.8 1310.2A236.6 236.6 0 0 1 1558.5 1305.7M1553.4 1302.8A236.6 236.6 0 0 1 1545.7 1298.1M1540.8 1294.9A236.6 236.6 0 0 1 1533.8 1289.9M1529.1 1286.4A236.6 236.6 0 0 1 1522.7 1281.3M1518.3 1277.5A236.6 236.6 0 0 1 1511.6 1271.5M1507.4 1267.4A236.6 236.6 0 0 1 1506.2 1266.3M1502.1 1262.1A236.6 236.6 0 0 1 1496.4 1255.9M1492.6 1251.5A236.6 236.6 0 0 1 1487.5 1245.2M1483.9 1240.6A236.6 236.6 0 0 1 1479.4 1234.3M1476.1 1229.4A236.6 236.6 0 0 1 1472.1 1223.2M1469.1 1218.2A236.6 236.6 0 0 1 1465.6 1212M1462.9 1206.8A236.6 236.6 0 0 1 1459.9 1200.8M1457.5 1195.5A236.6 236.6 0 0 1 1454.9 1189.5M1452.7 1184.1A236.6 236.6 0 0 1 1450.6 1178.4M1448.7 1172.8A236.6 236.6 0 0 1 1447 1167.3M1445.3 1161.7A236.6 236.6 0 0 1 1443.9 1156.3M1442.6 1150.6A236.6 236.6 0 0 1 1441.5 1145.4M1440.4 1139.7A236.6 236.6 0 0 1 1439.6 1134.8M1438.8 1129A236.6 236.6 0 0 1 1438.3 1124.3M1437.7 1118.5A236.6 236.6 0 0 1 1437.4 1114.1M1437.1 1108.2A236.6 236.6 0 0 1 1437 1104M1436.9 1098.2A236.6 236.6 0 0 1 1436.9 1094.3M1437.1 1088.4A236.6 236.6 0 0 1 1437.3 1084.7M1437.8 1078.8A236.6 236.6 0 0 1 1438.1 1075.2M1438.8 1069.4A236.6 236.6 0 0 1 1439.2 1066M1440.1 1060.2A236.6 236.6 0 0 1 1440.7 1056.9M1441.8 1051.2A236.6 236.6 0 0 1 1442.4 1048.1M1443.8 1042.4A236.6 236.6 0 0 1 1444.5 1039.5M1446 1033.8A236.6 236.6 0 0 1 1446.9 1031.1M1448.6 1025.5A236.6 236.6 0 0 1 1449.5 1022.9M1451.4 1017.4A236.6 236.6 0 0 1 1452.4 1014.9M1454.5 1009.5A236.6 236.6 0 0 1 1455.4 1007.2M1457.8 1001.8A236.6 236.6 0 0 1 1458.8 999.7M1461.3 994.4A236.6 236.6 0 0 1 1462.3 992.4M1465 987.2A236.6 236.6 0 0 1 1466 985.4M1468.8 980.3A236.6 236.6 0 0 1 1469.8 978.6M1472.9 973.6A236.6 236.6 0 0 1 1473.9 972M1477.1 967.1A236.6 236.6 0 0 1 1478 965.7M1481.4 960.9A236.6 236.6 0 0 1 1482.3 959.6M1485.8 954.9A236.6 236.6 0 0 1 1486.8 953.6M1490.5 949.1A236.6 236.6 0 0 1 1491.5 947.8M1495.3 943.4A236.6 236.6 0 0 1 1496.3 942.2M1500.2 937.9A236.6 236.6 0 0 1 1501.4 936.7M1505.4 932.5A236.6 236.6 0 0 1 1506.5 931.4M1510.7 927.3A236.6 236.6 0 0 1 1511.9 926.2M1516.2 922.3A236.6 236.6 0 0 1 1517.4 921.2M1521.9 917.4A236.6 236.6 0 0 1 1523.1 916.4M1527.6 912.7A236.6 236.6 0 0 1 1528.9 911.7M1533.6 908.2A236.6 236.6 0 0 1 1534.9 907.3M1539.7 903.9A236.6 236.6 0 0 1 1541 903M1545.9 899.8A236.6 236.6 0 0 1 1547.2 898.9M1552.2 895.9A236.6 236.6 0 0 1 1553.6 895M1558.6 892.1A236.6 236.6 0 0 1 1560.1 891.4M1565.2 888.6A236.6 236.6 0 0 1 1566.6 887.9M1571.9 885.3A236.6 236.6 0 0 1 1573.3 884.6M1578.7 882.2A236.6 236.6 0 0 1 1580.1 881.6M1585.5 879.4A236.6 236.6 0 0 1 1587 878.8M1592.5 876.7A236.6 236.6 0 0 1 1594 876.2M1599.5 874.3A236.6 236.6 0 0 1 1601.1 873.8M1606.6 872A236.6 236.6 0 0 1 1608.2 871.6M1613.8 870.1A236.6 236.6 0 0 1 1615.4 869.7M1621 868.3A236.6 236.6 0 0 1 1622.6 867.9M1628.3 866.8A236.6 236.6 0 0 1 1629.9 866.4M1635.7 865.4A236.6 236.6 0 0 1 1637.3 865.2M1643 864.4A236.6 236.6 0 0 1 1644.6 864.2M1650.4 863.5A236.6 236.6 0 0 1 1652 863.4M1657.8 862.9A236.6 236.6 0 0 1 1662.1 862.7" stroke="#cf7fcf" stroke-width="0.8" fill="none"/>
<path d="M1699.4 807.1A293 293 0 0 1 1774.6 824M1781.4 826.6A293 293 0 0 1 1823.1 847M1829.2 850.8A293 293 0 0 1 1866.1 878.2M1871.5 883A293 293 0 0 1 1897.6 910.2M1902.2 915.8A293 293 0 0 1 1919.5 939.8M1923.3 945.9A293 293 0 0 1 1936.8 970.5M1939.9 977.1A293 293 0 0 1 1950.7 1004.1M1952.9 1010.9A293 293 0 0 1 1960.3 1039.1M1961.7 1046.1A293 293 0 0 1 1965.5 1074.5M1966 1081.7A293 293 0 0 1 1966.5 1103.6M1966.3 1110.8A293 293 0 0 1 1964.6 1132.1M1963.7 1139.3A293 293 0 0 1 1958.2 1168.4M1956.4 1175.4A293 293 0 0 1 1950 1195.8M1947.6 1202.6A293 293 0 0 1 1939.9 1220.9M1936.8 1227.5A293 293 0 0 1 1927.3 1245.5M1923.6 1251.7A293 293 0 0 1 1913.8 1266.6M1909.6 1272.5A293 293 0 0 1 1898 1287.3M1893.3 1292.8A293 293 0 0 1 1879.6 1307.2M1874.4 1312.3A293 293 0 0 1 1861.5 1323.8M1855.9 1328.3A293 293 0 0 1 1843.3 1337.8M1837.3 1341.9A293 293 0 0 1 1822.7 1351.2M1816.4 1354.8A293 293 0 0 1 1800.1 1363.2M1793.6 1366.3A293 293 0 0 1 1778.1 1372.7M1771.3 1375.2A293 293 0 0 1 1757.2 1379.8M1750.3 1381.8A293 293 0 0 1 1733.9 1385.7M1726.9 1387.1A293 293 0 0 1 1711.3 1389.6M1704.1 1390.4A293 293 0 0 1 1687.8 1391.6M1680.6 1391.9A293 293 0 0 1 1665.9 1391.9M1658.6 1391.6A293 293 0 0 1 1643.9 1390.5M1636.7 1389.7A293 293 0 0 1 1622.1 1387.5M1615.1 1386.1A293 293 0 0 1 1601.7 1383.1M1594.7 1381.2A293 293 0 0 1 1583 1377.7M1576.1 1375.4A293 293 0 0 1 1564.7 1371.1M1558 1368.3A293 293 0 0 1 1547.8 1363.7M1541.4 1360.5A293 293 0 0 1 1531 1355M1524.8 1351.4A293 293 0 0 1 1515.2 1345.6M1509.2 1341.6A293 293 0 0 1 1500.5 1335.5M1494.7 1331.1A293 293 0 0 1 1486.8 1324.8M1481.3 1320.1A293 293 0 0 1 1473 1312.6M1467.7 1307.6A293 293 0 0 1 1466.3 1306.2M1461.3 1301A293 293 0 0 1 1454.2 1293.3M1449.5 1287.8A293 293 0 0 1 1443.1 1280M1438.7 1274.3A293 293 0 0 1 1433.1 1266.5M1429 1260.5A293 293 0 0 1 1424.1 1252.8M1420.4 1246.6A293 293 0 0 1 1416.1 1238.9M1412.7 1232.5A293 293 0 0 1 1409 1225M1406 1218.5A293 293 0 0 1 1402.8 1211.1M1400.1 1204.4A293 293 0 0 1 1397.5 1197.3M1395.1 1190.4A293 293 0 0 1 1393 1183.5M1391 1176.6A293 293 0 0 1 1389.2 1169.9M1387.6 1162.9A293 293 0 0 1 1386.2 1156.5M1384.9 1149.4A293 293 0 0 1 1383.9 1143.3M1382.9 1136.2A293 293 0 0 1 1382.2 1130.4M1381.5 1123.2A293 293 0 0 1 1381.1 1117.7M1380.7 1110.4A293 293 0 0 1 1380.6 1105.2M1380.5 1098A293 293 0 0 1 1380.6 1093.1M1380.8 1085.9A293 293 0 0 1 1381 1081.2M1381.6 1074A293 293 0 0 1 1382 1069.6M1382.8 1062.4A293 293 0 0 1 1383.4 1058.1M1384.5 1051A293 293 0 0 1 1385.2 1046.9M1386.5 1039.8A293 293 0 0 1 1387.4 1036M1389 1028.9A293 293 0 0 1 1389.9 1025.3M1391.8 1018.3A293 293 0 0 1 1392.8 1014.9M1395 1008A293 293 0 0 1 1396.1 1004.7M1398.5 997.9A293 293 0 0 1 1399.6 994.9M1402.3 988.1A293 293 0 0 1 1403.5 985.3M1406.4 978.7A293 293 0 0 1 1407.6 976M1410.7 969.5A293 293 0 0 1 1411.9 967M1415.3 960.6A293 293 0 0 1 1416.5 958.3M1420 952A293 293 0 0 1 1421.3 949.9M1425 943.7A293 293 0 0 1 1426.3 941.7M1430.2 935.7A293 293 0 0 1 1431.4 933.9M1435.6 928A293 293 0 0 1 1436.8 926.4M1441.1 920.6A293 293 0 0 1 1442.3 919M1446.8 913.4A293 293 0 0 1 1448.1 911.8M1452.8 906.3A293 293 0 0 1 1454.1 904.8M1458.9 899.5A293 293 0 0 1 1460.3 898M1465.3 892.8A293 293 0 0 1 1466.7 891.4M1471.9 886.4A293 293 0 0 1 1473.4 885M1478.7 880.1A293 293 0 0 1 1480.2 878.8M1485.7 874.1A293 293 0 0 1 1487.2 872.8M1492.9 868.3A293 293 0 0 1 1494.5 867.1M1500.2 862.7A293 293 0 0 1 1501.8 861.6M1507.7 857.4A293 293 0 0 1 1509.4 856.3M1515.4 852.3A293 293 0 0 1 1517.1 851.2M1523.3 847.4A293 293 0 0 1 1525 846.4M1531.3 842.8A293 293 0 0 1 1533 841.9M1539.4 838.5A293 293 0 0 1 1541.2 837.6M1547.7 834.4A293 293 0 0 1 1549.5 833.5M1556 830.6A293 293 0 0 1 1557.9 829.8M1564.6 827A293 293 0 0 1 1566.4 826.3M1573.2 823.7A293 293 0 0 1 1575.1 823M1581.9 820.7A293 293 0 0 1 1583.8 820.1M1590.7 817.9A293 293 0 0 1 1592.6 817.4M1599.6 815.5A293 293 0 0 1 1601.5 815M1608.5 813.3A293 293 0 0 1 1610.5 812.9M1617.6 811.4A293 293 0 0 1 1619.5 811M1626.6 809.8A293 293 0 0 1 1628.6 809.5M1635.8 808.4A293 293 0 0 1 1637.7 808.2M1644.9 807.4A293 293 0 0 1 1646.9 807.2M1654.1 806.6A293 293 0 0 1 1659.4 806.3" stroke="#e0606a" stroke-width="0.6" fill="none"/>
<path d="M1739 813.4L1738.5 815.4M1740.5 813.8L1738.9 820.6M1741 813.9L1739.9 818.5M1742 814.1L1740.5 820.4M1742.5 814.2L1740.6 821.8M1743.5 814.5L1742.6 817.9M1744 814.6L1739.3 833.5M1744.5 814.7L1743.2 819.9M1745 814.8L1744.5 816.8M1745.9 815.1L1745.4 817M1746.4 815.2L1744.2 823.9M1754.4 817.4L1750.6 830.9M1754.9 817.5L1750.5 833M1755.9 817.8L1750.3 837.1M1756.4 818L1752.7 830.6M1756.9 818.1L1753 831.3M1757.9 818.4L1754.3 830.3M1758.1 818.5L1753 835.4M1760.6 819.2L1755.3 836.1M1761.1 819.4L1756.6 833.7M1750.2 816.2L1749.7 818.2M1750.7 816.4L1747.6 827.8M1751.2 816.5L1749.1 824.2M1752.2 816.8L1750.3 823.4M1752.7 816.9L1747.9 833.9M1754.2 817.3L1751 828.4M1755.1 817.6L1752.6 826.2M1755.6 817.7L1755.1 819.7M1756.6 818L1752.8 831M1757.1 818.2L1754.8 826.1M1757.6 818.3L1754.8 827.5M1759.6 818.9L1759 820.8M1760 819.1L1757.4 827.8M1761 819.4L1756.9 832.5M1761.5 819.5L1759.5 826M1768.3 821.8L1767.2 825M1768.8 821.9L1766.6 828.4M1769.3 822.1L1766.4 830.5M1769.8 822.3L1767.9 827.7M1770.3 822.4L1769.6 824.3M1770.8 822.6L1764.7 839.7M1771.7 823L1771 824.8M1772.7 823.3L1771.3 827M1773.2 823.5L1772.5 825.4M1774.1 823.8L1773.4 825.7M1774.6 824L1771.9 831.3M1731.7 811.8L1727.6 832.3M1732.2 811.9L1729.1 827.2M1732.7 812L1730.2 824.2M1733.7 812.3L1732.2 819.7M1734.7 812.5L1733 820.5M1736.7 812.9L1734.1 824.8M1703.4 807.5L1703 811.3M1703.9 807.6L1702.7 818.8M1704.4 807.6L1703.6 815M1704.9 807.7L1703.7 819M1705.4 807.7L1704.1 819.6M1705.9 807.8L1704.8 817.5M1706.4 807.9L1704.4 825.4M1706.9 807.9L1704.8 826.1M1707.4 808L1705.9 821.3M1707.9 808L1706.2 822.9M1708.5 808.1L1707.6 815.3M1709 808.2L1707.1 823.1M1709.5 808.2L1708.4 816.7M1710.5 808.3L1709.1 819.2M1711 808.4L1709.6 819M1709 808.2L1707.2 823.2M1710 808.3L1708.1 823.7M1711 808.4L1709.3 821.9M1712 808.5L1709.5 827.9M1713 808.7L1711.1 822.8M1750.9 816.4L1749 823.3M1751.9 816.7L1749.5 825.1M1753.8 817.2L1751.4 825.8M1754.3 817.4L1751.3 827.8M1755.8 817.8L1753.7 824.8M1756.3 817.9L1755.7 819.9M1756.8 818.1L1753.9 827.7M1757.3 818.2L1753.4 831M1758.2 818.5L1755.4 827.8M1758.7 818.7L1756.7 825.2M1723.4 810.3L1720.1 829.7M1724.4 810.5L1720.8 830.9M1724.9 810.5L1721.2 831.3M1725.4 810.6L1722.7 825.7M1725.9 810.7L1722.8 827.8M1726.4 810.8L1724.1 823.6M1726.9 810.9L1724.2 825.5M1727.4 811L1725.5 821.6M1728 811.1L1724.5 829.1M1729.5 811.4L1726.7 825.3M1730.5 811.6L1728.2 823.1M1731 811.7L1728.5 824.2M1731.5 811.8L1728.6 826.2M1732 811.9L1727.8 832.6M1733 812.1L1729.2 830.3M1733.5 812.2L1730 829M1734.5 812.4L1730.7 830M1699.9 807.2L1698.8 819.6M1700.4 807.2L1699.2 819.7M1701.4 807.3L1700.3 818.8M1701.9 807.4L1701 816.5M1702.4 807.4L1701.7 814.4M1702.9 807.5L1702.4 813.1M1704 807.6L1702.3 823.9M1704.5 807.6L1703.5 816.6M1705 807.7L1703.3 823.5M1763 820L1758.1 835.4M1763.5 820.2L1762.9 822.1M1764 820.3L1761.5 828.1M1765.9 821L1764.1 826.4M1767.4 821.5L1764.6 829.8M1767.9 821.6L1767.2 823.5M1768.9 822L1764.7 834M1769.3 822.1L1766.4 830.5M1769.8 822.3L1766 833.3M1770.3 822.5L1765 837.5M1770.8 822.6L1767.4 832.4M1771.3 822.8L1767 834.8M1772.2 823.1L1767.7 835.8M1772.7 823.3L1766.1 841.8M1773.2 823.5L1769.5 833.6M1773.7 823.7L1771.9 828.6M1701.9 807.4L1700.2 824.5M1702.4 807.4L1701.8 813.4M1702.9 807.5L1701.4 822M1703.4 807.5L1701.3 828M1703.9 807.6L1701.6 829.6M1704.9 807.7L1703.8 818.5M1705.4 807.7L1704 821.1M1707.5 808L1705.9 821.6M1709 808.2L1706.8 825.7M1709.5 808.2L1707.1 827.5M1710.5 808.3L1708.3 825.3M1713 808.7L1711.3 821.7M1785.9 828.4L1779.3 844.4M1788.3 829.4L1781.2 846.2M1788.8 829.6L1785.1 838.3M1789.2 829.8L1781.5 847.7M1790.7 830.4L1783 848M1791.1 830.6L1784.6 845.5M1791.6 830.9L1784.4 847.3M1792.5 831.3L1785.6 846.8M1793.5 831.7L1790.3 838.8M1794 831.9L1789.4 842.1M1794.4 832.1L1789.9 842.2M1794.9 832.3L1790.3 842.4M1795.4 832.5L1790.1 844.1M1795.8 832.8L1791.7 841.7M1796.3 833L1787.8 851.4M1796.8 833.2L1795.7 835.5M1797.2 833.4L1791.1 846.6M1797.7 833.6L1794.8 839.8M1798.2 833.8L1793.7 843.3M1798.6 834.1L1792.8 846.3M1799.1 834.3L1794.6 843.7M1799.5 834.5L1796.4 841.1M1800 834.7L1799.1 836.5M1800.5 834.9L1797.2 841.7M1791.8 830.9L1788.8 837.5M1792.7 831.3L1789.3 838.9M1794.6 832.2L1790.8 840.3M1795 832.4L1792.1 838.9M1795.5 832.6L1793.3 837.5M1796.4 833L1791.5 843.6M1811.4 840.5L1807.5 847.9M1811.9 840.7L1807.7 848.6M1812.3 841L1807.6 849.8M1812.8 841.2L1806.7 852.5M1813.2 841.5L1808.5 850.2M1813.7 841.7L1812.7 843.5M1814.6 842.2L1813.3 844.5M1815.5 842.7L1810.9 850.9M1815.9 842.9L1814.1 846.2M1816.4 843.2L1815.4 844.9M1816.8 843.4L1811 853.9M1817.3 843.7L1812 853.1M1818.6 844.5L1817.6 846.2M1819 844.7L1813.8 854M1819.5 845L1815.8 851.4M1794.9 832.3L1791.6 839.5M1795.4 832.5L1789 846.4M1797.2 833.4L1789.9 849M1798.1 833.8L1788.6 854.2M1798.6 834.1L1793 845.9M1799.1 834.3L1791.4 850.4M1800.5 834.9L1793.6 849.3M1800.9 835.2L1796.5 844.3M1801.4 835.4L1795.5 847.5M1801.8 835.6L1795.9 847.7M1802.3 835.8L1793.9 853.1M1802.8 836L1795.6 850.6M1803.7 836.5L1794.6 854.9M1804.1 836.7L1796.3 852.3M1805.5 837.4L1799.4 849.6M1839.9 857.8L1838.8 859.5M1840.8 858.4L1834.9 866.9M1842.4 859.6L1836.5 867.9M1842.8 859.9L1835 871M1843.3 860.2L1842.1 861.8M1844.9 861.4L1840.4 867.6M1847 862.9L1844.4 866.5M1847.8 863.5L1841.3 872.3M1829.2 850.8L1823.6 859.8M1829.7 851.1L1821.7 863.6M1830.1 851.4L1819 868.9M1830.5 851.6L1824.8 860.6M1831 851.9L1820.9 867.7M1831.4 852.2L1823.2 865M1831.8 852.5L1825.9 861.7M1833.5 853.6L1829.5 859.7M1834 853.8L1830.6 859M1834 853.8L1824.3 868.7M1834.8 854.4L1831.7 859.1M1835.2 854.7L1830 862.5M1835.7 855L1828 866.5M1836.5 855.5L1828.6 867.4M1836.9 855.8L1829.8 866.5M1837.4 856.1L1827.3 871M1837.8 856.4L1832.7 864M1838.2 856.7L1831.3 866.9M1838.6 857L1829.1 870.9M1839.1 857.3L1837.9 858.9M1839.5 857.5L1834.5 864.8M1840.3 858.1L1834.4 866.6M1840.7 858.4L1838.4 861.8M1841.2 858.7L1832.4 871.3M1841.6 859L1834.4 869.2M1843.2 860.2L1840.1 864.5M1844 860.7L1841.2 864.7M1844.5 861L1838.1 869.9M1844.9 861.3L1840.2 867.9M1845.3 861.6L1843.4 864.3M1845.7 861.9L1838.9 871.2M1846.1 862.2L1844.1 865M1846.5 862.5L1843 867.4M1846.9 862.8L1842.4 869M1847.4 863.2L1843 869.1M1847.8 863.5L1842.2 871M1849 864.4L1843.5 871.8M1849.4 864.7L1844.3 871.5M1889.6 901.1L1883.3 906.8M1889.9 901.5L1882.6 908.1M1890.3 901.9L1877.9 913.1M1890.6 902.2L1885.6 906.8M1891 902.6L1879 913.4M1891.3 903L1883.3 910.2M1892 903.8L1885.3 909.8M1892.3 904.1L1886.1 909.7M1893.3 905.3L1881.5 915.7M1893.7 905.7L1887.4 911.2M1894 906.1L1892.2 907.6M1894.3 906.4L1883.9 915.6M1895 907.2L1885.6 915.3M1895.4 907.6L1885.5 916.1M1895.7 908L1892.7 910.6M1880.2 891.4L1878.8 892.8M1881 892.1L1874.8 898.2M1881.3 892.4L1874.9 898.8M1881.7 892.8L1871.1 903.2M1882 893.2L1877.1 898.1M1882.4 893.5L1880.5 895.4M1883.1 894.3L1877.1 900.1M1883.5 894.6L1874.4 903.5M1884.2 895.4L1881.1 898.4M1884.5 895.7L1883.1 897.1M1884.9 896.1L1876 904.7M1896.2 908.6L1889.3 914.4M1896.5 908.9L1887.4 916.7M1883.6 894.8L1875.2 902.9M1883.9 895.1L1879.1 899.9M1884.7 895.9L1882.4 898M1885 896.2L1880.2 900.8M1885.4 896.6L1882.7 899.2M1885.7 897L1878.4 903.9M1886.1 897.3L1877.7 905.3M1902.5 916.2L1895.3 921.9M1902.8 916.6L1894.1 923.6M1903.1 917L1889.7 927.6M1904.1 918.2L1893.8 926.3M1904.4 918.6L1899 922.9M1904.7 919L1896.8 925.2M1905.3 919.8L1892.3 929.9M1905.7 920.3L1899.5 925M1906 920.7L1898.7 926.2M1906.6 921.5L1902.3 924.7M1907.8 923.1L1897.6 930.8M1908.1 923.5L1899.4 930M1908.4 923.9L1898.5 931.3M1908.7 924.3L1899.2 931.4M1908.9 924.6L1903.3 928.7M1909.2 925L1901.9 930.4M1910.1 926.2L1900.9 933M1910.4 926.6L1906.6 929.4M1911.3 927.9L1896.9 938.2M1911.6 928.3L1895.9 939.5M1911.9 928.7L1906.1 932.9M1912.2 929.1L1909 931.4M1912.5 929.5L1904.8 935M1910.5 926.7L1905.5 930.3M1911.1 927.5L1905.4 931.6M1911.4 928L1905.3 932.3M1911.7 928.4L1901.9 935.4M1912.3 929.2L1909.5 931.2M1912.6 929.6L1905.8 934.5M1913.2 930.5L1907.8 934.2M1913.5 930.9L1903.8 937.7M1913.8 931.3L1909.8 934M1914.1 931.7L1912.4 932.9M1924.8 948.3L1917.7 952.5M1925 948.7L1915.5 954.4M1926.1 950.5L1917 955.9M1926.3 950.9L1920.6 954.3M1927.1 952.3L1915.3 959.1M1927.4 952.7L1919.4 957.3M1928.9 955.4L1924 958.1M1927.9 953.6L1926.1 954.6M1928.1 954L1926.4 955M1928.4 954.4L1920.6 958.9M1928.6 954.9L1924.7 957.1M1929.1 955.8L1924.2 958.5M1929.4 956.2L1919.7 961.6M1929.9 957.1L1919.8 962.7M1930.1 957.6L1921.5 962.3M1930.6 958.5L1924 962.1M1930.8 958.9L1927.5 960.8M1931.1 959.4L1922 964.3M1932.1 961.2L1924.6 965.1M1932.5 962.1L1926.6 965.2M1932.8 962.5L1924.2 967.1M1933.3 963.4L1927.5 966.4M1934 964.8L1929.1 967.3M1934.2 965.2L1926.1 969.4M1928 953.9L1922.5 957M1928.5 954.8L1925.2 956.6M1928.8 955.2L1916.9 961.9M1929 955.6L1921.7 959.8M1929.3 956.1L1927.5 957.1M1929.8 957L1920.3 962.2M1930.5 958.3L1917.2 965.6M1931.3 959.7L1922.6 964.4M1931.5 960.1L1921.2 965.7M1932.2 961.5L1928.1 963.7M1932.7 962.4L1928 964.9M1932.9 962.8L1922.9 968.1M1942.1 982L1928.5 988M1942.4 982.5L1938.6 984.1M1942.6 983L1934.8 986.3M1942.8 983.5L1936.7 986.1M1943 983.9L1935.9 986.9M1943.2 984.4L1936 987.5M1943.4 984.9L1941.5 985.6M1943.6 985.3L1941.7 986.1M1943.8 985.8L1931.5 990.9M1944.1 986.8L1928 993.5M1944.3 987.2L1935.5 990.9M1944.5 987.7L1936.7 990.9M1944.9 988.6L1931.2 994.2M1945.1 989.1L1942.8 990M1945.3 989.6L1940.6 991.5M1945.5 990.1L1934.7 994.4M1940.6 978.5L1937.8 979.7M1941 979.4L1939.2 980.2M1941.2 979.9L1933.2 983.5M1941.6 980.8L1931.9 985.1M1941.8 981.3L1936.3 983.7M1942 981.8L1922.6 990.2M1942.6 983.2L1936.2 986M1943 984.1L1933.9 988M1943.2 984.6L1936.1 987.6M1945.8 990.7L1938 993.8M1945.9 991.2L1938.1 994.3M1946.1 991.7L1942.5 993.1M1946.7 993.1L1941.5 995.1M1946.9 993.6L1938 997M1947.2 994.5L1945.4 995.2M1947.4 995L1938 998.6M1947.6 995.5L1933.3 1000.9M1948.1 996.9L1939.4 1000.1M1948.5 997.9L1941.2 1000.6M1948.7 998.4L1939.7 1001.6M1948.8 998.8L1938.7 1002.5M1949 999.3L1946.4 1000.3M1949.2 999.8L1945.2 1001.2M1949.5 1000.8L1942.5 1003.2M1949.7 1001.2L1941.9 1004M1949.9 1001.7L1942.7 1004.2M1956.7 1024L1948.8 1026.1M1956.9 1024.5L1946.5 1027.2M1957 1025L1948.2 1027.3M1957.1 1025.5L1949.3 1027.5M1957.4 1026.5L1936.8 1031.7M1957.5 1027L1942.8 1030.7M1957.8 1028L1937.1 1033.1M1958 1028.9L1944.3 1032.3M1958.1 1029.4L1943.7 1033M1958.2 1029.9L1949.9 1032M1958.6 1031.4L1945.5 1034.5M1958.7 1031.9L1940.2 1036.3M1958.8 1032.4L1941 1036.6M1959.1 1033.4L1946.9 1036.2M1959.2 1033.9L1939.8 1038.3M1959.3 1034.4L1940.8 1038.6M1959.4 1034.9L1949.3 1037.2M1959.5 1035.4L1955.1 1036.4M1958.8 1032.1L1945.6 1035.2M1958.9 1032.6L1940 1037M1959.1 1033.6L1948.8 1035.9M1959.2 1034.1L1937.3 1039M1959.3 1034.6L1937.4 1039.5M1959.4 1035.1L1941.4 1039.1M1959.5 1035.6L1937.6 1040.4M1959.7 1036.1L1941.2 1040.1M1959.8 1036.6L1946.1 1039.5M1959.9 1037.1L1937.9 1041.8M1960 1037.6L1944.9 1040.8M1960.1 1038.1L1938.5 1042.7M1960.2 1038.6L1943.2 1042.1M1962.7 1051.9L1946.1 1054.6M1962.9 1052.9L1948.4 1055.2M1962.9 1053.4L1956.7 1054.4M1963 1053.9L1950.7 1055.8M1963.1 1054.4L1954.5 1055.7M1963.2 1055.4L1948.4 1057.7M1963.3 1055.9L1955.9 1057M1963.5 1057.5L1954.5 1058.8M1963.7 1058.5L1958 1059.3M1963.8 1059L1945 1061.6M1963.9 1060L1951.5 1061.7M1964.5 1065.1L1958.7 1065.7M1961.8 1046.6L1958.8 1047.2M1962.1 1048.2L1958 1048.9M1962.1 1048.7L1953.3 1050.2M1962.2 1049.2L1960.3 1049.5M1962.3 1049.7L1956.7 1050.6M1962.5 1050.7L1948.6 1053M1963.1 1054.2L1956.5 1055.2M1963.2 1055.2L1950.6 1057.1M1966.1 1082.8L1952 1083.6M1966.1 1083.8L1951.4 1084.6M1966.1 1084.3L1958 1084.7M1966.2 1084.8L1950.7 1085.6M1966.2 1085.3L1943.7 1086.4M1966.2 1085.9L1944.7 1086.8M1966.2 1086.4L1948.7 1087.1M1966.2 1086.9L1953.6 1087.4M1966.3 1087.4L1947.2 1088.1M1966.3 1087.9L1949.4 1088.5M1966.3 1088.4L1950 1089M1966.3 1089.4L1955.7 1089.8M1966.4 1091L1955.3 1091.3M1966.4 1092L1946.4 1092.5M1966.4 1093L1950.7 1093.3M1966.4 1093.5L1945.4 1093.9M1966.5 1094L1944.1 1094.4M1966.3 1087.5L1948.2 1088.2M1966.3 1088.5L1954.5 1089M1966.3 1089.1L1955.9 1089.4M1966.3 1089.6L1944.2 1090.3M1966.4 1090.6L1949.5 1091.1M1966.4 1091.1L1952.2 1091.5M1966.4 1091.6L1950.1 1092M1966.4 1092.1L1948.8 1092.5M1966.4 1092.6L1951.2 1093M1966.4 1093.1L1949 1093.5M1966.5 1094.2L1954 1094.4M1966.5 1095.2L1950.4 1095.4M1966.3 1110.8L1956 1110.4M1966.2 1111.3L1953.3 1110.8M1966.2 1111.8L1951.7 1111.2M1966.2 1112.3L1950.2 1111.6M1966.2 1112.8L1954.1 1112.3M1966.1 1114.4L1948.3 1113.4M1966.1 1114.9L1954.5 1114.2M1966 1115.4L1948 1114.4M1966 1115.9L1961 1115.6M1966 1116.4L1956.6 1115.8M1966 1116.9L1954.5 1116.2M1965.9 1117.4L1950 1116.4M1965.9 1117.9L1960 1117.6M1965.9 1118.4L1953.2 1117.6M1965.8 1119L1958.9 1118.5M1965.8 1119.5L1962.3 1119.2M1966.3 1110.8L1964.3 1110.7M1966.2 1111.3L1957.9 1110.9M1966.2 1112.3L1961 1112.1M1966.2 1112.8L1962.5 1112.7M1966.1 1113.9L1960.6 1113.6M1966.1 1114.4L1960.5 1114.1M1966 1115.4L1958 1114.9M1966 1115.9L1956.6 1115.4M1966 1116.4L1964 1116.3M1966 1116.9L1955.8 1116.3M1965.9 1118.4L1961.5 1118.2M1962.5 1147.2L1941.2 1143.7M1962.4 1147.7L1951 1145.8M1962 1150.2L1945.9 1147.4M1961.9 1150.7L1941.2 1147M1961.7 1151.8L1946.9 1149M1961.6 1152.3L1945.2 1149.2M1959.9 1160.8L1945.9 1157.8M1959.8 1161.3L1951.5 1159.5M1959.7 1161.8L1947 1159M1959.6 1162.3L1945.3 1159.2M1959.5 1162.8L1948.1 1160.3M1959.4 1163.3L1942.3 1159.5M1959.2 1163.8L1951.1 1162M1962.4 1147.6L1949.9 1145.5M1962.2 1149.2L1957.8 1148.4M1962.1 1149.7L1957.8 1148.9M1962 1150.2L1956.4 1149.2M1961.9 1150.7L1959.2 1150.2M1961.8 1151.2L1951 1149.2M1961.7 1151.7L1953.9 1150.2M1961.6 1152.2L1954.4 1150.8M1951.5 1191.5L1937.3 1186.8M1950.9 1193.4L1929.6 1186.2M1950.5 1194.4L1944.7 1192.4M1951.9 1190.3L1946.4 1188.5M1951.8 1190.8L1946.9 1189.2M1951.4 1191.7L1940.6 1188.1M1951.3 1192.2L1942.4 1189.2M1950.9 1193.2L1947.5 1192M1950.8 1193.7L1939.5 1189.8M1950.5 1194.6L1938.5 1190.5M1950.3 1195.1L1932.8 1189.1M1950.1 1195.6L1946.7 1194.4M1931.1 1238.6L1919.6 1232.4M1930.9 1239.1L1913.9 1229.8M1930.6 1239.5L1923.5 1235.6M1930.4 1240L1917.3 1232.8M1929.6 1241.3L1919 1235.4M1929.4 1241.7L1918.7 1235.8M1929.1 1242.2L1920.6 1237.4M1928.9 1242.6L1920 1237.7M1928.6 1243.1L1916.2 1236.1M1928.4 1243.5L1920.9 1239.3M1930.9 1239L1925 1235.8M1930.7 1239.4L1914.8 1230.7M1930.4 1239.9L1926 1237.5M1930.2 1240.3L1918.7 1234M1929.9 1240.7L1919.4 1234.9M1929.7 1241.2L1927.9 1240.2M1929.4 1241.6L1919 1235.8M1929.2 1242.1L1920.7 1237.4M1928.9 1242.5L1915.8 1235.1M1928.7 1243L1923.5 1240M1928.4 1243.4L1919 1238.1M1928.2 1243.9L1918.6 1238.4M1927.9 1244.3L1918.2 1238.8M1927.7 1244.8L1913 1236.3M1927.4 1245.2L1912.5 1236.6M1915.2 1264.6L1906.8 1258.8M1914.7 1265.4L1904 1258.1M1919.5 1258.1L1903.9 1248M1919 1259L1906.2 1250.6M1918.4 1259.8L1901.3 1248.6M1917.9 1260.7L1900.9 1249.5M1905.7 1277.7L1893.3 1268.2M1905.4 1278.1L1893.5 1269M1905 1278.5L1893.6 1269.7M1904.7 1278.9L1895.8 1272M1904.1 1279.8L1898.1 1275M1903.8 1280.2L1896.9 1274.8M1903.5 1280.6L1890.4 1270.3M1901.9 1282.6L1894.9 1277M1901.6 1283L1890.1 1273.7M1900.6 1284.1L1890.8 1276.1M1899.9 1284.9L1883.6 1271.5M1891.6 1294.6L1887.2 1290.6M1891.3 1295L1887.9 1291.9M1890.9 1295.4L1886.5 1291.4M1890.3 1296.1L1878.9 1285.8M1889.9 1296.5L1881.1 1288.5M1889.6 1296.9L1878.9 1287.1M1889.2 1297.3L1881.7 1290.3M1888.9 1297.7L1883.9 1293.1M1887.8 1298.8L1881 1292.4M1886.8 1299.9L1874.8 1288.6M1886.4 1300.3L1880.7 1294.8M1886.1 1300.6L1877 1292M1885.7 1301L1883.2 1298.6M1885.4 1301.4L1880.8 1297M1884.7 1302.1L1881.1 1298.7M1884.3 1302.5L1879.2 1297.5M1884 1302.9L1873.3 1292.5M1883.6 1303.2L1879.3 1299.1M1886.4 1300.3L1881.8 1296M1886 1300.7L1878.3 1293.3M1885.3 1301.4L1877.4 1293.8M1885 1301.8L1881.3 1298.3M1884.6 1302.2L1882.4 1300M1884.3 1302.5L1877.7 1296.2M1883.9 1302.9L1881.8 1300.9M1883.6 1303.3L1874.9 1294.9M1882.5 1304.4L1881.1 1303M1880.7 1306.2L1873.4 1298.9M1880.3 1306.5L1876.5 1302.7M1874.1 1312.6L1866.7 1304.7M1873.7 1312.9L1868.4 1307.3M1873 1313.6L1864.2 1304.2M1872.6 1314L1867 1308M1872.2 1314.3L1864.3 1305.7M1871.5 1315L1863.9 1306.7M1870.7 1315.7L1864.4 1308.7M1870.3 1316L1865.9 1311.2M1870 1316.4L1857.4 1302.5M1855.9 1328.3L1846.3 1316.3M1855.5 1328.6L1843.8 1313.9M1854.3 1329.6L1846.1 1319.1M1853.5 1330.2L1842.4 1316M1852.7 1330.8L1843.4 1318.8M1851.8 1331.5L1840.1 1316.2M1851.4 1331.8L1841.2 1318.4M1851 1332.1L1841.4 1319.5M1850.6 1332.4L1840.3 1318.7M1850.2 1332.7L1836.6 1314.8M1849 1333.6L1839 1320.3M1848.6 1333.9L1841.4 1324.3M1834.3 1343.9L1828.9 1335.6M1833.5 1344.5L1828.3 1336.5M1833 1344.8L1828.1 1337.2M1829.8 1346.8L1824.4 1338.3M1827.6 1348.2L1825.5 1344.8M1826.7 1348.7L1817.1 1333.1M1825.4 1349.5L1818.7 1338.4M1825 1349.8L1819.4 1340.6M1824.1 1350.3L1820.5 1344.3M1823.2 1350.9L1819.7 1345M1822.8 1351.1L1817.3 1341.9M1836.9 1342.2L1831 1333.4M1835.2 1343.3L1833.1 1340.2M1834.8 1343.6L1833.7 1342M1833.5 1344.5L1831.8 1341.9M1832.2 1345.3L1827.3 1337.7M1812.1 1357.1L1805.4 1344.6M1811.7 1357.4L1807.6 1349.8M1811.2 1357.6L1801.3 1339M1810.8 1357.8L1806.1 1349.1M1810.3 1358.1L1800.1 1338.7M1809.4 1358.6L1802 1344.3M1809 1358.8L1799.5 1340.7M1808.5 1359L1799.2 1341.1M1808.1 1359.3L1803.3 1350M1807.6 1359.5L1801.6 1347.9M1807.2 1359.7L1796.9 1339.7M1806.7 1360L1799.9 1346.6M1806.3 1360.2L1799 1345.9M1780.7 1371.7L1777.1 1362.6M1779.7 1372.1L1774.4 1358.3M1779.3 1372.2L1778.5 1370.4M1778.8 1372.4L1774.4 1361M1741.9 1383.9L1740.3 1376.8M1741.5 1384L1737.1 1366M1741 1384.1L1740.1 1380.4M1740.5 1384.2L1738.2 1374.5M1739.5 1384.5L1737.3 1375.3M1735.5 1385.4L1732.5 1371.6M1726.9 1387.1L1723.5 1368.7M1726.4 1387.2L1723 1368.7M1725.9 1387.3L1721.8 1365.1M1725.4 1387.4L1722.3 1370.3M1723.8 1387.6L1721.4 1373.7M1723.3 1387.7L1720.8 1373.2M1722.8 1387.8L1719.9 1370.6M1722.3 1387.9L1720 1374.2M1721.8 1388L1720.1 1377.7M1721.3 1388.1L1719.6 1377.6M1720.3 1388.2L1718.4 1376.6M1719.8 1388.3L1718 1376.8M1719.3 1388.4L1716.5 1370.7M1718.3 1388.6L1717.2 1381.3M1717.8 1388.6L1716.5 1380.1M1717.3 1388.7L1714.8 1372M1716.8 1388.8L1714.6 1374.1M1716.3 1388.9L1714.3 1375.3M1714.8 1389.1L1712.4 1372.8M1724 1387.6L1721.4 1372.6M1723.5 1387.7L1721 1373.3M1723 1387.8L1720.3 1371.6M1722.5 1387.9L1721.3 1380.9M1721.5 1388L1719.5 1375.9M1721 1388.1L1719.1 1376.6M1720.5 1388.2L1718.7 1377.1M1720 1388.3L1717.8 1374.5M1718.5 1388.5L1716.3 1374.6M1718 1388.6L1716.3 1377.7M1717.5 1388.7L1716.2 1380.3M1717 1388.8L1714.7 1373.9M1699.4 1390.9L1698.5 1380.7M1698.9 1390.9L1698.7 1388.9M1698.4 1390.9L1697.9 1385.5M1697.4 1391L1696.5 1380.6M1696.4 1391.1L1695.8 1383.5M1695.9 1391.1L1694.9 1379.1M1694.8 1391.2L1693.9 1379M1694.3 1391.3L1693.4 1377.6M1693.8 1391.3L1693.1 1380.4M1693.3 1391.3L1692.7 1382.5M1704.1 1390.4L1703.6 1386M1703.6 1390.5L1702.7 1381.6M1702.1 1390.6L1701.1 1381.3M1701.6 1390.7L1701.2 1387.5M1701 1390.7L1699.8 1377.3M1700 1390.8L1698.9 1378.7M1698.5 1390.9L1698.3 1388.9M1697 1391.1L1696.6 1386.5M1692.3 1391.4L1691.6 1379.9M1691.3 1391.5L1690.2 1373.7M1690.8 1391.5L1690.3 1383.7M1689.8 1391.5L1688.8 1373.6M1689.2 1391.6L1688.3 1374.5M1679.9 1391.9L1679.7 1382.6M1676.9 1392L1676.8 1390M1676.3 1392L1676.3 1385.6M1675.3 1392L1675.3 1381.2M1673.8 1392L1673.8 1382M1672.8 1392L1672.8 1383.1M1672.3 1392L1672.3 1389.1M1671.7 1392L1671.8 1383.6M1667.6 1391.9L1667.9 1378.9M1667.1 1391.9L1667.2 1387.7M1658.6 1391.6L1659.5 1375.2M1658.1 1391.6L1658.6 1382.6M1657.6 1391.6L1658.2 1381.8M1656.1 1391.5L1656.3 1388.7M1655.6 1391.5L1656.3 1379.5M1651.2 1391.2L1651.9 1381.9M1650.2 1391.1L1651 1381.8M1649.2 1391L1650.6 1374.5M1648.2 1390.9L1648.7 1384.5M1647.7 1390.9L1647.9 1388.7M1645.1 1390.6L1646 1381.1M1626.2 1388.2L1628.2 1376M1625.7 1388.1L1628.4 1371.5M1625.2 1388L1626.7 1379.1M1624.7 1387.9L1626.8 1375.2M1624.2 1387.8L1627 1370.9M1608.5 1384.7L1609.1 1381.8M1608 1384.6L1609.4 1378.4M1607 1384.4L1609 1375.6M1606.5 1384.2L1610.2 1368.7M1606 1384.1L1607.6 1377.3M1605.5 1384L1607.5 1375.5M1605 1383.9L1607 1375.7M1603.5 1383.5L1604.3 1380.3M1603 1383.4L1604.1 1379.2M1594.5 1381.2L1598.2 1368.1M1593.5 1380.9L1597.8 1365.9M1593 1380.7L1598.4 1362M1592.5 1380.6L1594.5 1373.7M1592 1380.5L1595.1 1369.9M1591.1 1380.2L1593.7 1371.1M1590.6 1380L1593 1371.7M1590.1 1379.9L1594.8 1363.9M1589.1 1379.6L1591.3 1372.3M1588.6 1379.4L1590.9 1371.7M1587.6 1379.1L1593 1361.7M1587.1 1379L1592.4 1362M1586.2 1378.7L1590.4 1365.1M1585.2 1378.4L1588 1369.4M1575.4 1375.1L1579.9 1362.3M1574.9 1374.9L1580 1360.6M1574.4 1374.7L1581.8 1354.1M1573.9 1374.6L1576.6 1367M1573.4 1374.4L1577.1 1364.3M1572.5 1374L1576.5 1363.2M1572 1373.9L1578.6 1356.1M1571.5 1373.7L1576.6 1360M1571 1373.5L1576.8 1358.1M1570.6 1373.3L1575.8 1359.3M1553.4 1366.3L1555 1362.8M1553 1366.1L1555.2 1361.1M1551.6 1365.4L1552.4 1363.6M1548.3 1363.9L1551.5 1357.2M1558 1368.3L1560.7 1362.2M1557.6 1368.1L1558.4 1366.3M1557.1 1367.9L1565 1349.7M1556.6 1367.7L1563 1353.1M1556.2 1367.5L1561.3 1355.9M1555.7 1367.3L1562.1 1352.7M1555.2 1367.1L1558 1360.8M1554.3 1366.7L1561.5 1350.5M1553.4 1366.2L1554.7 1363.4M1552.9 1366L1554.9 1361.6M1534.9 1357.1L1541.4 1344.9M1533.5 1356.4L1542.3 1340.3M1531.3 1355.2L1539.6 1340.2M1519.9 1348.5L1528.4 1334.6M1519 1347.9L1526.8 1335.3M1518.6 1347.7L1525.8 1336M1518.1 1347.4L1528.7 1330.5M1517.7 1347.1L1527.4 1331.7M1517.3 1346.9L1527.1 1331.2M1516.8 1346.6L1527.6 1329.6M1516.4 1346.3L1523.1 1335.7M1516 1346L1521.7 1337M1507.7 1340.6L1516.7 1327.4M1506.9 1340L1514.9 1328.4M1506 1339.4L1512.9 1329.6M1505.6 1339.1L1509 1334.3M1504.3 1338.2L1509.1 1331.6M1503.9 1337.9L1509.6 1330M1503.5 1337.6L1509 1329.9M1503.1 1337.4L1510.3 1327.3M1493.9 1330.5L1501 1321.3M1493.5 1330.2L1500.2 1321.5M1493.1 1329.9L1499.5 1321.7M1492.7 1329.6L1499.3 1321.1M1491.9 1328.9L1493.1 1327.4M1491.5 1328.6L1501.5 1315.9M1491.1 1328.3L1500.6 1316.4M1490.3 1327.6L1495.9 1320.6M1489.9 1327.3L1492.8 1323.7M1489.5 1327L1495 1320.2M1489.1 1326.7L1492.9 1322M1488.3 1326L1497.8 1314.3M1487.9 1325.7L1496.9 1314.7M1476.4 1315.8L1481.8 1309.9M1476.1 1315.5L1480.5 1310.6M1475.7 1315.1L1477 1313.7M1475.3 1314.8L1478.9 1310.9M1467.7 1307.6L1479.1 1296.1M1467.4 1307.2L1470.2 1304.4M1467 1306.9L1478.8 1295M1466.7 1306.5L1478.1 1295.1M1456.3 1295.6L1464.6 1288.1M1455.6 1294.9L1462.6 1288.6M1449.1 1287.4L1457.8 1280.1M1448.8 1287L1457.4 1279.9M1447.5 1285.5L1455.9 1278.5M1445.9 1283.5L1460.7 1271.5M1445.2 1282.7L1462.8 1268.6M1444.9 1282.3L1447.7 1280.1M1444.6 1281.9L1460.3 1269.3M1444 1281.1L1458.3 1269.8M1443.3 1280.3L1461 1266.4M1438.4 1273.9L1445.8 1268.4M1437.8 1273.1L1447.1 1266.2M1437.5 1272.7L1449.9 1263.6M1437.2 1272.2L1445.6 1266.1M1436.9 1271.8L1441.7 1268.3M1436.6 1271.4L1445.4 1265.1M1436 1270.6L1439.1 1268.4M1435.7 1270.2L1439.5 1267.5M1435.4 1269.8L1440.8 1265.9M1435.1 1269.3L1436.7 1268.2M1434.5 1268.5L1438.3 1265.8M1433.9 1267.7L1439.1 1264M1433.6 1267.3L1439.3 1263.3M1433.3 1266.8L1442.9 1260.1M1420.4 1246.6L1422.4 1245.4M1420.1 1246.1L1428.2 1241.5M1419.9 1245.7L1422.9 1244M1419.6 1245.3L1422.9 1243.4M1419.1 1244.4L1422.3 1242.5M1418.9 1243.9L1424.6 1240.6M1417.8 1242.1L1424.2 1238.6M1417.6 1241.7L1423.2 1238.6M1417.3 1241.3L1420.2 1239.7M1416.4 1239.5L1426.7 1233.8M1412.2 1231.6L1421.5 1226.9M1411.8 1230.7L1416.1 1228.6M1411.5 1230.3L1421.5 1225.2M1411.3 1229.8L1419.5 1225.7M1411.1 1229.3L1419.8 1225M1410.9 1228.9L1422 1223.4M1410.6 1228.4L1420.8 1223.4M1410.4 1228L1414.8 1225.8M1409.7 1226.6L1414.6 1224.2M1409.5 1226.1L1419.4 1221.4M1409.1 1225.2L1423.5 1218.3M1400.1 1204.4L1407.9 1201.4M1399.4 1202.5L1405.1 1200.4M1399.2 1202L1401.6 1201.1M1398.9 1201.1L1404.6 1198.9M1398.7 1200.6L1413.5 1195.1M1398.3 1199.6L1401.6 1198.4M1398.1 1199.1L1402.4 1197.6M1398 1198.7L1409.2 1194.6M1395.1 1190.4L1411.7 1185M1395 1190L1408.8 1185.5M1394.7 1189L1407.8 1184.7M1394.5 1188.5L1409.9 1183.5M1394.3 1188L1409.6 1183.1M1394.2 1187.5L1407.1 1183.4M1394 1187L1413.7 1180.8M1393.9 1186.5L1407.8 1182.2M1393.7 1186.1L1408.1 1181.6M1393.6 1185.6L1415.1 1178.9M1393.4 1185.1L1399.4 1183.3M1393 1183.6L1407.5 1179.2M1391 1176.6L1402 1173.5M1390.8 1176.1L1399.5 1173.7M1390.6 1175.1L1401.4 1172.2M1390.3 1174.1L1408.1 1169.4M1389.8 1172.1L1395.7 1170.6M1389.6 1171.6L1402 1168.5M1389.3 1170.2L1403.9 1166.5M1387.6 1162.9L1397 1160.8M1387.3 1161.9L1402 1158.7M1387.2 1161.4L1401.2 1158.4M1387 1160.4L1396.1 1158.5M1386.8 1159.4L1395.5 1157.6M1386.7 1158.9L1399.5 1156.2M1386.6 1158.4L1396.6 1156.3M1386.5 1157.9L1396.9 1155.8M1386.4 1157.4L1397 1155.2M1384.9 1149.4L1395.9 1147.5M1384.5 1147.4L1391.4 1146.3M1384.4 1146.4L1399.7 1143.9M1383.9 1143.4L1395.7 1141.5M1382.9 1136.2L1394.3 1134.7M1382.6 1134.1L1392.5 1132.9M1382.4 1132.6L1397.5 1130.9M1382.4 1132.1L1402.7 1129.8M1382.3 1131.6L1393.5 1130.3M1381.5 1123.2L1388.8 1122.6M1381.4 1121.6L1394.8 1120.6M1381.3 1120.6L1390.3 1119.9M1381.3 1120.1L1397.2 1119M1381.2 1119.6L1389.2 1119M1381.2 1119.1L1388.9 1118.6M1381.2 1118.6L1396.9 1117.5M1380.7 1110.4L1395.9 1109.8M1380.7 1109.9L1394.7 1109.4M1380.7 1108.9L1398.1 1108.3M1380.7 1108.4L1388.9 1108.1M1380.6 1107.9L1389.9 1107.6M1380.6 1106.9L1402.4 1106.3M1380.6 1106.4L1400.8 1105.8M1380.6 1105.8L1392.4 1105.6M1380.6 1105.3L1396.6 1105M1380.5 1097.5L1392.2 1097.6M1380.5 1096.5L1396.6 1096.6M1380.5 1096L1398.8 1096.2M1380.5 1094.9L1398.9 1095.2M1380.5 1093.9L1394.9 1094.2M1380.6 1093.4L1396.2 1093.7M1380.8 1085.9L1394.1 1086.5M1380.8 1085.4L1390.6 1085.8M1380.9 1083.3L1395.2 1084.1M1380.9 1082.8L1393.6 1083.5M1381 1082.3L1389.7 1082.8M1381 1081.8L1396.2 1082.7M1382.8 1062.4L1388.5 1063.1M1382.9 1061.9L1395.1 1063.4M1383.1 1060.4L1391.9 1061.5M1383.1 1059.8L1398.7 1061.9M1383.2 1059.3L1385.2 1059.6M1383.3 1058.3L1391.9 1059.5M1384.5 1051L1387.8 1051.5M1384.5 1050.5L1393.1 1051.9M1384.6 1050L1391.7 1051.2M1384.7 1049.5L1390.7 1050.5M1384.9 1048.5L1387.7 1049M1385 1048L1393.3 1049.4M1385.2 1046.9L1395.5 1048.8M1386.5 1039.8L1403.9 1043.4M1386.7 1038.8L1408.8 1043.4M1387.1 1037.3L1405 1041.2M1389 1028.9L1398.3 1031.2M1389.1 1028.4L1402.4 1031.7M1389.6 1026.5L1394.2 1027.6M1389.9 1025.5L1403.6 1029M1391.8 1018.3L1395.4 1019.3M1392.1 1017.3L1406.3 1021.4M1392.3 1016.8L1404 1020.3M1392.4 1016.3L1394.3 1016.9M1392.5 1015.9L1404.9 1019.5M1392.7 1015.4L1408.4 1020M1395.2 1007.5L1412.7 1013.2M1395.3 1007L1408.1 1011.2M1395.5 1006.5L1411.1 1011.7M1395.6 1006L1416 1012.8M1396 1005.1L1417.3 1012.3M1398.5 997.9L1414.9 1003.9M1398.7 997.4L1408.6 1001.1M1399 996.5L1416.2 1002.9M1399.4 995.5L1405.9 998M1402.3 988.1L1414.5 993.1M1402.5 987.7L1412 991.6M1402.9 986.7L1416 992.2M1403.5 985.3L1416.6 990.9M1406.4 978.7L1424.6 986.9M1406.6 978.2L1423.5 985.8M1406.8 977.7L1419.8 983.6M1407 977.3L1418.7 982.6M1407.4 976.3L1409.7 977.4M1410.7 969.5L1430.6 979.3M1410.9 969L1423.6 975.3M1411.1 968.6L1426.8 976.3M1411.6 967.6L1426.2 975M1420 952L1431.8 958.8M1420.3 951.5L1431.2 957.9M1430.5 935.3L1437.8 940.2M1430.8 934.8L1438.8 940.3M1431.4 934L1436.1 937.2M1436.2 927.2L1439 929.2M1446.8 913.4L1456.7 921.5M1447.1 913L1454.5 919M1447.5 912.6L1456.1 919.7M1447.8 912.2L1459.7 922M1452.8 906.3L1454.3 907.6M1453.1 905.9L1458.2 910.4M1453.4 905.5L1461.5 912.6M1453.8 905.2L1461.1 911.6M1459.3 899.1L1473.4 912.3M1459.6 898.7L1464 902.8M1466.1 892.1L1475.3 901.3M1471.9 886.4L1480.3 895.2M1472.3 886L1483.1 897.4M1479.1 879.8L1485.1 886.5M1479.5 879.4L1482.7 883.1M1479.9 879.1L1482.7 882.3M1486.9 873.1L1497.3 885.7M1493.7 867.7L1500.6 876.6M1501.5 861.8L1507.6 870.3M1508.2 857.1L1511.1 861.4M1508.6 856.8L1518.3 871.1M1509 856.5L1513.9 863.7M1516.3 851.7L1519 856M1523.3 847.4L1529 857M1523.7 847.2L1529.2 856.4M1524.2 846.9L1526.2 850.3M1531.3 842.8L1538.7 856.3M1531.7 842.6L1537.7 853.4M1532.2 842.3L1533.1 844.1M1532.6 842.1L1541.8 858.8M1548.1 834.2L1552.7 843.9M1548.6 834L1555 847.6M1556.5 830.4L1563.1 845.4M1557.5 830L1562.1 840.7M1573.2 823.7L1580 842.4M1573.6 823.5L1581 843.9M1591.2 817.8L1596.5 835.9M1599.6 815.5L1601.9 824.5M1600.1 815.4L1600.9 818.4M1600.6 815.2L1604.6 831.1M1601.1 815.1L1603.2 823.4M1608.5 813.3L1611.7 827.1M1617.6 811.4L1620.3 825.3M1618.1 811.3L1620.3 823M1618.6 811.2L1620.9 823.4M1619.1 811.1L1622.6 829.8M1626.6 809.8L1628.8 823.4M1627.6 809.6L1630.7 828.7M1628.1 809.5L1629.2 816.4M1636.8 808.3L1638.1 818.9M1637.3 808.2L1638.1 814.9M1655.1 806.6L1656.2 824.3M1657.2 806.5L1657.8 817.8M1657.7 806.4L1658.3 818.2M1658.7 806.4L1659.6 824M1659.2 806.3L1659.9 820" stroke="#d7202e" stroke-width="0.7" fill="none"/>
<path d="M1768.2 882.2L1773.9 869.3M1772.9 884.3L1776.7 876M1768.5 882.3L1773.1 871.8M1765.6 881.1L1768.9 873.3M1820.5 913.6L1829.7 902M1802.3 900.5L1805.7 895.3M1860.3 953.8L1856.3 956.8M1866.3 961.9L1874.5 956M1859.4 952.6L1853.4 957.4M1882.2 987.6L1885.2 986M1908.2 1069.2L1921.6 1067.5M1897 1176.8L1908.8 1180.9M1900.7 1165L1908.2 1167.2M1899.6 1168.7L1896.7 1167.8M1885.5 1204.1L1882.8 1202.8M1883.7 1207.6L1896.8 1214.4M1884 1207L1887.2 1208.7M1883.2 1208.5L1881.7 1207.7M1885.7 1203.7L1899.1 1210.3M1882.5 1209.9L1885.5 1211.5M1880.3 1213.9L1890 1219.3M1846.6 1260.3L1855.8 1268.9M1840.2 1266.9L1851.7 1278.4M1844.1 1263L1847.9 1266.7M1842.4 1264.6L1851.3 1273.3M1843.9 1263.2L1837.9 1257.4M1841.1 1266L1838.1 1263M1846.5 1260.4L1841.9 1256.1M1834.5 1272.4L1842.9 1281.4M1813.1 1290L1817.1 1295.3M1813.3 1289.9L1823.4 1303.7M1817.4 1286.8L1814.4 1282.9M1802.5 1297.3L1810.9 1310.2M1797.1 1300.7L1800 1305.3M1801.2 1298.2L1805.5 1304.9M1794.4 1302.4L1791.7 1298M1805.5 1295.4L1813.6 1307.6M1783.8 1308.3L1786.3 1313.1M1785 1307.7L1788.5 1314.2M1786.9 1306.6L1793.6 1318.8M1785.1 1307.6L1792.8 1321.8M1760.6 1319L1763.9 1327.2M1676.2 1335.6L1676.4 1351.7M1671.2 1335.6L1671.1 1345.4M1678 1335.6L1677.9 1333.7M1651 1334.5L1649.5 1350.2M1652.2 1334.6L1651.3 1344.1M1650.6 1334.5L1650.1 1339.1M1653.4 1334.7L1652.7 1343.5M1659.3 1335.2L1659.1 1338.5M1658.7 1335.1L1658.1 1345M1615.5 1328.4L1613.5 1336.6M1623.6 1330.3L1620.1 1346.6M1606 1325.8L1608 1318.9M1601.6 1324.4L1598 1335.7M1604.6 1325.3L1600.7 1337.9M1604.9 1325.4L1602.3 1333.8M1608.2 1326.4L1605.7 1335.1M1605.6 1325.7L1604.4 1330M1605.9 1325.7L1607.5 1320.3M1587.6 1319.4L1585.1 1325.7M1588.2 1319.7L1589.9 1315.1M1589.1 1320L1584.5 1332M1587.1 1319.3L1583.2 1329.2M1589.3 1320.1L1585 1331.5M1592.1 1321.2L1589 1329.7M1572.5 1312.9L1564.8 1329.1M1577.4 1315.2L1570.5 1330.7M1577.2 1315.1L1580.4 1308M1549.7 1300.6L1544.2 1309.7M1546.5 1298.6L1543.9 1302.8M1551.6 1301.8L1546.1 1311M1546.7 1298.7L1543.9 1303.1M1549.8 1300.7L1542 1313.3M1549.9 1300.7L1545.6 1307.8M1536.5 1291.9L1533.3 1296.4M1540.1 1294.4L1542.9 1290.3M1540 1294.4L1537.9 1297.5M1534.6 1290.5L1532.3 1293.7M1539.7 1294.1L1536.1 1299.4M1534.2 1290.2L1529.4 1296.8M1535.9 1291.5L1533.1 1295.4M1524.3 1282.6L1521 1286.7M1524.4 1282.7L1518.2 1290.4M1528.3 1285.8L1522.5 1293.1M1501.7 1261.7L1504.8 1258.7M1497.3 1256.9L1493.9 1259.9M1498.4 1258.1L1496 1260.4M1496.9 1256.4L1490.6 1262M1498.7 1258.5L1489.2 1267.2M1490.3 1248.8L1487.4 1251.1M1487.9 1245.8L1474 1256.8M1488.2 1246.1L1484.6 1249M1492.4 1251.3L1498.6 1246M1489.2 1247.4L1483.7 1251.7M1492 1250.8L1483.7 1257.7M1482.5 1238.6L1477.4 1242.3M1479.7 1234.8L1473.8 1238.9M1482.6 1238.8L1470.1 1247.9M1455.3 1190.4L1447.2 1193.8M1455.2 1190.1L1450.7 1192M1455.9 1191.9L1458.9 1190.6M1456.5 1193.3L1451.5 1195.5M1457.1 1194.7L1450 1197.9M1456.7 1193.7L1441.4 1200.3M1451.9 1181.8L1444.5 1184.5M1452.6 1183.8L1448.2 1185.5M1450.7 1178.7L1444.7 1180.9M1452.3 1183.1L1458.4 1180.8M1451 1179.5L1446.4 1181.2M1452 1182.2L1460.4 1179.1M1452.4 1183.3L1447.7 1185.1M1445.2 1161.1L1451.4 1159.4M1445 1160.5L1438.6 1162.2M1445.1 1160.9L1453.6 1158.6M1444.3 1157.5L1440.3 1158.5M1444.8 1159.5L1438.5 1161.2M1437.7 1118.1L1424 1119.3M1437 1106.9L1422.8 1107.3M1437 1107.4L1430.6 1107.6M1442.1 1049.9L1438.5 1049.1M1442.1 1049.8L1445.8 1050.6M1442.4 1048.3L1444.1 1048.7M1442.1 1049.8L1424.6 1046.1M1442.4 1048.3L1445.2 1048.9M1446.6 1031.9L1434.4 1028.4M1446.4 1032.5L1450.9 1033.8M1446.8 1031.1L1438.8 1028.7M1446.7 1031.5L1431.7 1027M1448.8 1024.9L1437.8 1021.3M1448.7 1025.3L1456.9 1028M1448.9 1024.6L1445.3 1023.4M1449.2 1023.7L1438.2 1020M1448.6 1025.5L1452.4 1026.7M1449.2 1023.7L1442.5 1021.5M1448.8 1025L1434.8 1020.4M1454.9 1008.5L1457.3 1009.5M1455.4 1007.3L1439.1 1000.5M1457.9 1001.5L1461.4 1003.1M1458.5 1000.3L1460.6 1001.3M1457.9 1001.5L1444.3 995.3M1458.6 999.9L1449.9 995.9M1458.4 1000.4L1448.7 995.9M1458.1 1001.2L1464.3 1004.1M1461.3 994.3L1446.3 986.9M1462.2 992.6L1456.4 989.6M1461.5 994L1465.8 996.1M1461.8 993.4L1456 990.6M1461.8 993.3L1452.2 988.5M1462 992.9L1463.4 993.6M1461.8 993.3L1454.9 989.9M1477.9 965.9L1480.5 967.7M1477.3 966.7L1470.9 962.4M1477.5 966.5L1482.2 969.7M1477.9 965.9L1465.6 957.6M1477.7 966.2L1474.9 964.3M1477.9 965.9L1471.6 961.6M1482.1 959.9L1487.4 963.8M1482.1 959.9L1477.8 956.9M1481.8 960.3L1468.4 950.6M1481.4 960.9L1471.4 953.7M1481.6 960.6L1473.5 954.8M1482 960.1L1473.1 953.6M1482 960L1475.1 955M1486.5 954.1L1478.4 947.8M1486.4 954.2L1479.7 949.1M1486 954.7L1477.8 948.3M1485.9 954.9L1478.8 949.5M1486.1 954.6L1478.7 948.9M1486.4 954.1L1474.7 945M1486.4 954.2L1473.8 944.5M1491.1 948.3L1483.8 942.3M1491.1 948.4L1488.5 946.2M1491.4 947.9L1486.4 943.8M1490.9 948.6L1492.4 949.8M1490.6 948.9L1496.4 953.8M1490.5 949L1476.9 937.9M1491.1 948.3L1483.8 942.2M1495.3 943.4L1498.3 946M1495.8 942.8L1490.2 937.8M1495.8 942.8L1488.2 936.2M1495.7 942.8L1501.1 947.5M1495.3 943.4L1485.3 934.7M1495.6 943L1499.6 946.5M1500.5 937.6L1490.6 928.4M1501.3 936.7L1495.3 931.1M1501 937L1502.9 938.8M1500.4 937.7L1492.2 930.1M1506.5 931.4L1493.9 918.8M1505.4 932.5L1496.5 923.7M1506 931.9L1509.9 935.8M1522.3 917L1515.7 909M1522.1 917.2L1517.2 911.2M1523 916.4L1513.4 904.8M1521.9 917.4L1513.4 907.2M1522.8 916.6L1523.9 917.9M1533.8 908L1537.3 912.9M1540.1 903.6L1530.1 889M1540.8 903.1L1536.9 897.4M1546.9 899.1L1544.7 895.6M1546.8 899.2L1543.8 894.5M1547.1 899L1544.9 895.6M1546.6 899.3L1539.8 888.8M1546.4 899.4L1550.1 905.2M1546 899.7L1541 891.8M1565.6 888.4L1569.2 895.5M1565.3 888.6L1558.9 876.2M1566.5 888L1567.7 890.3M1586.4 879L1581.7 867.1M1586.3 879.1L1580.2 863.7M1586.6 878.9L1585.5 876.1M1586.5 879L1581.8 867M1585.8 879.2L1588.6 886.3M1586.2 879.1L1587.4 882.3M1600.9 873.8L1597.2 862.4M1600.4 874L1601.7 878.2M1600.7 873.9L1597.4 863.6M1600.7 873.9L1595.6 857.9M1599.8 874.2L1596.2 863.4M1600.4 874L1597 863.3M1621.8 868.1L1622.8 872.8M1622.3 868L1618.7 852M1621.2 868.2L1620.1 863.1M1636 865.4L1636.5 868.6M1635.8 865.4L1633.9 853.9M1635.9 865.4L1634.9 859.8" stroke="#4288cf" stroke-width="0.8" fill="none"/>
<path d="M1699.9 784.8A315.3 315.3 0 0 1 1783.7 803.6M1788.2 805.3A315.3 315.3 0 0 1 1835.7 828.6M1839.8 831.1A315.3 315.3 0 0 1 1881.8 862.3M1885.5 865.6A315.3 315.3 0 0 1 1915.6 897M1918.7 900.7A315.3 315.3 0 0 1 1939 928.9M1941.6 933A315.3 315.3 0 0 1 1957.5 962.1M1959.6 966.4A315.3 315.3 0 0 1 1972.3 998.2M1973.8 1002.8A315.3 315.3 0 0 1 1982.4 1035.9M1983.4 1040.7A315.3 315.3 0 0 1 1987.8 1074M1988.2 1078.9A315.3 315.3 0 0 1 1988.7 1105.4M1988.6 1110.2A315.3 315.3 0 0 1 1986.6 1136.1M1986 1140.9A315.3 315.3 0 0 1 1979.5 1175.1M1978.3 1179.8A315.3 315.3 0 0 1 1970.6 1204.6M1968.9 1209.1A315.3 315.3 0 0 1 1959.6 1231.6M1957.5 1235.9A315.3 315.3 0 0 1 1945.8 1257.9M1943.4 1262.1A315.3 315.3 0 0 1 1931.3 1280.6M1928.5 1284.5A315.3 315.3 0 0 1 1914.1 1302.8M1911 1306.4A315.3 315.3 0 0 1 1894.3 1324.1M1890.8 1327.5A315.3 315.3 0 0 1 1874.6 1341.8M1870.9 1344.9A315.3 315.3 0 0 1 1855 1356.8M1851 1359.6A315.3 315.3 0 0 1 1832.8 1371.1M1828.6 1373.5A315.3 315.3 0 0 1 1808.4 1384M1804.1 1386A315.3 315.3 0 0 1 1784.6 1394.1M1780.1 1395.7A315.3 315.3 0 0 1 1762.2 1401.6M1757.5 1402.9A315.3 315.3 0 0 1 1737.1 1407.8M1732.4 1408.8A315.3 315.3 0 0 1 1712.7 1411.9M1707.9 1412.4A315.3 315.3 0 0 1 1687.5 1414M1682.6 1414.2A315.3 315.3 0 0 1 1663.8 1414.2M1659 1414A315.3 315.3 0 0 1 1640.2 1412.5M1635.4 1412A315.3 315.3 0 0 1 1616.8 1409.2M1612 1408.3A315.3 315.3 0 0 1 1594.8 1404.3M1590.1 1403.1A315.3 315.3 0 0 1 1574.7 1398.4M1570.1 1396.9A315.3 315.3 0 0 1 1555.1 1391.2M1550.6 1389.4A315.3 315.3 0 0 1 1537 1383.2M1532.6 1381.1A315.3 315.3 0 0 1 1518.9 1373.8M1514.7 1371.4A315.3 315.3 0 0 1 1502 1363.6M1497.9 1360.9A315.3 315.3 0 0 1 1486.1 1352.6M1482.3 1349.7A315.3 315.3 0 0 1 1471.4 1341M1467.7 1337.9A315.3 315.3 0 0 1 1456.6 1327.9M1453.1 1324.5A315.3 315.3 0 0 1 1449.5 1320.9M1446.1 1317.5A315.3 315.3 0 0 1 1436.5 1307M1433.4 1303.3A315.3 315.3 0 0 1 1424.7 1292.7M1421.7 1288.8A315.3 315.3 0 0 1 1414 1278M1411.3 1274A315.3 315.3 0 0 1 1404.4 1263.2M1401.9 1259.1A315.3 315.3 0 0 1 1395.8 1248.3M1393.5 1244A315.3 315.3 0 0 1 1388.2 1233.3M1386.2 1228.9A315.3 315.3 0 0 1 1381.6 1218.3M1379.8 1213.8A315.3 315.3 0 0 1 1376 1203.4M1374.4 1198.8A315.3 315.3 0 0 1 1371.2 1188.6M1369.8 1183.9A315.3 315.3 0 0 1 1367.2 1173.9M1366.1 1169.2A315.3 315.3 0 0 1 1364.1 1159.5M1363.2 1154.7A315.3 315.3 0 0 1 1361.6 1145.2M1360.9 1140.4A315.3 315.3 0 0 1 1359.9 1131.3M1359.4 1126.5A315.3 315.3 0 0 1 1358.7 1117.6M1358.5 1112.8A315.3 315.3 0 0 1 1358.2 1104.2M1358.2 1099.4A315.3 315.3 0 0 1 1358.3 1091.2M1358.5 1086.4A315.3 315.3 0 0 1 1358.9 1078.4M1359.2 1073.6A315.3 315.3 0 0 1 1359.9 1065.9M1360.5 1061.1A315.3 315.3 0 0 1 1361.5 1053.6M1362.2 1048.8A315.3 315.3 0 0 1 1363.5 1041.5M1364.4 1036.8A315.3 315.3 0 0 1 1365.9 1029.7M1367 1025A315.3 315.3 0 0 1 1368.7 1018.2M1370 1013.6A315.3 315.3 0 0 1 1371.9 1007.1M1373.4 1002.4A315.3 315.3 0 0 1 1375.4 996.2M1377.1 991.6A315.3 315.3 0 0 1 1379.3 985.6M1381.1 981.1A315.3 315.3 0 0 1 1383.5 975.3M1385.4 970.8A315.3 315.3 0 0 1 1388 965.3M1390 960.9A315.3 315.3 0 0 1 1392.7 955.6M1394.9 951.3A315.3 315.3 0 0 1 1397.7 946.3M1400 942.1A315.3 315.3 0 0 1 1402.8 937.3M1405.4 933.1A315.3 315.3 0 0 1 1408.3 928.5M1410.9 924.5A315.3 315.3 0 0 1 1413.8 920.1M1416.6 916.2A315.3 315.3 0 0 1 1419.6 912M1422.5 908.2A315.3 315.3 0 0 1 1425.6 904.1M1428.6 900.4A315.3 315.3 0 0 1 1431.9 896.4M1435 892.8A315.3 315.3 0 0 1 1438.4 888.9M1441.6 885.3A315.3 315.3 0 0 1 1445.1 881.6M1448.5 878.2A315.3 315.3 0 0 1 1452.1 874.6M1455.5 871.2A315.3 315.3 0 0 1 1459.2 867.7M1462.8 864.4A315.3 315.3 0 0 1 1466.6 861.1M1470.3 857.9A315.3 315.3 0 0 1 1474.2 854.7M1478 851.6A315.3 315.3 0 0 1 1482 848.5M1485.9 845.6A315.3 315.3 0 0 1 1490 842.6M1493.9 839.8A315.3 315.3 0 0 1 1498.1 837M1502.2 834.3A315.3 315.3 0 0 1 1506.5 831.6M1510.6 829.1A315.3 315.3 0 0 1 1515 826.5M1519.2 824.1A315.3 315.3 0 0 1 1523.6 821.6M1527.9 819.3A315.3 315.3 0 0 1 1532.4 817M1536.8 814.9A315.3 315.3 0 0 1 1541.4 812.7M1545.8 810.7A315.3 315.3 0 0 1 1550.4 808.7M1554.9 806.9A315.3 315.3 0 0 1 1559.6 805M1564.2 803.3A315.3 315.3 0 0 1 1568.9 801.5M1573.5 800A315.3 315.3 0 0 1 1578.4 798.4M1583 797A315.3 315.3 0 0 1 1587.9 795.6M1592.5 794.3A315.3 315.3 0 0 1 1597.5 793M1602.2 791.9A315.3 315.3 0 0 1 1607.1 790.8M1611.9 789.8A315.3 315.3 0 0 1 1616.9 788.8M1621.6 788A315.3 315.3 0 0 1 1626.6 787.2M1631.4 786.5A315.3 315.3 0 0 1 1636.5 785.9M1641.3 785.3A315.3 315.3 0 0 1 1646.3 784.9M1651.2 784.5A315.3 315.3 0 0 1 1659.7 784" fill="none" stroke="#111" stroke-width="1.3"/>
<path d="M1700.1 782.4L1697.9 784.9L1701.8 785.3ZM1707.7 783.1L1705.5 785.6L1709.3 786ZM1715.3 784.1L1713 786.5L1716.8 787ZM1722.9 785.2L1720.5 787.5L1724.4 788.1ZM1730.4 786.4L1728 788.8L1731.8 789.4ZM1737.9 787.9L1735.5 790.2L1739.3 790.9ZM1745.4 789.5L1742.9 791.7L1746.7 792.6ZM1752.8 791.4L1750.3 793.5L1754 794.5ZM1760.2 793.4L1757.6 795.4L1761.3 796.5ZM1767.6 795.5L1764.9 797.6L1768.6 798.7ZM1774.8 797.9L1772.1 799.8L1775.8 801.1ZM1782.1 800.4L1779.3 802.3L1782.9 803.6ZM1789.1 803.1L1786.3 804.9L1789.9 806.3ZM1796.2 806L1793.4 807.7L1796.9 809.2ZM1803.2 809L1800.4 810.7L1803.9 812.2ZM1810.2 812.2L1807.3 813.8L1810.7 815.5ZM1817 815.6L1814.1 817.1L1817.5 818.9ZM1823.8 819.1L1820.8 820.6L1824.2 822.4ZM1830.5 822.8L1827.5 824.2L1830.9 826.1ZM1841.1 829.1L1838 830.4L1841.3 832.4ZM1847.6 833.2L1844.5 834.4L1847.7 836.5ZM1853.9 837.5L1850.8 838.6L1854 840.8ZM1860.1 841.9L1857 843L1860.1 845.2ZM1866.3 846.5L1863.1 847.5L1866.2 849.8ZM1872.3 851.2L1869.1 852.1L1872.1 854.5ZM1878.2 856.1L1875 856.9L1878 859.4ZM1887.1 863.8L1883.8 864.5L1886.7 867.1ZM1892.7 869L1889.4 869.6L1892.2 872.3ZM1898.1 874.4L1894.9 874.9L1897.6 877.6ZM1903.5 879.8L1900.2 880.3L1902.9 883.1ZM1908.7 885.4L1905.4 885.8L1908 888.7ZM1913.8 891.2L1910.5 891.5L1913 894.4ZM1920.5 899.2L1917.2 899.4L1919.6 902.4ZM1925.3 905.2L1922 905.4L1924.3 908.4ZM1929.9 911.4L1926.6 911.4L1928.8 914.5ZM1934.3 917.6L1931 917.6L1933.2 920.7ZM1938.6 923.9L1935.3 923.8L1937.4 927ZM1943.6 931.8L1940.3 931.6L1942.3 934.8ZM1947.6 938.3L1944.3 938L1946.2 941.4ZM1951.4 945L1948.1 944.6L1949.9 948ZM1955 951.7L1951.7 951.3L1953.5 954.7ZM1958.5 958.5L1955.2 958L1956.9 961.5ZM1961.8 965.4L1958.5 964.8L1960.1 968.3ZM1964.9 972.4L1961.6 971.7L1963.2 975.3ZM1967.9 979.5L1964.6 978.7L1966.1 982.3ZM1970.7 986.6L1967.4 985.8L1968.8 989.4ZM1973.3 993.8L1970.1 992.9L1971.4 996.5ZM1976.1 1002.1L1972.9 1001.1L1974.1 1004.7ZM1978.3 1009.4L1975.2 1008.3L1976.3 1012ZM1980.4 1016.8L1977.3 1015.6L1978.3 1019.3ZM1982.3 1024.2L1979.2 1023L1980.1 1026.7ZM1984 1031.6L1980.9 1030.3L1981.7 1034.1ZM1985.7 1040.2L1982.7 1038.8L1983.4 1042.6ZM1987 1047.8L1984.1 1046.3L1984.7 1050.1ZM1988.2 1055.3L1985.2 1053.8L1985.8 1057.6ZM1989.1 1062.9L1986.2 1061.3L1986.7 1065.1ZM1989.9 1070.5L1987.1 1068.9L1987.4 1072.7ZM1990.6 1078.7L1987.7 1077L1988 1080.8ZM1990.9 1086.4L1988.2 1084.5L1988.3 1088.4ZM1991.2 1094L1988.4 1092.1L1988.5 1096ZM1991.2 1101.7L1988.5 1099.7L1988.5 1103.6ZM1991 1110.3L1988.4 1108.3L1988.2 1112.1ZM1990.6 1118L1988 1115.9L1987.8 1119.7ZM1990.1 1125.6L1987.6 1123.4L1987.2 1127.3ZM1989.4 1133.2L1986.9 1131L1986.5 1134.8ZM1988.4 1141.2L1986 1139L1985.4 1142.8ZM1987.3 1148.8L1984.9 1146.5L1984.3 1150.3ZM1986 1156.4L1983.7 1154L1983 1157.8ZM1984.5 1163.9L1982.3 1161.4L1981.5 1165.2ZM1982.9 1171.3L1980.7 1168.8L1979.8 1172.6ZM1980.6 1180.4L1978.5 1177.8L1977.5 1181.5ZM1978.6 1187.7L1976.5 1185.1L1975.4 1188.8ZM1976.3 1195.1L1974.3 1192.4L1973.2 1196.1ZM1973.9 1202.3L1972 1199.6L1970.7 1203.3ZM1971.2 1209.9L1969.3 1207.2L1968 1210.8ZM1968.4 1217.1L1966.6 1214.3L1965.2 1217.9ZM1965.5 1224.2L1963.8 1221.3L1962.3 1224.9ZM1962.4 1231.2L1960.8 1228.3L1959.1 1231.8ZM1959.7 1237L1958.1 1234.1L1956.4 1237.5ZM1956.3 1243.8L1954.7 1240.9L1953 1244.3ZM1952.7 1250.6L1951.2 1247.6L1949.4 1251ZM1949 1257.3L1947.6 1254.3L1945.7 1257.6ZM1945.4 1263.3L1944.1 1260.2L1942.1 1263.5ZM1941.4 1269.8L1940.1 1266.7L1938.1 1270ZM1937.2 1276.2L1936 1273.1L1933.9 1276.3ZM1930.4 1285.9L1929.3 1282.8L1927.1 1285.9ZM1925.8 1292.1L1924.8 1288.9L1922.5 1291.9ZM1921.1 1298.1L1920.2 1294.9L1917.8 1297.9ZM1916.2 1304L1915.4 1300.8L1912.9 1303.7ZM1912.8 1308L1912 1304.8L1909.5 1307.7ZM1907.7 1313.7L1907 1310.5L1904.4 1313.3ZM1902.4 1319.3L1901.8 1316L1899.1 1318.8ZM1897 1324.7L1896.5 1321.5L1893.8 1324.2ZM1892.4 1329.2L1892 1325.9L1889.2 1328.6ZM1886.8 1334.4L1886.4 1331.1L1883.6 1333.7ZM1881.1 1339.5L1880.8 1336.2L1877.9 1338.7ZM1872.4 1346.7L1872.2 1343.4L1869.2 1345.8ZM1866.4 1351.5L1866.3 1348.1L1863.2 1350.5ZM1860.2 1356L1860.2 1352.7L1857.1 1355ZM1852.3 1361.6L1852.4 1358.3L1849.2 1360.4ZM1846 1365.8L1846.1 1362.5L1842.9 1364.6ZM1839.5 1369.9L1839.7 1366.6L1836.4 1368.6ZM1829.7 1375.6L1830.1 1372.3L1826.7 1374.2ZM1823 1379.3L1823.5 1376L1820.1 1377.8ZM1816.2 1382.8L1816.8 1379.5L1813.3 1381.3ZM1805 1388.2L1805.7 1384.9L1802.2 1386.5ZM1798 1391.3L1798.8 1388L1795.2 1389.5ZM1791 1394.2L1791.8 1391L1788.2 1392.4ZM1780.9 1398L1781.8 1394.8L1778.2 1396.1ZM1773.7 1400.5L1774.6 1397.3L1771 1398.5ZM1766.4 1402.8L1767.4 1399.7L1763.8 1400.8ZM1758.2 1405.2L1759.3 1402.1L1755.6 1403.1ZM1750.8 1407.2L1752 1404.1L1748.3 1405ZM1743.3 1408.9L1744.6 1405.9L1740.9 1406.7ZM1732.8 1411.1L1734.2 1408.1L1730.4 1408.8ZM1725.3 1412.5L1726.7 1409.5L1722.9 1410.1ZM1717.7 1413.6L1719.2 1410.7L1715.4 1411.2ZM1708.1 1414.8L1709.8 1411.9L1705.9 1412.3ZM1700.5 1415.5L1702.2 1412.7L1698.4 1413ZM1692.9 1416.1L1694.7 1413.3L1690.8 1413.5ZM1682.7 1416.6L1684.5 1413.8L1680.7 1413.9ZM1675.1 1416.7L1677 1414L1673.1 1414ZM1667.4 1416.6L1669.4 1414L1665.5 1413.9ZM1658.9 1416.4L1660.9 1413.7L1657.1 1413.6ZM1651.2 1415.9L1653.3 1413.4L1649.5 1413.1ZM1643.6 1415.3L1645.8 1412.8L1641.9 1412.4ZM1635.1 1414.4L1637.3 1411.9L1633.5 1411.5ZM1627.5 1413.4L1629.8 1411L1626 1410.4ZM1620 1412.2L1622.3 1409.8L1618.5 1409.2ZM1611.6 1410.6L1614 1408.3L1610.2 1407.6ZM1604.1 1409L1606.6 1406.8L1602.8 1406ZM1596.6 1407.3L1599.2 1405.1L1595.4 1404.2ZM1589.5 1405.4L1592 1403.3L1588.3 1402.3ZM1582.1 1403.3L1584.7 1401.2L1581 1400.1ZM1574.8 1401L1577.5 1399L1573.8 1397.8ZM1569.3 1399.1L1572 1397.2L1568.4 1396ZM1562.1 1396.5L1564.9 1394.7L1561.3 1393.3ZM1555 1393.8L1557.8 1392L1554.2 1390.5ZM1549.7 1391.6L1552.5 1389.8L1549 1388.3ZM1542.7 1388.5L1545.5 1386.8L1542 1385.2ZM1531.5 1383.2L1534.5 1381.7L1531 1379.9ZM1524.7 1379.7L1527.7 1378.2L1524.3 1376.4ZM1518 1376.1L1521 1374.6L1517.7 1372.8ZM1513.5 1373.5L1516.5 1372.1L1513.2 1370.2ZM1506.9 1369.5L1510 1368.2L1506.7 1366.2ZM1496.6 1362.9L1499.7 1361.7L1496.5 1359.6ZM1490.3 1358.5L1493.4 1357.4L1490.3 1355.2ZM1480.8 1351.6L1484 1350.6L1480.9 1348.3ZM1474.8 1346.9L1478 1346L1475 1343.6ZM1466.2 1339.7L1469.4 1338.9L1466.5 1336.4ZM1460.4 1334.7L1463.7 1333.9L1460.8 1331.4ZM1451.5 1326.2L1454.7 1325.6L1452 1322.9ZM1444.4 1319.1L1447.7 1318.6L1445 1315.9ZM1439.2 1313.5L1442.5 1313.1L1439.9 1310.3ZM1431.5 1304.9L1434.8 1304.6L1432.3 1301.7ZM1426.6 1299L1430 1298.8L1427.5 1295.8ZM1419.8 1290.3L1423.1 1290.2L1420.8 1287.1ZM1415.3 1284.1L1418.6 1284.1L1416.4 1281ZM1409.3 1275.4L1412.6 1275.5L1410.4 1272.3ZM1405.1 1269L1408.4 1269.1L1406.3 1265.9ZM1399.8 1260.3L1403.1 1260.6L1401.1 1257.3ZM1396 1253.7L1399.3 1254L1397.4 1250.7ZM1391.4 1245.1L1394.7 1245.6L1392.9 1242.2ZM1388 1238.3L1391.2 1238.8L1389.5 1235.4ZM1384 1229.9L1387.3 1230.5L1385.7 1227ZM1380.9 1222.9L1384.2 1223.6L1382.7 1220ZM1377.6 1214.7L1380.8 1215.5L1379.4 1211.9ZM1374.9 1207.5L1378.1 1208.4L1376.8 1204.8ZM1372.1 1199.6L1375.3 1200.5L1374.1 1196.9ZM1369.8 1192.3L1372.9 1193.3L1371.8 1189.6ZM1367.5 1184.6L1370.7 1185.7L1369.6 1182ZM1365.6 1177.2L1368.7 1178.4L1367.7 1174.6ZM1363.8 1169.7L1366.8 1171L1366 1167.3ZM1362.2 1162.3L1365.2 1163.6L1364.4 1159.8ZM1360.8 1155.1L1363.8 1156.5L1363.1 1152.8ZM1359.5 1147.6L1362.5 1149.1L1361.9 1145.3ZM1358.6 1140.8L1361.5 1142.3L1361 1138.5ZM1357.6 1133.2L1360.5 1134.8L1360.1 1131ZM1357 1126.7L1359.9 1128.3L1359.5 1124.5ZM1356.4 1119L1359.3 1120.8L1359 1116.9ZM1356.1 1112.9L1358.9 1114.7L1358.7 1110.8ZM1355.9 1105.2L1358.6 1107.1L1358.5 1103.3ZM1355.8 1099.4L1358.5 1101.3L1358.5 1097.5ZM1355.9 1091.8L1358.5 1093.7L1358.6 1089.9ZM1356.1 1086.3L1358.7 1088.3L1358.8 1084.5ZM1356.5 1078.6L1359 1080.7L1359.3 1076.9ZM1356.8 1073.4L1359.4 1075.5L1359.7 1071.7ZM1357.5 1065.8L1360 1068L1360.4 1064.1ZM1358.1 1060.8L1360.6 1063L1361 1059.2ZM1359.9 1048.4L1362.2 1050.7L1362.8 1046.9ZM1362.1 1036.3L1364.3 1038.7L1365.1 1034.9ZM1364.7 1024.5L1366.8 1027L1367.8 1023.2ZM1367.7 1012.9L1369.8 1015.5L1370.8 1011.8ZM1371.1 1001.7L1373.1 1004.4L1374.2 1000.7ZM1374.8 990.8L1376.7 993.5L1378 989.9ZM1378.9 980.2L1380.7 983L1382.1 979.4ZM1383.2 969.9L1384.9 972.7L1386.5 969.2ZM1387.9 959.9L1389.5 962.8L1391.2 959.3ZM1392.8 950.2L1394.3 953.2L1396.1 949.8ZM1397.9 940.9L1399.3 943.9L1401.3 940.6ZM1403.3 931.9L1404.6 934.9L1406.6 931.6ZM1408.9 923.2L1410.1 926.3L1412.2 923.1ZM1414.7 914.8L1415.8 917.9L1418 914.8ZM1420.6 906.7L1421.6 909.9L1423.9 906.8ZM1426.8 898.8L1427.7 902L1430.1 899.1ZM1433.2 891.2L1434 894.4L1436.5 891.5ZM1439.9 883.7L1440.5 887L1443.2 884.1ZM1446.7 876.5L1447.3 879.7L1450 877ZM1453.9 869.4L1454.3 872.7L1457.1 870.1ZM1461.2 862.7L1461.6 865.9L1464.4 863.4ZM1468.7 856.1L1469 859.4L1472 856.9ZM1476.5 849.8L1476.7 853.1L1479.7 850.7ZM1484.4 843.7L1484.5 847L1487.6 844.7ZM1492.6 837.9L1492.5 841.2L1495.7 839ZM1500.9 832.3L1500.7 835.6L1503.9 833.5ZM1509.3 827L1509.1 830.3L1512.4 828.3ZM1518 822L1517.6 825.3L1521 823.4ZM1526.8 817.2L1526.3 820.5L1529.7 818.7ZM1535.7 812.7L1535.2 816L1538.6 814.3ZM1544.8 808.5L1544.1 811.8L1547.7 810.2ZM1554 804.6L1553.2 807.9L1556.8 806.4ZM1563.3 801L1562.5 804.2L1566.1 802.9ZM1572.8 797.7L1571.8 800.9L1575.4 799.7ZM1582.3 794.7L1581.2 797.8L1584.9 796.7ZM1591.9 792L1590.7 795.1L1594.5 794.1ZM1601.6 789.5L1600.4 792.6L1604.1 791.7ZM1611.4 787.4L1610 790.5L1613.8 789.7ZM1621.2 785.6L1619.8 788.6L1623.6 788ZM1631.1 784.1L1629.6 787.1L1633.4 786.6ZM1641 783L1639.4 785.9L1643.2 785.5ZM1651 782.1L1649.3 784.9L1653.1 784.7ZM1658.6 781.6L1656.8 784.4L1660.7 784.3Z" fill="#111"/>
<line x1="1737.4" y1="790.3" x2="1738.4" y2="785.8" stroke="#111" stroke-width="1.3"/>
<text x="1739" y="782.7" font-size="8.4" text-anchor="middle" dominant-baseline="central" transform="rotate(11.7 1739 782.7)">100KB</text>
<line x1="1774.1" y1="800.2" x2="1775.5" y2="795.9" stroke="#111" stroke-width="1.3"/>
<text x="1776.5" y="792.9" font-size="8.4" text-anchor="middle" dominant-baseline="central" transform="rotate(18.6 1776.5 792.9)">200KB</text>
<line x1="1822.7" y1="821.2" x2="1824.8" y2="817.3" stroke="#111" stroke-width="1.3"/>
<text x="1826.3" y="814.4" font-size="8.4" text-anchor="middle" dominant-baseline="central" transform="rotate(28.2 1826.3 814.4)">100KB</text>
<line x1="1870.8" y1="853.1" x2="1873.6" y2="849.6" stroke="#111" stroke-width="1.3"/>
<text x="1875.6" y="847.1" font-size="8.4" text-anchor="middle" dominant-baseline="central" transform="rotate(38.7 1875.6 847.1)">100KB</text>
<line x1="1912" y1="892.7" x2="1915.4" y2="889.8" stroke="#111" stroke-width="1.3"/>
<text x="1917.8" y="887.7" font-size="8.4" text-anchor="middle" dominant-baseline="central" transform="rotate(49.1 1917.8 887.7)">100KB</text>
<text x="1673.1" y="315.8" font-size="26.6" text-anchor="middle" font-style="italic">R. intestinale</text>
<text x="1673.1" y="347.9" font-size="26.6" text-anchor="middle">(CLA-AA-H216)</text>
<text x="1673.1" y="379.9" font-size="26.6" text-anchor="middle">2,167 proteins</text>
<text x="1673.1" y="411.6" font-size="26.6" text-anchor="middle">CD: 1,902</text>
<text x="1673.1" y="443.3" font-size="26.6" text-anchor="middle">UC: 1,715</text>
<text x="1676.2" y="1037.0" font-size="26.6" text-anchor="middle" font-style="italic">B. intestinihominis</text>
<text x="1676.2" y="1068.7" font-size="26.6" text-anchor="middle">(CLA-AA-H95)</text>
<text x="1676.2" y="1100.4" font-size="26.6" text-anchor="middle">3,906 proteins</text>
<text x="1676.2" y="1132.5" font-size="26.6" text-anchor="middle">CD: 523</text>
<text x="1676.2" y="1163.9" font-size="26.6" text-anchor="middle">UC: 1,466</text>
<path d="M1650 74.3H1690M1650 108.5H1690M1655 111.6H1688M1655 144.5H1686" stroke="#e3e3e3" stroke-width="0.8"/>
<line x1="1699.5" y1="74.3" x2="1696.2" y2="108.3" stroke="#000" stroke-width="2.2"/>
<line x1="1696.5" y1="74.3" x2="1700" y2="74.3" stroke="#000" stroke-width="2"/>
<line x1="1693.2" y1="108.3" x2="1696.7" y2="108.3" stroke="#000" stroke-width="2"/>
<text x="1696" y="76.3" font-size="5.6" text-anchor="end">20.99</text>
<text x="1692.7" y="110.3" font-size="5.6" text-anchor="end">−22.81</text>
<line x1="1695.8" y1="111.6" x2="1692.5" y2="144.5" stroke="#000" stroke-width="2.2"/>
<line x1="1692.8" y1="111.6" x2="1696.3" y2="111.6" stroke="#000" stroke-width="2"/>
<line x1="1689.5" y1="144.5" x2="1693" y2="144.5" stroke="#000" stroke-width="2"/>
<text x="1692.3" y="113.6" font-size="5.6" text-anchor="end">34.4</text>
<text x="1689" y="146.5" font-size="5.6" text-anchor="end">−6.13</text>
<path d="M1660 793.6H1692M1660 827.6H1690M1665 838H1689M1665 871.5H1687" stroke="#e3e3e3" stroke-width="0.8"/>
<line x1="1699.8" y1="794.2" x2="1696.5" y2="828.2" stroke="#000" stroke-width="2.2"/>
<line x1="1696.8" y1="794.2" x2="1700.3" y2="794.2" stroke="#000" stroke-width="2"/>
<line x1="1693.5" y1="828.2" x2="1697" y2="828.2" stroke="#000" stroke-width="2"/>
<text x="1696.3" y="796.2" font-size="5.6" text-anchor="end">11.57</text>
<text x="1693" y="830.2" font-size="5.6" text-anchor="end">−20.24</text>
<line x1="1695.8" y1="838" x2="1692.8" y2="871.5" stroke="#000" stroke-width="2.2"/>
<line x1="1692.8" y1="838" x2="1696.3" y2="838" stroke="#000" stroke-width="2"/>
<line x1="1689.8" y1="871.5" x2="1693.3" y2="871.5" stroke="#000" stroke-width="2"/>
<text x="1692.3" y="840" font-size="5.6" text-anchor="end">26.32</text>
<text x="1689.3" y="873.5" font-size="5.6" text-anchor="end">−10.08</text>
</svg></body></html>
